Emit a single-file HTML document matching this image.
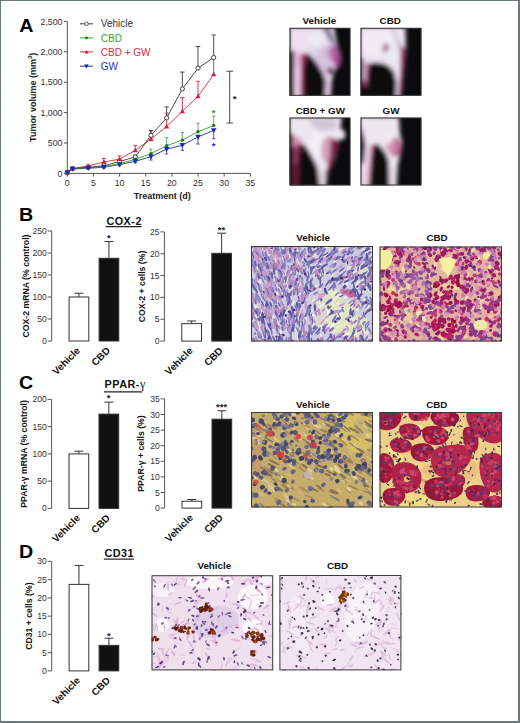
<!DOCTYPE html>
<html><head><meta charset="utf-8"><style>
html,body{margin:0;padding:0;background:#fff;}
body{width:520px;height:723px;overflow:hidden;}
svg{display:block;}
</style></head><body>
<svg width="520" height="723" viewBox="0 0 520 723" font-family="Liberation Sans, sans-serif">
<rect x="0" y="0" width="520" height="723" fill="#fff"/>
<text transform="translate(19.2,31.6) scale(1.08,1)" font-size="18.2" font-weight="bold" fill="#000">A</text>
<text transform="translate(19.0,220.9) scale(1.08,1)" font-size="18.2" font-weight="bold" fill="#000">B</text>
<text transform="translate(18.9,388.7) scale(1.08,1)" font-size="18.2" font-weight="bold" fill="#000">C</text>
<text transform="translate(19.0,557.9) scale(1.08,1)" font-size="18.2" font-weight="bold" fill="#000">D</text>
<path d="M67.3 21.5 V173.4 H250.3" fill="none" stroke="#555" stroke-width="1"/>
<path d="M63.8 173.40 H67.3" stroke="#555" stroke-width="1"/>
<text x="62.50" y="176.50" font-size="8.8" text-anchor="end" fill="#333" >0</text>
<path d="M63.8 143.00 H67.3" stroke="#555" stroke-width="1"/>
<text x="62.50" y="146.10" font-size="8.8" text-anchor="end" fill="#333" >500</text>
<path d="M63.8 112.60 H67.3" stroke="#555" stroke-width="1"/>
<text x="62.50" y="115.70" font-size="8.8" text-anchor="end" fill="#333" >1,000</text>
<path d="M63.8 82.20 H67.3" stroke="#555" stroke-width="1"/>
<text x="62.50" y="85.30" font-size="8.8" text-anchor="end" fill="#333" >1,500</text>
<path d="M63.8 51.80 H67.3" stroke="#555" stroke-width="1"/>
<text x="62.50" y="54.90" font-size="8.8" text-anchor="end" fill="#333" >2,000</text>
<path d="M63.8 21.40 H67.3" stroke="#555" stroke-width="1"/>
<text x="62.50" y="24.50" font-size="8.8" text-anchor="end" fill="#333" >2,500</text>
<path d="M67.30 173.4 V176.6" stroke="#555" stroke-width="1"/>
<text x="67.30" y="185.60" font-size="8.8" text-anchor="middle" fill="#333" >0</text>
<path d="M93.44 173.4 V176.6" stroke="#555" stroke-width="1"/>
<text x="93.44" y="185.60" font-size="8.8" text-anchor="middle" fill="#333" >5</text>
<path d="M119.59 173.4 V176.6" stroke="#555" stroke-width="1"/>
<text x="119.59" y="185.60" font-size="8.8" text-anchor="middle" fill="#333" >10</text>
<path d="M145.74 173.4 V176.6" stroke="#555" stroke-width="1"/>
<text x="145.74" y="185.60" font-size="8.8" text-anchor="middle" fill="#333" >15</text>
<path d="M171.88 173.4 V176.6" stroke="#555" stroke-width="1"/>
<text x="171.88" y="185.60" font-size="8.8" text-anchor="middle" fill="#333" >20</text>
<path d="M198.02 173.4 V176.6" stroke="#555" stroke-width="1"/>
<text x="198.02" y="185.60" font-size="8.8" text-anchor="middle" fill="#333" >25</text>
<path d="M224.17 173.4 V176.6" stroke="#555" stroke-width="1"/>
<text x="224.17" y="185.60" font-size="8.8" text-anchor="middle" fill="#333" >30</text>
<path d="M250.31 173.4 V176.6" stroke="#555" stroke-width="1"/>
<text x="250.31" y="185.60" font-size="8.8" text-anchor="middle" fill="#333" >35</text>
<text x="162.20" y="199.30" font-size="9" font-weight="bold" text-anchor="middle" fill="#222" >Treatment (d)</text>
<text transform="translate(35.6,97.3) rotate(-90)" font-size="9" font-weight="bold" text-anchor="middle" fill="#222">Tumor volume (mm<tspan font-size="6" dy="-3.5">3</tspan><tspan dy="3.5">)</tspan></text>
<path d="M88.22 168.23 V169.14 M86.52 169.14 H89.92" stroke="#2030a8" stroke-width="0.8" fill="none"/>
<path d="M103.90 167.32 V168.23 M102.20 168.23 H105.60" stroke="#2030a8" stroke-width="0.8" fill="none"/>
<path d="M119.59 164.58 V165.80 M117.89 165.80 H121.29" stroke="#2030a8" stroke-width="0.8" fill="none"/>
<path d="M135.28 161.24 V162.76 M133.58 162.76 H136.98" stroke="#2030a8" stroke-width="0.8" fill="none"/>
<path d="M150.96 156.68 V160.08 M149.26 160.08 H152.66" stroke="#2030a8" stroke-width="0.8" fill="none"/>
<path d="M166.65 149.08 V154.00 M164.95 154.00 H168.35" stroke="#2030a8" stroke-width="0.8" fill="none"/>
<path d="M182.34 145.25 V150.36 M180.64 150.36 H184.04" stroke="#2030a8" stroke-width="0.8" fill="none"/>
<path d="M198.02 136.92 V144.03 M196.32 144.03 H199.72" stroke="#2030a8" stroke-width="0.8" fill="none"/>
<path d="M213.71 130.35 V138.74 M212.01 138.74 H215.41" stroke="#2030a8" stroke-width="0.8" fill="none"/>
<polyline points="67.30,172.49 72.53,169.02 88.22,168.23 103.90,167.32 119.59,164.58 135.28,161.24 150.96,156.68 166.65,149.08 182.34,145.25 198.02,136.92 213.71,130.35" fill="none" stroke="#2030a8" stroke-width="0.9"/>
<path d="M88.22 167.62 V166.71 M86.52 166.71 H89.92" stroke="#3a9a3a" stroke-width="0.8" fill="none"/>
<path d="M103.90 166.71 V165.50 M102.20 165.50 H105.60" stroke="#3a9a3a" stroke-width="0.8" fill="none"/>
<path d="M119.59 163.67 V162.15 M117.89 162.15 H121.29" stroke="#3a9a3a" stroke-width="0.8" fill="none"/>
<path d="M135.28 159.29 V157.29 M133.58 157.29 H136.98" stroke="#3a9a3a" stroke-width="0.8" fill="none"/>
<path d="M150.96 153.58 V149.20 M149.26 149.20 H152.66" stroke="#3a9a3a" stroke-width="0.8" fill="none"/>
<path d="M166.65 145.68 V137.71 M164.95 137.71 H168.35" stroke="#3a9a3a" stroke-width="0.8" fill="none"/>
<path d="M182.34 140.14 V132.66 M180.64 132.66 H184.04" stroke="#3a9a3a" stroke-width="0.8" fill="none"/>
<path d="M198.02 131.75 V123.24 M196.32 123.24 H199.72" stroke="#3a9a3a" stroke-width="0.8" fill="none"/>
<path d="M213.71 125.55 V116.19 M212.01 116.19 H215.41" stroke="#3a9a3a" stroke-width="0.8" fill="none"/>
<polyline points="67.30,172.49 72.53,168.84 88.22,167.62 103.90,166.71 119.59,163.67 135.28,159.29 150.96,153.58 166.65,145.68 182.34,140.14 198.02,131.75 213.71,125.55" fill="none" stroke="#3a9a3a" stroke-width="0.9"/>
<path d="M88.22 165.98 V164.89 M86.22 164.89 H90.22" stroke="#d8283c" stroke-width="0.9" fill="none"/>
<path d="M103.90 161.97 V158.50 M101.90 158.50 H105.90" stroke="#d8283c" stroke-width="0.9" fill="none"/>
<path d="M119.59 159.11 V155.89 M117.59 155.89 H121.59" stroke="#d8283c" stroke-width="0.9" fill="none"/>
<path d="M135.28 150.30 V145.43 M133.28 145.43 H137.28" stroke="#d8283c" stroke-width="0.9" fill="none"/>
<path d="M150.96 139.05 V130.84 M148.96 130.84 H152.96" stroke="#d8283c" stroke-width="0.9" fill="none"/>
<path d="M166.65 126.58 V113.21 M164.65 113.21 H168.65" stroke="#d8283c" stroke-width="0.9" fill="none"/>
<path d="M182.34 111.26 V97.58 M180.34 97.58 H184.34" stroke="#d8283c" stroke-width="0.9" fill="none"/>
<path d="M198.02 96.37 V81.29 M196.02 81.29 H200.02" stroke="#d8283c" stroke-width="0.9" fill="none"/>
<path d="M213.71 74.36 V57.52 M211.71 57.52 H215.71" stroke="#d8283c" stroke-width="0.9" fill="none"/>
<polyline points="67.30,172.49 72.53,168.54 88.22,165.98 103.90,161.97 119.59,159.11 135.28,150.30 150.96,139.05 166.65,126.58 182.34,111.26 198.02,96.37 213.71,74.36" fill="none" stroke="#d8283c" stroke-width="0.9"/>
<path d="M72.53 168.54 V167.62 M70.33 167.62 H74.73" stroke="#3a3a3a" stroke-width="0.9" fill="none"/>
<path d="M88.22 167.32 V166.41 M86.02 166.41 H90.42" stroke="#3a3a3a" stroke-width="0.9" fill="none"/>
<path d="M103.90 165.80 V164.58 M101.70 164.58 H106.10" stroke="#3a3a3a" stroke-width="0.9" fill="none"/>
<path d="M119.59 161.54 V160.33 M117.39 160.33 H121.79" stroke="#3a3a3a" stroke-width="0.9" fill="none"/>
<path d="M135.28 156.98 V155.16 M133.08 155.16 H137.48" stroke="#3a3a3a" stroke-width="0.9" fill="none"/>
<path d="M150.96 135.40 V130.48 M148.76 130.48 H153.16" stroke="#3a3a3a" stroke-width="0.9" fill="none"/>
<path d="M166.65 117.89 V106.95 M164.45 106.95 H168.85" stroke="#3a3a3a" stroke-width="0.9" fill="none"/>
<path d="M182.34 88.89 V72.05 M180.14 72.05 H184.54" stroke="#3a3a3a" stroke-width="0.9" fill="none"/>
<path d="M198.02 68.16 V46.51 M195.82 46.51 H200.22" stroke="#3a3a3a" stroke-width="0.9" fill="none"/>
<path d="M213.71 57.52 V34.96 M211.51 34.96 H215.91" stroke="#3a3a3a" stroke-width="0.9" fill="none"/>
<polyline points="67.30,172.49 72.53,168.54 88.22,167.32 103.90,165.80 119.59,161.54 135.28,156.98 150.96,135.40 166.65,117.89 182.34,88.89 198.02,68.16 213.71,57.52" fill="none" stroke="#3a3a3a" stroke-width="0.9"/>
<circle cx="67.30" cy="172.49" r="2.1" fill="#fff" stroke="#333" stroke-width="0.9"/>
<circle cx="72.53" cy="168.54" r="2.1" fill="#fff" stroke="#333" stroke-width="0.9"/>
<circle cx="88.22" cy="167.32" r="2.1" fill="#fff" stroke="#333" stroke-width="0.9"/>
<circle cx="103.90" cy="165.80" r="2.1" fill="#fff" stroke="#333" stroke-width="0.9"/>
<circle cx="119.59" cy="161.54" r="2.1" fill="#fff" stroke="#333" stroke-width="0.9"/>
<circle cx="135.28" cy="156.98" r="2.1" fill="#fff" stroke="#333" stroke-width="0.9"/>
<circle cx="150.96" cy="135.40" r="2.1" fill="#fff" stroke="#333" stroke-width="0.9"/>
<circle cx="166.65" cy="117.89" r="2.1" fill="#fff" stroke="#333" stroke-width="0.9"/>
<circle cx="182.34" cy="88.89" r="2.1" fill="#fff" stroke="#333" stroke-width="0.9"/>
<circle cx="198.02" cy="68.16" r="2.1" fill="#fff" stroke="#333" stroke-width="0.9"/>
<circle cx="213.71" cy="57.52" r="2.1" fill="#fff" stroke="#333" stroke-width="0.9"/>
<path d="M64.70 174.49 H69.90 L67.30 169.89 Z" fill="#d0203a"/>
<path d="M69.93 170.54 H75.13 L72.53 165.94 Z" fill="#d0203a"/>
<path d="M85.62 167.98 H90.82 L88.22 163.38 Z" fill="#d0203a"/>
<path d="M101.30 163.97 H106.50 L103.90 159.37 Z" fill="#d0203a"/>
<path d="M116.99 161.11 H122.19 L119.59 156.51 Z" fill="#d0203a"/>
<path d="M132.68 152.30 H137.88 L135.28 147.70 Z" fill="#d0203a"/>
<path d="M148.36 141.05 H153.56 L150.96 136.45 Z" fill="#d0203a"/>
<path d="M164.05 128.58 H169.25 L166.65 123.98 Z" fill="#d0203a"/>
<path d="M179.74 113.26 H184.94 L182.34 108.66 Z" fill="#d0203a"/>
<path d="M195.42 98.37 H200.62 L198.02 93.77 Z" fill="#d0203a"/>
<path d="M211.11 76.36 H216.31 L213.71 71.76 Z" fill="#d0203a"/>
<circle cx="67.30" cy="172.49" r="1.7" fill="#1a7a1a"/>
<circle cx="72.53" cy="168.84" r="1.7" fill="#1a7a1a"/>
<circle cx="88.22" cy="167.62" r="1.7" fill="#1a7a1a"/>
<circle cx="103.90" cy="166.71" r="1.7" fill="#1a7a1a"/>
<circle cx="119.59" cy="163.67" r="1.7" fill="#1a7a1a"/>
<circle cx="135.28" cy="159.29" r="1.7" fill="#1a7a1a"/>
<circle cx="150.96" cy="153.58" r="1.7" fill="#1a7a1a"/>
<circle cx="166.65" cy="145.68" r="1.7" fill="#1a7a1a"/>
<circle cx="182.34" cy="140.14" r="1.7" fill="#1a7a1a"/>
<circle cx="198.02" cy="131.75" r="1.7" fill="#1a7a1a"/>
<circle cx="213.71" cy="125.55" r="1.7" fill="#1a7a1a"/>
<path d="M64.50 170.29 H70.10 L67.30 175.29 Z" fill="#1828c8"/>
<path d="M69.73 166.82 H75.33 L72.53 171.82 Z" fill="#1828c8"/>
<path d="M85.42 166.03 H91.02 L88.22 171.03 Z" fill="#1828c8"/>
<path d="M101.10 165.12 H106.70 L103.90 170.12 Z" fill="#1828c8"/>
<path d="M116.79 162.38 H122.39 L119.59 167.38 Z" fill="#1828c8"/>
<path d="M132.48 159.04 H138.08 L135.28 164.04 Z" fill="#1828c8"/>
<path d="M148.16 154.48 H153.76 L150.96 159.48 Z" fill="#1828c8"/>
<path d="M163.85 146.88 H169.45 L166.65 151.88 Z" fill="#1828c8"/>
<path d="M179.54 143.05 H185.14 L182.34 148.05 Z" fill="#1828c8"/>
<path d="M195.22 134.72 H200.82 L198.02 139.72 Z" fill="#1828c8"/>
<path d="M210.91 128.15 H216.51 L213.71 133.15 Z" fill="#1828c8"/>
<text x="213.71" y="116.09" font-size="9.5" font-weight="bold" text-anchor="middle" fill="#3a9a3a" >*</text>
<text x="213.71" y="149.16" font-size="9.5" font-weight="bold" text-anchor="middle" fill="#2030b8" >*</text>
<path d="M226.5 71.2 H233 M229.7 71.2 V123 M226.5 123 H233" stroke="#444" stroke-width="1" fill="none"/>
<text x="234.60" y="102.40" font-size="9.5" font-weight="bold" text-anchor="middle" fill="#222" >*</text>
<path d="M80 23.8 H93" stroke="#3a3a3a" stroke-width="1"/>
<circle cx="86.5" cy="23.8" r="1.8" fill="#fff" stroke="#333" stroke-width="0.8"/>
<text x="100.80" y="27.40" font-size="10" text-anchor="start" fill="#333" >Vehicle</text>
<path d="M80 37.9 H93" stroke="#3a9a3a" stroke-width="1"/>
<circle cx="86.5" cy="37.9" r="1.3" fill="#1a6a1a"/>
<text x="100.80" y="41.50" font-size="10" text-anchor="start" fill="#3a9a3a" >CBD</text>
<path d="M80 51.9 H93" stroke="#d8283c" stroke-width="1"/>
<path d="M84.5 53.4 H88.5 L86.5 49.9 Z" fill="#c0203a"/>
<text x="100.80" y="55.50" font-size="10" text-anchor="start" fill="#d0304a" >CBD + GW</text>
<path d="M80 66.2 H93" stroke="#2030a8" stroke-width="1"/>
<path d="M84.3 64.5 H88.7 L86.5 68.4 Z" fill="#1020b0"/>
<text x="100.80" y="69.80" font-size="10" text-anchor="start" fill="#2838a8" >GW</text>
<filter id="pblur" x="-10%" y="-10%" width="120%" height="120%"><feGaussianBlur stdDeviation="1.9"/></filter>
<clipPath id="clip_veh"><rect x="0" y="0" width="61" height="68"/></clipPath>
<g transform="translate(289.5,27.8)" clip-path="url(#clip_veh)">
<rect x="0" y="0" width="61" height="68" fill="#0b0b0d"/>
<g filter="url(#pblur)">
<g transform="translate(-0.5,-0.8)">
<path d="M0,0 L44.7,0 L47.7,15.5 L51.3,27.4 L50,35.8 L45.3,45.3 L42.9,53.7 L41.7,72 L0,72 Z" fill="#e2d6ec"/>
<path d="M0,0 L22,0 L20,26 L0,24 Z" fill="#eee0ee"/>
<ellipse cx="28" cy="12" rx="8" ry="9" fill="#f0ecf6" opacity="0.8"/>
<path d="M33.5,0 L39.5,0 L47,15 L43,17 Z" fill="#6a5a80"/>
<path d="M40,0 L44.7,0 L47.7,15.5 L46,14 Z" fill="#eae6f2"/>
<ellipse cx="36" cy="33" rx="10" ry="13" fill="#d0b4dc" opacity="0.6"/>
<ellipse cx="47.5" cy="29" rx="5" ry="12" fill="#9a3080" opacity="0.85" transform="rotate(-10 47.5 29)"/>
<ellipse cx="43" cy="26" rx="6" ry="8" fill="#b070a8" opacity="0.5"/>
<ellipse cx="41.5" cy="44" rx="3.5" ry="4" fill="#5a1a4a" opacity="0.85"/>
<path d="M4.5,24 L14,26 L13,72 L4.5,72 Z" fill="#e4b8d8"/>
<path d="M6.5,40 L10.5,40 L10.5,72 L6.5,72 Z" fill="#f0d8ec" opacity="0.7"/>
<path d="M-3,22 L5,24 L5,72 L-3,72 Z" fill="#0b0b0d"/>
<path d="M12,27 L19,26.2 L15.5,39 L14.5,72 L11.5,72 Z" fill="#8a2448"/>
<path d="M19,26.2 L23.8,31 L29.8,39.3 L34.6,47.7 L37,54.8 L35.8,72 L14.5,72 L15.3,39.3 Z" fill="#0b0b0d"/>
<path d="M36.5,52 L42.5,52 L41.7,72 L36,72 Z" fill="#dcc4dc"/>
</g>
</g>
</g>
<rect x="290.0" y="28.3" width="60" height="67" fill="none" stroke="#3a3a3a" stroke-width="1"/>
<text x="319.40" y="24.00" font-size="9.8" font-weight="bold" text-anchor="middle" fill="#111" >Vehicle</text>
<clipPath id="clip_cbd"><rect x="0" y="0" width="61" height="68"/></clipPath>
<g transform="translate(360.5,27.8)" clip-path="url(#clip_cbd)">
<rect x="0" y="0" width="61" height="68" fill="#0b0b0d"/>
<g filter="url(#pblur)">
<g transform="translate(-1,-0.8)">
<path d="M0,0 L45.9,0 L46.5,23.8 L45.3,35.8 L44.1,47.7 L41.7,72 L0,72 Z" fill="#ece4f0"/>
<ellipse cx="18" cy="14" rx="16" ry="14" fill="#f4ecf4" opacity="0.8"/>
<path d="M41,18 L46.5,22 L45.3,35.8 L44.1,47.7 L41.7,72 L39,72 L41,40 Z" fill="#8c2c4c"/>
<path d="M33.4,1 L41.7,21.5 L40.5,22 L32.5,1 Z" fill="#8a8090"/>
<ellipse cx="26.5" cy="21.5" rx="3.5" ry="5" fill="#a06090" opacity="0.9"/>
<ellipse cx="32" cy="28" rx="6" ry="7" fill="#e6ecf6"/>
<path d="M3,31 L9.5,36 L7.2,72 L3,72 Z" fill="#e8c4dc"/>
<path d="M6,36 L9.5,36 L8.5,56 L6,56 Z" fill="#a05078" opacity="0.8"/>
<path d="M3,53 L8.5,53 L7.2,60 L3,60 Z" fill="#904068"/>
<path d="M-3,30 L3.5,31 L3.5,72 L-3,72 Z" fill="#0b0b0d"/>
<path d="M-3,60 L10,59 L10,72 L-3,72 Z" fill="#0b0b0d"/>
<path d="M9.5,37 L15.5,35.2 L23.8,36.4 L29.8,39.3 L34.6,45.3 L37,54.8 L36.4,72 L7.2,72 L8.3,47.7 Z" fill="#0b0b0d"/>
</g>
</g>
</g>
<rect x="361.0" y="28.3" width="60" height="67" fill="none" stroke="#3a3a3a" stroke-width="1"/>
<text x="390.20" y="23.90" font-size="9.8" font-weight="bold" text-anchor="middle" fill="#111" >CBD</text>
<clipPath id="clip_cbdgw"><rect x="0" y="0" width="61" height="68"/></clipPath>
<g transform="translate(289.5,117.5)" clip-path="url(#clip_cbdgw)">
<rect x="0" y="0" width="61" height="68" fill="#0b0b0d"/>
<g filter="url(#pblur)">
<g transform="translate(-0.5,-1.3)">
<path d="M0,0 L53,0 L51.3,12 L56,15 L56,22.6 L50,23.8 L47.7,35.8 L43,50 L38.2,59.6 L37,72 L0,72 Z" fill="#ece6ee"/>
<path d="M18,3 L46,2 L47,13 L30,15 Z" fill="#cabed2" opacity="0.8"/>
<ellipse cx="28" cy="28" rx="8" ry="12" fill="#f4f0f4" opacity="0.9"/>
<ellipse cx="40" cy="34" rx="8" ry="14" fill="#c888a8" opacity="0.75"/>
<path d="M42,22 L50,23.8 L47.7,35.8 L43,50 L38.2,59.6 L36,60 L41,40 Z" fill="#7a1c40"/>
<path d="M-3,14 L4,18 L4,72 L-3,72 Z" fill="#141416"/>
<path d="M4,20 L12,25 L12,72 L4,72 Z" fill="#5e1a36"/>
<path d="M4,19 L10,21 L13,26 L4,32 Z" fill="#d890b4"/>
<path d="M5,30 L9,29 L8,48 L5,48 Z" fill="#a04870" opacity="0.8"/>
<path d="M10,28 L14.3,27.4 L11,40 L9.5,72 L8,72 Z" fill="#5a1430"/>
<path d="M14.3,27.4 L19,33.4 L23.8,41.7 L28.6,51.3 L31,72 L9.5,72 L11,40 Z" fill="#0b0b0d"/>
<path d="M31,55 L37,55 L37,72 L31,72 Z" fill="#e0ccd8"/>
</g>
</g>
</g>
<rect x="290.0" y="118.0" width="60" height="67" fill="none" stroke="#3a3a3a" stroke-width="1"/>
<text x="320.30" y="113.60" font-size="9.8" font-weight="bold" text-anchor="middle" fill="#111" >CBD + GW</text>
<clipPath id="clip_gw"><rect x="0" y="0" width="61" height="68"/></clipPath>
<g transform="translate(360.5,117.5)" clip-path="url(#clip_gw)">
<rect x="0" y="0" width="61" height="68" fill="#0b0b0d"/>
<g filter="url(#pblur)">
<g transform="translate(-1,-1.3)">
<path d="M0,0 L39.3,0 L40.5,17.9 L42.9,26.2 L40.5,39.4 L38.2,50 L37,72 L0,72 Z" fill="#ede6ee"/>
<ellipse cx="36" cy="31" rx="6.5" ry="10" fill="#b85080" opacity="0.8"/>
<ellipse cx="31" cy="30" rx="5" ry="7" fill="#d8a0c0" opacity="0.7"/>
<ellipse cx="29" cy="22" rx="5" ry="5" fill="#f4eef4" opacity="0.8"/>
<path d="M-3,9 L1,10 Q7,25 6,35 L4,47 L-3,50 Z" fill="#0b0b0d"/>
<path d="M6,30 L13,28 L17.9,27.4 L13.1,35.8 L9.5,72 L2,72 L4,47 Z" fill="#ecd0e2"/>
<path d="M12,29 L17.9,27.4 L13.1,35.8 L10.5,72 L8.5,72 Z" fill="#8a2448"/>
<path d="M17.9,27.4 L23.8,33.4 L28.6,41.7 L29.8,53.7 L30.4,72 L10.5,72 L13.1,35.8 Z" fill="#0b0b0d"/>
<path d="M29.5,50 L38.2,50 L37,72 L30,72 Z" fill="#e6dae6"/>
</g>
</g>
</g>
<rect x="361.0" y="118.0" width="60" height="67" fill="none" stroke="#3a3a3a" stroke-width="1"/>
<text x="391.00" y="113.60" font-size="9.8" font-weight="bold" text-anchor="middle" fill="#111" >GW</text>
<text x="106.40" y="224.60" font-size="10.8" font-weight="bold" letter-spacing="0.5" fill="#111">COX-2</text>
<path d="M105.8 226.60 H141.6" stroke="#222" stroke-width="1.2"/>
<path d="M51.7 231.00 V341.00" stroke="#555" stroke-width="1" fill="none"/>
<path d="M47.7 341.00 H51.7" stroke="#555" stroke-width="1"/>
<text x="46.90" y="344.00" font-size="8.6" text-anchor="end" fill="#333" >0</text>
<path d="M47.7 319.00 H51.7" stroke="#555" stroke-width="1"/>
<text x="46.90" y="322.00" font-size="8.6" text-anchor="end" fill="#333" >50</text>
<path d="M47.7 297.00 H51.7" stroke="#555" stroke-width="1"/>
<text x="46.90" y="300.00" font-size="8.6" text-anchor="end" fill="#333" >100</text>
<path d="M47.7 275.00 H51.7" stroke="#555" stroke-width="1"/>
<text x="46.90" y="278.00" font-size="8.6" text-anchor="end" fill="#333" >150</text>
<path d="M47.7 253.00 H51.7" stroke="#555" stroke-width="1"/>
<text x="46.90" y="256.00" font-size="8.6" text-anchor="end" fill="#333" >200</text>
<path d="M47.7 231.00 H51.7" stroke="#555" stroke-width="1"/>
<text x="46.90" y="234.00" font-size="8.6" text-anchor="end" fill="#333" >250</text>
<path d="M78.95 297.00 V293.22 M74.45 293.22 H83.45" stroke="#333" stroke-width="1" fill="none"/>
<rect x="69.10" y="297.00" width="19.70" height="44.00" fill="#fff" stroke="#333" stroke-width="1"/>
<path d="M108.95 258.28 V241.56 M104.45 241.56 H113.45" stroke="#333" stroke-width="1" fill="none"/>
<rect x="99.10" y="258.28" width="19.70" height="82.72" fill="#111" stroke="#333" stroke-width="1"/>
<text x="108.75" y="240.50" font-size="9.5" font-weight="bold" text-anchor="middle" fill="#222" >*</text>
<text transform="translate(80.75,351.20) rotate(-45)" font-size="10" font-weight="bold" text-anchor="end" fill="#111">Vehicle</text>
<text transform="translate(110.75,351.20) rotate(-45)" font-size="10" font-weight="bold" text-anchor="end" fill="#111">CBD</text>
<text transform="translate(28.60,286.00) rotate(-90)" font-size="8.7" font-weight="bold" text-anchor="middle" fill="#111">COX-2 mRNA (% control)</text>
<path d="M164.4 231.90 V341.10" stroke="#555" stroke-width="1" fill="none"/>
<path d="M160.4 341.10 H164.4" stroke="#555" stroke-width="1"/>
<text x="159.60" y="344.10" font-size="8.6" text-anchor="end" fill="#333" >0</text>
<path d="M160.4 319.26 H164.4" stroke="#555" stroke-width="1"/>
<text x="159.60" y="322.26" font-size="8.6" text-anchor="end" fill="#333" >5</text>
<path d="M160.4 297.42 H164.4" stroke="#555" stroke-width="1"/>
<text x="159.60" y="300.42" font-size="8.6" text-anchor="end" fill="#333" >10</text>
<path d="M160.4 275.58 H164.4" stroke="#555" stroke-width="1"/>
<text x="159.60" y="278.58" font-size="8.6" text-anchor="end" fill="#333" >15</text>
<path d="M160.4 253.74 H164.4" stroke="#555" stroke-width="1"/>
<text x="159.60" y="256.74" font-size="8.6" text-anchor="end" fill="#333" >20</text>
<path d="M160.4 231.90 H164.4" stroke="#555" stroke-width="1"/>
<text x="159.60" y="234.90" font-size="8.6" text-anchor="end" fill="#333" >25</text>
<path d="M191.65 323.63 V321.01 M187.15 321.01 H196.15" stroke="#333" stroke-width="1" fill="none"/>
<rect x="181.80" y="323.63" width="19.70" height="17.47" fill="#fff" stroke="#333" stroke-width="1"/>
<path d="M221.65 253.30 V233.21 M217.15 233.21 H226.15" stroke="#333" stroke-width="1" fill="none"/>
<rect x="211.80" y="253.30" width="19.70" height="87.80" fill="#111" stroke="#333" stroke-width="1"/>
<text x="221.45" y="233.10" font-size="9.5" font-weight="bold" text-anchor="middle" fill="#222" >**</text>
<text transform="translate(193.45,351.30) rotate(-45)" font-size="10" font-weight="bold" text-anchor="end" fill="#111">Vehicle</text>
<text transform="translate(223.45,351.30) rotate(-45)" font-size="10" font-weight="bold" text-anchor="end" fill="#111">CBD</text>
<text transform="translate(145.20,286.50) rotate(-90)" font-size="8.7" font-weight="bold" text-anchor="middle" fill="#111">COX-2 + cells (%)</text>
<filter id="hbbveh" x="-5%" y="-5%" width="110%" height="110%"><feGaussianBlur stdDeviation="0.6"/></filter>
<clipPath id="hcbveh"><rect x="251" y="246" width="122" height="95.5"/></clipPath>
<g clip-path="url(#hcbveh)">
<rect x="251" y="246" width="122" height="95.5" fill="#d0cce2"/>
<g filter="url(#hbbveh)">
<ellipse cx="268" cy="262" rx="18" ry="16" fill="#c8a8d0" opacity="0.7" transform="rotate(0 268 262)"/>
<ellipse cx="345" cy="262" rx="26" ry="16" fill="#c8c4d8" opacity="0.6" transform="rotate(0 345 262)"/>
<ellipse cx="340" cy="318" rx="14" ry="16" fill="#e4ecbc" opacity="0.8" transform="rotate(20 340 318)"/>
<ellipse cx="356" cy="326" rx="12" ry="12" fill="#e4ecbc" opacity="0.7" transform="rotate(0 356 326)"/>
<ellipse cx="330" cy="300" rx="14" ry="9" fill="#e4eabc" opacity="0.7" transform="rotate(-30 330 300)"/>
<ellipse cx="352" cy="306" rx="9" ry="7" fill="#e4eabc" opacity="0.6" transform="rotate(0 352 306)"/>
<ellipse cx="364" cy="278" rx="8" ry="14" fill="#e0e8bc" opacity="0.6" transform="rotate(0 364 278)"/>
<ellipse cx="318" cy="322" rx="8" ry="12" fill="#dde4c0" opacity="0.5" transform="rotate(30 318 322)"/>
<ellipse cx="300" cy="335" rx="10" ry="6" fill="#dde4c0" opacity="0.5" transform="rotate(0 300 335)"/>
<path fill="#f2f2e0" d="M306.6 297.5a2.6 .8 110 1 0 -1.8 4.8a2.6 .8 110 1 0 1.8 -4.8M276.7 242a3.6 .8 68 1 0 2.6 6.6a3.6 .8 68 1 0 -2.6 -6.6M298 304.6a2.5 .8 113 1 0 -2 4.5a2.5 .8 113 1 0 2 -4.5M298.9 263.4a4.6 .7 83 1 0 1.2 9.2a4.6 .7 83 1 0 -1.2 -9.2M333 273.2a3.2 .6 140 1 0 4.9 -4.2a3.2 .6 140 1 0 -4.9 4.2M342.9 299.1a3.2 .9 147 1 0 5.3 -3.4a3.2 .9 147 1 0 -5.3 3.4M368.9 253.8a3.6 .9 130 1 0 4.6 -5.5a3.6 .9 130 1 0 -4.6 5.5M320.2 271.4a2.9 .6 96 1 0 -.6 5.8a2.9 .6 96 1 0 .6 -5.8M367.9 286.2a3.4 .6 76 1 0 1.6 6.6a3.4 .6 76 1 0 -1.6 -6.6M304.1 323.2a3.3 .5 105 1 0 -1.6 6.3a3.3 .5 105 1 0 1.6 -6.3M278.9 312.4a2.7 .8 56 1 0 3 4.5a2.7 .8 56 1 0 -3 -4.5M337.8 316.7a3.6 .9 142 1 0 5.7 -4.4a3.6 .9 142 1 0 -5.7 4.4M314.4 266.4a2.7 .9 141 1 0 4.2 -3.4a2.7 .9 141 1 0 -4.2 3.4M349.1 337.3a4.3 .6 152 1 0 7.7 -4a4.3 .6 152 1 0 -7.7 4M294.7 316.3a2.7 .6 104 1 0 -1.3 5.3a2.7 .6 104 1 0 1.3 -5.3M361.3 326.1a3.9 .9 130 1 0 5 -6a3.9 .9 130 1 0 -5 6M333 301a3 .7 137 1 0 4.4 -4.1a3 .7 137 1 0 -4.4 4.1M262.5 328.8a3.3 .9 68 1 0 2.5 6.2a3.3 .9 68 1 0 -2.5 -6.2M286.2 272.7a2.3 .9 87 1 0 .2 4.5a2.3 .9 87 1 0 -.2 -4.5M300.6 254.5a3 .7 71 1 0 1.9 5.6a3 .7 71 1 0 -1.9 -5.6M297.7 337.9a3.2 .6 63 1 0 2.9 5.7a3.2 .6 63 1 0 -2.9 -5.7M367 330.2a4.1 .8 78 1 0 1.7 8.1a4.1 .8 78 1 0 -1.7 -8.1M265.1 254.9a3.9 1 63 1 0 3.6 7a3.9 1 63 1 0 -3.6 -7M372.8 289a3.9 .9 149 1 0 6.7 -4.1a3.9 .9 149 1 0 -6.7 4.1M348.1 269.8a3 .8 129 1 0 3.8 -4.7a3 .8 129 1 0 -3.8 4.7M344.4 337.8a3.7 .6 138 1 0 5.5 -5a3.7 .6 138 1 0 -5.5 5M280.1 328.7a4.7 .8 77 1 0 2.1 9.2a4.7 .8 77 1 0 -2.1 -9.2M352.8 273.6a2.6 .8 140 1 0 3.9 -3.3a2.6 .8 140 1 0 -3.9 3.3M255.9 242.6a2.9 .8 85 1 0 .5 5.8a2.9 .8 85 1 0 -.5 -5.8M341.7 278.7a3.2 .5 61 1 0 3.2 5.6a3.2 .5 61 1 0 -3.2 -5.6M313.6 257.4a3.7 .7 125 1 0 4.2 -6.1a3.7 .7 125 1 0 -4.2 6.1M258.8 331.6a4.6 1 75 1 0 2.4 8.9a4.6 1 75 1 0 -2.4 -8.9M340.4 333.8a2.7 .9 140 1 0 4.1 -3.4a2.7 .9 140 1 0 -4.1 3.4M292.8 287.3a3.6 .6 90 1 0 0 7.2a3.6 .6 90 1 0 -0 -7.2M330.7 336.4a4 .6 131 1 0 5.2 -6.1a4 .6 131 1 0 -5.2 6.1M314.4 287a2.7 .6 155 1 0 4.9 -2.3a2.7 .6 155 1 0 -4.9 2.3M249.3 268.6a3.8 .9 74 1 0 2.1 7.3a3.8 .9 74 1 0 -2.1 -7.3M310.4 319.8a3.7 .8 124 1 0 4.1 -6.1a3.7 .8 124 1 0 -4.1 6.1M363.1 334.4a3.1 .9 97 1 0 -.8 6.2a3.1 .9 97 1 0 .8 -6.2M273.4 274.7a3.4 .7 71 1 0 2.2 6.5a3.4 .7 71 1 0 -2.2 -6.5M320.8 323.4a4.6 .6 142 1 0 7.2 -5.7a4.6 .6 142 1 0 -7.2 5.7M284.2 313.7a2.3 .7 121 1 0 -2.4 4a2.3 .7 121 1 0 2.4 -4M365.7 273.1a3.4 .6 152 1 0 6.1 -3.2a3.4 .6 152 1 0 -6.1 3.2M331.3 269.4a3.4 .6 135 1 0 4.8 -4.9a3.4 .6 135 1 0 -4.8 4.9M311.8 271.4a2.8 .6 66 1 0 2.3 5.1a2.8 .6 66 1 0 -2.3 -5.1M246.8 320.8a4.9 .9 67 1 0 3.8 9a4.9 .9 67 1 0 -3.8 -9M330.4 296.3a4.6 1 145 1 0 7.6 -5.4a4.6 1 145 1 0 -7.6 5.4M293.1 309.2a3.7 .7 66 1 0 3 6.8a3.7 .7 66 1 0 -3 -6.8M329.7 344.1a2.8 .6 148 1 0 4.7 -3a2.8 .6 148 1 0 -4.7 3M278.8 308.8a2.1 .9 75 1 0 1.1 4.2a2.1 .9 75 1 0 -1.1 -4.2M361.5 244.6a4.4 .9 71 1 0 2.9 8.3a4.4 .9 71 1 0 -2.9 -8.3M355.4 286.6a2.7 .7 120 1 0 2.7 -4.6a2.7 .7 120 1 0 -2.7 4.6M252.6 249.9a2.1 .6 80 1 0 .7 4.1a2.1 .6 80 1 0 -.7 -4.1M341.3 336.8a4.5 .9 152 1 0 7.9 -4.2a4.5 .9 152 1 0 -7.9 4.2"/>
<path fill="#eef0d8" d="M327 327.1a3.8 .7 123 1 0 4.1 -6.3a3.8 .7 123 1 0 -4.1 6.3M305.6 316.2a2.2 .6 85 1 0 .4 4.3a2.2 .6 85 1 0 -.4 -4.3M314.3 307.1a4.1 .7 125 1 0 -4.7 6.8a4.1 .7 125 1 0 4.7 -6.8M253.3 240.9a3.4 1 61 1 0 3.3 6a3.4 1 61 1 0 -3.3 -6M297.4 247a2.9 .5 68 1 0 2.2 5.4a2.9 .5 68 1 0 -2.2 -5.4M269.3 340.2a5 .6 72 1 0 3 9.5a5 .6 72 1 0 -3 -9.5M279.2 319.9a2.2 .6 64 1 0 2 4a2.2 .6 64 1 0 -2 -4M317.9 315a2.3 .5 123 1 0 2.5 -3.9a2.3 .5 123 1 0 -2.5 3.9M338.6 250.7a2.8 1 150 1 0 4.9 -2.9a2.8 1 150 1 0 -4.9 2.9M272.2 241.9a2.1 .6 68 1 0 1.6 4a2.1 .6 68 1 0 -1.6 -4M326.9 293.3a3.4 .7 155 1 0 6.1 -2.8a3.4 .7 155 1 0 -6.1 2.8M365.1 328.2a3.9 .7 95 1 0 -.6 7.7a3.9 .7 95 1 0 .6 -7.7M341.7 299.5a2.9 .5 63 1 0 2.6 5.2a2.9 .5 63 1 0 -2.6 -5.2M319.4 276.9a4.1 1 149 1 0 7.1 -4.2a4.1 1 149 1 0 -7.1 4.2M332.8 318.2a2.8 .8 131 1 0 3.7 -4.3a2.8 .8 131 1 0 -3.7 4.3M348 266.4a3.3 .8 99 1 0 -1.1 6.6a3.3 .8 99 1 0 1.1 -6.6M272.4 314.1a2.6 .9 74 1 0 1.4 5.1a2.6 .9 74 1 0 -1.4 -5.1M374.4 340.1a3 .5 73 1 0 1.8 5.8a3 .5 73 1 0 -1.8 -5.8M304.5 295.7a3.3 .5 96 1 0 -.7 6.5a3.3 .5 96 1 0 .7 -6.5M315.8 273.5a3.8 .5 124 1 0 4.3 -6.3a3.8 .5 124 1 0 -4.3 6.3M290.6 274.8a4.6 .8 117 1 0 -4.1 8.1a4.6 .8 117 1 0 4.1 -8.1M302.7 321.6a2.3 .8 116 1 0 -2 4.1a2.3 .8 116 1 0 2 -4.1M272.5 325.1a3.7 .6 83 1 0 .9 7.4a3.7 .6 83 1 0 -.9 -7.4M366.3 300.4a4.4 .9 73 1 0 2.6 8.4a4.4 .9 73 1 0 -2.6 -8.4M320.8 292.9a4.3 1 86 1 0 .6 8.5a4.3 1 86 1 0 -.6 -8.5M374.8 310a3.2 1 141 1 0 4.9 -4a3.2 1 141 1 0 -4.9 4M365 315a4.4 .6 98 1 0 -1.2 8.7a4.4 .6 98 1 0 1.2 -8.7M277.4 312.6a2.6 .5 68 1 0 2 4.8a2.6 .5 68 1 0 -2 -4.8M270.6 264a3.9 .5 82 1 0 1 7.7a3.9 .5 82 1 0 -1 -7.7M364.3 288.1a3.6 .7 151 1 0 6.3 -3.6a3.6 .7 151 1 0 -6.3 3.6M350.2 248.8a2.1 .8 96 1 0 -.4 4.1a2.1 .8 96 1 0 .4 -4.1M352.7 336.8a4.4 .7 138 1 0 6.6 -5.9a4.4 .7 138 1 0 -6.6 5.9M268.9 245.8a2.9 .6 73 1 0 1.8 5.6a2.9 .6 73 1 0 -1.8 -5.6M280.7 294.8a2.6 1 78 1 0 1.1 5.1a2.6 1 78 1 0 -1.1 -5.1M264.4 250.9a4.7 .8 73 1 0 2.7 9a4.7 .8 73 1 0 -2.7 -9M255.6 315.3a4.4 .7 70 1 0 3 8.2a4.4 .7 70 1 0 -3 -8.2M288.2 271.3a3.1 .8 109 1 0 -2 5.8a3.1 .8 109 1 0 2 -5.8M259.6 278.9a4 .5 84 1 0 .8 7.9a4 .5 84 1 0 -.8 -7.9M297.3 311.1a4.6 .9 109 1 0 -2.9 8.7a4.6 .9 109 1 0 2.9 -8.7M340.1 278.4a2.4 .8 125 1 0 2.7 -3.9a2.4 .8 125 1 0 -2.7 3.9M268.9 260a2.3 .5 69 1 0 1.7 4.3a2.3 .5 69 1 0 -1.7 -4.3M259.4 277.4a3.8 .6 79 1 0 1.5 7.5a3.8 .6 79 1 0 -1.5 -7.5M368.6 341.3a3.9 .6 83 1 0 1 7.7a3.9 .6 83 1 0 -1 -7.7M327.6 247.6a3.4 .7 154 1 0 6.1 -3a3.4 .7 154 1 0 -6.1 3M372.6 292.1a2.6 .9 152 1 0 4.6 -2.4a2.6 .9 152 1 0 -4.6 2.4M263 311.6a2.5 .9 68 1 0 1.9 4.7a2.5 .9 68 1 0 -1.9 -4.7M328.9 252.8a2 .8 138 1 0 3 -2.7a2 .8 138 1 0 -3 2.7M372.9 243.9a3.8 .9 73 1 0 2.2 7.3a3.8 .9 73 1 0 -2.2 -7.3M297.4 246.2a3.6 .9 103 1 0 -1.6 6.9a3.6 .9 103 1 0 1.6 -6.9M312.2 302.7a2.5 1 124 1 0 2.7 -4.1a2.5 1 124 1 0 -2.7 4.1M325.8 252.3a4.4 1 79 1 0 1.6 8.7a4.4 1 79 1 0 -1.6 -8.7M287.5 306.9a4.9 .9 116 1 0 -4.2 8.8a4.9 .9 116 1 0 4.2 -8.8M356.5 269.7a4.7 .6 65 1 0 4 8.6a4.7 .6 65 1 0 -4 -8.6M295.7 327.5a2.1 .7 87 1 0 .2 4.1a2.1 .7 87 1 0 -.2 -4.1M362.3 248.6a3.9 .7 123 1 0 4.2 -6.5a3.9 .7 123 1 0 -4.2 6.5M274.8 293.2a2.7 .7 84 1 0 .5 5.4a2.7 .7 84 1 0 -.5 -5.4M261 243.4a3.2 1 77 1 0 1.5 6.3a3.2 1 77 1 0 -1.5 -6.3M289.4 253.5a3.2 .9 72 1 0 2 6.2a3.2 .9 72 1 0 -2 -6.2M278.7 322.7a2.5 .5 83 1 0 .6 5a2.5 .5 83 1 0 -.6 -5M298.7 320.2a4.8 .7 90 1 0 .1 9.6a4.8 .7 90 1 0 -.1 -9.6M329.7 306.9a4.2 .8 126 1 0 5 -6.8a4.2 .8 126 1 0 -5 6.8M313 244.5a2.6 .8 152 1 0 4.7 -2.5a2.6 .8 152 1 0 -4.7 2.5M361.3 332a2.4 .9 140 1 0 3.6 -3a2.4 .9 140 1 0 -3.6 3M310.3 248.5a4.8 .6 141 1 0 7.4 -6.1a4.8 .6 141 1 0 -7.4 6.1"/>
<path fill="#ffffff" d="M275.9 269.7a2.3 .6 78 1 0 1 4.5a2.3 .6 78 1 0 -1 -4.5M298 333.5a4.4 .6 60 1 0 4.3 7.6a4.4 .6 60 1 0 -4.3 -7.6M318.8 286.2a2.3 .7 65 1 0 2 4.3a2.3 .7 65 1 0 -2 -4.3M327.5 247.5a4.5 .6 124 1 0 5.1 -7.4a4.5 .6 124 1 0 -5.1 7.4M370.5 268.3a2.9 .6 149 1 0 4.9 -3a2.9 .6 149 1 0 -4.9 3M319.1 306.8a4.2 .7 155 1 0 7.6 -3.6a4.2 .7 155 1 0 -7.6 3.6M248.5 338.2a2.8 .5 78 1 0 1.1 5.4a2.8 .5 78 1 0 -1.1 -5.4M287.6 309.2a3.5 .6 122 1 0 -3.7 5.9a3.5 .6 122 1 0 3.7 -5.9M283.2 256.5a3.1 .8 101 1 0 -1.2 6.2a3.1 .8 101 1 0 1.2 -6.2M330.8 327.7a2.8 .9 127 1 0 3.3 -4.4a2.8 .9 127 1 0 -3.3 4.4M364.4 248.8a2.6 .9 65 1 0 2.2 4.7a2.6 .9 65 1 0 -2.2 -4.7M312 315a4.8 .7 155 1 0 8.8 -4.1a4.8 .7 155 1 0 -8.8 4.1M373.6 293.1a2.3 .6 83 1 0 .6 4.5a2.3 .6 83 1 0 -.6 -4.5M257.7 331.9a2.3 .9 58 1 0 2.5 3.9a2.3 .9 58 1 0 -2.5 -3.9M269.7 247.4a2.4 .6 56 1 0 2.7 4.1a2.4 .6 56 1 0 -2.7 -4.1M246.3 311.8a3.1 .7 60 1 0 3 5.4a3.1 .7 60 1 0 -3 -5.4M247.5 302.5a3.5 .9 63 1 0 3.2 6.2a3.5 .9 63 1 0 -3.2 -6.2M328.2 246.9a4.9 .8 132 1 0 6.6 -7.3a4.9 .8 132 1 0 -6.6 7.3M298.8 337.8a4.8 .7 113 1 0 -3.8 8.9a4.8 .7 113 1 0 3.8 -8.9M248.5 317.8a4.3 .7 74 1 0 2.4 8.2a4.3 .7 74 1 0 -2.4 -8.2M339.5 270.1a2.4 1 123 1 0 2.7 -4.1a2.4 1 123 1 0 -2.7 4.1M252.5 256.7a2.2 .8 56 1 0 2.5 3.6a2.2 .8 56 1 0 -2.5 -3.6M257.9 322.2a4.3 .8 76 1 0 2 8.4a4.3 .8 76 1 0 -2 -8.4M346.7 279.4a3.5 .9 87 1 0 .4 6.9a3.5 .9 87 1 0 -.4 -6.9M294.3 300.5a2.6 .6 110 1 0 -1.8 4.8a2.6 .6 110 1 0 1.8 -4.8M267.4 316a4.6 .7 71 1 0 2.9 8.6a4.6 .7 71 1 0 -2.9 -8.6M365 253.2a2.5 .9 139 1 0 3.7 -3.2a2.5 .9 139 1 0 -3.7 3.2M352.4 285.3a3.8 .7 121 1 0 3.9 -6.6a3.8 .7 121 1 0 -3.9 6.6M327.5 308.8a4.5 .9 79 1 0 1.7 8.9a4.5 .9 79 1 0 -1.7 -8.9M299.2 283.8a3.3 .5 76 1 0 1.6 6.3a3.3 .5 76 1 0 -1.6 -6.3M320.7 252.7a4.9 .7 138 1 0 7.3 -6.6a4.9 .7 138 1 0 -7.3 6.6M320 333.5a2 .6 65 1 0 1.7 3.6a2 .6 65 1 0 -1.7 -3.6M285.3 273.3a2.4 .8 84 1 0 .5 4.8a2.4 .8 84 1 0 -.5 -4.8M316.1 257.2a4.7 .8 61 1 0 4.6 8.3a4.7 .8 61 1 0 -4.6 -8.3M276.4 290a2.8 .6 72 1 0 1.7 5.3a2.8 .6 72 1 0 -1.7 -5.3M346.9 323a2.8 .6 138 1 0 4.1 -3.7a2.8 .6 138 1 0 -4.1 3.7M370.2 258.4a3.6 1 125 1 0 4.1 -5.9a3.6 1 125 1 0 -4.1 5.9M335.8 297.2a2.4 .6 136 1 0 3.5 -3.4a2.4 .6 136 1 0 -3.5 3.4M275.7 304.2a3.5 .7 68 1 0 2.6 6.4a3.5 .7 68 1 0 -2.6 -6.4M361.7 303.1a3.2 .7 127 1 0 3.8 -5.1a3.2 .7 127 1 0 -3.8 5.1M300.2 268.7a2.1 .6 71 1 0 1.3 4a2.1 .6 71 1 0 -1.3 -4M353.5 331.4a2.1 .8 80 1 0 .7 4.2a2.1 .8 80 1 0 -.7 -4.2M301.8 289.4a2.8 .8 117 1 0 -2.5 4.9a2.8 .8 117 1 0 2.5 -4.9M337.6 302.9a3.9 .6 65 1 0 3.3 7a3.9 .6 65 1 0 -3.3 -7M267.7 250.3a3.3 .6 63 1 0 3 5.9a3.3 .6 63 1 0 -3 -5.9M334.4 262a2.1 .7 132 1 0 2.8 -3.1a2.1 .7 132 1 0 -2.8 3.1M252.8 298.5a4.9 .6 65 1 0 4.2 8.8a4.9 .6 65 1 0 -4.2 -8.8M343.5 283.4a3.8 .8 80 1 0 1.3 7.5a3.8 .8 80 1 0 -1.3 -7.5M308.9 342.7a2.2 1 117 1 0 -2 3.8a2.2 1 117 1 0 2 -3.8"/>
<path fill="#e8ecd0" d="M273.2 265.1a5 .5 79 1 0 1.9 9.8a5 .5 79 1 0 -1.9 -9.8M313.2 345.3a4 .8 136 1 0 5.7 -5.5a4 .8 136 1 0 -5.7 5.5M318.8 259a4.9 .5 152 1 0 8.6 -4.6a4.9 .5 152 1 0 -8.6 4.6M250.4 336.1a3.1 .8 59 1 0 3.2 5.2a3.1 .8 59 1 0 -3.2 -5.2M245.9 295.7a3.4 .8 70 1 0 2.3 6.4a3.4 .8 70 1 0 -2.3 -6.4M292.6 323.4a3.5 .8 79 1 0 1.3 6.9a3.5 .8 79 1 0 -1.3 -6.9M333.5 252.5a3.3 .8 135 1 0 4.6 -4.7a3.3 .8 135 1 0 -4.6 4.7M356.3 310.1a4.4 .6 138 1 0 6.5 -5.9a4.4 .6 138 1 0 -6.5 5.9M365.1 314.5a4.6 .8 76 1 0 2.2 9a4.6 .8 76 1 0 -2.2 -9M345.9 318.5a2.9 .6 63 1 0 2.7 5.2a2.9 .6 63 1 0 -2.7 -5.2M361.2 346.7a3 .8 130 1 0 3.8 -4.6a3 .8 130 1 0 -3.8 4.6M312.3 306.2a4 .9 143 1 0 6.4 -4.8a4 .9 143 1 0 -6.4 4.8M312.9 257.7a3.9 .8 136 1 0 5.6 -5.4a3.9 .8 136 1 0 -5.6 5.4M279.3 243a2.2 .5 62 1 0 2.1 3.9a2.2 .5 62 1 0 -2.1 -3.9M296.8 254.2a3.6 .9 78 1 0 1.5 7.1a3.6 .9 78 1 0 -1.5 -7.1M319.7 324a2.6 .8 60 1 0 2.6 4.6a2.6 .8 60 1 0 -2.6 -4.6M255.7 269a4.6 .6 76 1 0 2.3 9a4.6 .6 76 1 0 -2.3 -9M330.4 278.2a3.3 .9 135 1 0 4.7 -4.7a3.3 .9 135 1 0 -4.7 4.7M248.5 307.7a4.4 .8 79 1 0 1.7 8.6a4.4 .8 79 1 0 -1.7 -8.6M356.7 295.8a4.4 .6 95 1 0 -.8 8.8a4.4 .6 95 1 0 .8 -8.8M254.7 301.5a4.6 .9 78 1 0 1.9 8.9a4.6 .9 78 1 0 -1.9 -8.9M312.6 272.7a3.9 .9 146 1 0 6.5 -4.5a3.9 .9 146 1 0 -6.5 4.5M263 320.2a4.4 .5 79 1 0 1.7 8.6a4.4 .5 79 1 0 -1.7 -8.6M336.6 337.4a4.9 .9 153 1 0 8.6 -4.4a4.9 .9 153 1 0 -8.6 4.4M316.6 255.2a4.8 .8 124 1 0 5.4 -8a4.8 .8 124 1 0 -5.4 8M256.5 265.2a2.3 .9 76 1 0 1.1 4.4a2.3 .9 76 1 0 -1.1 -4.4M320.6 296.2a3.8 .6 100 1 0 -1.3 7.5a3.8 .6 100 1 0 1.3 -7.5M362.7 275.8a4.3 .7 133 1 0 5.8 -6.2a4.3 .7 133 1 0 -5.8 6.2M275 270.6a3.5 1 64 1 0 3 6.3a3.5 1 64 1 0 -3 -6.3M367.3 345.3a4.6 .9 149 1 0 7.9 -4.8a4.6 .9 149 1 0 -7.9 4.8M261 309.2a4.4 .7 77 1 0 2 8.5a4.4 .7 77 1 0 -2 -8.5M244.9 331.7a3 .7 57 1 0 3.2 5a3 .7 57 1 0 -3.2 -5M259.5 283a4.4 .9 71 1 0 2.8 8.3a4.4 .9 71 1 0 -2.8 -8.3M348.1 270.5a4.5 .9 121 1 0 4.7 -7.6a4.5 .9 121 1 0 -4.7 7.6M334.3 330.8a4.1 .9 134 1 0 5.7 -5.9a4.1 .9 134 1 0 -5.7 5.9M244.7 281.6a3.4 1 58 1 0 3.6 5.8a3.4 1 58 1 0 -3.6 -5.8M373.9 309.6a2.8 .8 84 1 0 .5 5.5a2.8 .8 84 1 0 -.5 -5.5M276 285.4a4.8 1 66 1 0 3.9 8.8a4.8 1 66 1 0 -3.9 -8.8M274.6 255a3.7 1 85 1 0 .7 7.4a3.7 1 85 1 0 -.7 -7.4M291.3 317.2a4.5 .7 61 1 0 4.4 7.9a4.5 .7 61 1 0 -4.4 -7.9M358.5 278.3a3.2 .6 87 1 0 .4 6.4a3.2 .6 87 1 0 -.4 -6.4M249.7 255.1a3.2 .7 56 1 0 3.6 5.4a3.2 .7 56 1 0 -3.6 -5.4M329.4 300.1a2.8 .6 149 1 0 4.8 -2.9a2.8 .6 149 1 0 -4.8 2.9M266.1 303.2a3.2 .7 72 1 0 2 6.2a3.2 .7 72 1 0 -2 -6.2M353.9 332.3a2.7 .9 135 1 0 3.8 -3.8a2.7 .9 135 1 0 -3.8 3.8M298.1 252.8a4.4 .6 66 1 0 3.5 8.1a4.4 .6 66 1 0 -3.5 -8.1M360.8 272a2.7 .7 134 1 0 3.7 -3.9a2.7 .7 134 1 0 -3.7 3.9M296.4 265.5a4 .5 122 1 0 -4.2 6.8a4 .5 122 1 0 4.2 -6.8M297.8 245.6a2.6 .6 79 1 0 1 5a2.6 .6 79 1 0 -1 -5M267.5 252.4a2.2 .7 66 1 0 1.8 4a2.2 .7 66 1 0 -1.8 -4M296 307.3a2.9 .5 114 1 0 -2.4 5.4a2.9 .5 114 1 0 2.4 -5.4M301.9 310.8a4.6 .9 115 1 0 -4 8.4a4.6 .9 115 1 0 4 -8.4M313.4 341.1a3.6 .7 88 1 0 .2 7.1a3.6 .7 88 1 0 -.2 -7.1"/>
<path fill="#8480c0" d="M272.7 241.6a2.2 1 70 1 0 1.5 4.1a2.2 1 70 1 0 -1.5 -4.1M295.8 326.8a3.3 .8 62 1 0 3.1 5.9a3.3 .8 62 1 0 -3.1 -5.9M329.4 267.7a3.1 .6 134 1 0 4.4 -4.5a3.1 .6 134 1 0 -4.4 4.5M308.9 280.9a3.2 1.2 125 1 0 -3.7 5.3a3.2 1.2 125 1 0 3.7 -5.3M278 338.1a3.5 1 80 1 0 1.2 6.9a3.5 1 80 1 0 -1.2 -6.9M277.9 288.2a3.7 1 65 1 0 3.1 6.7a3.7 1 65 1 0 -3.1 -6.7M247.8 270.8a3.7 1.2 70 1 0 2.5 6.9a3.7 1.2 70 1 0 -2.5 -6.9M291.1 335.6a2.6 1.1 88 1 0 .1 5.2a2.6 1.1 88 1 0 -.1 -5.2M278.4 295.7a2.5 1.3 71 1 0 1.6 4.6a2.5 1.3 71 1 0 -1.6 -4.6M359.3 341.4a3.7 1 70 1 0 2.6 7a3.7 1 70 1 0 -2.6 -7M364.6 326.1a3.5 .8 133 1 0 4.7 -5.2a3.5 .8 133 1 0 -4.7 5.2M265.6 308.8a3.4 .8 78 1 0 1.4 6.7a3.4 .8 78 1 0 -1.4 -6.7M268.2 256.2a2.8 1.2 75 1 0 1.4 5.4a2.8 1.2 75 1 0 -1.4 -5.4M275.6 299.9a2.2 .8 81 1 0 .7 4.3a2.2 .8 81 1 0 -.7 -4.3M368.8 311.2a3.1 .9 120 1 0 3.2 -5.4a3.1 .9 120 1 0 -3.2 5.4M302.2 325.1a4.4 1 97 1 0 -1.1 8.8a4.4 1 97 1 0 1.1 -8.8M332.5 284a3.6 .9 80 1 0 1.3 7.1a3.6 .9 80 1 0 -1.3 -7.1M316.9 255.2a2.3 1.3 129 1 0 2.9 -3.7a2.3 1.3 129 1 0 -2.9 3.7M342.4 254.6a3.4 .8 122 1 0 3.6 -5.9a3.4 .8 122 1 0 -3.6 5.9M322.1 328a3.8 1 144 1 0 6.1 -4.4a3.8 1 144 1 0 -6.1 4.4M359.2 248.9a2.6 .7 144 1 0 4.2 -3.1a2.6 .7 144 1 0 -4.2 3.1M251.9 337.8a2.2 1 81 1 0 .7 4.4a2.2 1 81 1 0 -.7 -4.4M254.2 286.4a2.3 .7 85 1 0 .4 4.6a2.3 .7 85 1 0 -.4 -4.6M299.7 304.7a4.3 1.1 101 1 0 -1.6 8.4a4.3 1.1 101 1 0 1.6 -8.4M281.4 300.8a4.2 .8 68 1 0 3.2 7.8a4.2 .8 68 1 0 -3.2 -7.8M324.7 305.1a4.5 .9 140 1 0 6.8 -5.8a4.5 .9 140 1 0 -6.8 5.8M283.1 249.9a2.7 .9 103 1 0 -1.2 5.3a2.7 .9 103 1 0 1.2 -5.3M265.1 283.9a4 .9 65 1 0 3.4 7.1a4 .9 65 1 0 -3.4 -7.1M341.9 308.7a2 1 63 1 0 1.9 3.6a2 1 63 1 0 -1.9 -3.6M295 315.2a2.6 1.1 107 1 0 -1.6 5a2.6 1.1 107 1 0 1.6 -5M359.9 279.4a2.4 1.1 142 1 0 3.8 -3a2.4 1.1 142 1 0 -3.8 3M347.4 251.4a3.6 .9 130 1 0 4.6 -5.4a3.6 .9 130 1 0 -4.6 5.4M331.3 273.1a4.3 1 146 1 0 7.2 -4.9a4.3 1 146 1 0 -7.2 4.9M299.9 250.9a3.5 1 108 1 0 -2.1 6.6a3.5 1 108 1 0 2.1 -6.6M254.9 260.6a3.5 1.2 80 1 0 1.3 6.9a3.5 1.2 80 1 0 -1.3 -6.9M368 327.3a3.4 1.1 61 1 0 3.3 6a3.4 1.1 61 1 0 -3.3 -6M289.6 276.3a2.1 .8 71 1 0 1.3 3.9a2.1 .8 71 1 0 -1.3 -3.9M300.2 251.6a2.1 .6 114 1 0 -1.7 3.8a2.1 .6 114 1 0 1.7 -3.8M280 342.6a2.3 1.2 73 1 0 1.4 4.4a2.3 1.2 73 1 0 -1.4 -4.4M251.5 310.3a3 1.2 70 1 0 2.1 5.7a3 1.2 70 1 0 -2.1 -5.7M310.2 333.3a2.9 1 152 1 0 5.1 -2.7a2.9 1 152 1 0 -5.1 2.7M257.6 250.1a2.5 1.1 74 1 0 1.4 4.9a2.5 1.1 74 1 0 -1.4 -4.9M355.8 255.9a2.5 1.2 93 1 0 -.2 4.9a2.5 1.2 93 1 0 .2 -4.9M325.9 262.9a4 .6 144 1 0 6.4 -4.7a4 .6 144 1 0 -6.4 4.7M316.7 343.5a4.1 1 151 1 0 7.3 -4a4.1 1 151 1 0 -7.3 4M371.6 297.9a2.5 1.2 77 1 0 1.1 4.8a2.5 1.2 77 1 0 -1.1 -4.8M289.7 330.7a2.9 1.2 75 1 0 1.5 5.6a2.9 1.2 75 1 0 -1.5 -5.6M250.7 308.3a3.3 1.1 67 1 0 2.5 6a3.3 1.1 67 1 0 -2.5 -6M372.5 296a3.5 .6 144 1 0 5.6 -4a3.5 .6 144 1 0 -5.6 4M289.5 277.9a2.3 1.3 89 1 0 .1 4.6a2.3 1.3 89 1 0 -.1 -4.6M366.6 262.4a4.2 1 131 1 0 5.5 -6.3a4.2 1 131 1 0 -5.5 6.3M250.3 291.6a4.5 .9 64 1 0 3.9 8.1a4.5 .9 64 1 0 -3.9 -8.1M371.7 323.1a2.9 .7 68 1 0 2.2 5.3a2.9 .7 68 1 0 -2.2 -5.3M315.5 333.9a2.2 1.2 142 1 0 3.4 -2.7a2.2 1.2 142 1 0 -3.4 2.7M319.8 278.3a2.5 .9 137 1 0 3.7 -3.4a2.5 .9 137 1 0 -3.7 3.4M268.9 250.3a2 .8 81 1 0 .7 4a2 .8 81 1 0 -.7 -4M271.7 258.3a2.7 .8 57 1 0 2.9 4.5a2.7 .8 57 1 0 -2.9 -4.5M251.5 251.5a4.3 .7 68 1 0 3.2 8a4.3 .7 68 1 0 -3.2 -8M283.7 248.9a3.3 .6 125 1 0 -3.8 5.5a3.3 .6 125 1 0 3.8 -5.5M255.8 251.8a2.9 .7 84 1 0 .6 5.7a2.9 .7 84 1 0 -.6 -5.7M330.2 258.4a3 .6 131 1 0 4 -4.6a3 .6 131 1 0 -4 4.6M256.8 296.2a3.2 1 62 1 0 3 5.7a3.2 1 62 1 0 -3 -5.7M322 252a2.7 1.1 136 1 0 3.9 -3.7a2.7 1.1 136 1 0 -3.9 3.7M333.8 281.7a3.4 1.2 76 1 0 1.6 6.5a3.4 1.2 76 1 0 -1.6 -6.5M265.5 296.2a3.9 .7 72 1 0 2.4 7.5a3.9 .7 72 1 0 -2.4 -7.5M250 296.9a3.7 .6 82 1 0 1 7.4a3.7 .6 82 1 0 -1 -7.4M280.2 246.6a3.2 .6 64 1 0 2.8 5.9a3.2 .6 64 1 0 -2.8 -5.9M346.2 272.3a3.6 .9 155 1 0 6.4 -3.1a3.6 .9 155 1 0 -6.4 3.1M281 336.4a2.6 .9 80 1 0 .9 5.2a2.6 .9 80 1 0 -.9 -5.2M309.6 261.6a3.6 .8 98 1 0 -1 7.2a3.6 .8 98 1 0 1 -7.2M314.6 346.2a4.3 1.2 152 1 0 7.6 -4.1a4.3 1.2 152 1 0 -7.6 4.1M302.5 293.5a2.9 1.2 106 1 0 -1.6 5.7a2.9 1.2 106 1 0 1.6 -5.7M289.1 316.5a3.9 1.1 88 1 0 .3 7.8a3.9 1.1 88 1 0 -.3 -7.8M261.8 268.2a2.4 .6 60 1 0 2.4 4.2a2.4 .6 60 1 0 -2.4 -4.2M262.2 291.5a4.2 .7 83 1 0 1 8.3a4.2 .7 83 1 0 -1 -8.3M267.2 330.5a3.1 .9 78 1 0 1.3 6a3.1 .9 78 1 0 -1.3 -6"/>
<path fill="#7a74bc" d="M350.1 288.8a4 .7 94 1 0 -.6 8a4 .7 94 1 0 .6 -8M374.5 340.1a4.5 .6 86 1 0 .6 9a4.5 .6 86 1 0 -.6 -9M248 274.7a3.9 .7 71 1 0 2.6 7.5a3.9 .7 71 1 0 -2.6 -7.5M286.4 291.3a2.5 1 62 1 0 2.4 4.5a2.5 1 62 1 0 -2.4 -4.5M351.3 341.4a2.2 1.3 123 1 0 2.4 -3.7a2.2 1.3 123 1 0 -2.4 3.7M291.7 323.9a4.3 .7 72 1 0 2.7 8.2a4.3 .7 72 1 0 -2.7 -8.2M276.4 337.4a2.8 .6 83 1 0 .7 5.5a2.8 .6 83 1 0 -.7 -5.5M254.8 242.2a3.1 1.1 84 1 0 .6 6.2a3.1 1.1 84 1 0 -.6 -6.2M257.1 310.8a3 .9 83 1 0 .8 6a3 .9 83 1 0 -.8 -6M256.3 290.1a2.3 .8 84 1 0 .5 4.7a2.3 .8 84 1 0 -.5 -4.7M270.3 302.6a2 .6 78 1 0 .8 3.9a2 .6 78 1 0 -.8 -3.9M291.9 320.8a3.2 1.2 113 1 0 -2.5 5.9a3.2 1.2 113 1 0 2.5 -5.9M286.2 296a3.6 .6 70 1 0 2.4 6.7a3.6 .6 70 1 0 -2.4 -6.7M310.6 304.9a4.4 .7 123 1 0 -4.9 7.4a4.4 .7 123 1 0 4.9 -7.4M359.1 294.7a2.3 .9 92 1 0 -.1 4.6a2.3 .9 92 1 0 .1 -4.6M273.1 241.6a3.1 .9 74 1 0 1.8 6a3.1 .9 74 1 0 -1.8 -6M359.1 341.4a3.6 .6 124 1 0 4 -5.9a3.6 .6 124 1 0 -4 5.9M295.8 262.2a3.9 1.1 116 1 0 -3.4 7a3.9 1.1 116 1 0 3.4 -7M374.5 245.5a3.1 1.3 142 1 0 4.9 -3.8a3.1 1.3 142 1 0 -4.9 3.8M361.6 305a3.2 1.2 145 1 0 5.2 -3.6a3.2 1.2 145 1 0 -5.2 3.6M365.3 308.1a4.4 .7 126 1 0 5.2 -7.2a4.4 .7 126 1 0 -5.2 7.2M263.9 274.9a2.6 .7 79 1 0 1 5.1a2.6 .7 79 1 0 -1 -5.1M301.9 311.5a2.6 .8 99 1 0 -.8 5.1a2.6 .8 99 1 0 .8 -5.1M288.5 293.1a2.3 1.2 99 1 0 -.7 4.6a2.3 1.2 99 1 0 .7 -4.6M272 286.6a3.4 1 75 1 0 1.7 6.5a3.4 1 75 1 0 -1.7 -6.5M334.3 260a4.2 1.1 153 1 0 7.5 -3.9a4.2 1.1 153 1 0 -7.5 3.9M274.4 275.9a2.8 .7 62 1 0 2.6 4.9a2.8 .7 62 1 0 -2.6 -4.9M330.2 254a3.1 .8 151 1 0 5.4 -3.1a3.1 .8 151 1 0 -5.4 3.1M365.2 251.3a3.4 1.1 122 1 0 3.7 -5.8a3.4 1.1 122 1 0 -3.7 5.8M306.2 267.2a2.8 .7 109 1 0 -1.8 5.3a2.8 .7 109 1 0 1.8 -5.3M287.1 247.3a4.4 1.1 123 1 0 -4.7 7.4a4.4 1.1 123 1 0 4.7 -7.4M252.3 285.4a2.6 .9 63 1 0 2.4 4.6a2.6 .9 63 1 0 -2.4 -4.6M271.3 288.8a3.3 .8 72 1 0 2.1 6.2a3.3 .8 72 1 0 -2.1 -6.2M374.1 335.7a2.9 1.3 139 1 0 4.4 -3.8a2.9 1.3 139 1 0 -4.4 3.8M261.6 304a2.3 1 75 1 0 1.2 4.5a2.3 1 75 1 0 -1.2 -4.5M369.3 305.2a3.9 1 131 1 0 5.1 -5.9a3.9 1 131 1 0 -5.1 5.9M266.6 329.4a3.1 1.2 62 1 0 2.9 5.5a3.1 1.2 62 1 0 -2.9 -5.5M307.8 291a4.1 .7 114 1 0 -3.4 7.5a4.1 .7 114 1 0 3.4 -7.5M353.8 323.5a2.2 .8 129 1 0 2.7 -3.4a2.2 .8 129 1 0 -2.7 3.4M254 297.7a3.5 1.3 71 1 0 2.3 6.6a3.5 1.3 71 1 0 -2.3 -6.6M308.2 275.6a3 1 103 1 0 -1.3 5.8a3 1 103 1 0 1.3 -5.8M347.6 280.3a3.8 1.2 154 1 0 6.8 -3.3a3.8 1.2 154 1 0 -6.8 3.3M355.1 278.8a4.1 1 146 1 0 6.7 -4.5a4.1 1 146 1 0 -6.7 4.5M247.4 292.6a4.3 .9 60 1 0 4.3 7.4a4.3 .9 60 1 0 -4.3 -7.4M258.5 284a3.1 1.2 60 1 0 3.2 5.4a3.1 1.2 60 1 0 -3.2 -5.4M328.1 290.9a4 .9 130 1 0 5.2 -6.1a4 .9 130 1 0 -5.2 6.1M273.9 283.3a4.4 1.2 69 1 0 3.2 8.2a4.4 1.2 69 1 0 -3.2 -8.2M305.2 262a2.8 .6 117 1 0 -2.5 5a2.8 .6 117 1 0 2.5 -5M302.8 261.1a3.2 .9 76 1 0 1.5 6.3a3.2 .9 76 1 0 -1.5 -6.3M285.4 244.4a3.7 .7 90 1 0 0 7.4a3.7 .7 90 1 0 -0 -7.4M276.4 247.5a3.6 .7 72 1 0 2.2 6.9a3.6 .7 72 1 0 -2.2 -6.9M267 262.9a2.2 .6 75 1 0 1.1 4.2a2.2 .6 75 1 0 -1.1 -4.2M261.5 293.3a2.1 1.2 66 1 0 1.7 3.8a2.1 1.2 66 1 0 -1.7 -3.8M252 258.7a4.2 .6 77 1 0 1.9 8.2a4.2 .6 77 1 0 -1.9 -8.2M319.5 257.7a4.5 .9 124 1 0 5 -7.5a4.5 .9 124 1 0 -5 7.5M362.2 324.3a2.3 .9 135 1 0 3.3 -3.2a2.3 .9 135 1 0 -3.3 3.2M355.5 336.6a3.1 .9 82 1 0 .9 6.2a3.1 .9 82 1 0 -.9 -6.2M285.8 309a3.4 .9 115 1 0 -2.8 6.2a3.4 .9 115 1 0 2.8 -6.2M338.8 312.8a2.4 .8 130 1 0 3.1 -3.7a2.4 .8 130 1 0 -3.1 3.7M308.9 305.7a2.6 1.3 109 1 0 -1.6 4.9a2.6 1.3 109 1 0 1.6 -4.9M288.6 241.4a2.9 1.2 117 1 0 -2.6 5.1a2.9 1.2 117 1 0 2.6 -5.1M269.9 263.8a2.7 1 78 1 0 1.1 5.3a2.7 1 78 1 0 -1.1 -5.3M329.1 331.5a3.2 1.2 140 1 0 4.9 -4.1a3.2 1.2 140 1 0 -4.9 4.1M279.7 277.4a3.9 .7 77 1 0 1.8 7.6a3.9 .7 77 1 0 -1.8 -7.6M369.2 265.6a3.8 1.1 82 1 0 1 7.5a3.8 1.1 82 1 0 -1 -7.5M353.3 262.9a2.9 1 124 1 0 3.2 -4.7a2.9 1 124 1 0 -3.2 4.7M289.2 336.9a3.2 1.3 76 1 0 1.5 6.2a3.2 1.3 76 1 0 -1.5 -6.2M268.5 311.2a4.2 1.1 67 1 0 3.2 7.7a4.2 1.1 67 1 0 -3.2 -7.7M274 266.3a2.2 .7 84 1 0 .4 4.4a2.2 .7 84 1 0 -.4 -4.4M265.1 311.2a3 1.2 76 1 0 1.5 5.8a3 1.2 76 1 0 -1.5 -5.8M311.2 262.1a3.9 1.3 154 1 0 7.1 -3.5a3.9 1.3 154 1 0 -7.1 3.5M249.2 319.5a4.4 1 63 1 0 4 7.9a4.4 1 63 1 0 -4 -7.9M247.7 240.4a4 1.1 75 1 0 2.1 7.8a4 1.1 75 1 0 -2.1 -7.8M312.1 285.1a4.5 .7 116 1 0 -3.9 8.1a4.5 .7 116 1 0 3.9 -8.1M310.9 247.7a4.3 1.2 137 1 0 6.2 -5.9a4.3 1.2 137 1 0 -6.2 5.9M360.5 255.7a3.1 1.2 126 1 0 3.7 -5a3.1 1.2 126 1 0 -3.7 5M247.3 329.7a2 1.3 67 1 0 1.6 3.7a2 1.3 67 1 0 -1.6 -3.7M264.4 287.2a4.2 1.2 57 1 0 4.5 7a4.2 1.2 57 1 0 -4.5 -7M352.1 317.3a2.4 .8 124 1 0 2.7 -4a2.4 .8 124 1 0 -2.7 4M282.5 314.4a3.4 1.2 101 1 0 -1.3 6.6a3.4 1.2 101 1 0 1.3 -6.6M293 312a2.4 1.2 106 1 0 -1.3 4.6a2.4 1.2 106 1 0 1.3 -4.6M377.3 277.2a2.9 .8 95 1 0 -.5 5.7a2.9 .8 95 1 0 .5 -5.7M373.8 306.9a2.2 1 77 1 0 1 4.2a2.2 1 77 1 0 -1 -4.2M315.1 330.3a2.2 .8 123 1 0 2.3 -3.6a2.2 .8 123 1 0 -2.3 3.6M336.2 346.6a4 .7 127 1 0 4.8 -6.4a4 .7 127 1 0 -4.8 6.4M318.8 288a3 1.2 132 1 0 4 -4.4a3 1.2 132 1 0 -4 4.4M270.9 326.3a4.2 .8 83 1 0 1.1 8.4a4.2 .8 83 1 0 -1.1 -8.4M273.9 320.4a2.7 1.1 71 1 0 1.7 5.2a2.7 1.1 71 1 0 -1.7 -5.2M263.3 297a2.5 .7 66 1 0 2 4.5a2.5 .7 66 1 0 -2 -4.5M374.5 347.5a4 1 120 1 0 4 -6.9a4 1 120 1 0 -4 6.9M318.3 263.2a3.6 1.2 145 1 0 5.9 -4.2a3.6 1.2 145 1 0 -5.9 4.2M313.1 284.8a2.2 1.2 82 1 0 .6 4.4a2.2 1.2 82 1 0 -.6 -4.4M360.2 290.3a4.4 .9 135 1 0 6.2 -6.3a4.4 .9 135 1 0 -6.2 6.3"/>
<path fill="#6a60a8" d="M295.5 250.6a2.3 .7 121 1 0 -2.4 3.9a2.3 .7 121 1 0 2.4 -3.9M292.8 310.5a4.4 .7 104 1 0 -2.1 8.5a4.4 .7 104 1 0 2.1 -8.5M310.8 253.7a3.7 1.3 154 1 0 6.6 -3.3a3.7 1.3 154 1 0 -6.6 3.3M375.5 302a2.7 1.1 143 1 0 4.4 -3.3a2.7 1.1 143 1 0 -4.4 3.3M365.8 296.1a2.2 .8 76 1 0 1.1 4.3a2.2 .8 76 1 0 -1.1 -4.3M355.7 273.9a2.1 1.1 92 1 0 -.1 4.3a2.1 1.1 92 1 0 .1 -4.3M304.7 289.5a3.3 .7 63 1 0 2.9 5.8a3.3 .7 63 1 0 -2.9 -5.8M339.1 271.9a3.7 .8 139 1 0 5.5 -4.8a3.7 .8 139 1 0 -5.5 4.8M357.1 331.9a2.8 .9 146 1 0 4.6 -3.1a2.8 .9 146 1 0 -4.6 3.1M310.9 309.8a3.4 .8 114 1 0 -2.8 6.2a3.4 .8 114 1 0 2.8 -6.2M300.8 274.9a2.1 .9 118 1 0 -2 3.7a2.1 .9 118 1 0 2 -3.7M321.9 266.2a4.4 .7 78 1 0 1.9 8.5a4.4 .7 78 1 0 -1.9 -8.5M278.3 267.9a4.5 1 63 1 0 4.1 7.9a4.5 1 63 1 0 -4.1 -7.9M309.1 337.5a3.2 1 97 1 0 -.8 6.3a3.2 1 97 1 0 .8 -6.3M270.1 240.4a4.1 .7 72 1 0 2.5 7.9a4.1 .7 72 1 0 -2.5 -7.9M293.8 264.8a3 .7 95 1 0 -.6 6.1a3 .7 95 1 0 .6 -6.1M364.3 315.1a4.3 1.1 128 1 0 5.4 -6.8a4.3 1.1 128 1 0 -5.4 6.8M245.6 329.7a4.3 .7 67 1 0 3.4 8a4.3 .7 67 1 0 -3.4 -8M283.8 263.5a3 1 112 1 0 -2.3 5.6a3 1 112 1 0 2.3 -5.6M262.8 320.3a2.5 1.3 74 1 0 1.4 4.8a2.5 1.3 74 1 0 -1.4 -4.8M258.3 263.1a2.9 1.2 74 1 0 1.6 5.6a2.9 1.2 74 1 0 -1.6 -5.6M314.7 273.3a3.9 .8 151 1 0 6.8 -3.8a3.9 .8 151 1 0 -6.8 3.8M310.5 247.6a4.3 1.2 88 1 0 .3 8.7a4.3 1.2 88 1 0 -.3 -8.7M340.1 276.4a4.3 .6 137 1 0 6.3 -6a4.3 .6 137 1 0 -6.3 6M251.7 282a2.9 .9 67 1 0 2.3 5.4a2.9 .9 67 1 0 -2.3 -5.4M353 282.4a4.4 .9 75 1 0 2.3 8.5a4.4 .9 75 1 0 -2.3 -8.5M361.7 304.1a4.4 1 152 1 0 7.7 -4.1a4.4 1 152 1 0 -7.7 4.1M287.6 292.6a3.7 .9 70 1 0 2.5 7a3.7 .9 70 1 0 -2.5 -7M253.8 308.4a3.1 .9 62 1 0 3 5.5a3.1 .9 62 1 0 -3 -5.5M354.2 345.2a4.3 .9 146 1 0 7.1 -4.7a4.3 .9 146 1 0 -7.1 4.7M302.2 312.5a4.2 1.1 110 1 0 -2.9 7.8a4.2 1.1 110 1 0 2.9 -7.8M315.7 244.2a3.7 .6 63 1 0 3.4 6.6a3.7 .6 63 1 0 -3.4 -6.6M278.9 332.6a3.1 .9 73 1 0 1.8 6a3.1 .9 73 1 0 -1.8 -6M282.7 318.8a2.8 1 101 1 0 -1 5.4a2.8 1 101 1 0 1 -5.4M317.1 267.5a2.1 .9 151 1 0 3.6 -2a2.1 .9 151 1 0 -3.6 2M317.4 273.3a3.5 1 77 1 0 1.5 6.9a3.5 1 77 1 0 -1.5 -6.9M347.3 255.1a2.7 1.3 126 1 0 3.2 -4.4a2.7 1.3 126 1 0 -3.2 4.4M291.6 319.7a4.2 .6 74 1 0 2.4 8.1a4.2 .6 74 1 0 -2.4 -8.1M260.1 262.6a2.9 .6 56 1 0 3.3 4.8a2.9 .6 56 1 0 -3.3 -4.8M275.1 321.8a3.6 1 63 1 0 3.2 6.5a3.6 1 63 1 0 -3.2 -6.5M307.5 260.8a2.6 .9 86 1 0 .4 5.3a2.6 .9 86 1 0 -.4 -5.3M314.2 313.9a2.9 .6 138 1 0 4.4 -3.9a2.9 .6 138 1 0 -4.4 3.9M318.2 337.8a3.8 1.1 98 1 0 -1.1 7.6a3.8 1.1 98 1 0 1.1 -7.6M256.6 252.7a2.9 1 72 1 0 1.8 5.6a2.9 1 72 1 0 -1.8 -5.6M318 262.5a3.8 1 135 1 0 5.4 -5.4a3.8 1 135 1 0 -5.4 5.4M356.1 266.2a3.4 .8 142 1 0 5.3 -4.2a3.4 .8 142 1 0 -5.3 4.2M261.8 240.9a4.3 1.2 70 1 0 2.9 8a4.3 1.2 70 1 0 -2.9 -8M375.2 249.1a2.8 1.3 98 1 0 -.8 5.4a2.8 1.3 98 1 0 .8 -5.4M310.5 304.3a4.1 .9 101 1 0 -1.6 8a4.1 .9 101 1 0 1.6 -8M257.8 330.5a3.7 .6 84 1 0 .7 7.3a3.7 .6 84 1 0 -.7 -7.3M302 320.4a4.2 .9 83 1 0 1 8.4a4.2 .9 83 1 0 -1 -8.4M293.3 263.3a2.5 .6 64 1 0 2.2 4.6a2.5 .6 64 1 0 -2.2 -4.6M258.1 332.5a3.5 1.2 69 1 0 2.5 6.5a3.5 1.2 69 1 0 -2.5 -6.5M313.1 329.6a2.5 1.2 125 1 0 2.9 -4.1a2.5 1.2 125 1 0 -2.9 4.1M369.4 284a3.7 1.3 82 1 0 1 7.2a3.7 1.3 82 1 0 -1 -7.2M301.3 339.5a3.2 .9 104 1 0 -1.6 6.2a3.2 .9 104 1 0 1.6 -6.2M282.5 289.2a4 1 65 1 0 3.4 7.3a4 1 65 1 0 -3.4 -7.3M266.3 287.2a3.4 .8 75 1 0 1.8 6.7a3.4 .8 75 1 0 -1.8 -6.7M360.4 269.4a4.4 1.2 137 1 0 6.4 -5.9a4.4 1.2 137 1 0 -6.4 5.9M289.1 283.2a2.8 .9 89 1 0 .1 5.6a2.8 .9 89 1 0 -.1 -5.6M266.5 262.5a3.4 1.1 71 1 0 2.2 6.4a3.4 1.1 71 1 0 -2.2 -6.4M310.1 314.9a2.3 1.1 70 1 0 1.5 4.2a2.3 1.1 70 1 0 -1.5 -4.2M279.7 309.3a2.8 .8 67 1 0 2.2 5.1a2.8 .8 67 1 0 -2.2 -5.1M298.1 296a3.1 .8 73 1 0 1.8 5.8a3.1 .8 73 1 0 -1.8 -5.8M330.9 254.8a4.4 1.1 149 1 0 7.6 -4.6a4.4 1.1 149 1 0 -7.6 4.6M352 256.2a3.2 1.1 85 1 0 .6 6.3a3.2 1.1 85 1 0 -.6 -6.3M290.2 298.6a3.8 1.2 112 1 0 -2.9 7a3.8 1.2 112 1 0 2.9 -7M266.9 316.5a2.3 .8 56 1 0 2.6 3.8a2.3 .8 56 1 0 -2.6 -3.8M366.1 264.6a3.1 .9 141 1 0 4.8 -3.8a3.1 .9 141 1 0 -4.8 3.8M337.8 246.4a3.5 1.2 151 1 0 6.1 -3.3a3.5 1.2 151 1 0 -6.1 3.3M296.8 252.1a4.1 .8 60 1 0 4.1 7.1a4.1 .8 60 1 0 -4.1 -7.1M253.4 325.7a3.3 .8 56 1 0 3.8 5.5a3.3 .8 56 1 0 -3.8 -5.5M369.7 269.7a4.5 1.1 134 1 0 6.2 -6.5a4.5 1.1 134 1 0 -6.2 6.5M376.1 269.2a3.4 1.1 120 1 0 3.4 -5.9a3.4 1.1 120 1 0 -3.4 5.9M302.9 287a2.1 .8 60 1 0 2.1 3.7a2.1 .8 60 1 0 -2.1 -3.7M320.3 276.5a4.2 .8 90 1 0 -0 8.3a4.2 .8 90 1 0 0 -8.3M372.1 256.5a3.4 .8 124 1 0 3.8 -5.6a3.4 .8 124 1 0 -3.8 5.6M291.4 291.5a4.5 .8 115 1 0 -3.8 8.1a4.5 .8 115 1 0 3.8 -8.1M269.3 302.6a3 .6 62 1 0 2.9 5.3a3 .6 62 1 0 -2.9 -5.3M355 260.2a2.3 1 140 1 0 3.6 -3a2.3 1 140 1 0 -3.6 3M366.8 277.4a2.7 1.1 139 1 0 4.1 -3.5a2.7 1.1 139 1 0 -4.1 3.5M320.8 267.7a4.1 1.2 151 1 0 7.3 -4a4.1 1.2 151 1 0 -7.3 4M327.7 309.3a2.6 .7 136 1 0 3.7 -3.5a2.6 .7 136 1 0 -3.7 3.5M275.4 304.9a3 1.3 66 1 0 2.4 5.4a3 1.3 66 1 0 -2.4 -5.4M286.5 319.5a2.2 .7 95 1 0 -.4 4.4a2.2 .7 95 1 0 .4 -4.4M369 264.8a2.4 .8 133 1 0 3.3 -3.5a2.4 .8 133 1 0 -3.3 3.5M294.4 254a4.2 .9 87 1 0 .4 8.4a4.2 .9 87 1 0 -.4 -8.4M291.7 252.4a2 1 71 1 0 1.3 3.8a2 1 71 1 0 -1.3 -3.8M278 302.3a2.8 .8 61 1 0 2.7 5a2.8 .8 61 1 0 -2.7 -5M269.5 301.1a2.7 .6 60 1 0 2.8 4.7a2.7 .6 60 1 0 -2.8 -4.7M342.1 261.7a2.6 1 154 1 0 4.7 -2.3a2.6 1 154 1 0 -4.7 2.3M291.4 305.8a3.9 1.2 73 1 0 2.2 7.4a3.9 1.2 73 1 0 -2.2 -7.4M272.6 296.9a2.9 .8 81 1 0 .9 5.8a2.9 .8 81 1 0 -.9 -5.8"/>
<path fill="#7c78b8" d="M371.3 338.6a3.7 1.2 75 1 0 1.9 7.2a3.7 1.2 75 1 0 -1.9 -7.2M262.3 251.5a2.8 .6 73 1 0 1.6 5.3a2.8 .6 73 1 0 -1.6 -5.3M301 253.7a2.3 1.2 108 1 0 -1.4 4.3a2.3 1.2 108 1 0 1.4 -4.3M346.2 254.6a2 .6 127 1 0 2.5 -3.2a2 .6 127 1 0 -2.5 3.2M309.8 329.2a4.4 1.2 106 1 0 -2.4 8.4a4.4 1.2 106 1 0 2.4 -8.4M364.5 280.8a2.2 1.2 70 1 0 1.5 4.2a2.2 1.2 70 1 0 -1.5 -4.2M287.1 323.8a3.2 .8 61 1 0 3.1 5.6a3.2 .8 61 1 0 -3.1 -5.6M272.7 295.1a3.7 1.3 69 1 0 2.6 6.9a3.7 1.3 69 1 0 -2.6 -6.9M350.9 254.1a2.3 1.1 127 1 0 2.8 -3.7a2.3 1.1 127 1 0 -2.8 3.7M247.7 288.5a4.3 .7 76 1 0 2.2 8.4a4.3 .7 76 1 0 -2.2 -8.4M276.6 326.9a2.9 .7 75 1 0 1.5 5.7a2.9 .7 75 1 0 -1.5 -5.7M249.1 274.8a2.7 1 84 1 0 .5 5.3a2.7 1 84 1 0 -.5 -5.3M319.7 341a2.1 1.2 133 1 0 2.9 -3a2.1 1.2 133 1 0 -2.9 3M282 258.7a2.8 .6 88 1 0 .2 5.6a2.8 .6 88 1 0 -.2 -5.6M277.6 260.1a3 .8 62 1 0 2.8 5.3a3 .8 62 1 0 -2.8 -5.3M273.1 263.2a4.3 1 85 1 0 .8 8.6a4.3 1 85 1 0 -.8 -8.6M275.6 318.2a3.4 .9 84 1 0 .7 6.8a3.4 .9 84 1 0 -.7 -6.8M294.4 316.8a4.1 .9 116 1 0 -3.5 7.3a4.1 .9 116 1 0 3.5 -7.3M266.7 275.1a4.2 .8 61 1 0 4 7.3a4.2 .8 61 1 0 -4 -7.3M370.2 300.5a4.5 .7 150 1 0 7.8 -4.5a4.5 .7 150 1 0 -7.8 4.5M269.9 322.5a2.1 1.2 60 1 0 2.1 3.6a2.1 1.2 60 1 0 -2.1 -3.6M261.1 304.4a3.2 .6 76 1 0 1.6 6.3a3.2 .6 76 1 0 -1.6 -6.3M311.3 278.4a3.4 .9 96 1 0 -.7 6.8a3.4 .9 96 1 0 .7 -6.8M292.2 264.8a3.5 1.1 107 1 0 -2.1 6.6a3.5 1.1 107 1 0 2.1 -6.6M269.9 326.1a3.8 .7 72 1 0 2.4 7.3a3.8 .7 72 1 0 -2.4 -7.3M266.2 273.9a4.3 .9 76 1 0 2.1 8.3a4.3 .9 76 1 0 -2.1 -8.3M363.5 261.1a3.7 1.3 133 1 0 5 -5.5a3.7 1.3 133 1 0 -5 5.5M294.3 281.3a3.4 .8 71 1 0 2.3 6.4a3.4 .8 71 1 0 -2.3 -6.4M303.6 334.2a2.2 .8 120 1 0 -2.2 3.8a2.2 .8 120 1 0 2.2 -3.8M355.8 294.1a4 1 61 1 0 3.9 7a4 1 61 1 0 -3.9 -7M286.6 275.4a2.5 1.2 121 1 0 -2.5 4.3a2.5 1.2 121 1 0 2.5 -4.3M261.7 270.9a2.5 1.2 80 1 0 .9 4.9a2.5 1.2 80 1 0 -.9 -4.9M275.2 263.9a3.6 .8 74 1 0 2 7a3.6 .8 74 1 0 -2 -7M374.9 289.5a2.1 1.3 144 1 0 3.5 -2.5a2.1 1.3 144 1 0 -3.5 2.5M374.3 291.4a2.9 .6 142 1 0 4.6 -3.6a2.9 .6 142 1 0 -4.6 3.6M373.6 306a3.6 1.3 122 1 0 3.7 -6a3.6 1.3 122 1 0 -3.7 6M292.2 289.7a3.5 .8 102 1 0 -1.4 6.9a3.5 .8 102 1 0 1.4 -6.9M274.9 245.4a3.3 1.1 57 1 0 3.6 5.5a3.3 1.1 57 1 0 -3.6 -5.5M300 317.8a4.1 .8 97 1 0 -1 8.2a4.1 .8 97 1 0 1 -8.2M289.4 292.7a3.4 .7 111 1 0 -2.4 6.3a3.4 .7 111 1 0 2.4 -6.3M310.3 266a2.4 1 74 1 0 1.3 4.6a2.4 1 74 1 0 -1.3 -4.6M339.7 343.9a2.5 .8 143 1 0 4 -3a2.5 .8 143 1 0 -4 3M306.8 312.1a2.7 1.2 106 1 0 -1.5 5.2a2.7 1.2 106 1 0 1.5 -5.2M364.7 341a3.4 .9 122 1 0 3.7 -5.8a3.4 .9 122 1 0 -3.7 5.8M258.7 284.3a3.1 1.1 67 1 0 2.4 5.8a3.1 1.1 67 1 0 -2.4 -5.8M294.7 304.5a2.9 .8 69 1 0 2.1 5.4a2.9 .8 69 1 0 -2.1 -5.4M256.2 248.9a2.2 1.1 83 1 0 .5 4.4a2.2 1.1 83 1 0 -.5 -4.4M309.9 259.5a3.9 .8 122 1 0 -4.2 6.7a3.9 .8 122 1 0 4.2 -6.7M333.8 339.8a4.4 .8 139 1 0 6.6 -5.7a4.4 .8 139 1 0 -6.6 5.7M305.4 247.7a3.6 .9 116 1 0 -3.2 6.5a3.6 .9 116 1 0 3.2 -6.5M246.7 299.1a2.3 .9 57 1 0 2.5 3.8a2.3 .9 57 1 0 -2.5 -3.8M274.7 265.5a2.2 1.3 76 1 0 1 4.2a2.2 1.3 76 1 0 -1 -4.2M311.5 316.1a3.8 1.1 86 1 0 .6 7.6a3.8 1.1 86 1 0 -.6 -7.6M252.5 264a2.2 1.1 64 1 0 1.9 4a2.2 1.1 64 1 0 -1.9 -4M358.4 266.3a3.6 .8 98 1 0 -1 7.1a3.6 .8 98 1 0 1 -7.1M257.1 272.7a3.6 1.2 74 1 0 2 6.9a3.6 1.2 74 1 0 -2 -6.9M276.2 278.1a2.1 1 56 1 0 2.4 3.4a2.1 1 56 1 0 -2.4 -3.4M369.9 297a3 .8 65 1 0 2.5 5.4a3 .8 65 1 0 -2.5 -5.4M296.1 318.9a4.2 1.3 62 1 0 3.9 7.5a4.2 1.3 62 1 0 -3.9 -7.5M294.7 279.3a3 .9 67 1 0 2.3 5.6a3 .9 67 1 0 -2.3 -5.6M283.6 255.8a3.5 .9 77 1 0 1.6 6.8a3.5 .9 77 1 0 -1.6 -6.8M365.5 324.7a3.4 .8 87 1 0 .3 6.8a3.4 .8 87 1 0 -.3 -6.8M367.5 254.8a2.6 1.2 139 1 0 3.9 -3.4a2.6 1.2 139 1 0 -3.9 3.4M265.1 251.2a4.2 1.2 77 1 0 1.9 8.3a4.2 1.2 77 1 0 -1.9 -8.3M303.1 250.5a2.5 .8 117 1 0 -2.3 4.4a2.5 .8 117 1 0 2.3 -4.4M309 324.6a3.1 1.3 76 1 0 1.5 6a3.1 1.3 76 1 0 -1.5 -6M358 260.2a3 .8 71 1 0 1.9 5.8a3 .8 71 1 0 -1.9 -5.8M306.1 336.4a4.1 1.2 112 1 0 -3.1 7.6a4.1 1.2 112 1 0 3.1 -7.6M295.8 282.6a2.6 .9 124 1 0 -2.9 4.3a2.6 .9 124 1 0 2.9 -4.3M268.9 270.1a2.6 .7 81 1 0 .9 5.2a2.6 .7 81 1 0 -.9 -5.2M365.6 329a3.7 .8 122 1 0 3.9 -6.3a3.7 .8 122 1 0 -3.9 6.3M294 239a4.5 .9 96 1 0 -1 8.9a4.5 .9 96 1 0 1 -8.9M272.8 242.2a2.2 1.2 66 1 0 1.8 4a2.2 1.2 66 1 0 -1.8 -4M292.6 279.9a2.9 .7 122 1 0 -3 4.9a2.9 .7 122 1 0 3 -4.9M312.9 277.8a2.8 1.1 122 1 0 -3 4.7a2.8 1.1 122 1 0 3 -4.7M338.5 284.4a3.2 .8 142 1 0 5 -3.9a3.2 .8 142 1 0 -5 3.9M248.4 323.3a3 .7 80 1 0 1 6a3 .7 80 1 0 -1 -6M310.7 330.8a2.5 1 73 1 0 1.5 4.8a2.5 1 73 1 0 -1.5 -4.8M270.5 261.9a2.8 .8 82 1 0 .8 5.5a2.8 .8 82 1 0 -.8 -5.5M324.2 346.4a4.2 1 126 1 0 4.9 -6.7a4.2 1 126 1 0 -4.9 6.7M269.8 286a3.8 1.2 64 1 0 3.3 6.8a3.8 1.2 64 1 0 -3.3 -6.8M299.2 246.2a2.2 1.2 86 1 0 .3 4.4a2.2 1.2 86 1 0 -.3 -4.4M256.8 256.9a3.2 .6 60 1 0 3.2 5.6a3.2 .6 60 1 0 -3.2 -5.6M366.6 258.5a4 .8 99 1 0 -1.3 7.9a4 .8 99 1 0 1.3 -7.9M268.3 315.5a3.6 1.1 78 1 0 1.5 7a3.6 1.1 78 1 0 -1.5 -7M269.4 341.3a3.4 .6 69 1 0 2.4 6.3a3.4 .6 69 1 0 -2.4 -6.3M292.8 326.9a4 .9 108 1 0 -2.5 7.6a4 .9 108 1 0 2.5 -7.6M252.1 322.2a4.4 .8 57 1 0 4.8 7.4a4.4 .8 57 1 0 -4.8 -7.4M250.1 275.2a3.8 1.1 66 1 0 3.1 7a3.8 1.1 66 1 0 -3.1 -7M373.9 240.5a2.8 1.2 72 1 0 1.7 5.4a2.8 1.2 72 1 0 -1.7 -5.4M270.2 322.5a2.4 1.2 73 1 0 1.4 4.5a2.4 1.2 73 1 0 -1.4 -4.5M300.1 297.1a3.9 .8 116 1 0 -3.5 7.1a3.9 .8 116 1 0 3.5 -7.1M291.7 300.1a2.4 .7 112 1 0 -1.8 4.4a2.4 .7 112 1 0 1.8 -4.4M295.1 268.8a2.2 .6 111 1 0 -1.6 4.1a2.2 .6 111 1 0 1.6 -4.1"/>
<path fill="#5e5aa4" d="M367.6 312.1a3.7 .9 147 1 0 6.3 -4.1a3.7 .9 147 1 0 -6.3 4.1M279.7 277.9a3.3 1.3 63 1 0 2.9 5.8a3.3 1.3 63 1 0 -2.9 -5.8M351.9 334.9a3.2 .8 123 1 0 3.4 -5.3a3.2 .8 123 1 0 -3.4 5.3M262.8 330.7a4.4 1 70 1 0 3 8.3a4.4 1 70 1 0 -3 -8.3M259.7 333.7a3.4 1 70 1 0 2.4 6.4a3.4 1 70 1 0 -2.4 -6.4M316.7 333.5a3.6 .9 121 1 0 3.7 -6.3a3.6 .9 121 1 0 -3.7 6.3M349.6 314.9a3.2 1.3 136 1 0 4.6 -4.4a3.2 1.3 136 1 0 -4.6 4.4M351.3 283.9a4.4 1.2 142 1 0 7 -5.5a4.4 1.2 142 1 0 -7 5.5M316.5 271.5a4.2 .7 148 1 0 7.1 -4.5a4.2 .7 148 1 0 -7.1 4.5M367.7 342.9a2.2 1.1 132 1 0 2.9 -3.2a2.2 1.1 132 1 0 -2.9 3.2M290.2 310.4a4.1 1.3 88 1 0 .2 8.3a4.1 1.3 88 1 0 -.2 -8.3M246.7 291.7a2.4 .7 57 1 0 2.6 4a2.4 .7 57 1 0 -2.6 -4M275 247.7a2.4 .8 78 1 0 1 4.7a2.4 .8 78 1 0 -1 -4.7M279.1 337a3.2 1 75 1 0 1.6 6.1a3.2 1 75 1 0 -1.6 -6.1M328.3 315.5a3.7 1.2 143 1 0 6 -4.4a3.7 1.2 143 1 0 -6 4.4M310.5 340.2a3.3 .8 64 1 0 2.9 5.9a3.3 .8 64 1 0 -2.9 -5.9M329.8 333.3a4.3 1.1 67 1 0 3.3 7.9a4.3 1.1 67 1 0 -3.3 -7.9M253.6 249.4a3.4 .6 76 1 0 1.6 6.6a3.4 .6 76 1 0 -1.6 -6.6M277.5 341.5a3.6 1.2 77 1 0 1.6 7a3.6 1.2 77 1 0 -1.6 -7M296 267.3a2.9 1.1 61 1 0 2.8 5.1a2.9 1.1 61 1 0 -2.8 -5.1M261.4 300.8a3.4 .7 68 1 0 2.6 6.2a3.4 .7 68 1 0 -2.6 -6.2M332 280.6a3.1 1.2 153 1 0 5.6 -2.9a3.1 1.2 153 1 0 -5.6 2.9M255.7 251.4a3.1 1 71 1 0 2 5.9a3.1 1 71 1 0 -2 -5.9M273.4 241.1a2.4 .7 69 1 0 1.7 4.5a2.4 .7 69 1 0 -1.7 -4.5M359.3 320.5a3.5 .6 132 1 0 4.7 -5.2a3.5 .6 132 1 0 -4.7 5.2M298.9 333.9a3.2 .8 87 1 0 .3 6.3a3.2 .8 87 1 0 -.3 -6.3M338.5 338.1a4.1 1 138 1 0 6.1 -5.5a4.1 1 138 1 0 -6.1 5.5M348.8 340.9a4.5 1 124 1 0 5 -7.4a4.5 1 124 1 0 -5 7.4M254.4 266.8a3 1 73 1 0 1.8 5.8a3 1 73 1 0 -1.8 -5.8M281.2 278.8a3.7 .9 84 1 0 .8 7.3a3.7 .9 84 1 0 -.8 -7.3M309.6 263.3a3.5 1.3 138 1 0 5.2 -4.6a3.5 1.3 138 1 0 -5.2 4.6M336.1 319.8a2.6 1.3 153 1 0 4.6 -2.3a2.6 1.3 153 1 0 -4.6 2.3M343.6 282.7a3.1 1.1 153 1 0 5.6 -2.8a3.1 1.1 153 1 0 -5.6 2.8M354 299.3a3.8 1 87 1 0 .4 7.6a3.8 1 87 1 0 -.4 -7.6M299.5 330.2a4.2 1.1 84 1 0 .9 8.3a4.2 1.1 84 1 0 -.9 -8.3M252.7 251.6a4.1 .7 80 1 0 1.4 8a4.1 .7 80 1 0 -1.4 -8M347.5 244.7a3.7 .8 145 1 0 6.1 -4.3a3.7 .8 145 1 0 -6.1 4.3M349.8 306.3a2.7 .6 142 1 0 4.3 -3.3a2.7 .6 142 1 0 -4.3 3.3M314.6 303.3a4.1 1.2 87 1 0 .5 8.2a4.1 1.2 87 1 0 -.5 -8.2M257.6 317.7a2.1 1 57 1 0 2.3 3.5a2.1 1 57 1 0 -2.3 -3.5M325.8 274.2a2.4 1 148 1 0 4.1 -2.5a2.4 1 148 1 0 -4.1 2.5M351.2 292.3a2.6 1.1 126 1 0 3 -4.1a2.6 1.1 126 1 0 -3 4.1M327.6 259.1a2.8 1.1 152 1 0 4.9 -2.6a2.8 1.1 152 1 0 -4.9 2.6M255.7 310.3a2.2 .8 75 1 0 1.2 4.2a2.2 .8 75 1 0 -1.2 -4.2M291.6 327.2a2.2 .7 80 1 0 .7 4.4a2.2 .7 80 1 0 -.7 -4.4M286.5 277.3a3 .7 102 1 0 -1.3 5.9a3 .7 102 1 0 1.3 -5.9M279.3 284.3a3.2 .7 63 1 0 2.9 5.7a3.2 .7 63 1 0 -2.9 -5.7M354.6 288.2a4.4 1.3 88 1 0 .3 8.9a4.4 1.3 88 1 0 -.3 -8.9M248.2 286.6a4.2 1 72 1 0 2.6 7.9a4.2 1 72 1 0 -2.6 -7.9M310.9 337.8a3.2 .7 72 1 0 2 6a3.2 .7 72 1 0 -2 -6M357.8 261.8a2.8 1.2 137 1 0 4.1 -3.8a2.8 1.2 137 1 0 -4.1 3.8M322.2 256.2a3.6 .7 148 1 0 6.1 -3.8a3.6 .7 148 1 0 -6.1 3.8M306.4 285.6a2.7 1.2 78 1 0 1.1 5.2a2.7 1.2 78 1 0 -1.1 -5.2M253.6 285.5a4.3 .8 61 1 0 4.2 7.5a4.3 .8 61 1 0 -4.2 -7.5M325.9 304a4.2 1.2 141 1 0 6.5 -5.3a4.2 1.2 141 1 0 -6.5 5.3M326.7 340.2a4.4 .7 133 1 0 6 -6.4a4.4 .7 133 1 0 -6 6.4M319.9 249.3a3.7 1.2 126 1 0 4.4 -6a3.7 1.2 126 1 0 -4.4 6M262.2 257.7a4.1 1.2 70 1 0 2.8 7.7a4.1 1.2 70 1 0 -2.8 -7.7M297.2 317.4a3 .8 110 1 0 -2.1 5.7a3 .8 110 1 0 2.1 -5.7M256.5 281.7a2.9 .8 58 1 0 3.1 5a2.9 .8 58 1 0 -3.1 -5M256.6 294.5a3.1 .7 83 1 0 .7 6.1a3.1 .7 83 1 0 -.7 -6.1M351.9 279.2a2.1 .6 121 1 0 2.1 -3.5a2.1 .6 121 1 0 -2.1 3.5M310.2 270.1a3.2 1.1 139 1 0 4.8 -4.2a3.2 1.1 139 1 0 -4.8 4.2M315.7 345.2a3.6 1 131 1 0 4.8 -5.4a3.6 1 131 1 0 -4.8 5.4M365.3 266.9a2.2 1.2 132 1 0 3 -3.3a2.2 1.2 132 1 0 -3 3.3M358.5 249.1a3.9 .9 152 1 0 6.8 -3.6a3.9 .9 152 1 0 -6.8 3.6M343.3 339.8a3 1.3 136 1 0 4.3 -4.1a3 1.3 136 1 0 -4.3 4.1M253.4 337.5a2.8 .7 76 1 0 1.4 5.4a2.8 .7 76 1 0 -1.4 -5.4M293.7 263.4a4.2 1 95 1 0 -.8 8.3a4.2 1 95 1 0 .8 -8.3M346.4 338.4a4.3 .7 65 1 0 3.7 7.7a4.3 .7 65 1 0 -3.7 -7.7M266.1 300.8a3.6 1.1 66 1 0 2.9 6.6a3.6 1.1 66 1 0 -2.9 -6.6M293.8 288.9a3.3 1 88 1 0 .2 6.7a3.3 1 88 1 0 -.2 -6.7M335.4 281.2a2.1 1.2 149 1 0 3.6 -2.2a2.1 1.2 149 1 0 -3.6 2.2M245.7 294.4a2.3 .6 61 1 0 2.2 4a2.3 .6 61 1 0 -2.2 -4M372.5 322.2a4.3 1.2 142 1 0 6.7 -5.3a4.3 1.2 142 1 0 -6.7 5.3M310.7 283.4a2.5 1.1 85 1 0 .4 4.9a2.5 1.1 85 1 0 -.4 -4.9M356.7 260.5a3.8 1 148 1 0 6.5 -4a3.8 1 148 1 0 -6.5 4M308.8 244.4a2.2 1.2 76 1 0 1.1 4.2a2.2 1.2 76 1 0 -1.1 -4.2M244.3 275.9a3.4 1.1 57 1 0 3.6 5.7a3.4 1.1 57 1 0 -3.6 -5.7M307.7 270.9a3.5 .6 77 1 0 1.6 6.9a3.5 .6 77 1 0 -1.6 -6.9M256.2 308.1a3.5 1.2 57 1 0 3.8 5.9a3.5 1.2 57 1 0 -3.8 -5.9M350.9 307.8a3.4 .9 99 1 0 -1.1 6.7a3.4 .9 99 1 0 1.1 -6.7M374 243.8a3.2 .8 73 1 0 1.8 6.2a3.2 .8 73 1 0 -1.8 -6.2M364.3 275.2a4.4 1.3 71 1 0 2.9 8.4a4.4 1.3 71 1 0 -2.9 -8.4M375.3 328.4a2.5 1.2 136 1 0 3.6 -3.4a2.5 1.2 136 1 0 -3.6 3.4M303.4 269.3a4.2 1.2 70 1 0 2.9 7.9a4.2 1.2 70 1 0 -2.9 -7.9M327 257.4a2.8 .7 90 1 0 -0 5.7a2.8 .7 90 1 0 0 -5.7M309.2 332a4.3 1.2 98 1 0 -1.2 8.6a4.3 1.2 98 1 0 1.2 -8.6"/>
<path fill="#58549c" d="M254.8 260.9a2.5 .7 81 1 0 .8 4.9a2.5 .7 81 1 0 -.8 -4.9M363.7 252.1a3.9 1.1 146 1 0 6.5 -4.3a3.9 1.1 146 1 0 -6.5 4.3M366.4 265.1a3.3 .9 135 1 0 4.7 -4.6a3.3 .9 135 1 0 -4.7 4.6M339.2 297.1a2.4 .7 153 1 0 4.3 -2.2a2.4 .7 153 1 0 -4.3 2.2M315.2 253a3.4 .7 128 1 0 4.1 -5.4a3.4 .7 128 1 0 -4.1 5.4M335.1 245.5a4 1.1 100 1 0 -1.4 7.8a4 1.1 100 1 0 1.4 -7.8M295.6 288a3.1 1 106 1 0 -1.7 5.9a3.1 1 106 1 0 1.7 -5.9M262 313.2a4 1.2 81 1 0 1.2 7.8a4 1.2 81 1 0 -1.2 -7.8M289.4 240.4a4.2 .7 77 1 0 1.8 8.1a4.2 .7 77 1 0 -1.8 -8.1M249.4 249.5a2.5 .9 61 1 0 2.4 4.4a2.5 .9 61 1 0 -2.4 -4.4M362.7 284.9a4.2 .7 99 1 0 -1.3 8.3a4.2 .7 99 1 0 1.3 -8.3M354.9 279.7a2.7 1.3 133 1 0 3.8 -4a2.7 1.3 133 1 0 -3.8 4M343.3 288.6a2.2 1.3 128 1 0 2.6 -3.4a2.2 1.3 128 1 0 -2.6 3.4M337.9 279.8a3.4 1.3 129 1 0 4.2 -5.2a3.4 1.3 129 1 0 -4.2 5.2M282.8 276.9a2.4 .8 106 1 0 -1.3 4.6a2.4 .8 106 1 0 1.3 -4.6M250.1 295.4a3.2 1.2 59 1 0 3.3 5.4a3.2 1.2 59 1 0 -3.3 -5.4M264.3 257a2.4 1.1 56 1 0 2.7 3.9a2.4 1.1 56 1 0 -2.7 -3.9M305.8 284.2a3 .9 97 1 0 -.7 6a3 .9 97 1 0 .7 -6M346.8 274.4a4.4 1.1 148 1 0 7.5 -4.6a4.4 1.1 148 1 0 -7.5 4.6M262.2 311.8a3 1.1 73 1 0 1.7 5.8a3 1.1 73 1 0 -1.7 -5.8M335.4 260.4a2.8 .7 122 1 0 2.9 -4.8a2.8 .7 122 1 0 -2.9 4.8M256.1 296.7a3.5 .8 58 1 0 3.8 6a3.5 .8 58 1 0 -3.8 -6M259 274.6a2.2 1.2 70 1 0 1.5 4.2a2.2 1.2 70 1 0 -1.5 -4.2M319.5 294.5a3.6 .9 69 1 0 2.6 6.6a3.6 .9 69 1 0 -2.6 -6.6M269.3 324.1a2.8 1.1 61 1 0 2.7 4.9a2.8 1.1 61 1 0 -2.7 -4.9M358.2 297.1a3 .7 130 1 0 3.9 -4.6a3 .7 130 1 0 -3.9 4.6M323.6 326.4a3.8 1 78 1 0 1.5 7.4a3.8 1 78 1 0 -1.5 -7.4M356.3 299.8a4.5 .8 136 1 0 6.4 -6.2a4.5 .8 136 1 0 -6.4 6.2M297.1 341.8a3.4 1.3 99 1 0 -1.1 6.7a3.4 1.3 99 1 0 1.1 -6.7M358.3 295.7a4 .8 68 1 0 3 7.3a4 .8 68 1 0 -3 -7.3M334.1 335a3.2 .9 99 1 0 -1 6.3a3.2 .9 99 1 0 1 -6.3M355.8 308.5a2.7 .7 128 1 0 3.4 -4.3a2.7 .7 128 1 0 -3.4 4.3M345 278a3 1.1 146 1 0 5 -3.3a3 1.1 146 1 0 -5 3.3M325.6 257.8a3.9 1 143 1 0 6.2 -4.7a3.9 1 143 1 0 -6.2 4.7M356.2 289a4.2 .8 70 1 0 2.9 7.8a4.2 .8 70 1 0 -2.9 -7.8M304.1 257.7a2.6 .9 63 1 0 2.3 4.5a2.6 .9 63 1 0 -2.3 -4.5M283.8 286a2.9 .8 108 1 0 -1.8 5.5a2.9 .8 108 1 0 1.8 -5.5M325.2 286.7a4.4 .7 124 1 0 4.9 -7.4a4.4 .7 124 1 0 -4.9 7.4M284.2 308.6a3.7 1.2 97 1 0 -.9 7.4a3.7 1.2 97 1 0 .9 -7.4M267.2 275.2a3.6 1.1 56 1 0 4 6a3.6 1.1 56 1 0 -4 -6M371.9 303.4a3.1 1.2 74 1 0 1.8 5.9a3.1 1.2 74 1 0 -1.8 -5.9M372 275.2a3.7 .9 83 1 0 .9 7.4a3.7 .9 83 1 0 -.9 -7.4M260.3 267.4a4.5 1.2 79 1 0 1.7 8.8a4.5 1.2 79 1 0 -1.7 -8.8M324.4 288.4a3.3 1.3 66 1 0 2.6 6a3.3 1.3 66 1 0 -2.6 -6M289.7 247.5a4.1 1.2 79 1 0 1.5 8a4.1 1.2 79 1 0 -1.5 -8M292.7 282.4a3.5 1 113 1 0 -2.8 6.5a3.5 1 113 1 0 2.8 -6.5M279.8 337.3a3.8 1.2 69 1 0 2.7 7a3.8 1.2 69 1 0 -2.7 -7M310.8 279.8a2.5 .6 100 1 0 -.9 4.9a2.5 .6 100 1 0 .9 -4.9M272.3 335.6a4.3 .7 64 1 0 3.7 7.7a4.3 .7 64 1 0 -3.7 -7.7M247.8 301.7a2.6 1.1 72 1 0 1.7 5a2.6 1.1 72 1 0 -1.7 -5M330.7 309.3a2.7 1.2 60 1 0 2.7 4.7a2.7 1.2 60 1 0 -2.7 -4.7M367.6 281a3.3 1.1 83 1 0 .8 6.5a3.3 1.1 83 1 0 -.8 -6.5M309.6 291.7a3.9 1.1 151 1 0 6.8 -3.8a3.9 1.1 151 1 0 -6.8 3.8M263.8 325.1a4.3 1 71 1 0 2.8 8.1a4.3 1 71 1 0 -2.8 -8.1M294.2 323.7a4.2 .9 100 1 0 -1.5 8.2a4.2 .9 100 1 0 1.5 -8.2M352.4 345.5a2.2 .9 130 1 0 2.9 -3.4a2.2 .9 130 1 0 -2.9 3.4M265.9 303.4a2.8 1 77 1 0 1.2 5.4a2.8 1 77 1 0 -1.2 -5.4M296.7 301.9a2.7 1.1 82 1 0 .7 5.4a2.7 1.1 82 1 0 -.7 -5.4M360.2 334.5a4.1 1.2 62 1 0 3.8 7.2a4.1 1.2 62 1 0 -3.8 -7.2M296.8 341.7a2.4 .9 99 1 0 -.8 4.8a2.4 .9 99 1 0 .8 -4.8M362.8 285.8a2.5 1.2 65 1 0 2.1 4.5a2.5 1.2 65 1 0 -2.1 -4.5M309.3 337.5a2.4 1.1 111 1 0 -1.8 4.5a2.4 1.1 111 1 0 1.8 -4.5M298.4 277.5a2.2 1.3 125 1 0 -2.5 3.6a2.2 1.3 125 1 0 2.5 -3.6M245.8 268.7a3.4 1.1 63 1 0 3.1 6a3.4 1.1 63 1 0 -3.1 -6M278.6 336a3.4 1.2 71 1 0 2.2 6.4a3.4 1.2 71 1 0 -2.2 -6.4M261.2 317.5a3.9 .8 80 1 0 1.4 7.6a3.9 .8 80 1 0 -1.4 -7.6M360.8 266.9a3.1 .7 145 1 0 5.1 -3.5a3.1 .7 145 1 0 -5.1 3.5M280.6 275a4.1 1 71 1 0 2.6 7.7a4.1 1 71 1 0 -2.6 -7.7M372.2 344.6a3 1.2 139 1 0 4.6 -3.9a3 1.2 139 1 0 -4.6 3.9M361.6 277.6a4.5 .6 132 1 0 6 -6.7a4.5 .6 132 1 0 -6 6.7M280.9 312.1a3.3 1.1 85 1 0 .6 6.6a3.3 1.1 85 1 0 -.6 -6.6M309.2 243.6a3.9 .8 99 1 0 -1.3 7.8a3.9 .8 99 1 0 1.3 -7.8M366.3 252.7a3.8 .9 81 1 0 1.2 7.4a3.8 .9 81 1 0 -1.2 -7.4M275.4 310a3.5 1 77 1 0 1.5 6.8a3.5 1 77 1 0 -1.5 -6.8"/>
<path fill="#6c68b0" d="M300 267.8a3.7 .8 69 1 0 2.7 6.9a3.7 .8 69 1 0 -2.7 -6.9M298.9 302.9a2.6 1.2 72 1 0 1.6 4.9a2.6 1.2 72 1 0 -1.6 -4.9M259.2 315.5a3 .9 64 1 0 2.7 5.4a3 .9 64 1 0 -2.7 -5.4M297.4 306.8a2.4 .9 104 1 0 -1.2 4.7a2.4 .9 104 1 0 1.2 -4.7M341.5 294.1a3.7 .9 154 1 0 6.7 -3.3a3.7 .9 154 1 0 -6.7 3.3M252 303.1a3.5 1.1 83 1 0 .9 7a3.5 1.1 83 1 0 -.9 -7M290.5 311.8a2.6 .6 117 1 0 -2.4 4.7a2.6 .6 117 1 0 2.4 -4.7M311.9 342.6a3 .7 150 1 0 5.3 -3a3 .7 150 1 0 -5.3 3M282.7 336.8a2.3 .8 105 1 0 -1.2 4.4a2.3 .8 105 1 0 1.2 -4.4M369.9 340.4a2.7 .6 76 1 0 1.3 5.2a2.7 .6 76 1 0 -1.3 -5.2M308.6 250.1a3.7 .9 80 1 0 1.3 7.2a3.7 .9 80 1 0 -1.3 -7.2M248.5 295.4a2.6 1.2 63 1 0 2.3 4.6a2.6 1.2 63 1 0 -2.3 -4.6M267.3 322.3a4.4 1.1 62 1 0 4.1 7.8a4.4 1.1 62 1 0 -4.1 -7.8M284.6 293.3a3.2 1.1 121 1 0 -3.3 5.5a3.2 1.1 121 1 0 3.3 -5.5M279.8 321.8a3.1 .7 57 1 0 3.4 5.2a3.1 .7 57 1 0 -3.4 -5.2M263.5 320.1a2.7 1 77 1 0 1.2 5.2a2.7 1 77 1 0 -1.2 -5.2M333.6 266.1a2 1.1 132 1 0 2.7 -3a2 1.1 132 1 0 -2.7 3M349.8 338.7a4.3 .6 124 1 0 4.9 -7.2a4.3 .6 124 1 0 -4.9 7.2M278.5 313.5a2.6 .8 70 1 0 1.8 4.9a2.6 .8 70 1 0 -1.8 -4.9M342.3 253.2a2.5 .8 155 1 0 4.5 -2.1a2.5 .8 155 1 0 -4.5 2.1M296.5 312.6a2.7 .8 87 1 0 .3 5.3a2.7 .8 87 1 0 -.3 -5.3M295.9 250.4a3.5 1.2 102 1 0 -1.4 6.8a3.5 1.2 102 1 0 1.4 -6.8M329.4 283.4a3.7 1.3 128 1 0 4.6 -5.8a3.7 1.3 128 1 0 -4.6 5.8M367.5 272.7a4.4 .8 64 1 0 3.8 8a4.4 .8 64 1 0 -3.8 -8M288.9 269.7a3.2 1.1 109 1 0 -2 6a3.2 1.1 109 1 0 2 -6M322.2 331.3a3.1 1.1 124 1 0 3.4 -5.2a3.1 1.1 124 1 0 -3.4 5.2M251 300.5a2 1.1 58 1 0 2.2 3.4a2 1.1 58 1 0 -2.2 -3.4M266 263.9a2.9 .9 73 1 0 1.7 5.5a2.9 .9 73 1 0 -1.7 -5.5M353.7 327.2a3.5 .7 85 1 0 .7 7a3.5 .7 85 1 0 -.7 -7M356.2 328.1a2.1 .6 146 1 0 3.5 -2.4a2.1 .6 146 1 0 -3.5 2.4M291.1 273.9a3.7 1 62 1 0 3.5 6.5a3.7 1 62 1 0 -3.5 -6.5M306.4 286.3a4.5 .9 124 1 0 -5 7.4a4.5 .9 124 1 0 5 -7.4M282.1 326.8a2.1 .8 79 1 0 .8 4a2.1 .8 79 1 0 -.8 -4M300.2 336a2.2 1.2 95 1 0 -.4 4.4a2.2 1.2 95 1 0 .4 -4.4M294.8 267.7a4 1 89 1 0 .1 8a4 1 89 1 0 -.1 -8M290.3 336.6a4.3 .8 111 1 0 -3.1 8a4.3 .8 111 1 0 3.1 -8M246.4 244.1a4 1.2 63 1 0 3.6 7.1a4 1.2 63 1 0 -3.6 -7.1M258.7 287.1a3 .9 65 1 0 2.5 5.4a3 .9 65 1 0 -2.5 -5.4M275.5 310.5a2.8 1.3 78 1 0 1.2 5.5a2.8 1.3 78 1 0 -1.2 -5.5M360.1 277.8a3.9 1.2 135 1 0 5.5 -5.5a3.9 1.2 135 1 0 -5.5 5.5M291.7 339a3.6 .7 60 1 0 3.5 6.2a3.6 .7 60 1 0 -3.5 -6.2M249.9 338.2a3.3 1.1 71 1 0 2.1 6.3a3.3 1.1 71 1 0 -2.1 -6.3M297.5 287.9a3.8 .9 89 1 0 .1 7.7a3.8 .9 89 1 0 -.1 -7.7M342.2 280.6a2.6 .9 124 1 0 2.9 -4.4a2.6 .9 124 1 0 -2.9 4.4M345.2 319.6a3.3 1.2 153 1 0 5.8 -3a3.3 1.2 153 1 0 -5.8 3M269 334.3a3.6 1.3 73 1 0 2.2 6.9a3.6 1.3 73 1 0 -2.2 -6.9M277.8 314.1a2.8 .7 58 1 0 3 4.8a2.8 .7 58 1 0 -3 -4.8M247.4 242.4a2.8 1 68 1 0 2.1 5.2a2.8 1 68 1 0 -2.1 -5.2M367.4 274.9a3 1.2 137 1 0 4.4 -4.1a3 1.2 137 1 0 -4.4 4.1M332.2 322.2a4.1 .9 121 1 0 4.1 -7a4.1 .9 121 1 0 -4.1 7M251 315.5a2.3 1.3 71 1 0 1.5 4.4a2.3 1.3 71 1 0 -1.5 -4.4M372.5 338.3a3.9 .9 151 1 0 6.7 -3.8a3.9 .9 151 1 0 -6.7 3.8M284.5 288.2a3.1 .7 83 1 0 .8 6.2a3.1 .7 83 1 0 -.8 -6.2M276.3 325.5a4.1 .6 82 1 0 1.1 8.1a4.1 .6 82 1 0 -1.1 -8.1M278.8 267.5a3.6 1.1 81 1 0 1.1 7.1a3.6 1.1 81 1 0 -1.1 -7.1M299.6 282.6a4.2 .6 118 1 0 -3.9 7.4a4.2 .6 118 1 0 3.9 -7.4M311.7 313.6a3.6 .8 103 1 0 -1.7 7a3.6 .8 103 1 0 1.7 -7M342.1 347.3a4.2 .6 141 1 0 6.5 -5.3a4.2 .6 141 1 0 -6.5 5.3M316.3 273.5a2.6 1.2 152 1 0 4.6 -2.4a2.6 1.2 152 1 0 -4.6 2.4M313.4 245.3a3.8 .6 152 1 0 6.7 -3.6a3.8 .6 152 1 0 -6.7 3.6M363.2 300.1a4.2 .6 99 1 0 -1.4 8.3a4.2 .6 99 1 0 1.4 -8.3M311.4 315.9a3.9 1.1 82 1 0 1.1 7.8a3.9 1.1 82 1 0 -1.1 -7.8M283.5 334.9a3.5 .8 122 1 0 -3.7 6a3.5 .8 122 1 0 3.7 -6M283 320.9a4.5 1.1 77 1 0 2.1 8.7a4.5 1.1 77 1 0 -2.1 -8.7M290.5 341.2a4.1 1.1 117 1 0 -3.6 7.3a4.1 1.1 117 1 0 3.6 -7.3M341 260.4a4 .8 123 1 0 4.3 -6.6a4 .8 123 1 0 -4.3 6.6M312.2 267.9a3.6 1.1 104 1 0 -1.8 7a3.6 1.1 104 1 0 1.8 -7M318.6 259.2a3.3 .8 125 1 0 3.7 -5.4a3.3 .8 125 1 0 -3.7 5.4M307.6 310a4.1 .7 67 1 0 3.2 7.4a4.1 .7 67 1 0 -3.2 -7.4M360.4 283.6a4 1.1 79 1 0 1.5 7.9a4 1.1 79 1 0 -1.5 -7.9M305.5 300.8a2.7 .7 88 1 0 .2 5.3a2.7 .7 88 1 0 -.2 -5.3M349.1 346.2a2.2 1.2 154 1 0 4 -1.9a2.2 1.2 154 1 0 -4 1.9M284.2 342.1a2.1 1 121 1 0 -2.1 3.6a2.1 1 121 1 0 2.1 -3.6M316.1 271.6a2.5 1 148 1 0 4.3 -2.7a2.5 1 148 1 0 -4.3 2.7M262.6 329.3a3.4 1 62 1 0 3.2 6a3.4 1 62 1 0 -3.2 -6M273.9 267.5a3.7 1.2 85 1 0 .7 7.4a3.7 1.2 85 1 0 -.7 -7.4M283.5 307.9a2.7 1 124 1 0 -3.1 4.6a2.7 1 124 1 0 3.1 -4.6M319.4 296.1a2.9 .7 72 1 0 1.8 5.6a2.9 .7 72 1 0 -1.8 -5.6M289.2 293.5a2.2 1.3 122 1 0 -2.3 3.7a2.2 1.3 122 1 0 2.3 -3.7M363 311.7a3.6 .6 69 1 0 2.5 6.6a3.6 .6 69 1 0 -2.5 -6.6M342.9 262.8a2.5 .9 146 1 0 4.2 -2.8a2.5 .9 146 1 0 -4.2 2.8M290.8 338.9a3.3 .8 98 1 0 -.9 6.6a3.3 .8 98 1 0 .9 -6.6M293.3 321.5a2.8 1.1 87 1 0 .3 5.7a2.8 1.1 87 1 0 -.3 -5.7M245.9 245a3.4 .8 80 1 0 1.2 6.7a3.4 .8 80 1 0 -1.2 -6.7M353.2 248.1a2.1 .8 134 1 0 3 -3.1a2.1 .8 134 1 0 -3 3.1M283.9 249.5a3.6 .9 71 1 0 2.3 6.7a3.6 .9 71 1 0 -2.3 -6.7M271.4 271.4a4.1 1.2 83 1 0 1 8.1a4.1 1.2 83 1 0 -1 -8.1M268.2 281a3.1 1.1 64 1 0 2.7 5.5a3.1 1.1 64 1 0 -2.7 -5.5M306.5 294.9a4.3 1 113 1 0 -3.3 7.9a4.3 1 113 1 0 3.3 -7.9"/>
<path fill="#9088c4" d="M277.5 282.7a2.4 .7 62 1 0 2.3 4.3a2.4 .7 62 1 0 -2.3 -4.3M302.3 294.9a3 1.2 121 1 0 -3.1 5.2a3 1.2 121 1 0 3.1 -5.2M373.8 281.5a4.4 1.1 137 1 0 6.4 -6a4.4 1.1 137 1 0 -6.4 6M320.4 269.4a3.2 .7 78 1 0 1.3 6.2a3.2 .7 78 1 0 -1.3 -6.2M300.1 323.7a3.5 .6 108 1 0 -2.1 6.7a3.5 .6 108 1 0 2.1 -6.7M312.2 327.4a2.2 .7 105 1 0 -1.1 4.2a2.2 .7 105 1 0 1.1 -4.2M312.1 283.8a2.4 .8 80 1 0 .9 4.7a2.4 .8 80 1 0 -.9 -4.7M247.9 293.6a3.9 .8 64 1 0 3.4 7.1a3.9 .8 64 1 0 -3.4 -7.1M250.6 312.9a3 .9 57 1 0 3.3 5a3 .9 57 1 0 -3.3 -5M275.1 262.8a3.1 1.1 73 1 0 1.8 5.9a3.1 1.1 73 1 0 -1.8 -5.9M313.3 294.6a2.7 1.2 151 1 0 4.8 -2.6a2.7 1.2 151 1 0 -4.8 2.6M302.7 254a3.4 1.3 111 1 0 -2.4 6.4a3.4 1.3 111 1 0 2.4 -6.4M337.4 310.8a3.8 .6 69 1 0 2.7 7a3.8 .6 69 1 0 -2.7 -7M367.2 246.6a3.5 1.2 147 1 0 5.8 -3.8a3.5 1.2 147 1 0 -5.8 3.8M335 295.9a3.1 1 138 1 0 4.6 -4.2a3.1 1 138 1 0 -4.6 4.2M282.4 270.4a2.7 .7 61 1 0 2.6 4.8a2.7 .7 61 1 0 -2.6 -4.8M358.7 329.7a2.2 1 146 1 0 3.7 -2.5a2.2 1 146 1 0 -3.7 2.5M262.8 259.9a3.6 1.3 60 1 0 3.6 6.3a3.6 1.3 60 1 0 -3.6 -6.3M309.2 292.4a2.4 .9 123 1 0 -2.6 4.1a2.4 .9 123 1 0 2.6 -4.1M309.3 308.2a3.3 1 102 1 0 -1.4 6.5a3.3 1 102 1 0 1.4 -6.5M284.3 317.9a4.1 .9 95 1 0 -.8 8.2a4.1 .9 95 1 0 .8 -8.2M363.8 265.3a3.5 .8 152 1 0 6.3 -3.3a3.5 .8 152 1 0 -6.3 3.3M287.5 289.5a2.5 .7 118 1 0 -2.4 4.4a2.5 .7 118 1 0 2.4 -4.4M254.5 321.3a3.2 .9 55 1 0 3.6 5.2a3.2 .9 55 1 0 -3.6 -5.2M332.7 260a2.2 .7 138 1 0 3.3 -3a2.2 .7 138 1 0 -3.3 3M251.3 256.6a2.4 .7 64 1 0 2 4.2a2.4 .7 64 1 0 -2 -4.2M356.9 286.7a2.6 .6 141 1 0 4 -3.2a2.6 .6 141 1 0 -4 3.2M315.1 242.4a2.2 .9 82 1 0 .6 4.4a2.2 .9 82 1 0 -.6 -4.4M246 300.1a2.3 1 63 1 0 2.1 4.1a2.3 1 63 1 0 -2.1 -4.1M305.5 335.3a3.2 .8 62 1 0 3 5.7a3.2 .8 62 1 0 -3 -5.7M258.7 331.5a2.3 1 59 1 0 2.4 4a2.3 1 59 1 0 -2.4 -4M245.7 319.9a4.1 .9 82 1 0 1.2 8.2a4.1 .9 82 1 0 -1.2 -8.2M285.5 262.8a3.5 .9 96 1 0 -.7 6.9a3.5 .9 96 1 0 .7 -6.9M316.9 334.5a2.1 1 135 1 0 2.9 -2.9a2.1 1 135 1 0 -2.9 2.9M349.7 266.2a3.1 .7 147 1 0 5.2 -3.4a3.1 .7 147 1 0 -5.2 3.4M343 294.6a4 1.3 133 1 0 5.5 -5.8a4 1.3 133 1 0 -5.5 5.8M330.5 256.2a3.4 .7 123 1 0 3.6 -5.7a3.4 .7 123 1 0 -3.6 5.7M278.1 246.5a2.7 .9 75 1 0 1.4 5.2a2.7 .9 75 1 0 -1.4 -5.2M352.4 244.8a3.2 .7 145 1 0 5.2 -3.6a3.2 .7 145 1 0 -5.2 3.6M304.9 315.2a3.3 .8 124 1 0 -3.7 5.5a3.3 .8 124 1 0 3.7 -5.5M256.6 308.2a3.9 .9 68 1 0 2.9 7.2a3.9 .9 68 1 0 -2.9 -7.2M245.3 338.9a4.4 1.2 68 1 0 3.3 8.2a4.4 1.2 68 1 0 -3.3 -8.2M276.9 250.4a2.9 .9 73 1 0 1.7 5.6a2.9 .9 73 1 0 -1.7 -5.6M258.7 334.1a3.9 .9 61 1 0 3.8 6.8a3.9 .9 61 1 0 -3.8 -6.8M251.3 242.5a2.8 .9 79 1 0 1.1 5.5a2.8 .9 79 1 0 -1.1 -5.5M305.3 322.4a4.5 .8 118 1 0 -4.2 7.9a4.5 .8 118 1 0 4.2 -7.9M285.2 320.7a3 1.2 114 1 0 -2.5 5.5a3 1.2 114 1 0 2.5 -5.5M354 262.6a2.8 1.1 133 1 0 3.9 -4.1a2.8 1.1 133 1 0 -3.9 4.1M331.6 267.6a2.6 1 153 1 0 4.7 -2.3a2.6 1 153 1 0 -4.7 2.3M287.9 265.1a2 .6 70 1 0 1.4 3.8a2 .6 70 1 0 -1.4 -3.8M337 247.6a2.7 .6 85 1 0 .5 5.4a2.7 .6 85 1 0 -.5 -5.4M253.4 261.7a2.4 .7 75 1 0 1.2 4.6a2.4 .7 75 1 0 -1.2 -4.6M317.9 252.6a3.3 1.3 149 1 0 5.6 -3.3a3.3 1.3 149 1 0 -5.6 3.3M246.4 339.2a4.1 1.2 78 1 0 1.7 8.1a4.1 1.2 78 1 0 -1.7 -8.1M297.4 274.4a4 .7 71 1 0 2.6 7.7a4 .7 71 1 0 -2.6 -7.7M300.9 276.4a2.4 1.1 66 1 0 1.9 4.3a2.4 1.1 66 1 0 -1.9 -4.3M292.4 271.4a3.5 .8 78 1 0 1.5 6.8a3.5 .8 78 1 0 -1.5 -6.8M253.9 264.7a2.8 1.1 68 1 0 2.1 5.2a2.8 1.1 68 1 0 -2.1 -5.2M270.7 291.9a2 .7 76 1 0 .9 3.9a2 .7 76 1 0 -.9 -3.9M255.7 293a3.6 1.2 82 1 0 1 7.2a3.6 1.2 82 1 0 -1 -7.2M258.6 271.5a3.6 .9 73 1 0 2.1 6.9a3.6 .9 73 1 0 -2.1 -6.9M244.7 260.1a3.6 1.1 66 1 0 2.9 6.6a3.6 1.1 66 1 0 -2.9 -6.6M285.2 261.2a4.5 1.1 99 1 0 -1.3 8.9a4.5 1.1 99 1 0 1.3 -8.9M302.2 297.7a3.6 1.1 96 1 0 -.7 7.2a3.6 1.1 96 1 0 .7 -7.2M294.8 313.4a4.3 .8 124 1 0 -4.7 7.1a4.3 .8 124 1 0 4.7 -7.1M328.6 254.9a3.7 .9 129 1 0 4.7 -5.8a3.7 .9 129 1 0 -4.7 5.8M261.3 276.9a3.9 .9 67 1 0 3.1 7.2a3.9 .9 67 1 0 -3.1 -7.2M371.8 320.8a2.5 .9 124 1 0 2.8 -4.1a2.5 .9 124 1 0 -2.8 4.1M252 341.7a4.1 1.3 61 1 0 4 7.2a4.1 1.3 61 1 0 -4 -7.2M259.7 286.5a3.2 1.2 66 1 0 2.6 5.9a3.2 1.2 66 1 0 -2.6 -5.9M254.3 278.4a3.9 .8 80 1 0 1.3 7.7a3.9 .8 80 1 0 -1.3 -7.7M317.6 300.6a4.2 1.1 129 1 0 5.4 -6.5a4.2 1.1 129 1 0 -5.4 6.5M309 252.5a2.3 1.1 65 1 0 1.9 4.1a2.3 1.1 65 1 0 -1.9 -4.1M273.7 300a2.3 1.1 76 1 0 1.1 4.4a2.3 1.1 76 1 0 -1.1 -4.4M366.5 296.3a3.7 .9 82 1 0 1 7.3a3.7 .9 82 1 0 -1 -7.3M245.8 335.1a3.7 .6 70 1 0 2.5 6.9a3.7 .6 70 1 0 -2.5 -6.9M316.3 251.3a4.4 .8 155 1 0 8 -3.7a4.4 .8 155 1 0 -8 3.7M263.9 282.7a2.9 .8 68 1 0 2.1 5.4a2.9 .8 68 1 0 -2.1 -5.4M250.5 256.9a4.2 .8 57 1 0 4.5 7.1a4.2 .8 57 1 0 -4.5 -7.1M359.4 284.2a3.2 1.3 150 1 0 5.6 -3.2a3.2 1.3 150 1 0 -5.6 3.2M333.8 253.5a3.7 .6 124 1 0 4.1 -6.1a3.7 .6 124 1 0 -4.1 6.1M314.9 267.5a3.5 .9 131 1 0 4.5 -5.2a3.5 .9 131 1 0 -4.5 5.2M268.1 305.9a2.6 1.1 56 1 0 2.9 4.2a2.6 1.1 56 1 0 -2.9 -4.2M311.9 274.8a4.2 .6 134 1 0 5.7 -6a4.2 .6 134 1 0 -5.7 6M361.7 314.1a2.4 .6 73 1 0 1.4 4.6a2.4 .6 73 1 0 -1.4 -4.6M363.4 288.3a3.2 .9 134 1 0 4.5 -4.7a3.2 .9 134 1 0 -4.5 4.7M286.9 336.4a4.4 1 103 1 0 -1.9 8.6a4.4 1 103 1 0 1.9 -8.6M290.6 258.2a2.1 1 113 1 0 -1.7 3.9a2.1 1 113 1 0 1.7 -3.9M286.8 256.7a3.3 .9 77 1 0 1.5 6.4a3.3 .9 77 1 0 -1.5 -6.4M349.5 250.5a3.5 1.2 136 1 0 5.1 -4.8a3.5 1.2 136 1 0 -5.1 4.8M350.7 270.9a2.4 1 67 1 0 1.8 4.4a2.4 1 67 1 0 -1.8 -4.4M303.4 335a4.3 1.2 83 1 0 1.1 8.5a4.3 1.2 83 1 0 -1.1 -8.5M280.3 278.8a3 .7 65 1 0 2.5 5.4a3 .7 65 1 0 -2.5 -5.4M276.8 308.1a2.8 1.2 74 1 0 1.6 5.3a2.8 1.2 74 1 0 -1.6 -5.3M247.8 253.6a4.2 1.2 74 1 0 2.3 8.2a4.2 1.2 74 1 0 -2.3 -8.2M270.4 282.2a2.1 1.3 77 1 0 1 4.1a2.1 1.3 77 1 0 -1 -4.1M286.9 326.7a3.7 .8 70 1 0 2.5 7a3.7 .8 70 1 0 -2.5 -7M350.8 279.4a4.5 1 131 1 0 5.8 -6.8a4.5 1 131 1 0 -5.8 6.8M362.9 325.2a2.6 .8 121 1 0 2.7 -4.4a2.6 .8 121 1 0 -2.7 4.4M256.9 294.3a4 1.2 64 1 0 3.4 7.1a4 1.2 64 1 0 -3.4 -7.1M348.3 303.9a3.2 .8 140 1 0 4.9 -4.1a3.2 .8 140 1 0 -4.9 4.1M359 305a2.5 .6 72 1 0 1.5 4.7a2.5 .6 72 1 0 -1.5 -4.7M261.5 266.8a3.3 1 74 1 0 1.8 6.4a3.3 1 74 1 0 -1.8 -6.4M262.1 306.3a4.3 .6 65 1 0 3.6 7.8a4.3 .6 65 1 0 -3.6 -7.8M294.1 318.9a3.8 1.2 124 1 0 -4.3 6.4a3.8 1.2 124 1 0 4.3 -6.4M276.3 315a3.5 .8 64 1 0 3 6.3a3.5 .8 64 1 0 -3 -6.3M329.5 269.2a3 .8 71 1 0 2 5.7a3 .8 71 1 0 -2 -5.7M295.3 319.5a2.6 1 110 1 0 -1.8 4.9a2.6 1 110 1 0 1.8 -4.9M371.5 268.6a2.2 .9 72 1 0 1.4 4.3a2.2 .9 72 1 0 -1.4 -4.3M287.3 296.3a3.3 1 89 1 0 .1 6.7a3.3 1 89 1 0 -.1 -6.7M265.8 243.2a2.5 1 84 1 0 .5 4.9a2.5 1 84 1 0 -.5 -4.9M312.3 253.6a2.2 .7 111 1 0 -1.6 4.1a2.2 .7 111 1 0 1.6 -4.1M248.9 322.8a2.5 1.3 76 1 0 1.2 4.9a2.5 1.3 76 1 0 -1.2 -4.9"/>
<path fill="#c090c0" d="M269.1 263.5a3.4 1.3 59 1 0 3.5 5.9a3.4 1.3 59 1 0 -3.5 -5.9M274.8 293.1a3.8 1.3 78 1 0 1.7 7.5a3.8 1.3 78 1 0 -1.7 -7.5M281.3 316.1a2.6 .7 83 1 0 .6 5.1a2.6 .7 83 1 0 -.6 -5.1M264.2 290.7a2.6 1.1 75 1 0 1.4 5.1a2.6 1.1 75 1 0 -1.4 -5.1M270.7 277.1a3.5 1 80 1 0 1.2 6.8a3.5 1 80 1 0 -1.2 -6.8M305.5 251.3a3 .9 103 1 0 -1.4 5.8a3 .9 103 1 0 1.4 -5.8M333.7 314a3.3 1.1 141 1 0 5.2 -4.2a3.3 1.1 141 1 0 -5.2 4.2M290.8 252.2a3.3 1.1 80 1 0 1.1 6.5a3.3 1.1 80 1 0 -1.1 -6.5M318.4 308.5a3.6 1.2 79 1 0 1.4 7a3.6 1.2 79 1 0 -1.4 -7M261.4 322.8a2.7 1 77 1 0 1.2 5.3a2.7 1 77 1 0 -1.2 -5.3M251.3 296.1a3.2 1.4 58 1 0 3.4 5.5a3.2 1.4 58 1 0 -3.4 -5.5M282.9 276.4a3.3 1.2 103 1 0 -1.5 6.3a3.3 1.2 103 1 0 1.5 -6.3M321.8 311.5a2.1 1 136 1 0 3.1 -3a2.1 1 136 1 0 -3.1 3M342.7 330.8a2.3 1.3 151 1 0 4.1 -2.3a2.3 1.3 151 1 0 -4.1 2.3M344.8 260.5a3.4 1.2 150 1 0 6 -3.4a3.4 1.2 150 1 0 -6 3.4M329.6 247.2a2.4 1 122 1 0 2.6 -4.1a2.4 1 122 1 0 -2.6 4.1M324.8 331.9a3.3 1.3 136 1 0 4.7 -4.6a3.3 1.3 136 1 0 -4.7 4.6M268.5 311.1a3.3 1.3 67 1 0 2.5 6.1a3.3 1.3 67 1 0 -2.5 -6.1M312.2 287.1a2 1.4 97 1 0 -.5 4a2 1.4 97 1 0 .5 -4M269.7 248.1a3 1.4 80 1 0 1.1 5.8a3 1.4 80 1 0 -1.1 -5.8M267.6 247.5a3.9 1 62 1 0 3.6 6.9a3.9 1 62 1 0 -3.6 -6.9M261.3 304.4a2.6 1.3 68 1 0 2 4.8a2.6 1.3 68 1 0 -2 -4.8M264.3 276.2a3.1 .7 60 1 0 3.1 5.4a3.1 .7 60 1 0 -3.1 -5.4M265.1 309.4a3.1 1.2 84 1 0 .7 6.2a3.1 1.2 84 1 0 -.7 -6.2M293.2 269.2a2.4 1.1 70 1 0 1.7 4.6a2.4 1.1 70 1 0 -1.7 -4.6M359.4 316.4a3.7 1.1 96 1 0 -.8 7.3a3.7 1.1 96 1 0 .8 -7.3M298.2 255.3a3.7 1.4 72 1 0 2.3 7a3.7 1.4 72 1 0 -2.3 -7M286.8 245.5a2.3 1.4 82 1 0 .7 4.5a2.3 1.4 82 1 0 -.7 -4.5M301.2 337a4 1.2 101 1 0 -1.6 7.8a4 1.2 101 1 0 1.6 -7.8M340.8 253.3a2.8 1.1 135 1 0 4 -4a2.8 1.1 135 1 0 -4 4M302.8 288.3a3.5 1 101 1 0 -1.3 7a3.5 1 101 1 0 1.3 -7M248.2 312.7a2.7 1.4 72 1 0 1.7 5.1a2.7 1.4 72 1 0 -1.7 -5.1M360 249.1a2.4 .7 135 1 0 3.4 -3.4a2.4 .7 135 1 0 -3.4 3.4M265.6 315.4a3.2 .9 80 1 0 1.1 6.3a3.2 .9 80 1 0 -1.1 -6.3M290.3 267.7a3.9 1.1 103 1 0 -1.8 7.6a3.9 1.1 103 1 0 1.8 -7.6M304.6 293.1a3.8 .8 105 1 0 -2 7.4a3.8 .8 105 1 0 2 -7.4M358.3 274.6a2.9 .7 81 1 0 .9 5.7a2.9 .7 81 1 0 -.9 -5.7M271.2 279.1a3.5 1 58 1 0 3.7 6a3.5 1 58 1 0 -3.7 -6M268.3 243.8a3 .9 82 1 0 .8 6a3 .9 82 1 0 -.8 -6M283.9 291.2a2.7 1 87 1 0 .3 5.4a2.7 1 87 1 0 -.3 -5.4M355.8 264a2.5 .9 135 1 0 3.5 -3.5a2.5 .9 135 1 0 -3.5 3.5M315.9 312.1a2 1.3 81 1 0 .7 4a2 1.3 81 1 0 -.7 -4M356.6 249.4a2.6 1 121 1 0 2.7 -4.5a2.6 1 121 1 0 -2.7 4.5M256.1 276.1a2.9 1 84 1 0 .6 5.7a2.9 1 84 1 0 -.6 -5.7M313.8 319.4a2.2 .8 74 1 0 1.2 4.2a2.2 .8 74 1 0 -1.2 -4.2M338.2 335.7a3.6 1.1 140 1 0 5.5 -4.6a3.6 1.1 140 1 0 -5.5 4.6M263.7 269.5a4 .9 76 1 0 1.9 7.8a4 .9 76 1 0 -1.9 -7.8M354 296.3a2.9 .8 73 1 0 1.7 5.6a2.9 .8 73 1 0 -1.7 -5.6M316.8 269.3a3.3 1.2 96 1 0 -.7 6.6a3.3 1.2 96 1 0 .7 -6.6M305 318.8a2.5 1.1 84 1 0 .5 5.1a2.5 1.1 84 1 0 -.5 -5.1M279.5 281a3.5 1.3 59 1 0 3.6 5.9a3.5 1.3 59 1 0 -3.6 -5.9M250 253a2.6 .8 71 1 0 1.7 5a2.6 .8 71 1 0 -1.7 -5M365.7 280.7a2.7 .9 137 1 0 3.9 -3.7a2.7 .9 137 1 0 -3.9 3.7M319.7 339.6a2.3 1.1 139 1 0 3.5 -3.1a2.3 1.1 139 1 0 -3.5 3.1M358.2 323.1a2.3 1 97 1 0 -.6 4.5a2.3 1 97 1 0 .6 -4.5M274.1 323.2a3.3 .8 80 1 0 1.2 6.4a3.3 .8 80 1 0 -1.2 -6.4M355.6 257.1a2.9 1.2 67 1 0 2.3 5.4a2.9 1.2 67 1 0 -2.3 -5.4M256.7 242.7a2.8 1.1 82 1 0 .8 5.5a2.8 1.1 82 1 0 -.8 -5.5M290.1 278.6a2.2 .7 74 1 0 1.2 4.2a2.2 .7 74 1 0 -1.2 -4.2M284.8 320.7a3.6 .8 63 1 0 3.3 6.4a3.6 .8 63 1 0 -3.3 -6.4M259.4 307.5a3.3 .8 80 1 0 1.1 6.4a3.3 .8 80 1 0 -1.1 -6.4M297.8 274.9a3.2 .8 71 1 0 2.1 6.1a3.2 .8 71 1 0 -2.1 -6.1M257.4 255.4a3.8 .8 81 1 0 1.1 7.5a3.8 .8 81 1 0 -1.1 -7.5M345.8 247.2a3.9 .9 144 1 0 6.3 -4.6a3.9 .9 144 1 0 -6.3 4.6M317.3 269.8a4 1 72 1 0 2.5 7.6a4 1 72 1 0 -2.5 -7.6M275.7 278.3a2.8 .9 85 1 0 .5 5.6a2.8 .9 85 1 0 -.5 -5.6"/>
<path fill="#b898c8" d="M265.3 287.7a3.2 .9 74 1 0 1.8 6.2a3.2 .9 74 1 0 -1.8 -6.2M292 282.7a3.2 1.2 62 1 0 3 5.7a3.2 1.2 62 1 0 -3 -5.7M303.8 314.4a3.8 1.1 121 1 0 -3.9 6.5a3.8 1.1 121 1 0 3.9 -6.5M254.8 282a3.7 .8 72 1 0 2.3 7a3.7 .8 72 1 0 -2.3 -7M356.9 330.4a3.6 1.3 129 1 0 4.5 -5.6a3.6 1.3 129 1 0 -4.5 5.6M349.5 297.4a3.2 1.1 146 1 0 5.4 -3.6a3.2 1.1 146 1 0 -5.4 3.6M305 250.1a3.1 1.2 105 1 0 -1.6 6.1a3.1 1.2 105 1 0 1.6 -6.1M270.7 254.6a3 1.1 76 1 0 1.5 5.8a3 1.1 76 1 0 -1.5 -5.8M297.7 308.6a2.9 1 80 1 0 1 5.6a2.9 1 80 1 0 -1 -5.6M259.2 283.2a3.3 .8 66 1 0 2.7 6a3.3 .8 66 1 0 -2.7 -6M267.4 287a2.9 .8 59 1 0 2.9 4.9a2.9 .8 59 1 0 -2.9 -4.9M255.9 248a2.6 1.3 61 1 0 2.5 4.5a2.6 1.3 61 1 0 -2.5 -4.5M298.7 242.1a2.1 .8 66 1 0 1.7 3.8a2.1 .8 66 1 0 -1.7 -3.8M278.8 250.6a4 1.4 70 1 0 2.7 7.5a4 1.4 70 1 0 -2.7 -7.5M254.3 323.4a3.1 .7 78 1 0 1.3 6a3.1 .7 78 1 0 -1.3 -6M358.7 289.7a3.1 .8 134 1 0 4.3 -4.4a3.1 .8 134 1 0 -4.3 4.4M366.5 283a2.4 1.4 127 1 0 2.9 -3.8a2.4 1.4 127 1 0 -2.9 3.8M310.8 321.3a3 .7 85 1 0 .5 6a3 .7 85 1 0 -.5 -6M249.2 285.2a2.6 1 71 1 0 1.7 4.9a2.6 1 71 1 0 -1.7 -4.9M278.4 313.6a2.7 .8 83 1 0 .7 5.4a2.7 .8 83 1 0 -.7 -5.4M278.3 272.1a3.7 1.2 78 1 0 1.6 7.2a3.7 1.2 78 1 0 -1.6 -7.2M272.9 252a3.4 .9 71 1 0 2.2 6.4a3.4 .9 71 1 0 -2.2 -6.4M263.6 329.2a3 .8 80 1 0 1 6a3 .8 80 1 0 -1 -6M299.5 252.5a3.7 1.1 121 1 0 -3.8 6.4a3.7 1.1 121 1 0 3.8 -6.4M275.3 319.5a2.7 .9 80 1 0 1 5.4a2.7 .9 80 1 0 -1 -5.4M245.2 326.5a2.5 1.3 62 1 0 2.4 4.5a2.5 1.3 62 1 0 -2.4 -4.5M291.1 326.1a3.4 1.3 113 1 0 -2.7 6.3a3.4 1.3 113 1 0 2.7 -6.3M287.4 247a2.8 1.2 97 1 0 -.7 5.5a2.8 1.2 97 1 0 .7 -5.5M350.3 320.5a2.3 1.3 60 1 0 2.2 3.9a2.3 1.3 60 1 0 -2.2 -3.9M300.9 285.6a3.9 1.3 102 1 0 -1.6 7.7a3.9 1.3 102 1 0 1.6 -7.7M266.9 314.2a3.2 1.3 77 1 0 1.5 6.3a3.2 1.3 77 1 0 -1.5 -6.3M284.8 285.1a3.1 1.2 114 1 0 -2.6 5.7a3.1 1.2 114 1 0 2.6 -5.7M248.2 317.6a2.9 1.4 59 1 0 3 5a2.9 1.4 59 1 0 -3 -5M310.9 315a3.3 .9 96 1 0 -.7 6.5a3.3 .9 96 1 0 .7 -6.5M266.6 306.6a3.6 .9 72 1 0 2.3 6.8a3.6 .9 72 1 0 -2.3 -6.8M251.9 292.4a2.7 1.3 73 1 0 1.5 5.1a2.7 1.3 73 1 0 -1.5 -5.1M337.4 268.9a3 1.2 150 1 0 5.2 -3a3 1.2 150 1 0 -5.2 3M273.6 304.5a3 1.1 79 1 0 1.2 5.9a3 1.1 79 1 0 -1.2 -5.9M271 323.7a2.8 1.2 66 1 0 2.2 5a2.8 1.2 66 1 0 -2.2 -5M309.4 252.6a3.1 1.3 106 1 0 -1.7 5.9a3.1 1.3 106 1 0 1.7 -5.9M292.2 258.6a2.3 1 109 1 0 -1.5 4.3a2.3 1 109 1 0 1.5 -4.3M310 259.6a2.6 .9 154 1 0 4.8 -2.3a2.6 .9 154 1 0 -4.8 2.3M270.4 295a2.3 1.3 55 1 0 2.7 3.8a2.3 1.3 55 1 0 -2.7 -3.8M279 291.4a3.2 1.1 68 1 0 2.3 5.9a3.2 1.1 68 1 0 -2.3 -5.9M286.2 305.7a2.1 1.1 78 1 0 .9 4.2a2.1 1.1 78 1 0 -.9 -4.2M247.4 278.4a2.1 .8 66 1 0 1.7 3.8a2.1 .8 66 1 0 -1.7 -3.8M280.1 340.2a2.2 1.2 69 1 0 1.5 4a2.2 1.2 69 1 0 -1.5 -4M262.4 292.4a2.3 1 77 1 0 1.1 4.6a2.3 1 77 1 0 -1.1 -4.6M294.8 288.8a2.3 .8 85 1 0 .4 4.7a2.3 .8 85 1 0 -.4 -4.7M333.7 322.7a2.8 1 151 1 0 4.9 -2.8a2.8 1 151 1 0 -4.9 2.8M346.2 325.1a3.1 .9 68 1 0 2.3 5.7a3.1 .9 68 1 0 -2.3 -5.7M251.7 299a2.6 .9 69 1 0 1.8 4.8a2.6 .9 69 1 0 -1.8 -4.8M289.3 314.5a2 1.1 85 1 0 .4 4.1a2 1.1 85 1 0 -.4 -4.1M265.5 271.4a2.7 .8 63 1 0 2.4 4.7a2.7 .8 63 1 0 -2.4 -4.7M269.5 292.6a4 .7 84 1 0 .8 7.9a4 .7 84 1 0 -.8 -7.9M297.5 245.4a2.1 1 69 1 0 1.4 3.8a2.1 1 69 1 0 -1.4 -3.8M339.9 245.8a2.2 1.4 123 1 0 2.4 -3.7a2.2 1.4 123 1 0 -2.4 3.7M255.1 336.3a3.3 1.2 62 1 0 3.2 5.9a3.3 1.2 62 1 0 -3.2 -5.9M257.3 324.8a2.2 .8 70 1 0 1.5 4.1a2.2 .8 70 1 0 -1.5 -4.1M255.4 269.1a2.5 1 59 1 0 2.6 4.2a2.5 1 59 1 0 -2.6 -4.2"/>
<path fill="#cca0cc" d="M304.6 333.7a2.9 .8 84 1 0 .6 5.9a2.9 .8 84 1 0 -.6 -5.9M318.2 297.9a3.2 1.2 133 1 0 4.3 -4.7a3.2 1.2 133 1 0 -4.3 4.7M259.1 269.9a2.7 .9 68 1 0 2 5.1a2.7 .9 68 1 0 -2 -5.1M269 338.3a2.4 .9 70 1 0 1.7 4.5a2.4 .9 70 1 0 -1.7 -4.5M277.8 308.1a3.4 .8 81 1 0 1.1 6.8a3.4 .8 81 1 0 -1.1 -6.8M302.6 308.8a3.5 .8 101 1 0 -1.3 6.9a3.5 .8 101 1 0 1.3 -6.9M355.3 260.1a3.7 .8 132 1 0 4.9 -5.4a3.7 .8 132 1 0 -4.9 5.4M303.9 262.2a3.7 .7 115 1 0 -3.1 6.7a3.7 .7 115 1 0 3.1 -6.7M289 313.1a3.2 .8 105 1 0 -1.7 6.2a3.2 .8 105 1 0 1.7 -6.2M291.9 275a3.6 1.3 67 1 0 2.8 6.6a3.6 1.3 67 1 0 -2.8 -6.6M338.1 306.7a4 1.1 152 1 0 7.1 -3.7a4 1.1 152 1 0 -7.1 3.7M324.7 318.2a2.5 1 152 1 0 4.4 -2.3a2.5 1 152 1 0 -4.4 2.3M289.7 303.7a2.3 .8 83 1 0 .6 4.6a2.3 .8 83 1 0 -.6 -4.6M313 263.7a3.1 .8 139 1 0 4.7 -4a3.1 .8 139 1 0 -4.7 4M334 254.6a2.4 .9 81 1 0 .8 4.8a2.4 .9 81 1 0 -.8 -4.8M307.6 294.4a2.6 1.2 111 1 0 -1.9 4.9a2.6 1.2 111 1 0 1.9 -4.9M321.1 263.2a4 1.1 134 1 0 5.5 -5.7a4 1.1 134 1 0 -5.5 5.7M348 261.6a3.9 .8 154 1 0 7.1 -3.5a3.9 .8 154 1 0 -7.1 3.5M283.7 325a2 1 72 1 0 1.2 3.9a2 1 72 1 0 -1.2 -3.9M294.3 245.2a2.4 1.3 109 1 0 -1.5 4.5a2.4 1.3 109 1 0 1.5 -4.5M280.4 298.5a3.4 1.3 83 1 0 .9 6.7a3.4 1.3 83 1 0 -.9 -6.7M325.1 260.5a3.6 .7 137 1 0 5.3 -4.8a3.6 .7 137 1 0 -5.3 4.8M263.5 283.6a3.7 1 84 1 0 .8 7.4a3.7 1 84 1 0 -.8 -7.4M273.8 285.4a3.4 .7 79 1 0 1.3 6.7a3.4 .7 79 1 0 -1.3 -6.7M246.6 269.9a2.3 .8 81 1 0 .7 4.6a2.3 .8 81 1 0 -.7 -4.6M319.8 324.4a3.8 .9 133 1 0 5.2 -5.5a3.8 .9 133 1 0 -5.2 5.5M359.8 263.8a2.8 1.2 120 1 0 2.8 -4.9a2.8 1.2 120 1 0 -2.8 4.9M357.6 286.9a2.3 .7 151 1 0 4 -2.2a2.3 .7 151 1 0 -4 2.2M341.6 334.7a2.4 1.3 75 1 0 1.3 4.7a2.4 1.3 75 1 0 -1.3 -4.7M267.7 247.3a2.1 .8 56 1 0 2.3 3.5a2.1 .8 56 1 0 -2.3 -3.5M277 294.9a3.7 .8 66 1 0 3 6.8a3.7 .8 66 1 0 -3 -6.8M277.5 307.5a2.6 1.2 78 1 0 1.1 5.1a2.6 1.2 78 1 0 -1.1 -5.1M346.9 319.8a2.6 .7 123 1 0 2.8 -4.4a2.6 .7 123 1 0 -2.8 4.4M265.7 338.1a2.4 1.2 55 1 0 2.7 3.9a2.4 1.2 55 1 0 -2.7 -3.9M255.2 323.1a3.9 1.4 65 1 0 3.3 7a3.9 1.4 65 1 0 -3.3 -7M311.3 320.4a3 1 98 1 0 -.8 5.9a3 1 98 1 0 .8 -5.9M266.8 282.6a2.1 .8 61 1 0 2.1 3.7a2.1 .8 61 1 0 -2.1 -3.7M337.6 268.5a3.5 .7 140 1 0 5.3 -4.5a3.5 .7 140 1 0 -5.3 4.5M361.6 343a2.1 1 154 1 0 3.8 -1.9a2.1 1 154 1 0 -3.8 1.9M287.8 280.7a2.5 .8 75 1 0 1.3 4.7a2.5 .8 75 1 0 -1.3 -4.7M255.7 253.5a2.3 1.2 66 1 0 1.9 4.3a2.3 1.2 66 1 0 -1.9 -4.3M277.1 341a3.5 1.3 77 1 0 1.6 6.8a3.5 1.3 77 1 0 -1.6 -6.8M264.9 283.5a2.8 1.2 58 1 0 2.9 4.7a2.8 1.2 58 1 0 -2.9 -4.7M252.2 268.8a3.6 .9 60 1 0 3.6 6.3a3.6 .9 60 1 0 -3.6 -6.3M301.3 287.4a2.5 1.1 68 1 0 1.9 4.6a2.5 1.1 68 1 0 -1.9 -4.6M245.2 257.5a3.8 .8 65 1 0 3.2 6.9a3.8 .8 65 1 0 -3.2 -6.9M302.9 330.3a2.7 .9 63 1 0 2.4 4.8a2.7 .9 63 1 0 -2.4 -4.8M254.5 256.7a3.9 1.1 58 1 0 4.1 6.7a3.9 1.1 58 1 0 -4.1 -6.7M312.8 304a2.7 1.4 138 1 0 4.1 -3.7a2.7 1.4 138 1 0 -4.1 3.7M277.9 263.4a3.3 1.3 68 1 0 2.4 6.1a3.3 1.3 68 1 0 -2.4 -6.1M287.1 252.6a3.2 1 115 1 0 -2.7 5.7a3.2 1 115 1 0 2.7 -5.7M335.2 310a2.4 1 85 1 0 .4 4.7a2.4 1 85 1 0 -.4 -4.7M273 292.2a3.9 1.4 78 1 0 1.6 7.7a3.9 1.4 78 1 0 -1.6 -7.7M245.8 253.1a3.1 1.3 70 1 0 2 5.8a3.1 1.3 70 1 0 -2 -5.8M346.6 275.8a3.3 .8 146 1 0 5.5 -3.7a3.3 .8 146 1 0 -5.5 3.7M300.8 296.2a2.5 .9 98 1 0 -.7 4.9a2.5 .9 98 1 0 .7 -4.9M265.5 294.3a3.2 1.3 83 1 0 .7 6.3a3.2 1.3 83 1 0 -.7 -6.3M337.3 260.8a2.8 1 150 1 0 4.9 -2.8a2.8 1 150 1 0 -4.9 2.8M353.8 276.7a4 .7 127 1 0 4.8 -6.4a4 .7 127 1 0 -4.8 6.4M292.5 318.8a3.3 .9 112 1 0 -2.4 6a3.3 .9 112 1 0 2.4 -6M262.9 323.2a3.7 1.1 84 1 0 .7 7.4a3.7 1.1 84 1 0 -.7 -7.4M262.8 270.9a2.4 1.2 73 1 0 1.4 4.5a2.4 1.2 73 1 0 -1.4 -4.5M258.9 251.6a3.1 .9 72 1 0 1.9 5.9a3.1 .9 72 1 0 -1.9 -5.9M271.6 307.8a4 1.3 84 1 0 .8 7.9a4 1.3 84 1 0 -.8 -7.9M274.2 285.2a2 .7 63 1 0 1.8 3.6a2 .7 63 1 0 -1.8 -3.6M256.7 299.3a2.5 .7 56 1 0 2.8 4.2a2.5 .7 56 1 0 -2.8 -4.2M254.4 251.8a3.6 1.3 78 1 0 1.4 7a3.6 1.3 78 1 0 -1.4 -7M358.5 303a2.4 1 122 1 0 2.5 -4.1a2.4 1 122 1 0 -2.5 4.1M306.1 300.8a4 1.2 95 1 0 -.7 8a4 1.2 95 1 0 .7 -8M269.3 281.6a3 1.3 82 1 0 .9 5.9a3 1.3 82 1 0 -.9 -5.9M320.4 298.1a3.4 1.3 135 1 0 4.8 -4.8a3.4 1.3 135 1 0 -4.8 4.8M258.6 331.3a2 .8 66 1 0 1.6 3.7a2 .8 66 1 0 -1.6 -3.7M263.1 306.2a3.3 .9 79 1 0 1.3 6.4a3.3 .9 79 1 0 -1.3 -6.4"/>
<path fill="#b884b4" d="M254.7 245.2a2.4 1.1 76 1 0 1.1 4.6a2.4 1.1 76 1 0 -1.1 -4.6M338.9 280.5a3.7 1.4 142 1 0 5.7 -4.5a3.7 1.4 142 1 0 -5.7 4.5M373.2 315.3a3.8 .8 129 1 0 4.8 -5.9a3.8 .8 129 1 0 -4.8 5.9M331.3 340.3a3 .9 121 1 0 3.1 -5.2a3 .9 121 1 0 -3.1 5.2M252.1 308.5a2.4 1.2 63 1 0 2.2 4.3a2.4 1.2 63 1 0 -2.2 -4.3M263.8 244.8a2.8 1.1 75 1 0 1.5 5.4a2.8 1.1 75 1 0 -1.5 -5.4M284.3 306.2a3.6 1.3 122 1 0 -3.9 6.1a3.6 1.3 122 1 0 3.9 -6.1M371.9 285.6a2.1 1.3 137 1 0 3.1 -2.9a2.1 1.3 137 1 0 -3.1 2.9M280.3 334a2.3 1.1 58 1 0 2.4 3.9a2.3 1.1 58 1 0 -2.4 -3.9M286.2 284.8a2.1 1.1 116 1 0 -1.8 3.8a2.1 1.1 116 1 0 1.8 -3.8M278.3 307.3a3.3 .7 82 1 0 .9 6.5a3.3 .7 82 1 0 -.9 -6.5M301.8 280.8a3 .9 76 1 0 1.5 5.7a3 .9 76 1 0 -1.5 -5.7M369.1 277.5a2.3 1.2 137 1 0 3.3 -3.1a2.3 1.2 137 1 0 -3.3 3.1M362.4 329.6a3.7 .9 84 1 0 .8 7.4a3.7 .9 84 1 0 -.8 -7.4M248.3 335.5a2.4 .9 68 1 0 1.8 4.5a2.4 .9 68 1 0 -1.8 -4.5M371.3 265.8a2.1 .7 136 1 0 3 -2.9a2.1 .7 136 1 0 -3 2.9M260.3 326.6a2.1 .8 64 1 0 1.9 3.8a2.1 .8 64 1 0 -1.9 -3.8M253.5 315.5a3.6 .9 58 1 0 3.8 6.1a3.6 .9 58 1 0 -3.8 -6.1M255.6 241.9a3.8 .8 58 1 0 4.1 6.5a3.8 .8 58 1 0 -4.1 -6.5M249.5 276.9a2.5 .8 73 1 0 1.5 4.8a2.5 .8 73 1 0 -1.5 -4.8M251.3 337.7a2.3 1.4 76 1 0 1.1 4.4a2.3 1.4 76 1 0 -1.1 -4.4M298.8 283.7a3.2 1.1 123 1 0 -3.5 5.4a3.2 1.1 123 1 0 3.5 -5.4M351.7 269.2a3.2 1.1 120 1 0 3.2 -5.5a3.2 1.1 120 1 0 -3.2 5.5M354.4 329.1a2 .8 139 1 0 3.1 -2.7a2 .8 139 1 0 -3.1 2.7M288 254.7a3.1 1.3 103 1 0 -1.4 6a3.1 1.3 103 1 0 1.4 -6M347.7 340.5a3.9 1.3 150 1 0 6.7 -3.9a3.9 1.3 150 1 0 -6.7 3.9M294.6 287a3.3 .9 96 1 0 -.8 6.7a3.3 .9 96 1 0 .8 -6.7M293.7 281a3 .9 124 1 0 -3.4 5a3 .9 124 1 0 3.4 -5M248.1 286.4a3.2 .7 75 1 0 1.7 6.2a3.2 .7 75 1 0 -1.7 -6.2M270 292.4a3.9 1.2 80 1 0 1.3 7.7a3.9 1.2 80 1 0 -1.3 -7.7M298.6 264.2a4 1 77 1 0 1.7 7.7a4 1 77 1 0 -1.7 -7.7M260.7 242.8a3.4 .9 83 1 0 .8 6.7a3.4 .9 83 1 0 -.8 -6.7M294.1 261a3.6 .8 61 1 0 3.5 6.3a3.6 .8 61 1 0 -3.5 -6.3M273.9 259.6a3.8 .9 82 1 0 1.1 7.4a3.8 .9 82 1 0 -1.1 -7.4M296.9 312.1a2 1.2 67 1 0 1.6 3.7a2 1.2 67 1 0 -1.6 -3.7M311.1 256.3a3.9 .8 134 1 0 5.4 -5.6a3.9 .8 134 1 0 -5.4 5.6M293 265.5a2.6 1.4 75 1 0 1.4 4.9a2.6 1.4 75 1 0 -1.4 -4.9M275.8 263.2a2.5 1.3 63 1 0 2.3 4.5a2.5 1.3 63 1 0 -2.3 -4.5M273.7 342.4a2.9 1.3 81 1 0 .9 5.7a2.9 1.3 81 1 0 -.9 -5.7M287.6 272.7a2 1.2 95 1 0 -.4 4a2 1.2 95 1 0 .4 -4M261.4 262.2a2.6 .9 82 1 0 .7 5.2a2.6 .9 82 1 0 -.7 -5.2M278.1 325.5a2 1.1 60 1 0 2 3.5a2 1.1 60 1 0 -2 -3.5M267 293.1a2.6 1 66 1 0 2.1 4.7a2.6 1 66 1 0 -2.1 -4.7M273.6 250.1a2.3 1.3 58 1 0 2.4 3.8a2.3 1.3 58 1 0 -2.4 -3.8M245 303.4a2.8 1 58 1 0 2.9 4.7a2.8 1 58 1 0 -2.9 -4.7M350 272.7a3.7 1.2 94 1 0 -.5 7.3a3.7 1.2 94 1 0 .5 -7.3M358.4 247.6a2.7 .8 140 1 0 4.2 -3.4a2.7 .8 140 1 0 -4.2 3.4M277.7 253.1a2.2 1.4 71 1 0 1.4 4.1a2.2 1.4 71 1 0 -1.4 -4.1M290.6 274.4a2.3 1.2 107 1 0 -1.3 4.4a2.3 1.2 107 1 0 1.3 -4.4M273.4 318.7a3.3 1.1 57 1 0 3.6 5.5a3.3 1.1 57 1 0 -3.6 -5.5M246.6 280.5a2.5 1.4 72 1 0 1.6 4.8a2.5 1.4 72 1 0 -1.6 -4.8M268.8 286.2a2.7 1.4 60 1 0 2.7 4.7a2.7 1.4 60 1 0 -2.7 -4.7M257.6 331.7a2.9 1.1 62 1 0 2.7 5.1a2.9 1.1 62 1 0 -2.7 -5.1M369.4 334.8a3.4 .9 150 1 0 6 -3.4a3.4 .9 150 1 0 -6 3.4M306.4 331.3a2.9 1.3 116 1 0 -2.6 5.3a2.9 1.3 116 1 0 2.6 -5.3M359.3 335.4a3.1 .8 77 1 0 1.3 6a3.1 .8 77 1 0 -1.3 -6M289.5 337.6a2.2 1 103 1 0 -1 4.2a2.2 1 103 1 0 1 -4.2M303.6 326a4 .9 86 1 0 .5 7.9a4 .9 86 1 0 -.5 -7.9M259.6 253.8a2.7 1.3 66 1 0 2.2 5a2.7 1.3 66 1 0 -2.2 -5M245.4 312.2a2.4 1.4 69 1 0 1.7 4.5a2.4 1.4 69 1 0 -1.7 -4.5M302 266.6a2.9 1.1 102 1 0 -1.3 5.8a2.9 1.1 102 1 0 1.3 -5.8"/>
<path fill="#3e3478" d="M343.6 307.4a1 .6 166 1 0 -2 .5a1 .6 166 1 0 2 -.5M342 258.9a1.1 .8 52 1 0 1.3 1.7a1.1 .8 52 1 0 -1.3 -1.7M280.7 296.3a1.4 .7 10 1 0 2.7 .5a1.4 .7 10 1 0 -2.7 -.5M315 275.2a.9 .6 33 1 0 1.6 1a.9 .6 33 1 0 -1.6 -1M347.7 319a1.7 1.1 61 1 0 1.7 3a1.7 1.1 61 1 0 -1.7 -3M338.6 242.7a1.3 .8 116 1 0 -1.2 2.4a1.3 .8 116 1 0 1.2 -2.4M304.3 302.7a1.7 .9 175 1 0 -3.4 .3a1.7 .9 175 1 0 3.4 -.3M275.9 293.9a1.1 .8 123 1 0 -1.2 1.8a1.1 .8 123 1 0 1.2 -1.8M343.1 278a1.6 1.1 174 1 0 -3.2 .4a1.6 1.1 174 1 0 3.2 -.4M249.8 256.5a1 .7 152 1 0 -1.8 1a1 .7 152 1 0 1.8 -1M347.5 261a1.7 .7 86 1 0 .2 3.4a1.7 .7 86 1 0 -.2 -3.4M375.3 270.6a.9 1.1 79 1 0 .4 1.9a.9 1.1 79 1 0 -.4 -1.9M288 311.5a1.3 1 7 1 0 2.5 .3a1.3 1 7 1 0 -2.5 -.3M357.5 246.6a1 .8 35 1 0 1.6 1.2a1 .8 35 1 0 -1.6 -1.2M324.2 288.2a1 .8 23 1 0 1.8 .8a1 .8 23 1 0 -1.8 -.8M278.8 280.2a1.1 1 109 1 0 -.7 2.1a1.1 1 109 1 0 .7 -2.1M272.7 248.1a1 .7 175 1 0 -2 .2a1 .7 175 1 0 2 -.2M357 285.7a.9 1 65 1 0 .8 1.7a.9 1 65 1 0 -.8 -1.7M359.2 274.5a.9 .9 150 1 0 -1.6 .9a.9 .9 150 1 0 1.6 -.9M286.6 315.1a1 .9 154 1 0 -1.7 .9a1 .9 154 1 0 1.7 -.9M310.1 290.5a1.2 .6 176 1 0 -2.4 .2a1.2 .6 176 1 0 2.4 -.2M292.7 309.1a1.5 1 25 1 0 2.7 1.3a1.5 1 25 1 0 -2.7 -1.3M263 291.2a1 .7 48 1 0 1.4 1.5a1 .7 48 1 0 -1.4 -1.5M365.3 302.2a1.1 .8 32 1 0 1.8 1.1a1.1 .8 32 1 0 -1.8 -1.1M328.2 305.3a1.4 .6 96 1 0 -.3 2.7a1.4 .6 96 1 0 .3 -2.7M365.4 288.7a1 .9 109 1 0 -.6 1.8a1 .9 109 1 0 .6 -1.8M291.5 285.5a1.1 .9 152 1 0 -2 1a1.1 .9 152 1 0 2 -1"/>
<path fill="#4a3c80" d="M269 323.9a1.3 .9 61 1 0 1.2 2.2a1.3 .9 61 1 0 -1.2 -2.2M255.1 332.5a1.1 .7 99 1 0 -.4 2.2a1.1 .7 99 1 0 .4 -2.2M373.1 281.3a1.8 .7 172 1 0 -3.5 .5a1.8 .7 172 1 0 3.5 -.5M330.3 339.7a1.7 1 76 1 0 .9 3.3a1.7 1 76 1 0 -.9 -3.3M263.7 338.9a1.7 .8 43 1 0 2.5 2.4a1.7 .8 43 1 0 -2.5 -2.4M309.2 305a1.2 .7 13 1 0 2.3 .5a1.2 .7 13 1 0 -2.3 -.5M266.2 316.4a1.7 1 165 1 0 -3.3 .9a1.7 1 165 1 0 3.3 -.9M277.2 335.8a1.1 1.1 126 1 0 -1.3 1.8a1.1 1.1 126 1 0 1.3 -1.8M275.3 292.7a1.1 .7 106 1 0 -.6 2.1a1.1 .7 106 1 0 .6 -2.1M269.4 336.2a1.8 .9 110 1 0 -1.2 3.3a1.8 .9 110 1 0 1.2 -3.3M296.8 248.7a1.5 .7 151 1 0 -2.6 1.4a1.5 .7 151 1 0 2.6 -1.4M319.6 241.6a1.6 .7 21 1 0 2.9 1.1a1.6 .7 21 1 0 -2.9 -1.1M293.9 315.6a1.1 .8 29 1 0 2 1.1a1.1 .8 29 1 0 -2 -1.1"/>
<path fill="#383070" d="M281.8 334.4a1.6 .9 21 1 0 3 1.1a1.6 .9 21 1 0 -3 -1.1M278.4 316.1a1 .6 7 1 0 1.9 .2a1 .6 7 1 0 -1.9 -.2M254 246.4a1.3 .7 168 1 0 -2.6 .5a1.3 .7 168 1 0 2.6 -.5M352.2 291.4a1.6 1.1 135 1 0 -2.2 2.2a1.6 1.1 135 1 0 2.2 -2.2M334.4 320.7a1.3 .9 44 1 0 1.8 1.8a1.3 .9 44 1 0 -1.8 -1.8M332.9 277.3a1.7 1 107 1 0 -1 3.2a1.7 1 107 1 0 1 -3.2M307.6 256.3a1 .6 2 1 0 1.9 .1a1 .6 2 1 0 -1.9 -.1M304.8 272.9a1.2 1 75 1 0 .6 2.4a1.2 1 75 1 0 -.6 -2.4M352.1 313.4a1 .9 92 1 0 -.1 2a1 .9 92 1 0 .1 -2M315.9 246.8a1.4 .8 160 1 0 -2.7 1a1.4 .8 160 1 0 2.7 -1"/>
<ellipse cx="350" cy="294" rx="5" ry="3.5" fill="#d84888" opacity="0.7" transform="rotate(20 350 294)"/>
<ellipse cx="343" cy="291" rx="3" ry="2.5" fill="#c84080" opacity="0.6" transform="rotate(0 343 291)"/>
<ellipse cx="356" cy="304" rx="3" ry="3" fill="#e0a0c8" opacity="0.6" transform="rotate(0 356 304)"/>
</g></g>
<rect x="251.5" y="246.5" width="121" height="94.5" fill="none" stroke="#3a3a3a" stroke-width="1"/>
<filter id="hbbcbd" x="-5%" y="-5%" width="110%" height="110%"><feGaussianBlur stdDeviation="0.65"/></filter>
<clipPath id="hcbcbd"><rect x="379.5" y="246.5" width="122.5" height="95.0"/></clipPath>
<g clip-path="url(#hcbcbd)">
<rect x="379.5" y="246.5" width="122.5" height="95.0" fill="#e4b4a0"/>
<g filter="url(#hbbcbd)">
<path fill="#eec89c" d="M494.4 339.3a2.6 1.4 15 1 0 5 1.4a2.6 1.4 15 1 0 -5 -1.4M419.1 317.1a2.9 1 3 1 0 5.8 .3a2.9 1 3 1 0 -5.8 -.3M386.1 312.7a2.9 1.8 92 1 0 -.2 5.7a2.9 1.8 92 1 0 .2 -5.7M383.7 284.3a2 1.2 146 1 0 -3.3 2.3a2 1.2 146 1 0 3.3 -2.3M415.1 249.4a3.1 1.8 117 1 0 -2.8 5.5a3.1 1.8 117 1 0 2.8 -5.5M393 305.2a3.5 1.5 13 1 0 6.8 1.5a3.5 1.5 13 1 0 -6.8 -1.5M414.3 276.9a3.7 1.2 172 1 0 -7.4 1a3.7 1.2 172 1 0 7.4 -1M451.4 343.1a2.6 1.9 32 1 0 4.4 2.7a2.6 1.9 32 1 0 -4.4 -2.7M494.3 310.3a2.6 1.1 159 1 0 -4.8 1.8a2.6 1.1 159 1 0 4.8 -1.8M498 309.7a2.4 1 176 1 0 -4.7 .4a2.4 1 176 1 0 4.7 -.4M455.2 254.4a2.6 1.8 84 1 0 .5 5.2a2.6 1.8 84 1 0 -.5 -5.2M486.6 261.8a2.4 1.6 57 1 0 2.7 4.1a2.4 1.6 57 1 0 -2.7 -4.1M495.8 308.3a3.9 1.3 39 1 0 5.9 4.9a3.9 1.3 39 1 0 -5.9 -4.9M494.2 291.2a3.1 1.2 38 1 0 4.8 3.8a3.1 1.2 38 1 0 -4.8 -3.8M441.5 242.2a2.4 1.4 114 1 0 -1.9 4.3a2.4 1.4 114 1 0 1.9 -4.3M385.5 245.9a3.3 2 175 1 0 -6.7 .5a3.3 2 175 1 0 6.7 -.5M493.8 316.3a3.6 1.5 177 1 0 -7.2 .4a3.6 1.5 177 1 0 7.2 -.4M475.9 334.9a3.6 1.1 124 1 0 -4 6a3.6 1.1 124 1 0 4 -6M470.2 286.3a2.6 2 169 1 0 -5.1 1a2.6 2 169 1 0 5.1 -1M386.4 249.4a2.1 1.3 130 1 0 -2.6 3.2a2.1 1.3 130 1 0 2.6 -3.2M451.2 340.5a2.4 1.2 77 1 0 1.1 4.7a2.4 1.2 77 1 0 -1.1 -4.7M441.2 281.3a3.8 1.9 3 1 0 7.5 .4a3.8 1.9 3 1 0 -7.5 -.4M460.4 327.7a2.3 1.3 71 1 0 1.5 4.3a2.3 1.3 71 1 0 -1.5 -4.3M446 293.5a3.1 1.6 114 1 0 -2.6 5.7a3.1 1.6 114 1 0 2.6 -5.7M440.5 310a2.7 1.2 48 1 0 3.6 4a2.7 1.2 48 1 0 -3.6 -4M506.6 255.9a2.8 1.4 134 1 0 -3.9 4a2.8 1.4 134 1 0 3.9 -4M388.8 307.9a3.6 1.9 103 1 0 -1.6 7.1a3.6 1.9 103 1 0 1.6 -7.1M505.7 260.5a3.5 1.3 71 1 0 2.2 6.6a3.5 1.3 71 1 0 -2.2 -6.6M461.2 245a2.9 1.2 131 1 0 -3.8 4.4a2.9 1.2 131 1 0 3.8 -4.4M489.4 309.9a2.4 1.3 7 1 0 4.7 .6a2.4 1.3 7 1 0 -4.7 -.6M392.2 343.5a3.7 1.5 153 1 0 -6.6 3.4a3.7 1.5 153 1 0 6.6 -3.4M419.4 325.6a2.8 1.3 148 1 0 -4.7 3a2.8 1.3 148 1 0 4.7 -3M455 245.6a3.7 1.9 172 1 0 -7.3 1a3.7 1.9 172 1 0 7.3 -1M463.8 334.6a2.3 1.2 17 1 0 4.4 1.3a2.3 1.2 17 1 0 -4.4 -1.3M461.3 276.3a3.3 1.3 3 1 0 6.7 .3a3.3 1.3 3 1 0 -6.7 -.3M448.4 268.9a3.2 1.4 157 1 0 -5.9 2.6a3.2 1.4 157 1 0 5.9 -2.6M465.2 334.8a2.2 2 74 1 0 1.2 4.1a2.2 2 74 1 0 -1.2 -4.1M466.5 277.4a2.2 2 136 1 0 -3.2 3.1a2.2 2 136 1 0 3.2 -3.1M465 243.2a3.4 1.2 21 1 0 6.4 2.5a3.4 1.2 21 1 0 -6.4 -2.5"/>
<path fill="#f4d8a8" d="M398.4 244.3a3.9 1.4 31 1 0 6.8 4.1a3.9 1.4 31 1 0 -6.8 -4.1M399.3 290.3a2.4 1.2 122 1 0 -2.5 4a2.4 1.2 122 1 0 2.5 -4M414.7 325.4a2.9 1.6 21 1 0 5.3 2a2.9 1.6 21 1 0 -5.3 -2M436 261.9a3.4 1.8 112 1 0 -2.5 6.4a3.4 1.8 112 1 0 2.5 -6.4M472.1 245.9a2.7 2 80 1 0 .9 5.3a2.7 2 80 1 0 -.9 -5.3M424.1 259a3.5 1.5 84 1 0 .7 7a3.5 1.5 84 1 0 -.7 -7M432.1 269.9a3.7 1.1 110 1 0 -2.5 6.9a3.7 1.1 110 1 0 2.5 -6.9M460.1 275.7a2.3 1.7 150 1 0 -4.1 2.3a2.3 1.7 150 1 0 4.1 -2.3M464 257.7a2.8 1.3 76 1 0 1.4 5.5a2.8 1.3 76 1 0 -1.4 -5.5M386 329.3a3.3 1.6 90 1 0 0 6.7a3.3 1.6 90 1 0 -0 -6.7M403.4 266.5a3.2 2 90 1 0 -.1 6.5a3.2 2 90 1 0 .1 -6.5M408.8 321.4a2.5 2 7 1 0 5 .6a2.5 2 7 1 0 -5 -.6M378.7 246.4a2.3 1.1 18 1 0 4.3 1.4a2.3 1.1 18 1 0 -4.3 -1.4M427.7 245.6a3.2 1.4 77 1 0 1.4 6.2a3.2 1.4 77 1 0 -1.4 -6.2M406.7 272.3a2.8 1.4 80 1 0 1 5.5a2.8 1.4 80 1 0 -1 -5.5M399.4 319.3a2.8 1.4 82 1 0 .8 5.5a2.8 1.4 82 1 0 -.8 -5.5M379.6 323.1a2.1 1.8 162 1 0 -4 1.3a2.1 1.8 162 1 0 4 -1.3M442.8 285.9a3.8 1.7 1 1 0 7.7 .2a3.8 1.7 1 1 0 -7.7 -.2M396 341a3.1 1.6 146 1 0 -5.2 3.5a3.1 1.6 146 1 0 5.2 -3.5M457.4 326.8a2.3 1.1 145 1 0 -3.7 2.6a2.3 1.1 145 1 0 3.7 -2.6M467.6 307.9a3.7 1.3 161 1 0 -6.9 2.4a3.7 1.3 161 1 0 6.9 -2.4M456.2 326.8a2.2 1.4 171 1 0 -4.4 .7a2.2 1.4 171 1 0 4.4 -.7M381.4 309.3a3.4 1.1 60 1 0 3.4 5.9a3.4 1.1 60 1 0 -3.4 -5.9M458.6 283.7a2.7 1.6 101 1 0 -1 5.3a2.7 1.6 101 1 0 1 -5.3M506.2 251.3a3.1 1.6 156 1 0 -5.7 2.6a3.1 1.6 156 1 0 5.7 -2.6M379.8 327.7a3.7 1.7 125 1 0 -4.2 6.1a3.7 1.7 125 1 0 4.2 -6.1M379.7 284.5a2.2 1.6 14 1 0 4.3 1.1a2.2 1.6 14 1 0 -4.3 -1.1M407.7 342.6a3.2 1.8 160 1 0 -6 2.2a3.2 1.8 160 1 0 6 -2.2M441.2 267.5a3.4 2 36 1 0 5.4 4a3.4 2 36 1 0 -5.4 -4M443.8 319.2a3.6 1.5 131 1 0 -4.8 5.5a3.6 1.5 131 1 0 4.8 -5.5M452 285.9a3.9 2 21 1 0 7.2 2.8a3.9 2 21 1 0 -7.2 -2.8M403.1 305.8a3.9 1.4 36 1 0 6.3 4.6a3.9 1.4 36 1 0 -6.3 -4.6M404.1 341.1a3.4 1 162 1 0 -6.5 2.1a3.4 1 162 1 0 6.5 -2.1M473.9 333.3a2 1.1 11 1 0 3.9 .8a2 1.1 11 1 0 -3.9 -.8M437.2 294.4a3.1 1.2 8 1 0 6.2 .9a3.1 1.2 8 1 0 -6.2 -.9M439.8 335.1a3.6 1.8 66 1 0 2.9 6.5a3.6 1.8 66 1 0 -2.9 -6.5M384.1 325a3.1 1.4 6 1 0 6.1 .6a3.1 1.4 6 1 0 -6.1 -.6M470.6 342.7a2.7 1.9 170 1 0 -5.3 .9a2.7 1.9 170 1 0 5.3 -.9M375 259.8a3.8 1.1 42 1 0 5.7 5.1a3.8 1.1 42 1 0 -5.7 -5.1M475.8 324.1a2.2 1.3 98 1 0 -.6 4.4a2.2 1.3 98 1 0 .6 -4.4M476.3 298.9a3.7 2 15 1 0 7.2 2a3.7 2 15 1 0 -7.2 -2M490.9 264.2a3.6 1.4 108 1 0 -2.2 6.8a3.6 1.4 108 1 0 2.2 -6.8M413.4 273.3a3.2 1.7 148 1 0 -5.4 3.4a3.2 1.7 148 1 0 5.4 -3.4M481.1 303.7a2.8 1.5 178 1 0 -5.6 .2a2.8 1.5 178 1 0 5.6 -.2M455.1 323.7a2.6 1.6 146 1 0 -4.3 2.9a2.6 1.6 146 1 0 4.3 -2.9M391.9 283.7a3.4 1.4 42 1 0 5.1 4.5a3.4 1.4 42 1 0 -5.1 -4.5M508 317.3a2.9 1.1 127 1 0 -3.5 4.7a2.9 1.1 127 1 0 3.5 -4.7M447.3 255.1a3.5 1.2 54 1 0 4.1 5.7a3.5 1.2 54 1 0 -4.1 -5.7M397.1 289.6a2.8 1.9 14 1 0 5.5 1.3a2.8 1.9 14 1 0 -5.5 -1.3"/>
<path fill="#f2e0b0" d="M476.6 277.8a3.1 1.8 119 1 0 -3 5.5a3.1 1.8 119 1 0 3 -5.5M496.1 270.5a3.1 1.9 20 1 0 5.8 2.1a3.1 1.9 20 1 0 -5.8 -2.1M406.8 296.4a2.3 2 107 1 0 -1.3 4.5a2.3 2 107 1 0 1.3 -4.5M407.5 282.7a3.3 1.4 80 1 0 1.1 6.5a3.3 1.4 80 1 0 -1.1 -6.5M422.7 312.1a3.6 2 160 1 0 -6.7 2.5a3.6 2 160 1 0 6.7 -2.5M411.8 273.6a2.3 1 54 1 0 2.7 3.8a2.3 1 54 1 0 -2.7 -3.8M456.5 244.7a3.1 1.6 50 1 0 4.1 4.8a3.1 1.6 50 1 0 -4.1 -4.8M478.7 258.8a2.6 1.1 110 1 0 -1.8 4.9a2.6 1.1 110 1 0 1.8 -4.9M488.2 341.8a4 1.3 23 1 0 7.3 3.1a4 1.3 23 1 0 -7.3 -3.1M378.5 292.9a3.6 1.3 116 1 0 -3.1 6.4a3.6 1.3 116 1 0 3.1 -6.4M391.8 335.9a2.2 1.8 56 1 0 2.5 3.7a2.2 1.8 56 1 0 -2.5 -3.7M466 309.1a2.1 1.7 150 1 0 -3.7 2.1a2.1 1.7 150 1 0 3.7 -2.1M482.8 306a3.3 1.9 143 1 0 -5.3 3.9a3.3 1.9 143 1 0 5.3 -3.9M448.4 340.2a2.7 1.7 89 1 0 .1 5.3a2.7 1.7 89 1 0 -.1 -5.3M477.7 287.9a2.7 1.2 167 1 0 -5.3 1.2a2.7 1.2 167 1 0 5.3 -1.2M470.9 309.7a3.6 1.1 144 1 0 -5.8 4.2a3.6 1.1 144 1 0 5.8 -4.2M373.2 276.4a3 1.7 15 1 0 5.7 1.5a3 1.7 15 1 0 -5.7 -1.5M406.1 284.2a3.2 1.7 134 1 0 -4.5 4.5a3.2 1.7 134 1 0 4.5 -4.5M386.6 254.3a3.7 1.4 156 1 0 -6.8 3a3.7 1.4 156 1 0 6.8 -3M436.9 331.6a3 1.2 48 1 0 4 4.6a3 1.2 48 1 0 -4 -4.6M487.1 252.3a3.7 1.2 49 1 0 4.8 5.5a3.7 1.2 49 1 0 -4.8 -5.5M422.9 315.4a3.2 1.9 74 1 0 1.7 6.1a3.2 1.9 74 1 0 -1.7 -6.1M468.3 272.6a2.6 1.8 112 1 0 -1.9 4.8a2.6 1.8 112 1 0 1.9 -4.8M427.5 308.9a2.8 1.6 13 1 0 5.4 1.3a2.8 1.6 13 1 0 -5.4 -1.3M467.7 296.1a2.5 1.4 120 1 0 -2.5 4.4a2.5 1.4 120 1 0 2.5 -4.4M479.4 257.1a2.3 1.7 133 1 0 -3.2 3.4a2.3 1.7 133 1 0 3.2 -3.4M498.1 243.5a2.4 1.8 108 1 0 -1.5 4.5a2.4 1.8 108 1 0 1.5 -4.5M404.4 297.4a2.5 1.6 95 1 0 -.4 4.9a2.5 1.6 95 1 0 .4 -4.9M388.4 278.6a2.3 1.3 44 1 0 3.3 3.2a2.3 1.3 44 1 0 -3.3 -3.2M379.1 285.1a2.6 1.7 131 1 0 -3.4 4a2.6 1.7 131 1 0 3.4 -4M471.6 305.7a3.5 1.7 46 1 0 4.9 5.1a3.5 1.7 46 1 0 -4.9 -5.1M414.4 253.2a2.9 1 153 1 0 -5.2 2.7a2.9 1 153 1 0 5.2 -2.7"/>
<path fill="#b04088" d="M419.8 343.5a2.7 1.1 142 1 0 -4.2 3.3a2.7 1.1 142 1 0 4.2 -3.3M464.2 274.4a1.7 1.5 16 1 0 3.3 .9a1.7 1.5 16 1 0 -3.3 -.9M482.9 250.6a1.9 1.6 173 1 0 -3.7 .4a1.9 1.6 173 1 0 3.7 -.4M461.5 265.9a1.7 2 65 1 0 1.4 3.1a1.7 2 65 1 0 -1.4 -3.1M491.2 292.9a2.3 1.4 139 1 0 -3.5 3a2.3 1.4 139 1 0 3.5 -3M414.4 300.4a2.6 2.1 157 1 0 -4.7 2a2.6 2.1 157 1 0 4.7 -2M380.2 283.8a2.6 1.6 22 1 0 4.9 2a2.6 1.6 22 1 0 -4.9 -2M454 311a2.2 1.7 153 1 0 -4 2a2.2 1.7 153 1 0 4 -2M482.5 279.9a1.5 1.3 51 1 0 1.9 2.3a1.5 1.3 51 1 0 -1.9 -2.3M467.1 273.2a2.4 1.7 134 1 0 -3.3 3.5a2.4 1.7 134 1 0 3.3 -3.5M477.9 278.8a2.4 1.4 56 1 0 2.6 3.9a2.4 1.4 56 1 0 -2.6 -3.9M489.7 279.7a1.9 2 149 1 0 -3.3 1.9a1.9 2 149 1 0 3.3 -1.9M462.5 306.8a2.2 1.2 67 1 0 1.7 4a2.2 1.2 67 1 0 -1.7 -4M442.2 341.7a1.5 1.8 105 1 0 -.8 2.9a1.5 1.8 105 1 0 .8 -2.9M477.2 340.1a2 1.5 12 1 0 3.9 .8a2 1.5 12 1 0 -3.9 -.8M377.9 315.6a2 1.9 90 1 0 0 4.1a2 1.9 90 1 0 -0 -4.1M457.6 338.1a2 1.2 120 1 0 -2.1 3.5a2 1.2 120 1 0 2.1 -3.5M373 324.1a2.1 2 14 1 0 4.2 1a2.1 2 14 1 0 -4.2 -1M468.7 312a2.8 1.7 107 1 0 -1.6 5.3a2.8 1.7 107 1 0 1.6 -5.3M400.4 314.8a2.5 1.3 127 1 0 -3 4a2.5 1.3 127 1 0 3 -4M398 330.5a1.9 1.7 169 1 0 -3.7 .7a1.9 1.7 169 1 0 3.7 -.7M456.1 254.6a1.6 1.9 25 1 0 2.8 1.3a1.6 1.9 25 1 0 -2.8 -1.3M389.9 322.7a2.1 2 81 1 0 .6 4.2a2.1 2 81 1 0 -.6 -4.2M415.9 341.5a2 1.3 163 1 0 -3.8 1.2a2 1.3 163 1 0 3.8 -1.2M468.5 328a2 2.1 14 1 0 3.9 1a2 2.1 14 1 0 -3.9 -1M481.3 287a2.8 1.6 85 1 0 .5 5.6a2.8 1.6 85 1 0 -.5 -5.6M421.8 319a2.9 1.4 167 1 0 -5.6 1.3a2.9 1.4 167 1 0 5.6 -1.3M490.3 256.3a2.8 1.6 107 1 0 -1.6 5.3a2.8 1.6 107 1 0 1.6 -5.3M395 332.3a2.1 1.5 159 1 0 -3.9 1.5a2.1 1.5 159 1 0 3.9 -1.5M477.8 333.7a2 1.4 66 1 0 1.7 3.7a2 1.4 66 1 0 -1.7 -3.7M416.5 258.7a2.7 1.1 177 1 0 -5.3 .3a2.7 1.1 177 1 0 5.3 -.3M501.8 308.2a1.7 2 26 1 0 3 1.5a1.7 2 26 1 0 -3 -1.5M486.2 291.7a2 1.6 143 1 0 -3.2 2.5a2 1.6 143 1 0 3.2 -2.5M502.3 317.7a2 1.9 6 1 0 4 .4a2 1.9 6 1 0 -4 -.4M426.6 306.9a1.7 1.8 95 1 0 -.3 3.4a1.7 1.8 95 1 0 .3 -3.4M430.1 304.7a2.7 1.7 48 1 0 3.6 4a2.7 1.7 48 1 0 -3.6 -4M435.5 268.3a2 1.9 159 1 0 -3.8 1.5a2 1.9 159 1 0 3.8 -1.5M427.2 300.8a2.4 2.1 154 1 0 -4.4 2.2a2.4 2.1 154 1 0 4.4 -2.2M463.9 243a2.4 1.1 18 1 0 4.6 1.5a2.4 1.1 18 1 0 -4.6 -1.5M464 343a2.1 2.1 126 1 0 -2.5 3.4a2.1 2.1 126 1 0 2.5 -3.4M443.1 341.8a2.1 1.2 5 1 0 4.2 .3a2.1 1.2 5 1 0 -4.2 -.3M453.6 305.3a2.1 2 121 1 0 -2.2 3.6a2.1 2 121 1 0 2.2 -3.6M476 248.9a2.1 1.2 2 1 0 4.1 .2a2.1 1.2 2 1 0 -4.1 -.2M418 327.6a2 1.9 54 1 0 2.3 3.2a2 1.9 54 1 0 -2.3 -3.2M480.3 273.4a2.1 1.5 54 1 0 2.4 3.4a2.1 1.5 54 1 0 -2.4 -3.4M405.5 330.5a2.5 1.2 81 1 0 .8 4.9a2.5 1.2 81 1 0 -.8 -4.9M500.9 334.4a1.8 1.1 51 1 0 2.2 2.7a1.8 1.1 51 1 0 -2.2 -2.7M406.7 253.6a1.9 1.9 178 1 0 -3.9 .1a1.9 1.9 178 1 0 3.9 -.1M422.7 321a2.4 1.8 124 1 0 -2.6 4a2.4 1.8 124 1 0 2.6 -4M482.2 243.1a2.7 1.5 132 1 0 -3.6 4.1a2.7 1.5 132 1 0 3.6 -4.1M450.5 246.1a2.7 1.3 30 1 0 4.7 2.7a2.7 1.3 30 1 0 -4.7 -2.7M428.5 325.9a2.8 1.3 17 1 0 5.4 1.7a2.8 1.3 17 1 0 -5.4 -1.7M377.3 339.9a2.5 1.8 28 1 0 4.4 2.4a2.5 1.8 28 1 0 -4.4 -2.4M475.9 291.3a2.1 1.6 48 1 0 2.8 3.1a2.1 1.6 48 1 0 -2.8 -3.1M500.4 294.5a2.3 1.4 92 1 0 -.2 4.7a2.3 1.4 92 1 0 .2 -4.7M465.2 260.9a1.8 1.3 15 1 0 3.5 1a1.8 1.3 15 1 0 -3.5 -1M462.5 284.6a2.9 1.9 76 1 0 1.4 5.6a2.9 1.9 76 1 0 -1.4 -5.6M432.6 269.7a1.8 1.8 101 1 0 -.7 3.6a1.8 1.8 101 1 0 .7 -3.6M426.8 322.3a1.8 1.9 111 1 0 -1.3 3.3a1.8 1.9 111 1 0 1.3 -3.3M497.3 323.1a1.9 1.6 33 1 0 3.2 2.1a1.9 1.6 33 1 0 -3.2 -2.1M440.2 315.5a1.6 1.9 37 1 0 2.5 1.9a1.6 1.9 37 1 0 -2.5 -1.9M477.7 260.8a2.4 2.1 42 1 0 3.5 3.1a2.4 2.1 42 1 0 -3.5 -3.1M493.5 273.7a1.8 1.8 95 1 0 -.3 3.5a1.8 1.8 95 1 0 .3 -3.5M402.8 301.5a2.8 1.8 34 1 0 4.6 3.1a2.8 1.8 34 1 0 -4.6 -3.1M465.3 257.3a2.3 1.4 11 1 0 4.4 .8a2.3 1.4 11 1 0 -4.4 -.8M494.1 265.4a1.8 1.3 35 1 0 2.9 2a1.8 1.3 35 1 0 -2.9 -2M490.4 319.3a2.1 1.2 109 1 0 -1.4 4a2.1 1.2 109 1 0 1.4 -4M435.3 337.4a1.8 1.3 141 1 0 -2.7 2.2a1.8 1.3 141 1 0 2.7 -2.2M458.2 258.9a2.8 1.1 87 1 0 .3 5.6a2.8 1.1 87 1 0 -.3 -5.6M475.3 256.6a2.3 1.3 157 1 0 -4.3 1.8a2.3 1.3 157 1 0 4.3 -1.8M472.4 252.9a1.9 1.4 51 1 0 2.5 3a1.9 1.4 51 1 0 -2.5 -3M462.4 329.2a2.1 2.1 19 1 0 4.1 1.4a2.1 2.1 19 1 0 -4.1 -1.4M427.6 342.7a1.9 2 25 1 0 3.4 1.6a1.9 2 25 1 0 -3.4 -1.6M381.3 272.9a2.8 1.8 172 1 0 -5.5 .8a2.8 1.8 172 1 0 5.5 -.8M426.2 327.3a2.1 1.4 104 1 0 -1 4a2.1 1.4 104 1 0 1 -4M378.4 339.8a1.9 1.3 75 1 0 1 3.6a1.9 1.3 75 1 0 -1 -3.6M442.2 303.3a2.7 2 159 1 0 -5.1 2a2.7 2 159 1 0 5.1 -2M505.5 319.9a2.5 1.5 91 1 0 -.1 5.1a2.5 1.5 91 1 0 .1 -5.1M506.6 301.1a1.5 1.2 132 1 0 -2 2.2a1.5 1.2 132 1 0 2 -2.2M492 282.8a2.6 1.2 1 1 0 5.3 .1a2.6 1.2 1 1 0 -5.3 -.1"/>
<path fill="#c03878" d="M416.9 242.6a1.7 1.7 144 1 0 -2.8 2a1.7 1.7 144 1 0 2.8 -2M491.9 302.3a1.7 1.5 103 1 0 -.8 3.3a1.7 1.5 103 1 0 .8 -3.3M482.1 250.8a1.7 1.6 82 1 0 .5 3.4a1.7 1.6 82 1 0 -.5 -3.4M473.2 274.3a1.7 1.3 46 1 0 2.3 2.4a1.7 1.3 46 1 0 -2.3 -2.4M456.5 340.6a1.7 1.8 140 1 0 -2.5 2.1a1.7 1.8 140 1 0 2.5 -2.1M439 247.5a1.7 1.4 35 1 0 2.8 1.9a1.7 1.4 35 1 0 -2.8 -1.9M485.5 338.1a1.6 1.9 155 1 0 -2.9 1.3a1.6 1.9 155 1 0 2.9 -1.3M455.5 263.1a1.7 1.8 55 1 0 2 2.8a1.7 1.8 55 1 0 -2 -2.8M391 339.7a2.2 1.9 121 1 0 -2.3 3.8a2.2 1.9 121 1 0 2.3 -3.8M481.1 275.9a1.7 1.4 111 1 0 -1.3 3.3a1.7 1.4 111 1 0 1.3 -3.3M400.9 252.7a2.1 1.9 154 1 0 -3.8 1.8a2.1 1.9 154 1 0 3.8 -1.8M415.8 305.3a2.8 1.4 98 1 0 -.8 5.5a2.8 1.4 98 1 0 .8 -5.5M463 308.6a1.9 1.5 79 1 0 .7 3.7a1.9 1.5 79 1 0 -.7 -3.7M423 313a1.7 1.3 81 1 0 .5 3.3a1.7 1.3 81 1 0 -.5 -3.3M457.8 257.1a1.6 2 170 1 0 -3.2 .6a1.6 2 170 1 0 3.2 -.6M493.8 310.6a1.8 2 35 1 0 2.9 2a1.8 2 35 1 0 -2.9 -2M379.9 278.8a2 1.4 123 1 0 -2.1 3.4a2 1.4 123 1 0 2.1 -3.4M463.2 264.9a2.5 2.1 159 1 0 -4.7 1.8a2.5 2.1 159 1 0 4.7 -1.8M478 336.1a2.2 1.7 3 1 0 4.4 .2a2.2 1.7 3 1 0 -4.4 -.2M494.2 331.3a2.5 2 75 1 0 1.3 4.8a2.5 2 75 1 0 -1.3 -4.8M475 273.6a1.7 1.6 111 1 0 -1.2 3.2a1.7 1.6 111 1 0 1.2 -3.2M498.3 272.9a1.8 1.2 40 1 0 2.7 2.2a1.8 1.2 40 1 0 -2.7 -2.2M492.7 280.5a1.6 1.1 170 1 0 -3.2 .6a1.6 1.1 170 1 0 3.2 -.6M503.3 342.8a2.6 1.5 113 1 0 -2 4.8a2.6 1.5 113 1 0 2 -4.8M435.8 313.1a2.2 1.5 94 1 0 -.3 4.4a2.2 1.5 94 1 0 .3 -4.4M463.5 299.8a2.5 1.6 86 1 0 .4 5a2.5 1.6 86 1 0 -.4 -5M485.3 333.3a1.6 1.9 145 1 0 -2.6 1.8a1.6 1.9 145 1 0 2.6 -1.8M389.7 274.2a2.8 1.8 98 1 0 -.8 5.5a2.8 1.8 98 1 0 .8 -5.5M496.5 339.9a2.4 1.3 136 1 0 -3.4 3.3a2.4 1.3 136 1 0 3.4 -3.3M472.2 276.8a2.6 1.7 95 1 0 -.4 5.2a2.6 1.7 95 1 0 .4 -5.2M385.7 338.5a2.7 1.7 2 1 0 5.3 .2a2.7 1.7 2 1 0 -5.3 -.2M485.6 317.1a2.4 2 57 1 0 2.6 4a2.4 2 57 1 0 -2.6 -4M500.6 299.5a1.9 1.7 160 1 0 -3.6 1.3a1.9 1.7 160 1 0 3.6 -1.3M490.4 304.9a2.4 1.7 120 1 0 -2.4 4.3a2.4 1.7 120 1 0 2.4 -4.3M392.7 278a2.1 1.8 78 1 0 .8 4.1a2.1 1.8 78 1 0 -.8 -4.1M443.4 305.5a1.7 1.5 147 1 0 -2.8 1.8a1.7 1.5 147 1 0 2.8 -1.8M389.3 284.9a2 1.2 126 1 0 -2.4 3.3a2 1.2 126 1 0 2.4 -3.3M482 282.6a1.9 1.6 34 1 0 3.2 2.2a1.9 1.6 34 1 0 -3.2 -2.2M402.2 254.8a2.1 1.4 177 1 0 -4.3 .2a2.1 1.4 177 1 0 4.3 -.2M394.5 318.3a2 1.7 49 1 0 2.7 3.1a2 1.7 49 1 0 -2.7 -3.1M416.8 256.5a1.5 1.3 132 1 0 -2.1 2.3a1.5 1.3 132 1 0 2.1 -2.3M484.9 293.3a2.3 1.5 83 1 0 .5 4.5a2.3 1.5 83 1 0 -.5 -4.5M487.8 243.2a2.2 1.7 67 1 0 1.7 4a2.2 1.7 67 1 0 -1.7 -4M473.7 332.6a2.8 2 148 1 0 -4.7 2.9a2.8 2 148 1 0 4.7 -2.9M413.7 260a2.8 1.3 52 1 0 3.4 4.4a2.8 1.3 52 1 0 -3.4 -4.4M493.3 280.1a2.4 1.4 90 1 0 0 4.9a2.4 1.4 90 1 0 -0 -4.9M474.2 256.4a1.8 1.5 33 1 0 3.1 2a1.8 1.5 33 1 0 -3.1 -2M440.8 255.5a2.2 1.3 149 1 0 -3.7 2.2a2.2 1.3 149 1 0 3.7 -2.2M464.5 311.8a2.5 1.3 145 1 0 -4 2.8a2.5 1.3 145 1 0 4 -2.8M438.3 309.8a2.5 2 32 1 0 4.3 2.7a2.5 2 32 1 0 -4.3 -2.7M423.8 253.4a1.8 1.7 143 1 0 -2.9 2.2a1.8 1.7 143 1 0 2.9 -2.2M465.5 343.6a2.2 2.1 21 1 0 4 1.5a2.2 2.1 21 1 0 -4 -1.5M471.5 303.6a2.5 1.4 95 1 0 -.4 4.9a2.5 1.4 95 1 0 .4 -4.9M467.4 305.3a2 1.5 25 1 0 3.6 1.7a2 1.5 25 1 0 -3.6 -1.7M403.4 304.9a1.7 2.1 85 1 0 .3 3.4a1.7 2.1 85 1 0 -.3 -3.4M406.4 243.8a2.9 1.8 127 1 0 -3.4 4.6a2.9 1.8 127 1 0 3.4 -4.6M466.7 299.6a2.9 1.5 30 1 0 4.9 2.8a2.9 1.5 30 1 0 -4.9 -2.8M497 243a2.3 1.4 36 1 0 3.7 2.7a2.3 1.4 36 1 0 -3.7 -2.7M395.2 337.6a2 1.4 65 1 0 1.6 3.5a2 1.4 65 1 0 -1.6 -3.5M438.2 254a2 1.3 89 1 0 .1 4.1a2 1.3 89 1 0 -.1 -4.1M398.9 250.5a2.5 1.3 148 1 0 -4.3 2.6a2.5 1.3 148 1 0 4.3 -2.6M395.2 264.1a2.4 1.1 33 1 0 4.1 2.6a2.4 1.1 33 1 0 -4.1 -2.6M480 305.3a2 1.7 172 1 0 -3.9 .5a2 1.7 172 1 0 3.9 -.5M507.2 334.9a2.7 1.4 167 1 0 -5.3 1.3a2.7 1.4 167 1 0 5.3 -1.3M429.6 312.4a1.9 1.3 149 1 0 -3.3 2a1.9 1.3 149 1 0 3.3 -2M377.6 275.2a2.2 1.7 154 1 0 -3.9 1.9a2.2 1.7 154 1 0 3.9 -1.9M383.5 328.8a2.5 1.9 19 1 0 4.7 1.6a2.5 1.9 19 1 0 -4.7 -1.6M504.6 310.1a2 1.7 84 1 0 .4 4a2 1.7 84 1 0 -.4 -4M481.6 260.9a2.2 1.8 143 1 0 -3.5 2.7a2.2 1.8 143 1 0 3.5 -2.7M386.9 268.9a1.8 1.4 89 1 0 .1 3.7a1.8 1.4 89 1 0 -.1 -3.7M417 262.7a2.1 1.9 33 1 0 3.6 2.3a2.1 1.9 33 1 0 -3.6 -2.3M459.4 320.9a1.7 1.7 41 1 0 2.5 2.2a1.7 1.7 41 1 0 -2.5 -2.2M497.1 243.1a1.6 1.3 11 1 0 3.1 .6a1.6 1.3 11 1 0 -3.1 -.6M448.6 311.3a2.7 1.5 16 1 0 5.2 1.5a2.7 1.5 16 1 0 -5.2 -1.5M435.4 310.6a2.9 1.9 117 1 0 -2.6 5.1a2.9 1.9 117 1 0 2.6 -5.1M498.3 316.4a2.5 1.2 163 1 0 -4.9 1.5a2.5 1.2 163 1 0 4.9 -1.5M475.7 341a2.4 2.1 162 1 0 -4.6 1.5a2.4 2.1 162 1 0 4.6 -1.5M481.4 331.2a1.6 1.2 124 1 0 -1.8 2.6a1.6 1.2 124 1 0 1.8 -2.6M464.6 331.2a2.3 1.9 119 1 0 -2.2 4a2.3 1.9 119 1 0 2.2 -4M420.7 316.6a2.4 1.7 112 1 0 -1.7 4.4a2.4 1.7 112 1 0 1.7 -4.4M491.6 248.6a1.7 1.3 175 1 0 -3.3 .3a1.7 1.3 175 1 0 3.3 -.3M458.7 338a2.7 1.1 50 1 0 3.5 4.1a2.7 1.1 50 1 0 -3.5 -4.1M401 247.6a2.5 1.7 90 1 0 0 5a2.5 1.7 90 1 0 -0 -5M455.9 338.5a1.5 1.7 76 1 0 .8 2.9a1.5 1.7 76 1 0 -.8 -2.9M497.8 298.9a1.9 1.6 44 1 0 2.7 2.6a1.9 1.6 44 1 0 -2.7 -2.6"/>
<path fill="#882a80" d="M445.3 295.5a2.7 1.2 156 1 0 -4.9 2.2a2.7 1.2 156 1 0 4.9 -2.2M450.9 293.2a1.9 1.5 63 1 0 1.7 3.4a1.9 1.5 63 1 0 -1.7 -3.4M396.5 293.3a1.7 2 99 1 0 -.5 3.4a1.7 2 99 1 0 .5 -3.4M459.2 300.9a2.7 1.2 159 1 0 -5.1 1.9a2.7 1.2 159 1 0 5.1 -1.9M390.8 312.8a1.6 1.9 13 1 0 3.2 .7a1.6 1.9 13 1 0 -3.2 -.7M436.4 325.2a2.4 2 53 1 0 2.8 3.8a2.4 2 53 1 0 -2.8 -3.8M388.8 312.2a2.6 2 39 1 0 4 3.2a2.6 2 39 1 0 -4 -3.2M389.8 307.8a2.4 1.5 23 1 0 4.5 1.9a2.4 1.5 23 1 0 -4.5 -1.9M456.7 292.7a2.3 1.4 116 1 0 -2.1 4.2a2.3 1.4 116 1 0 2.1 -4.2M455.4 278.1a2.4 1.2 29 1 0 4.2 2.4a2.4 1.2 29 1 0 -4.2 -2.4M436.3 329.3a1.8 1.8 167 1 0 -3.5 .8a1.8 1.8 167 1 0 3.5 -.8M401.6 303.3a2.5 1.8 138 1 0 -3.7 3.3a2.5 1.8 138 1 0 3.7 -3.3M381.6 304.5a2.3 2.1 56 1 0 2.5 3.8a2.3 2.1 56 1 0 -2.5 -3.8M389 307.7a1.6 1.9 63 1 0 1.5 2.8a1.6 1.9 63 1 0 -1.5 -2.8M451.3 275.9a2.4 1.5 123 1 0 -2.6 4.1a2.4 1.5 123 1 0 2.6 -4.1M393.8 310.9a2 1.4 150 1 0 -3.5 2a2 1.4 150 1 0 3.5 -2M381.1 303a2.1 2.1 175 1 0 -4.2 .4a2.1 2.1 175 1 0 4.2 -.4M444 333.9a2.2 1.7 29 1 0 3.8 2.2a2.2 1.7 29 1 0 -3.8 -2.2M450 329.3a2.2 1.6 171 1 0 -4.3 .7a2.2 1.6 171 1 0 4.3 -.7M443.4 278.7a2.8 1.5 108 1 0 -1.7 5.3a2.8 1.5 108 1 0 1.7 -5.3M443.4 298.5a2.5 1.4 131 1 0 -3.3 3.8a2.5 1.4 131 1 0 3.3 -3.8M453.7 335.4a2.1 1.6 151 1 0 -3.7 2a2.1 1.6 151 1 0 3.7 -2"/>
<path fill="#b02068" d="M465 325.6a2.3 1.2 105 1 0 -1.2 4.3a2.3 1.2 105 1 0 1.2 -4.3M397.5 252.1a1.6 1.9 48 1 0 2.2 2.4a1.6 1.9 48 1 0 -2.2 -2.4M501.9 267.5a2.5 1.3 51 1 0 3.2 3.9a2.5 1.3 51 1 0 -3.2 -3.9M396.9 270.5a2.2 1.2 115 1 0 -1.8 3.9a2.2 1.2 115 1 0 1.8 -3.9M489.9 324.5a1.8 1.8 58 1 0 1.9 3.1a1.8 1.8 58 1 0 -1.9 -3.1M443.8 248.7a2.6 1.4 42 1 0 3.9 3.6a2.6 1.4 42 1 0 -3.9 -3.6M392.6 255.9a2.5 1.2 89 1 0 .1 5a2.5 1.2 89 1 0 -.1 -5M487 244.1a2.4 1.7 171 1 0 -4.8 .8a2.4 1.7 171 1 0 4.8 -.8M388.4 322.9a2.8 1.7 170 1 0 -5.6 1a2.8 1.7 170 1 0 5.6 -1M478.4 289a1.8 1.6 5 1 0 3.5 .3a1.8 1.6 5 1 0 -3.5 -.3M492.3 344a2.1 1.2 1 1 0 4.3 .1a2.1 1.2 1 1 0 -4.3 -.1M415.4 306.5a1.5 1.3 34 1 0 2.5 1.7a1.5 1.3 34 1 0 -2.5 -1.7M483.4 330.8a2.6 1.8 144 1 0 -4.1 3a2.6 1.8 144 1 0 4.1 -3M454.4 244.3a2.6 1.2 51 1 0 3.3 4a2.6 1.2 51 1 0 -3.3 -4M399.2 244.4a2.7 1.3 152 1 0 -4.7 2.6a2.7 1.3 152 1 0 4.7 -2.6M467 310.2a2.9 1.3 42 1 0 4.2 3.9a2.9 1.3 42 1 0 -4.2 -3.9M422 257.2a2.5 1.6 48 1 0 3.3 3.8a2.5 1.6 48 1 0 -3.3 -3.8M476.4 246.2a2.4 1.4 41 1 0 3.6 3.2a2.4 1.4 41 1 0 -3.6 -3.2M415 310.4a2.6 1.6 107 1 0 -1.5 5.1a2.6 1.6 107 1 0 1.5 -5.1M495.9 246.9a2.2 1.9 166 1 0 -4.2 1.1a2.2 1.9 166 1 0 4.2 -1.1M387.4 281a2.2 2.1 74 1 0 1.2 4.2a2.2 2.1 74 1 0 -1.2 -4.2M508.4 259.4a2 1.3 167 1 0 -3.9 .9a2 1.3 167 1 0 3.9 -.9M469.3 304a2.8 1.2 10 1 0 5.5 .9a2.8 1.2 10 1 0 -5.5 -.9M465.7 286.2a1.9 1.4 127 1 0 -2.3 3a1.9 1.4 127 1 0 2.3 -3M405.3 250.9a1.9 1.4 88 1 0 .2 3.8a1.9 1.4 88 1 0 -.2 -3.8M416.4 332.4a1.7 2.1 93 1 0 -.2 3.4a1.7 2.1 93 1 0 .2 -3.4M503.1 263.4a2.9 1.8 25 1 0 5.3 2.4a2.9 1.8 25 1 0 -5.3 -2.4M401.1 252a1.6 1.9 138 1 0 -2.3 2.1a1.6 1.9 138 1 0 2.3 -2.1M499.4 263.8a1.7 1.1 148 1 0 -2.9 1.8a1.7 1.1 148 1 0 2.9 -1.8M415.2 334.1a2.2 1.4 22 1 0 4.1 1.6a2.2 1.4 22 1 0 -4.1 -1.6M507.8 241.9a2.3 1.3 117 1 0 -2.1 4a2.3 1.3 117 1 0 2.1 -4M374 267.2a1.5 1.7 5 1 0 3 .3a1.5 1.7 5 1 0 -3 -.3M383.7 329.5a1.7 1.5 28 1 0 3 1.6a1.7 1.5 28 1 0 -3 -1.6M496.5 266.5a2.9 1.3 54 1 0 3.4 4.6a2.9 1.3 54 1 0 -3.4 -4.6M507.5 247.9a2.1 1.9 168 1 0 -4.2 .9a2.1 1.9 168 1 0 4.2 -.9M463.7 289.4a2.8 2.1 42 1 0 4.1 3.7a2.8 2.1 42 1 0 -4.1 -3.7M485.5 333.7a2.3 2 92 1 0 -.2 4.6a2.3 2 92 1 0 .2 -4.6M488 339.6a1.8 1.9 78 1 0 .8 3.5a1.8 1.9 78 1 0 -.8 -3.5M494.9 342.3a2.2 1.3 21 1 0 4.2 1.6a2.2 1.3 21 1 0 -4.2 -1.6M506.5 279.2a2.1 1.7 88 1 0 .1 4.2a2.1 1.7 88 1 0 -.1 -4.2M493.2 307.9a2.9 2.1 56 1 0 3.2 4.8a2.9 2.1 56 1 0 -3.2 -4.8M473.9 299a2 1.8 35 1 0 3.3 2.3a2 1.8 35 1 0 -3.3 -2.3M464.4 263.2a1.8 1.4 167 1 0 -3.5 .8a1.8 1.4 167 1 0 3.5 -.8M495.8 333.7a1.6 1.8 138 1 0 -2.3 2.1a1.6 1.8 138 1 0 2.3 -2.1M423.6 242.6a1.7 1.7 164 1 0 -3.3 .9a1.7 1.7 164 1 0 3.3 -.9M470.4 278.3a1.6 1.9 30 1 0 2.8 1.6a1.6 1.9 30 1 0 -2.8 -1.6M374.5 291a2.5 1.8 85 1 0 .4 4.9a2.5 1.8 85 1 0 -.4 -4.9M386.3 330.8a1.9 1.2 135 1 0 -2.7 2.7a1.9 1.2 135 1 0 2.7 -2.7M465.6 342.7a2.1 1.8 47 1 0 2.8 3a2.1 1.8 47 1 0 -2.8 -3M480.3 309.4a1.5 1.9 133 1 0 -2.1 2.3a1.5 1.9 133 1 0 2.1 -2.3M452.8 250.1a2.3 1.6 172 1 0 -4.5 .6a2.3 1.6 172 1 0 4.5 -.6M381.2 321.8a1.6 1.9 41 1 0 2.4 2.1a1.6 1.9 41 1 0 -2.4 -2.1M443.1 343.1a2.3 2 124 1 0 -2.6 3.8a2.3 2 124 1 0 2.6 -3.8M392.8 253.3a1.7 1.1 82 1 0 .5 3.3a1.7 1.1 82 1 0 -.5 -3.3M436.3 318.9a2.2 1.5 124 1 0 -2.4 3.6a2.2 1.5 124 1 0 2.4 -3.6M413.6 250a2.2 1.5 15 1 0 4.2 1.1a2.2 1.5 15 1 0 -4.2 -1.1M431.6 301.6a2.2 1.5 25 1 0 4 1.9a2.2 1.5 25 1 0 -4 -1.9M487.1 305.4a2.2 1.3 121 1 0 -2.3 3.8a2.2 1.3 121 1 0 2.3 -3.8M467.5 288.8a1.9 2.1 117 1 0 -1.7 3.3a1.9 2.1 117 1 0 1.7 -3.3M435.2 309.2a2.1 1.2 53 1 0 2.5 3.3a2.1 1.2 53 1 0 -2.5 -3.3M411.9 329.8a1.6 2 14 1 0 3 .8a1.6 2 14 1 0 -3 -.8M475.7 275.7a2.3 1.3 26 1 0 4 2a2.3 1.3 26 1 0 -4 -2M454.5 310.2a1.5 1.9 10 1 0 3 .5a1.5 1.9 10 1 0 -3 -.5M446.9 340.5a1.8 1.5 102 1 0 -.8 3.6a1.8 1.5 102 1 0 .8 -3.6M500.7 317.8a2.7 1.7 137 1 0 -4 3.6a2.7 1.7 137 1 0 4 -3.6M375.7 318.7a1.9 1.1 3 1 0 3.8 .2a1.9 1.1 3 1 0 -3.8 -.2"/>
<path fill="#b06098" d="M408.4 290.7a2.5 1.9 67 1 0 1.9 4.5a2.5 1.9 67 1 0 -1.9 -4.5M416.9 289.5a1.7 1.8 3 1 0 3.4 .2a1.7 1.8 3 1 0 -3.4 -.2M413.6 290.9a1.7 1.6 117 1 0 -1.6 3a1.7 1.6 117 1 0 1.6 -3M413.5 273.5a2.4 2.1 1 1 0 4.9 0a2.4 2.1 1 1 0 -4.9 -0M428.6 286a1.9 2 167 1 0 -3.8 .9a1.9 2 167 1 0 3.8 -.9M416 281.1a2.9 1.1 93 1 0 -.3 5.7a2.9 1.1 93 1 0 .3 -5.7M410.7 278.1a2.6 2 4 1 0 5.3 .3a2.6 2 4 1 0 -5.3 -.3M412.6 283.7a1.9 1.6 77 1 0 .9 3.8a1.9 1.6 77 1 0 -.9 -3.8M412.5 274.2a1.7 1.4 177 1 0 -3.4 .2a1.7 1.4 177 1 0 3.4 -.2M400.8 290.8a1.8 2 69 1 0 1.4 3.4a1.8 2 69 1 0 -1.4 -3.4M402.1 283.8a2.4 2 48 1 0 3.2 3.5a2.4 2 48 1 0 -3.2 -3.5M429.3 277.8a2.4 1.5 0 1 0 -4.8 0a2.4 1.5 0 1 0 4.8 -0M421.8 268.7a2.3 1.9 20 1 0 4.3 1.6a2.3 1.9 20 1 0 -4.3 -1.6M403.2 296a1.6 2 31 1 0 2.8 1.6a1.6 2 31 1 0 -2.8 -1.6M405.9 264.4a2.5 1.5 85 1 0 .4 4.9a2.5 1.5 85 1 0 -.4 -4.9M412.7 290.1a2.3 1.1 147 1 0 -3.9 2.5a2.3 1.1 147 1 0 3.9 -2.5M399 277.7a1.6 1.7 87 1 0 .2 3.2a1.6 1.7 87 1 0 -.2 -3.2M398.2 272.2a2.6 1.5 77 1 0 1.1 5.1a2.6 1.5 77 1 0 -1.1 -5.1M424.6 283.7a2.6 2 9 1 0 5.1 .8a2.6 2 9 1 0 -5.1 -.8"/>
<path fill="#7c4898" d="M487.7 245.4a2.1 1.8 142 1 0 -3.4 2.6a2.1 1.8 142 1 0 3.4 -2.6M421.6 253.9a2.4 1.7 163 1 0 -4.6 1.4a2.4 1.7 163 1 0 4.6 -1.4M424.3 298a1.5 1.6 26 1 0 2.7 1.3a1.5 1.6 26 1 0 -2.7 -1.3M398.7 315.6a1.7 1.6 123 1 0 -1.9 2.9a1.7 1.6 123 1 0 1.9 -2.9M429 304.7a2.8 2 60 1 0 2.8 4.8a2.8 2 60 1 0 -2.8 -4.8M440.1 241.2a2.1 1.6 63 1 0 1.9 3.7a2.1 1.6 63 1 0 -1.9 -3.7M432.8 312.4a2.1 1.8 171 1 0 -4.2 .6a2.1 1.8 171 1 0 4.2 -.6M469.6 312.3a2.8 1.1 73 1 0 1.6 5.4a2.8 1.1 73 1 0 -1.6 -5.4M486.6 335.8a1.9 1.4 119 1 0 -1.8 3.3a1.9 1.4 119 1 0 1.8 -3.3M400.3 314.7a1.6 1.1 24 1 0 2.9 1.3a1.6 1.1 24 1 0 -2.9 -1.3M417.9 343.1a1.6 2 101 1 0 -.6 3.2a1.6 2 101 1 0 .6 -3.2M400.8 256.3a1.6 1.5 99 1 0 -.5 3.1a1.6 1.5 99 1 0 .5 -3.1M426.9 287.7a2.8 1.9 18 1 0 5.4 1.7a2.8 1.9 18 1 0 -5.4 -1.7M414.7 317.8a1.7 1.3 150 1 0 -2.9 1.6a1.7 1.3 150 1 0 2.9 -1.6M507.7 269.1a1.7 1.2 119 1 0 -1.7 2.9a1.7 1.2 119 1 0 1.7 -2.9M505.2 341.3a2.9 1.7 61 1 0 2.7 5a2.9 1.7 61 1 0 -2.7 -5M478.9 332.3a2.4 1.3 67 1 0 1.9 4.4a2.4 1.3 67 1 0 -1.9 -4.4M457.8 247.5a2.4 1.7 161 1 0 -4.5 1.6a2.4 1.7 161 1 0 4.5 -1.6M508.1 248.9a2 1.4 175 1 0 -3.9 .3a2 1.4 175 1 0 3.9 -.3M411.7 261.8a1.6 1.9 159 1 0 -3 1.2a1.6 1.9 159 1 0 3 -1.2M488.6 277.9a1.6 1.6 89 1 0 0 3.2a1.6 1.6 89 1 0 -0 -3.2M487.1 336.3a2.6 1.6 82 1 0 .8 5.2a2.6 1.6 82 1 0 -.8 -5.2M476.8 245.6a1.8 1.3 88 1 0 .1 3.5a1.8 1.3 88 1 0 -.1 -3.5M465 259.8a2.2 1.3 66 1 0 1.8 4.1a2.2 1.3 66 1 0 -1.8 -4.1M481.8 337.1a1.6 1.6 64 1 0 1.4 2.8a1.6 1.6 64 1 0 -1.4 -2.8M500.7 276.7a1.5 1.6 23 1 0 2.8 1.2a1.5 1.6 23 1 0 -2.8 -1.2M479.9 273.9a2.8 1.5 106 1 0 -1.5 5.4a2.8 1.5 106 1 0 1.5 -5.4M479.7 338.9a1.7 1.4 38 1 0 2.7 2.1a1.7 1.4 38 1 0 -2.7 -2.1M476.7 334.5a1.6 1.7 141 1 0 -2.5 2a1.6 1.7 141 1 0 2.5 -2M426.2 331.5a2.2 1.9 54 1 0 2.5 3.5a2.2 1.9 54 1 0 -2.5 -3.5M384.4 336.4a2.1 1.8 59 1 0 2.1 3.5a2.1 1.8 59 1 0 -2.1 -3.5M478 312.4a1.9 1.3 18 1 0 3.6 1.2a1.9 1.3 18 1 0 -3.6 -1.2M460.8 326.1a2.7 1.4 121 1 0 -2.8 4.6a2.7 1.4 121 1 0 2.8 -4.6M476.1 246.3a2.1 1.3 35 1 0 3.4 2.4a2.1 1.3 35 1 0 -3.4 -2.4M397.2 262.1a1.8 1.1 52 1 0 2.2 2.7a1.8 1.1 52 1 0 -2.2 -2.7M483.8 246.9a2.7 1.8 75 1 0 1.4 5.3a2.7 1.8 75 1 0 -1.4 -5.3M430 269.3a2.1 2.1 151 1 0 -3.6 2a2.1 2.1 151 1 0 3.6 -2M434.6 338.2a1.8 1.4 71 1 0 1.2 3.3a1.8 1.4 71 1 0 -1.2 -3.3M420.3 314.5a2.7 1.4 87 1 0 .3 5.3a2.7 1.4 87 1 0 -.3 -5.3M416.5 259.4a1.9 2.1 177 1 0 -3.8 .2a1.9 2.1 177 1 0 3.8 -.2M503.2 316.3a1.8 1.2 62 1 0 1.7 3.1a1.8 1.2 62 1 0 -1.7 -3.1M423.5 329.2a1.6 1.4 29 1 0 2.8 1.5a1.6 1.4 29 1 0 -2.8 -1.5M398.3 247.6a2.7 1.4 6 1 0 5.4 .6a2.7 1.4 6 1 0 -5.4 -.6M492.1 255.4a2.4 1.8 37 1 0 3.8 2.9a2.4 1.8 37 1 0 -3.8 -2.9M402.6 309.9a2.1 1.7 76 1 0 1 4.1a2.1 1.7 76 1 0 -1 -4.1M491.5 336.8a2.1 2 105 1 0 -1.1 4a2.1 2 105 1 0 1.1 -4M420.8 246.5a2 1.5 68 1 0 1.5 3.8a2 1.5 68 1 0 -1.5 -3.8M470 251.1a2.6 1.6 118 1 0 -2.4 4.6a2.6 1.6 118 1 0 2.4 -4.6M470.1 309.3a2.3 1.4 120 1 0 -2.4 4.1a2.3 1.4 120 1 0 2.4 -4.1M424.3 330.3a1.6 1.7 95 1 0 -.3 3.3a1.6 1.7 95 1 0 .3 -3.3M377.3 246.4a1.7 2 139 1 0 -2.5 2.2a1.7 2 139 1 0 2.5 -2.2M423.4 343.5a1.5 1.4 153 1 0 -2.8 1.4a1.5 1.4 153 1 0 2.8 -1.4M477.8 319.2a1.7 1.4 165 1 0 -3.3 .9a1.7 1.4 165 1 0 3.3 -.9M412.8 327.4a1.9 1.2 139 1 0 -2.8 2.4a1.9 1.2 139 1 0 2.8 -2.4M382.1 270.4a2.3 1.7 55 1 0 2.6 3.7a2.3 1.7 55 1 0 -2.6 -3.7M500.4 257.1a1.5 1.2 131 1 0 -2 2.3a1.5 1.2 131 1 0 2 -2.3M473.3 265.9a2.6 1.6 70 1 0 1.8 4.9a2.6 1.6 70 1 0 -1.8 -4.9M454.1 306.4a2.1 1.9 159 1 0 -4 1.6a2.1 1.9 159 1 0 4 -1.6M469.1 339.9a1.9 1.3 176 1 0 -3.9 .3a1.9 1.3 176 1 0 3.9 -.3M395.1 271.7a1.7 1.4 100 1 0 -.6 3.3a1.7 1.4 100 1 0 .6 -3.3M413.9 327a1.8 1.7 132 1 0 -2.4 2.7a1.8 1.7 132 1 0 2.4 -2.7M466.4 320a2.1 1.5 8 1 0 4.1 .6a2.1 1.5 8 1 0 -4.1 -.6M497.8 335.1a2.5 1.8 17 1 0 4.8 1.4a2.5 1.8 17 1 0 -4.8 -1.4M431.5 336.5a2.3 1.2 131 1 0 -3 3.4a2.3 1.2 131 1 0 3 -3.4M427.3 299a1.8 2 79 1 0 .7 3.5a1.8 2 79 1 0 -.7 -3.5M453.6 337.9a2.3 1.4 158 1 0 -4.2 1.7a2.3 1.4 158 1 0 4.2 -1.7M427 259.4a2.7 2 179 1 0 -5.5 .1a2.7 2 179 1 0 5.5 -.1M460.6 242.5a2.2 1.8 130 1 0 -2.9 3.4a2.2 1.8 130 1 0 2.9 -3.4M394.7 273.3a1.5 1.9 178 1 0 -3 .1a1.5 1.9 178 1 0 3 -.1M490.3 248.1a1.6 1.5 16 1 0 3.1 .9a1.6 1.5 16 1 0 -3.1 -.9M443.8 341.9a2.6 1.3 87 1 0 .3 5.2a2.6 1.3 87 1 0 -.3 -5.2M481.3 269.1a1.9 1.9 153 1 0 -3.5 1.8a1.9 1.9 153 1 0 3.5 -1.8M440.9 253a1.5 1.4 35 1 0 2.5 1.8a1.5 1.4 35 1 0 -2.5 -1.8M492.7 253.5a2.4 1.3 117 1 0 -2.2 4.3a2.4 1.3 117 1 0 2.2 -4.3M497 248.8a1.5 1.4 37 1 0 2.4 1.9a1.5 1.4 37 1 0 -2.4 -1.9M501.9 325.4a2.8 2 164 1 0 -5.5 1.6a2.8 2 164 1 0 5.5 -1.6M470 304.4a2.6 1.6 81 1 0 .8 5.1a2.6 1.6 81 1 0 -.8 -5.1M419 243a1.5 1.3 164 1 0 -2.9 .8a1.5 1.3 164 1 0 2.9 -.8M431.4 325.4a2.3 1.5 140 1 0 -3.5 3a2.3 1.5 140 1 0 3.5 -3M380.1 276.1a1.6 2 145 1 0 -2.6 1.8a1.6 2 145 1 0 2.6 -1.8M381.3 272.2a1.7 1.2 45 1 0 2.4 2.4a1.7 1.2 45 1 0 -2.4 -2.4M388.1 342a2.7 2 94 1 0 -.4 5.3a2.7 2 94 1 0 .4 -5.3M424.6 309.4a1.5 1.5 163 1 0 -2.9 .9a1.5 1.5 163 1 0 2.9 -.9M466.2 243.8a1.7 1.6 140 1 0 -2.6 2.2a1.7 1.6 140 1 0 2.6 -2.2M386.3 242.1a1.5 1.1 72 1 0 1 2.9a1.5 1.1 72 1 0 -1 -2.9M381.6 281.9a1.7 1.4 179 1 0 -3.4 .1a1.7 1.4 179 1 0 3.4 -.1"/>
<path fill="#a03080" d="M373.6 344.8a2.2 1.6 8 1 0 4.5 .6a2.2 1.6 8 1 0 -4.5 -.6M398.1 321.9a1.5 1.4 54 1 0 1.8 2.4a1.5 1.4 54 1 0 -1.8 -2.4M495 320.8a2.9 1.3 132 1 0 -3.8 4.3a2.9 1.3 132 1 0 3.8 -4.3M398.3 329.9a1.7 2 141 1 0 -2.7 2.1a1.7 2 141 1 0 2.7 -2.1M387.8 316.4a2.4 1.3 155 1 0 -4.4 2a2.4 1.3 155 1 0 4.4 -2M476.3 277a1.7 1.7 37 1 0 2.8 2.1a1.7 1.7 37 1 0 -2.8 -2.1M481.6 295.9a1.7 1.8 76 1 0 .8 3.2a1.7 1.8 76 1 0 -.8 -3.2M416.1 250.8a1.5 1.5 146 1 0 -2.5 1.7a1.5 1.5 146 1 0 2.5 -1.7M495.3 264.7a2.7 1.8 84 1 0 .5 5.4a2.7 1.8 84 1 0 -.5 -5.4M409.7 298.4a2.6 1.6 139 1 0 -3.9 3.3a2.6 1.6 139 1 0 3.9 -3.3M415.6 248.6a1.7 1.8 28 1 0 3 1.6a1.7 1.8 28 1 0 -3 -1.6M479.6 336.6a1.6 1.4 14 1 0 3.1 .8a1.6 1.4 14 1 0 -3.1 -.8M464.4 327.4a1.8 1.8 177 1 0 -3.7 .2a1.8 1.8 177 1 0 3.7 -.2M465.3 301.3a1.7 1.3 59 1 0 1.8 2.9a1.7 1.3 59 1 0 -1.8 -2.9M413.2 325.1a2.8 1.8 44 1 0 4 3.8a2.8 1.8 44 1 0 -4 -3.8M431.7 247.2a1.6 1.3 117 1 0 -1.4 2.8a1.6 1.3 117 1 0 1.4 -2.8M477.6 305.4a2.1 1.6 127 1 0 -2.5 3.4a2.1 1.6 127 1 0 2.5 -3.4M391.3 244.4a1.6 2.1 123 1 0 -1.7 2.6a1.6 2.1 123 1 0 1.7 -2.6M455.9 257a1.9 1.9 148 1 0 -3.2 1.9a1.9 1.9 148 1 0 3.2 -1.9M491.5 303.5a1.8 1.7 83 1 0 .4 3.6a1.8 1.7 83 1 0 -.4 -3.6M496.3 307.7a2.7 1.1 100 1 0 -1 5.4a2.7 1.1 100 1 0 1 -5.4M495.6 319.4a2.5 1.1 101 1 0 -.9 5a2.5 1.1 101 1 0 .9 -5M490.5 271a1.6 1.7 87 1 0 .2 3.2a1.6 1.7 87 1 0 -.2 -3.2M493.1 268.9a2.1 2 121 1 0 -2.2 3.6a2.1 2 121 1 0 2.2 -3.6M483.3 303.9a1.8 1.9 64 1 0 1.6 3.3a1.8 1.9 64 1 0 -1.6 -3.3M412 242.3a1.9 1.3 72 1 0 1.2 3.6a1.9 1.3 72 1 0 -1.2 -3.6M458.6 246.3a1.5 1.6 74 1 0 .8 2.9a1.5 1.6 74 1 0 -.8 -2.9M472.2 243.3a2.7 1.2 98 1 0 -.8 5.3a2.7 1.2 98 1 0 .8 -5.3M413.6 247.2a1.5 1.8 57 1 0 1.7 2.6a1.5 1.8 57 1 0 -1.7 -2.6M459.6 334.3a2.5 1.6 64 1 0 2.2 4.4a2.5 1.6 64 1 0 -2.2 -4.4M414.1 245a2.3 1.7 162 1 0 -4.3 1.4a2.3 1.7 162 1 0 4.3 -1.4M388.1 244.8a2 2 122 1 0 -2.1 3.4a2 2 122 1 0 2.1 -3.4M383.2 293.3a2.5 1.9 164 1 0 -4.7 1.4a2.5 1.9 164 1 0 4.7 -1.4M478.2 243.9a2.8 1.6 166 1 0 -5.4 1.3a2.8 1.6 166 1 0 5.4 -1.3M465.4 319.5a1.9 1.4 3 1 0 3.7 .2a1.9 1.4 3 1 0 -3.7 -.2M450.8 244.9a1.5 1.9 149 1 0 -2.6 1.6a1.5 1.9 149 1 0 2.6 -1.6M484.5 287.5a1.7 1.4 72 1 0 1.1 3.3a1.7 1.4 72 1 0 -1.1 -3.3M508.2 318.8a1.5 1.1 166 1 0 -3 .8a1.5 1.1 166 1 0 3 -.8M466.2 315.7a2 1.5 142 1 0 -3.1 2.4a2 1.5 142 1 0 3.1 -2.4M493.5 248.2a2.3 1.9 111 1 0 -1.7 4.4a2.3 1.9 111 1 0 1.7 -4.4M454.8 243.1a2.8 1.8 74 1 0 1.5 5.4a2.8 1.8 74 1 0 -1.5 -5.4M453.6 257.8a2.8 1.5 68 1 0 2.1 5.3a2.8 1.5 68 1 0 -2.1 -5.3M502.2 281.1a2.8 1.4 16 1 0 5.3 1.5a2.8 1.4 16 1 0 -5.3 -1.5M391.7 284.9a1.9 1.8 2 1 0 3.9 .2a1.9 1.8 2 1 0 -3.9 -.2M492.4 251.2a1.6 1.5 16 1 0 3.1 .9a1.6 1.5 16 1 0 -3.1 -.9M419.9 242.3a1.9 1.8 59 1 0 2 3.3a1.9 1.8 59 1 0 -2 -3.3M440.5 341.4a2.4 1.2 133 1 0 -3.3 3.6a2.4 1.2 133 1 0 3.3 -3.6M469.9 261a2.4 1.2 68 1 0 1.8 4.4a2.4 1.2 68 1 0 -1.8 -4.4M496.8 260.4a2 1.2 104 1 0 -.9 3.8a2 1.2 104 1 0 .9 -3.8M378.7 328.6a1.7 1.4 68 1 0 1.2 3.1a1.7 1.4 68 1 0 -1.2 -3.1M400.1 309.2a2.3 1.2 87 1 0 .2 4.7a2.3 1.2 87 1 0 -.2 -4.7M492.3 296.5a2.6 1.7 101 1 0 -1 5.1a2.6 1.7 101 1 0 1 -5.1M469.5 327.4a2.3 1.3 34 1 0 3.9 2.6a2.3 1.3 34 1 0 -3.9 -2.6M396.7 326.2a2 1.1 144 1 0 -3.2 2.3a2 1.1 144 1 0 3.2 -2.3M493.2 285.1a2.9 1.2 28 1 0 5.1 2.7a2.9 1.2 28 1 0 -5.1 -2.7M484.2 243.7a1.8 1.3 23 1 0 3.3 1.4a1.8 1.3 23 1 0 -3.3 -1.4M492.3 301.7a2.3 1.1 134 1 0 -3.1 3.3a2.3 1.1 134 1 0 3.1 -3.3M470.1 289.1a1.6 2.1 24 1 0 2.9 1.3a1.6 2.1 24 1 0 -2.9 -1.3M485.8 331.2a1.8 1.8 120 1 0 -1.8 3.1a1.8 1.8 120 1 0 1.8 -3.1M422.5 251.7a2.1 2.1 62 1 0 2 3.7a2.1 2.1 62 1 0 -2 -3.7M375.5 286.6a1.8 1.8 22 1 0 3.4 1.4a1.8 1.8 22 1 0 -3.4 -1.4M400.2 309.1a1.9 1.3 14 1 0 3.6 .9a1.9 1.3 14 1 0 -3.6 -.9M476.8 279.5a2.1 1.8 118 1 0 -2 3.8a2.1 1.8 118 1 0 2 -3.8M486.1 305.2a2.3 2.1 95 1 0 -.4 4.6a2.3 2.1 95 1 0 .4 -4.6M408.6 338.5a2.8 1.3 77 1 0 1.2 5.5a2.8 1.3 77 1 0 -1.2 -5.5M458.9 268.1a2.9 1.4 22 1 0 5.3 2.1a2.9 1.4 22 1 0 -5.3 -2.1M386.7 335.2a2.5 1.7 133 1 0 -3.4 3.7a2.5 1.7 133 1 0 3.4 -3.7M467.5 321.8a1.8 1.6 104 1 0 -.8 3.4a1.8 1.6 104 1 0 .8 -3.4M429.9 324.1a2 1.4 177 1 0 -4.1 .2a2 1.4 177 1 0 4.1 -.2M375.2 334.6a2.7 2 43 1 0 3.9 3.6a2.7 2 43 1 0 -3.9 -3.6M377.9 266.9a2.6 1.3 105 1 0 -1.4 5a2.6 1.3 105 1 0 1.4 -5M497.9 332.2a2.1 1.9 136 1 0 -3.1 3a2.1 1.9 136 1 0 3.1 -3M465.2 317.8a2 1.3 36 1 0 3.2 2.3a2 1.3 36 1 0 -3.2 -2.3M489.3 338.1a2 1.3 152 1 0 -3.5 1.9a2 1.3 152 1 0 3.5 -1.9M374.5 332.4a1.8 2 49 1 0 2.4 2.8a1.8 2 49 1 0 -2.4 -2.8M484.8 299.7a2.6 1.4 7 1 0 5.2 .6a2.6 1.4 7 1 0 -5.2 -.6M426.9 269.7a2.1 1.2 39 1 0 3.3 2.7a2.1 1.2 39 1 0 -3.3 -2.7M412.2 261a1.8 2 174 1 0 -3.6 .4a1.8 2 174 1 0 3.6 -.4M426.9 296.6a2.3 1.8 12 1 0 4.6 1a2.3 1.8 12 1 0 -4.6 -1M481.4 318a2 1.5 154 1 0 -3.6 1.8a2 1.5 154 1 0 3.6 -1.8M398.6 260.6a2.8 1.7 154 1 0 -5.1 2.5a2.8 1.7 154 1 0 5.1 -2.5M435 251.4a1.9 1.5 113 1 0 -1.5 3.6a1.9 1.5 113 1 0 1.5 -3.6"/>
<path fill="#c880b0" d="M490.7 293.1a1.5 1.7 177 1 0 -3 .2a1.5 1.7 177 1 0 3 -.2M419.6 329.5a1.5 1.9 161 1 0 -2.9 1a1.5 1.9 161 1 0 2.9 -1M379 337.1a2 1.7 159 1 0 -3.8 1.4a2 1.7 159 1 0 3.8 -1.4M461.2 269.4a1.8 2 167 1 0 -3.6 .8a1.8 2 167 1 0 3.6 -.8M397.2 317.3a2.1 1.4 89 1 0 .1 4.2a2.1 1.4 89 1 0 -.1 -4.2M405.1 330.2a2.2 1.6 171 1 0 -4.4 .7a2.2 1.6 171 1 0 4.4 -.7M488.9 283.1a2.2 1.5 110 1 0 -1.5 4.2a2.2 1.5 110 1 0 1.5 -4.2M396.8 333.3a2.4 2.1 172 1 0 -4.8 .7a2.4 2.1 172 1 0 4.8 -.7M465.1 294.8a2.1 1.8 159 1 0 -3.9 1.4a2.1 1.8 159 1 0 3.9 -1.4M502.8 309.7a2.1 1.7 119 1 0 -2.1 3.7a2.1 1.7 119 1 0 2.1 -3.7M418.6 256.8a2.2 1.6 1 1 0 4.5 .1a2.2 1.6 1 1 0 -4.5 -.1M485.7 332.2a1.9 1.6 118 1 0 -1.7 3.3a1.9 1.6 118 1 0 1.7 -3.3M373.2 266.5a2.3 1.6 10 1 0 4.5 .8a2.3 1.6 10 1 0 -4.5 -.8M462.5 339.1a1.5 1.7 59 1 0 1.6 2.6a1.5 1.7 59 1 0 -1.6 -2.6M413 318.3a2.1 1.8 71 1 0 1.4 4a2.1 1.8 71 1 0 -1.4 -4M401.4 340.1a1.9 1.3 2 1 0 3.9 .1a1.9 1.3 2 1 0 -3.9 -.1M475.3 263.2a2.8 1.5 15 1 0 5.4 1.5a2.8 1.5 15 1 0 -5.4 -1.5M506.1 321.9a1.9 1.3 103 1 0 -.9 3.8a1.9 1.3 103 1 0 .9 -3.8M492.2 294.4a2.7 1.4 96 1 0 -.5 5.4a2.7 1.4 96 1 0 .5 -5.4M384.2 269.2a2.5 1.6 61 1 0 2.4 4.4a2.5 1.6 61 1 0 -2.4 -4.4M419.5 300.7a2.5 1.5 37 1 0 4 3a2.5 1.5 37 1 0 -4 -3M503.6 252.6a1.6 1.6 58 1 0 1.7 2.7a1.6 1.6 58 1 0 -1.7 -2.7M418.2 247.6a2.6 1.6 38 1 0 4.1 3.2a2.6 1.6 38 1 0 -4.1 -3.2M382.5 269.5a1.6 1.3 67 1 0 1.2 2.9a1.6 1.3 67 1 0 -1.2 -2.9M487.5 262.7a1.6 1.7 108 1 0 -1 3a1.6 1.7 108 1 0 1 -3M481.3 341.8a1.6 2.1 74 1 0 .9 3.2a1.6 2.1 74 1 0 -.9 -3.2M375.2 322.4a2.8 1.4 79 1 0 1 5.4a2.8 1.4 79 1 0 -1 -5.4M394.8 317.3a2.5 1.8 12 1 0 4.9 1a2.5 1.8 12 1 0 -4.9 -1M476.2 301.6a1.5 1.3 75 1 0 .8 3a1.5 1.3 75 1 0 -.8 -3M462 276.8a2.2 1.4 55 1 0 2.6 3.6a2.2 1.4 55 1 0 -2.6 -3.6M407.4 300.5a2.3 1.4 178 1 0 -4.6 .1a2.3 1.4 178 1 0 4.6 -.1M501 315.2a2.8 1.2 161 1 0 -5.2 1.9a2.8 1.2 161 1 0 5.2 -1.9M458.8 250.3a1.7 2 163 1 0 -3.3 1a1.7 2 163 1 0 3.3 -1M423.6 305.7a2 1.3 157 1 0 -3.6 1.5a2 1.3 157 1 0 3.6 -1.5M478.9 304.2a1.6 1.7 131 1 0 -2.1 2.5a1.6 1.7 131 1 0 2.1 -2.5M476.6 279.6a2 1.2 30 1 0 3.4 2a2 1.2 30 1 0 -3.4 -2M477.1 276.3a2.5 1.6 71 1 0 1.6 4.7a2.5 1.6 71 1 0 -1.6 -4.7M445.6 304.3a2.5 1.9 153 1 0 -4.4 2.3a2.5 1.9 153 1 0 4.4 -2.3M460.8 263.9a2.4 2.1 91 1 0 -.1 4.9a2.4 2.1 91 1 0 .1 -4.9M402.5 339.7a2.8 1.8 105 1 0 -1.5 5.5a2.8 1.8 105 1 0 1.5 -5.5M422.1 255.4a2.6 1.9 41 1 0 3.9 3.4a2.6 1.9 41 1 0 -3.9 -3.4M466.6 259.8a1.8 1.3 151 1 0 -3.2 1.8a1.8 1.3 151 1 0 3.2 -1.8M493.5 309.2a2 1.4 8 1 0 3.9 .6a2 1.4 8 1 0 -3.9 -.6M479.2 310.8a1.6 1.8 77 1 0 .7 3.1a1.6 1.8 77 1 0 -.7 -3.1M422.6 329.4a1.7 1.2 115 1 0 -1.4 3.1a1.7 1.2 115 1 0 1.4 -3.1M491.6 248.6a2.1 1.1 65 1 0 1.7 3.7a2.1 1.1 65 1 0 -1.7 -3.7M503.9 248.1a2.1 1.8 27 1 0 3.7 1.9a2.1 1.8 27 1 0 -3.7 -1.9M391.3 328.2a2.7 1.7 127 1 0 -3.3 4.3a2.7 1.7 127 1 0 3.3 -4.3M442.7 245.1a2.2 1.7 90 1 0 0 4.4a2.2 1.7 90 1 0 -0 -4.4M427.1 252a2 1.9 10 1 0 3.9 .7a2 1.9 10 1 0 -3.9 -.7M391.7 265.8a1.6 1.8 97 1 0 -.4 3.2a1.6 1.8 97 1 0 .4 -3.2M457.8 310.8a2.2 1.9 28 1 0 3.9 2a2.2 1.9 28 1 0 -3.9 -2M397.7 243.6a2.7 1.4 56 1 0 3 4.5a2.7 1.4 56 1 0 -3 -4.5M480.4 269.8a1.9 2 44 1 0 2.7 2.6a1.9 2 44 1 0 -2.7 -2.6M420.8 321.3a2.9 1.9 76 1 0 1.4 5.6a2.9 1.9 76 1 0 -1.4 -5.6M389.4 256a2.5 1.6 4 1 0 5 .3a2.5 1.6 4 1 0 -5 -.3M466.6 277.5a1.8 1.9 60 1 0 1.8 3.2a1.8 1.9 60 1 0 -1.8 -3.2M491.9 254a2.3 1.9 9 1 0 4.5 .7a2.3 1.9 9 1 0 -4.5 -.7M447.6 340.8a1.7 1.4 105 1 0 -.9 3.2a1.7 1.4 105 1 0 .9 -3.2M469.4 340.4a1.8 1.6 125 1 0 -2.1 3a1.8 1.6 125 1 0 2.1 -3M503.9 275.1a2 1.2 46 1 0 2.8 2.9a2 1.2 46 1 0 -2.8 -2.9M442.6 306.1a1.7 1.8 78 1 0 .7 3.4a1.7 1.8 78 1 0 -.7 -3.4M387.7 283.4a2.6 2 163 1 0 -5 1.5a2.6 2 163 1 0 5 -1.5M482.7 250.2a2.6 1.6 125 1 0 -3 4.3a2.6 1.6 125 1 0 3 -4.3M479.4 242.6a1.8 1.8 108 1 0 -1.1 3.5a1.8 1.8 108 1 0 1.1 -3.5M496.3 256.4a2.2 2 123 1 0 -2.4 3.7a2.2 2 123 1 0 2.4 -3.7M492.9 306a2.4 1.4 125 1 0 -2.7 3.9a2.4 1.4 125 1 0 2.7 -3.9M464.8 281.9a2 1.9 60 1 0 2 3.5a2 1.9 60 1 0 -2 -3.5M406.7 324.2a2.3 1.9 34 1 0 3.8 2.5a2.3 1.9 34 1 0 -3.8 -2.5M413.8 259.4a2.3 1.1 43 1 0 3.4 3.2a2.3 1.1 43 1 0 -3.4 -3.2M495.5 262.7a2.7 2 151 1 0 -4.7 2.6a2.7 2 151 1 0 4.7 -2.6M481.1 286.5a1.9 1.4 141 1 0 -2.9 2.4a1.9 1.4 141 1 0 2.9 -2.4M395.8 264a1.6 1.1 77 1 0 .7 3.1a1.6 1.1 77 1 0 -.7 -3.1M473 293.5a1.5 1.8 166 1 0 -3 .7a1.5 1.8 166 1 0 3 -.7M462.5 270.5a2.3 1.5 32 1 0 3.9 2.4a2.3 1.5 32 1 0 -3.9 -2.4M478.2 299.4a2.3 1.8 105 1 0 -1.2 4.4a2.3 1.8 105 1 0 1.2 -4.4M383.2 332a1.7 1.2 41 1 0 2.6 2.2a1.7 1.2 41 1 0 -2.6 -2.2M411.8 246.9a1.6 1.5 43 1 0 2.3 2.2a1.6 1.5 43 1 0 -2.3 -2.2M401 326.5a1.6 1.4 59 1 0 1.6 2.7a1.6 1.4 59 1 0 -1.6 -2.7M424.8 313.4a2.2 1.3 172 1 0 -4.4 .7a2.2 1.3 172 1 0 4.4 -.7M473.4 328.2a1.7 2.1 123 1 0 -1.8 2.8a1.7 2.1 123 1 0 1.8 -2.8M379.4 313.5a2.5 1.5 153 1 0 -4.4 2.2a2.5 1.5 153 1 0 4.4 -2.2M457.8 315.3a2.8 2 110 1 0 -1.9 5.3a2.8 2 110 1 0 1.9 -5.3M448.9 312.6a2.6 1.8 169 1 0 -5.1 1a2.6 1.8 169 1 0 5.1 -1M460.5 272.6a1.7 1.9 17 1 0 3.3 1a1.7 1.9 17 1 0 -3.3 -1M446.4 251.6a2 1.6 102 1 0 -.8 3.9a2 1.6 102 1 0 .8 -3.9M409.6 309a1.8 1.6 112 1 0 -1.4 3.4a1.8 1.6 112 1 0 1.4 -3.4M500.7 282.3a1.9 1.6 159 1 0 -3.5 1.3a1.9 1.6 159 1 0 3.5 -1.3M378.4 252.2a1.5 2.1 155 1 0 -2.8 1.3a1.5 2.1 155 1 0 2.8 -1.3M379.5 331.2a2.6 1.8 60 1 0 2.6 4.5a2.6 1.8 60 1 0 -2.6 -4.5"/>
<path fill="#9a1c60" d="M462.1 300.7a2.1 1.8 97 1 0 -.5 4.1a2.1 1.8 97 1 0 .5 -4.1M395.6 249a1.8 1.6 13 1 0 3.6 .8a1.8 1.6 13 1 0 -3.6 -.8M438.6 301.8a2 1.5 154 1 0 -3.6 1.8a2 1.5 154 1 0 3.6 -1.8M484.7 343.5a2.2 1.7 10 1 0 4.3 .8a2.2 1.7 10 1 0 -4.3 -.8M442.4 249.1a2.5 1.7 23 1 0 4.5 1.9a2.5 1.7 23 1 0 -4.5 -1.9M461.5 307.7a1.9 1.1 143 1 0 -3 2.2a1.9 1.1 143 1 0 3 -2.2M415.2 241.1a2.6 1.5 135 1 0 -3.6 3.7a2.6 1.5 135 1 0 3.6 -3.7M468.1 288a2.9 1.8 124 1 0 -3.2 4.8a2.9 1.8 124 1 0 3.2 -4.8M380.5 268.4a2.6 2.1 45 1 0 3.6 3.6a2.6 2.1 45 1 0 -3.6 -3.6M481.5 275.6a1.5 1.6 9 1 0 3 .5a1.5 1.6 9 1 0 -3 -.5M428.7 333.1a1.9 1.8 104 1 0 -.9 3.8a1.9 1.8 104 1 0 .9 -3.8M442.1 249.6a2.9 2 82 1 0 .8 5.7a2.9 2 82 1 0 -.8 -5.7M375.7 325a2.1 1.5 55 1 0 2.4 3.4a2.1 1.5 55 1 0 -2.4 -3.4M383.9 286a2.6 1.1 87 1 0 .3 5.2a2.6 1.1 87 1 0 -.3 -5.2M444.3 253.3a2 1.9 137 1 0 -2.9 2.7a2 1.9 137 1 0 2.9 -2.7M468.1 307.6a1.5 1.2 89 1 0 0 3.1a1.5 1.2 89 1 0 -0 -3.1M390.2 271a1.9 1.8 156 1 0 -3.5 1.5a1.9 1.8 156 1 0 3.5 -1.5M464.4 261a2.6 1.6 4 1 0 5.3 .3a2.6 1.6 4 1 0 -5.3 -.3M386.7 246.7a2.7 1.5 133 1 0 -3.7 4a2.7 1.5 133 1 0 3.7 -4M380.6 339a1.9 1.1 135 1 0 -2.6 2.7a1.9 1.1 135 1 0 2.6 -2.7M452.8 254.1a2.7 1.6 37 1 0 4.4 3.2a2.7 1.6 37 1 0 -4.4 -3.2M420.7 306.3a1.8 1.9 21 1 0 3.3 1.3a1.8 1.9 21 1 0 -3.3 -1.3M493 292.3a2.2 1.7 148 1 0 -3.6 2.3a2.2 1.7 148 1 0 3.6 -2.3M466.8 264.7a2.7 1.9 103 1 0 -1.2 5.3a2.7 1.9 103 1 0 1.2 -5.3M496.3 261.8a2.2 1.3 79 1 0 .9 4.4a2.2 1.3 79 1 0 -.9 -4.4M387.5 272.7a2.6 2.1 93 1 0 -.2 5.2a2.6 2.1 93 1 0 .2 -5.2M494.9 242a2.7 1.9 87 1 0 .3 5.4a2.7 1.9 87 1 0 -.3 -5.4M379.7 337.3a2.6 1.1 77 1 0 1.2 5a2.6 1.1 77 1 0 -1.2 -5M463.9 277.5a2.3 1.3 37 1 0 3.7 2.7a2.3 1.3 37 1 0 -3.7 -2.7M463.1 319a1.6 2.1 49 1 0 2.1 2.5a1.6 2.1 49 1 0 -2.1 -2.5M421.7 262.8a2.2 1.3 22 1 0 4.1 1.7a2.2 1.3 22 1 0 -4.1 -1.7M469.9 333.2a1.6 1.5 48 1 0 2.2 2.4a1.6 1.5 48 1 0 -2.2 -2.4M437.2 256.4a2.8 2 100 1 0 -.9 5.5a2.8 2 100 1 0 .9 -5.5M396.5 245.7a1.6 1.3 69 1 0 1.2 2.9a1.6 1.3 69 1 0 -1.2 -2.9M404.2 313.3a1.8 1.4 64 1 0 1.6 3.3a1.8 1.4 64 1 0 -1.6 -3.3M428.4 253.3a2.3 1.7 45 1 0 3.3 3.3a2.3 1.7 45 1 0 -3.3 -3.3M456.2 330.3a1.9 1.5 14 1 0 3.7 .9a1.9 1.5 14 1 0 -3.7 -.9M493.6 304.1a2.3 1.4 46 1 0 3.2 3.3a2.3 1.4 46 1 0 -3.2 -3.3M425.9 246a1.8 1.8 55 1 0 2.1 3a1.8 1.8 55 1 0 -2.1 -3M496.2 301.4a2.7 1.9 61 1 0 2.6 4.8a2.7 1.9 61 1 0 -2.6 -4.8M437.2 254.8a2.8 1.5 93 1 0 -.3 5.6a2.8 1.5 93 1 0 .3 -5.6M416.9 341.5a1.9 2 50 1 0 2.5 3a1.9 2 50 1 0 -2.5 -3M441.5 253a2.3 2 6 1 0 4.5 .5a2.3 2 6 1 0 -4.5 -.5M420.8 302.2a1.9 1.9 125 1 0 -2.2 3.1a1.9 1.9 125 1 0 2.2 -3.1M492.8 273.3a2.2 1.7 55 1 0 2.6 3.7a2.2 1.7 55 1 0 -2.6 -3.7M404.4 305.5a2.2 1.5 13 1 0 4.3 1a2.2 1.5 13 1 0 -4.3 -1M488.8 320a2.1 1.1 37 1 0 3.3 2.5a2.1 1.1 37 1 0 -3.3 -2.5M387.6 244.5a1.8 2 97 1 0 -.4 3.6a1.8 2 97 1 0 .4 -3.6M398.8 261a1.9 1.7 132 1 0 -2.5 2.8a1.9 1.7 132 1 0 2.5 -2.8M427.8 246.3a2.8 2 153 1 0 -5 2.6a2.8 2 153 1 0 5 -2.6M468.7 276.7a2.5 1.2 77 1 0 1.2 4.9a2.5 1.2 77 1 0 -1.2 -4.9M398.9 333.2a1.8 2 125 1 0 -2.1 3a1.8 2 125 1 0 2.1 -3M495.1 262.1a2.3 2 28 1 0 4.1 2.2a2.3 2 28 1 0 -4.1 -2.2M458.6 246a1.8 1.2 21 1 0 3.4 1.3a1.8 1.2 21 1 0 -3.4 -1.3M470.1 259a2 1.6 4 1 0 4 .3a2 1.6 4 1 0 -4 -.3M389.2 329.8a1.7 1.1 16 1 0 3.3 .9a1.7 1.1 16 1 0 -3.3 -.9M401.2 259.7a1.5 1.5 115 1 0 -1.3 2.8a1.5 1.5 115 1 0 1.3 -2.8M471 305a2.3 1.7 145 1 0 -3.7 2.6a2.3 1.7 145 1 0 3.7 -2.6M470.8 300.9a1.7 1.3 171 1 0 -3.4 .5a1.7 1.3 171 1 0 3.4 -.5M421.8 297.3a2 1.8 93 1 0 -.2 4a2 1.8 93 1 0 .2 -4M465.3 307a2.7 1.4 117 1 0 -2.5 4.7a2.7 1.4 117 1 0 2.5 -4.7M430.8 292.4a2.5 1.8 114 1 0 -2 4.6a2.5 1.8 114 1 0 2 -4.6M407.2 342.9a1.6 2 94 1 0 -.2 3.1a1.6 2 94 1 0 .2 -3.1M432.2 315.8a1.7 1.2 124 1 0 -1.9 2.8a1.7 1.2 124 1 0 1.9 -2.8M403.4 329.5a2.6 1.2 92 1 0 -.2 5.1a2.6 1.2 92 1 0 .2 -5.1M500.9 285.4a2.3 1.2 1 1 0 4.7 .1a2.3 1.2 1 1 0 -4.7 -.1M402.7 255a1.6 2 173 1 0 -3.1 .4a1.6 2 173 1 0 3.1 -.4M391.5 251.8a2 1.5 28 1 0 3.5 1.8a2 1.5 28 1 0 -3.5 -1.8M505.7 318.2a2.6 1.2 87 1 0 .3 5.2a2.6 1.2 87 1 0 -.3 -5.2M384.2 323.6a2.4 1.6 167 1 0 -4.6 1.1a2.4 1.6 167 1 0 4.6 -1.1M503.6 247.1a2 1.2 99 1 0 -.6 3.9a2 1.2 99 1 0 .6 -3.9M488 268.9a2.7 1.1 49 1 0 3.6 4.1a2.7 1.1 49 1 0 -3.6 -4.1M376.1 331a1.7 1.7 142 1 0 -2.7 2.1a1.7 1.7 142 1 0 2.7 -2.1M434.8 300.4a1.7 1.7 149 1 0 -2.9 1.8a1.7 1.7 149 1 0 2.9 -1.8M390.4 285.7a1.8 2.1 178 1 0 -3.6 .1a1.8 2.1 178 1 0 3.6 -.1M403.9 335.7a1.8 1.6 43 1 0 2.7 2.5a1.8 1.6 43 1 0 -2.7 -2.5M378 277.4a2.4 1.3 151 1 0 -4.2 2.3a2.4 1.3 151 1 0 4.2 -2.3M409.7 255.1a2.6 1.7 101 1 0 -1 5.1a2.6 1.7 101 1 0 1 -5.1M460.5 316.5a2.7 1.6 58 1 0 2.9 4.7a2.7 1.6 58 1 0 -2.9 -4.7M447.3 338.4a2.5 1.4 23 1 0 4.6 1.9a2.5 1.4 23 1 0 -4.6 -1.9M498.8 251.7a2.6 1.9 61 1 0 2.5 4.5a2.6 1.9 61 1 0 -2.5 -4.5M498.1 279.6a2.2 1.4 69 1 0 1.6 4.1a2.2 1.4 69 1 0 -1.6 -4.1M467.4 248.5a2.5 1.9 152 1 0 -4.4 2.3a2.5 1.9 152 1 0 4.4 -2.3M489.5 307.9a2.9 1.7 105 1 0 -1.5 5.6a2.9 1.7 105 1 0 1.5 -5.6M502.6 242.1a1.6 1.8 125 1 0 -1.8 2.5a1.6 1.8 125 1 0 1.8 -2.5M484.3 289.2a1.6 1.5 121 1 0 -1.6 2.7a1.6 1.5 121 1 0 1.6 -2.7M484.7 248.5a2.8 1.7 154 1 0 -5 2.4a2.8 1.7 154 1 0 5 -2.4M506.3 287.3a2.6 1.6 166 1 0 -5.1 1.3a2.6 1.6 166 1 0 5.1 -1.3M428.4 246.4a2.7 1.8 61 1 0 2.6 4.7a2.7 1.8 61 1 0 -2.6 -4.7M504 294.5a1.6 2 19 1 0 3.1 1.1a1.6 2 19 1 0 -3.1 -1.1M459.2 253.9a2.5 1.6 1 1 0 4.9 .1a2.5 1.6 1 1 0 -4.9 -.1M392.7 255.8a2.1 1.6 3 1 0 4.2 .2a2.1 1.6 3 1 0 -4.2 -.2M380.2 319.2a1.7 2 175 1 0 -3.4 .3a1.7 2 175 1 0 3.4 -.3M460 321.4a1.7 1.9 41 1 0 2.6 2.3a1.7 1.9 41 1 0 -2.6 -2.3M432.7 264.4a1.6 1.1 87 1 0 .2 3.3a1.6 1.1 87 1 0 -.2 -3.3M424.8 265a2 1.4 89 1 0 .1 3.9a2 1.4 89 1 0 -.1 -3.9M434.8 337a2 1.3 38 1 0 3.1 2.4a2 1.3 38 1 0 -3.1 -2.4"/>
<path fill="#8a4090" d="M433.7 247.7a2 2.1 19 1 0 3.7 1.3a2 2.1 19 1 0 -3.7 -1.3M459.7 256.9a2.6 1.6 77 1 0 1.1 5.1a2.6 1.6 77 1 0 -1.1 -5.1M375.1 281.9a1.8 1.2 97 1 0 -.5 3.6a1.8 1.2 97 1 0 .5 -3.6M376.1 316.4a2.6 1.9 69 1 0 1.9 4.9a2.6 1.9 69 1 0 -1.9 -4.9M416.4 314.5a2 1.6 125 1 0 -2.3 3.3a2 1.6 125 1 0 2.3 -3.3M465.8 284.9a2.7 2 10 1 0 5.3 1a2.7 2 10 1 0 -5.3 -1M429.8 249.8a1.6 2 168 1 0 -3 .6a1.6 2 168 1 0 3 -.6M461.5 289.9a2.3 1.5 6 1 0 4.6 .5a2.3 1.5 6 1 0 -4.6 -.5M381.2 321.8a2.4 1.9 45 1 0 3.4 3.5a2.4 1.9 45 1 0 -3.4 -3.5M374.2 280a1.9 1.6 8 1 0 3.8 .5a1.9 1.6 8 1 0 -3.8 -.5M490.4 258.9a2.1 1.3 31 1 0 3.5 2.1a2.1 1.3 31 1 0 -3.5 -2.1M373.7 294a2.6 1.6 67 1 0 2 4.7a2.6 1.6 67 1 0 -2 -4.7M472.1 330.9a2.9 1.7 41 1 0 4.3 3.7a2.9 1.7 41 1 0 -4.3 -3.7M409.2 301.8a2.4 1.1 12 1 0 4.6 1a2.4 1.1 12 1 0 -4.6 -1M456.5 339a2.4 1.7 91 1 0 -.1 4.8a2.4 1.7 91 1 0 .1 -4.8M472.2 323a2.1 1.8 117 1 0 -1.9 3.7a2.1 1.8 117 1 0 1.9 -3.7M425.5 293.6a2.4 1.9 17 1 0 4.6 1.4a2.4 1.9 17 1 0 -4.6 -1.4M412.3 300.4a2.9 1.8 98 1 0 -.8 5.6a2.9 1.8 98 1 0 .8 -5.6M484.2 272.5a1.6 1.8 3 1 0 3.2 .2a1.6 1.8 3 1 0 -3.2 -.2M383 273.4a2.3 1.6 101 1 0 -.9 4.5a2.3 1.6 101 1 0 .9 -4.5M394 241.9a2.1 1.7 144 1 0 -3.4 2.5a2.1 1.7 144 1 0 3.4 -2.5M472.4 264.8a2.6 1.5 175 1 0 -5.2 .4a2.6 1.5 175 1 0 5.2 -.4M459.4 335.4a2.3 1.6 4 1 0 4.6 .3a2.3 1.6 4 1 0 -4.6 -.3M471 343.6a2 1.6 54 1 0 2.4 3.3a2 1.6 54 1 0 -2.4 -3.3M401.4 317.4a1.6 2.1 28 1 0 2.7 1.5a1.6 2.1 28 1 0 -2.7 -1.5M445.2 305.9a2.9 1.3 32 1 0 4.9 3.1a2.9 1.3 32 1 0 -4.9 -3.1M411.8 252a2 1.4 146 1 0 -3.3 2.2a2 1.4 146 1 0 3.3 -2.2M457.7 338.4a1.7 1.9 98 1 0 -.5 3.4a1.7 1.9 98 1 0 .5 -3.4M499.7 283.7a1.8 1.4 68 1 0 1.4 3.3a1.8 1.4 68 1 0 -1.4 -3.3M504.3 272.4a1.9 1.8 40 1 0 2.8 2.4a1.9 1.8 40 1 0 -2.8 -2.4M484.4 292.9a2.6 1.3 123 1 0 -2.8 4.3a2.6 1.3 123 1 0 2.8 -4.3M436.6 339a2.4 1.6 18 1 0 4.6 1.5a2.4 1.6 18 1 0 -4.6 -1.5M382.2 337.4a2.4 1.7 9 1 0 4.8 .8a2.4 1.7 9 1 0 -4.8 -.8M474.3 265.9a1.7 1.9 112 1 0 -1.3 3.1a1.7 1.9 112 1 0 1.3 -3.1M493.1 340.9a2.7 2.1 124 1 0 -3 4.5a2.7 2.1 124 1 0 3 -4.5M504.8 297a2.7 1.3 115 1 0 -2.3 5a2.7 1.3 115 1 0 2.3 -5M504.1 342.7a2.1 1.4 6 1 0 4.2 .5a2.1 1.4 6 1 0 -4.2 -.5M469.9 254.1a2.2 2 92 1 0 -.2 4.4a2.2 2 92 1 0 .2 -4.4M465.8 300.9a2.7 1.7 45 1 0 3.8 3.8a2.7 1.7 45 1 0 -3.8 -3.8M460.6 306.7a1.7 2.1 98 1 0 -.5 3.4a1.7 2.1 98 1 0 .5 -3.4M398.9 314.9a2.1 1.1 119 1 0 -2.1 3.7a2.1 1.1 119 1 0 2.1 -3.7M400.8 324.2a2.3 1.7 55 1 0 2.7 3.8a2.3 1.7 55 1 0 -2.7 -3.8M409.6 259.7a2 2 166 1 0 -3.9 1a2 2 166 1 0 3.9 -1M433.2 271.8a2.9 1.5 111 1 0 -2.1 5.3a2.9 1.5 111 1 0 2.1 -5.3M455.3 336.1a2.8 1.8 23 1 0 5.2 2.2a2.8 1.8 23 1 0 -5.2 -2.2M425 262.9a1.8 1.1 9 1 0 3.5 .6a1.8 1.1 9 1 0 -3.5 -.6M488.4 246.7a1.8 1.3 86 1 0 .2 3.6a1.8 1.3 86 1 0 -.2 -3.6M499.3 301.2a2 1.9 177 1 0 -4 .2a2 1.9 177 1 0 4 -.2M477.9 331.1a2.8 1.4 150 1 0 -4.8 2.8a2.8 1.4 150 1 0 4.8 -2.8M435.5 302.4a2.2 1.9 13 1 0 4.3 1a2.2 1.9 13 1 0 -4.3 -1M473.6 310.4a2.2 2 10 1 0 4.4 .7a2.2 2 10 1 0 -4.4 -.7M381.4 333.3a2.4 1.3 62 1 0 2.2 4.3a2.4 1.3 62 1 0 -2.2 -4.3M502.4 311.6a1.5 1.4 113 1 0 -1.2 2.8a1.5 1.4 113 1 0 1.2 -2.8M486.4 307.5a2.5 2 6 1 0 5.1 .5a2.5 2 6 1 0 -5.1 -.5M504.3 292.5a2.7 2 98 1 0 -.8 5.4a2.7 2 98 1 0 .8 -5.4M430.5 299.2a2.1 1.8 134 1 0 -2.9 3a2.1 1.8 134 1 0 2.9 -3M455.1 244.1a2.8 1.8 137 1 0 -4.1 3.8a2.8 1.8 137 1 0 4.1 -3.8M440.1 242.7a2.6 1.3 49 1 0 3.5 4a2.6 1.3 49 1 0 -3.5 -4M505.9 335.6a1.6 1.9 114 1 0 -1.3 3a1.6 1.9 114 1 0 1.3 -3M504.1 344a1.6 1.2 167 1 0 -3.1 .7a1.6 1.2 167 1 0 3.1 -.7M419.6 301.5a2.5 1.5 144 1 0 -4 2.9a2.5 1.5 144 1 0 4 -2.9M403.1 249.5a1.7 1.8 117 1 0 -1.5 3a1.7 1.8 117 1 0 1.5 -3M413.9 338.9a2.3 1.1 100 1 0 -.7 4.4a2.3 1.1 100 1 0 .7 -4.4M460.7 320.8a2.1 1.6 89 1 0 0 4.3a2.1 1.6 89 1 0 -0 -4.3M397.5 244.6a1.9 1.9 88 1 0 .1 3.9a1.9 1.9 88 1 0 -.1 -3.9M383.3 331.2a1.7 1.7 139 1 0 -2.5 2.2a1.7 1.7 139 1 0 2.5 -2.2M502.7 340.4a1.7 2 138 1 0 -2.5 2.2a1.7 2 138 1 0 2.5 -2.2M435.6 304.1a2.2 1.3 133 1 0 -3.1 3.2a2.2 1.3 133 1 0 3.1 -3.2M491.1 306.3a2.2 1.8 72 1 0 1.3 4.1a2.2 1.8 72 1 0 -1.3 -4.1M463.2 327.1a1.8 1.5 114 1 0 -1.5 3.3a1.8 1.5 114 1 0 1.5 -3.3M442.2 242.9a1.5 1.9 56 1 0 1.7 2.5a1.5 1.9 56 1 0 -1.7 -2.5M473.1 330.1a2.4 1.6 33 1 0 3.9 2.6a2.4 1.6 33 1 0 -3.9 -2.6M496.1 332.2a2.1 1.5 59 1 0 2.2 3.6a2.1 1.5 59 1 0 -2.2 -3.6M435.4 273.5a1.5 1.6 155 1 0 -2.8 1.3a1.5 1.6 155 1 0 2.8 -1.3M457.7 303.2a2.3 1.9 140 1 0 -3.5 2.9a2.3 1.9 140 1 0 3.5 -2.9M492 301.9a2.9 1.3 10 1 0 5.6 1a2.9 1.3 10 1 0 -5.6 -1M465.1 304.7a1.5 1.9 12 1 0 3 .6a1.5 1.9 12 1 0 -3 -.6M379.2 328a2.7 1.7 154 1 0 -4.8 2.4a2.7 1.7 154 1 0 4.8 -2.4M490.1 259.9a1.9 1.2 6 1 0 3.7 .4a1.9 1.2 6 1 0 -3.7 -.4M449.8 308.3a2.7 1.7 119 1 0 -2.6 4.7a2.7 1.7 119 1 0 2.6 -4.7M376.3 296.6a1.8 1.7 88 1 0 .1 3.7a1.8 1.7 88 1 0 -.1 -3.7M432.9 299a2.3 1.1 10 1 0 4.6 .8a2.3 1.1 10 1 0 -4.6 -.8M412.7 252.6a1.8 1.3 113 1 0 -1.4 3.3a1.8 1.3 113 1 0 1.4 -3.3M472.8 325.3a2.8 1.9 97 1 0 -.7 5.5a2.8 1.9 97 1 0 .7 -5.5M408.6 248.5a2.4 1.4 137 1 0 -3.5 3.2a2.4 1.4 137 1 0 3.5 -3.2M433.4 246.3a2.5 2 21 1 0 4.7 1.8a2.5 2 21 1 0 -4.7 -1.8M501.7 280.9a2.4 2 10 1 0 4.7 .8a2.4 2 10 1 0 -4.7 -.8"/>
<path fill="#d898b0" d="M413.5 305.2a2.1 1.3 171 1 0 -4.1 .6a2.1 1.3 171 1 0 4.1 -.6M374.6 270.5a2.7 1.6 9 1 0 5.4 .9a2.7 1.6 9 1 0 -5.4 -.9M396.5 274.1a2.2 1.7 152 1 0 -3.9 2.1a2.2 1.7 152 1 0 3.9 -2.1M426.1 316.1a2.2 1.1 64 1 0 1.9 4a2.2 1.1 64 1 0 -1.9 -4M476 252.9a1.5 2.1 36 1 0 2.5 1.8a1.5 2.1 36 1 0 -2.5 -1.8M444.7 314.1a2.3 1.9 3 1 0 4.5 .3a2.3 1.9 3 1 0 -4.5 -.3M432.6 340.5a1.9 1.5 57 1 0 2 3.1a1.9 1.5 57 1 0 -2 -3.1M483.3 241.8a2.7 2 152 1 0 -4.8 2.6a2.7 2 152 1 0 4.8 -2.6M455.1 307.3a2.6 1.5 24 1 0 4.7 2.1a2.6 1.5 24 1 0 -4.7 -2.1M500 306.5a2.3 1.7 37 1 0 3.6 2.8a2.3 1.7 37 1 0 -3.6 -2.8M377.8 312.7a2.2 1.1 16 1 0 4.3 1.2a2.2 1.1 16 1 0 -4.3 -1.2M478.1 279.4a1.8 2.1 17 1 0 3.5 1.1a1.8 2.1 17 1 0 -3.5 -1.1M454.6 246.6a1.5 1.2 59 1 0 1.6 2.6a1.5 1.2 59 1 0 -1.6 -2.6M432.7 343.5a2.7 1.2 179 1 0 -5.4 .1a2.7 1.2 179 1 0 5.4 -.1M420.4 250.1a2.9 1.2 109 1 0 -1.8 5.5a2.9 1.2 109 1 0 1.8 -5.5M416.7 250.9a1.8 2 155 1 0 -3.3 1.5a1.8 2 155 1 0 3.3 -1.5M393.5 257.6a1.6 1.4 44 1 0 2.3 2.2a1.6 1.4 44 1 0 -2.3 -2.2M498.2 308.4a1.9 2.1 14 1 0 3.7 1a1.9 2.1 14 1 0 -3.7 -1M443.4 248.8a1.8 1.1 136 1 0 -2.7 2.5a1.8 1.1 136 1 0 2.7 -2.5M375.3 325a1.6 1.2 94 1 0 -.2 3.2a1.6 1.2 94 1 0 .2 -3.2M403.6 334.5a2.7 1.4 0 1 0 -5.4 0a2.7 1.4 0 1 0 5.4 -0M472.4 290.1a2 1.2 40 1 0 3 2.5a2 1.2 40 1 0 -3 -2.5M482.8 274.2a2.2 2 26 1 0 3.9 1.9a2.2 2 26 1 0 -3.9 -1.9M490.2 281.3a2.2 1.5 140 1 0 -3.5 2.9a2.2 1.5 140 1 0 3.5 -2.9M471.1 314.4a2.2 1.5 46 1 0 3 3.1a2.2 1.5 46 1 0 -3 -3.1M423.1 334.7a2.3 1.8 27 1 0 4.1 2.1a2.3 1.8 27 1 0 -4.1 -2.1M485.4 331.2a1.7 1.2 23 1 0 3.2 1.3a1.7 1.2 23 1 0 -3.2 -1.3M466.1 338.6a2.1 1.7 36 1 0 3.4 2.4a2.1 1.7 36 1 0 -3.4 -2.4M480.3 305.7a2.6 2 150 1 0 -4.6 2.6a2.6 2 150 1 0 4.6 -2.6M397.3 321.2a1.9 2 104 1 0 -.9 3.6a1.9 2 104 1 0 .9 -3.6M456.2 304.8a1.8 1.5 27 1 0 3.2 1.6a1.8 1.5 27 1 0 -3.2 -1.6M437.5 247.1a1.7 1.2 49 1 0 2.3 2.6a1.7 1.2 49 1 0 -2.3 -2.6M462.7 247.8a2.5 1.4 59 1 0 2.6 4.4a2.5 1.4 59 1 0 -2.6 -4.4M376.8 243.5a1.9 1.5 168 1 0 -3.8 .8a1.9 1.5 168 1 0 3.8 -.8M498.3 329.5a2.7 1.6 35 1 0 4.5 3.2a2.7 1.6 35 1 0 -4.5 -3.2M394.7 330.3a2.6 1.2 71 1 0 1.7 4.9a2.6 1.2 71 1 0 -1.7 -4.9M381.3 266.5a2.2 1.4 34 1 0 3.7 2.5a2.2 1.4 34 1 0 -3.7 -2.5M438.2 308.1a2.8 1.4 94 1 0 -.4 5.6a2.8 1.4 94 1 0 .4 -5.6M446.3 256a1.8 1.4 40 1 0 2.8 2.4a1.8 1.4 40 1 0 -2.8 -2.4M430.7 270.2a1.8 1.7 8 1 0 3.5 .5a1.8 1.7 8 1 0 -3.5 -.5M392 251.5a2.2 1.8 63 1 0 2.1 4a2.2 1.8 63 1 0 -2.1 -4M375.6 290.7a1.8 1.9 53 1 0 2.2 2.9a1.8 1.9 53 1 0 -2.2 -2.9M373.9 329.6a2.7 2 73 1 0 1.6 5.2a2.7 2 73 1 0 -1.6 -5.2M378.2 296.5a1.9 1.5 18 1 0 3.6 1.2a1.9 1.5 18 1 0 -3.6 -1.2M473.2 281.5a2.3 2.1 142 1 0 -3.6 2.8a2.3 2.1 142 1 0 3.6 -2.8M418.1 257.2a2.6 1.2 142 1 0 -4.1 3.2a2.6 1.2 142 1 0 4.1 -3.2M417 328.7a1.6 2.1 146 1 0 -2.7 1.8a1.6 2.1 146 1 0 2.7 -1.8M487.5 292.4a1.9 1.1 148 1 0 -3.2 2a1.9 1.1 148 1 0 3.2 -2M415.3 298.7a2.7 1.3 139 1 0 -4 3.5a2.7 1.3 139 1 0 4 -3.5M433.5 304.1a1.7 1.7 105 1 0 -.9 3.3a1.7 1.7 105 1 0 .9 -3.3M487.8 314.5a1.8 1.3 173 1 0 -3.6 .4a1.8 1.3 173 1 0 3.6 -.4M404.7 247.5a2.9 1.4 64 1 0 2.5 5.1a2.9 1.4 64 1 0 -2.5 -5.1M458.6 332.4a1.6 2 2 1 0 3.1 .1a1.6 2 2 1 0 -3.1 -.1M426.3 325.7a1.6 1.3 55 1 0 1.8 2.6a1.6 1.3 55 1 0 -1.8 -2.6M376.9 329.3a2.5 2.1 72 1 0 1.5 4.8a2.5 2.1 72 1 0 -1.5 -4.8M424 322.7a1.5 1.7 137 1 0 -2.2 2.1a1.5 1.7 137 1 0 2.2 -2.1M469.2 255.4a2.1 1.8 119 1 0 -2 3.6a2.1 1.8 119 1 0 2 -3.6M380.8 328.6a2.6 1.2 109 1 0 -1.7 4.9a2.6 1.2 109 1 0 1.7 -4.9M410.7 241.2a1.9 1.5 55 1 0 2.2 3.1a1.9 1.5 55 1 0 -2.2 -3.1M406.7 250.5a2.6 1.8 27 1 0 4.7 2.4a2.6 1.8 27 1 0 -4.7 -2.4M498.7 243a2.6 1.2 56 1 0 3 4.3a2.6 1.2 56 1 0 -3 -4.3M482.8 341.9a2.6 1.8 2 1 0 5.3 .2a2.6 1.8 2 1 0 -5.3 -.2M406.7 338.9a1.8 1.5 2 1 0 3.7 .1a1.8 1.5 2 1 0 -3.7 -.1M409.4 334.6a1.7 1.4 148 1 0 -2.8 1.8a1.7 1.4 148 1 0 2.8 -1.8M468.2 312a2.7 1.7 89 1 0 .1 5.3a2.7 1.7 89 1 0 -.1 -5.3M423.8 336.7a1.9 1.7 89 1 0 .1 3.8a1.9 1.7 89 1 0 -.1 -3.8M429.6 244.4a2.3 2 130 1 0 -2.9 3.5a2.3 2 130 1 0 2.9 -3.5M466.3 312.7a2.6 1.4 125 1 0 -3 4.2a2.6 1.4 125 1 0 3 -4.2M415.7 301.5a2 2 14 1 0 3.8 1a2 2 14 1 0 -3.8 -1M461.8 261a2.2 1.4 120 1 0 -2.2 3.8a2.2 1.4 120 1 0 2.2 -3.8M486.1 339.4a2.6 1.9 23 1 0 4.8 2a2.6 1.9 23 1 0 -4.8 -2M478.7 287.3a2.3 2 127 1 0 -2.8 3.7a2.3 2 127 1 0 2.8 -3.7M401.8 257.7a2.5 1.5 87 1 0 .3 5a2.5 1.5 87 1 0 -.3 -5M390.9 270.7a2.5 1.2 29 1 0 4.4 2.5a2.5 1.2 29 1 0 -4.4 -2.5M402.2 341.6a1.8 2.1 5 1 0 3.5 .3a1.8 2.1 5 1 0 -3.5 -.3M412.9 322.6a1.5 1.7 90 1 0 0 3.1a1.5 1.7 90 1 0 -0 -3.1M474.8 339.9a2.8 1.8 18 1 0 5.3 1.7a2.8 1.8 18 1 0 -5.3 -1.7M404.5 252.2a2.3 1.3 52 1 0 2.9 3.7a2.3 1.3 52 1 0 -2.9 -3.7M423.6 332.7a1.6 1.6 139 1 0 -2.5 2.2a1.6 1.6 139 1 0 2.5 -2.2M470.9 294.2a1.5 2.1 133 1 0 -2.1 2.2a1.5 2.1 133 1 0 2.1 -2.2M475.8 285.6a2.1 1.3 59 1 0 2.1 3.6a2.1 1.3 59 1 0 -2.1 -3.6M394.5 246.8a2.5 1.6 162 1 0 -4.8 1.6a2.5 1.6 162 1 0 4.8 -1.6M394 333.7a2 2.1 128 1 0 -2.4 3.1a2 2.1 128 1 0 2.4 -3.1M392.2 332.2a2.4 1.9 106 1 0 -1.3 4.6a2.4 1.9 106 1 0 1.3 -4.6M490.7 343.1a1.5 2.1 76 1 0 .7 2.9a1.5 2.1 76 1 0 -.7 -2.9"/>
<path fill="#b02070" d="M445 290.6a2.2 1.4 49 1 0 2.9 3.4a2.2 1.4 49 1 0 -2.9 -3.4M378.8 302.6a2.7 1.6 105 1 0 -1.4 5.2a2.7 1.6 105 1 0 1.4 -5.2M449 317.2a1.8 2 101 1 0 -.7 3.6a1.8 2 101 1 0 .7 -3.6M448.3 297.5a1.7 1.7 174 1 0 -3.3 .4a1.7 1.7 174 1 0 3.3 -.4M374.6 306.5a1.8 1.3 54 1 0 2.1 2.8a1.8 1.3 54 1 0 -2.1 -2.8M439.1 323.8a2 1.2 154 1 0 -3.6 1.7a2 1.2 154 1 0 3.6 -1.7M444.4 333.7a1.9 1.8 108 1 0 -1.1 3.5a1.9 1.8 108 1 0 1.1 -3.5M393.8 302.1a1.7 1.8 0 1 0 3.3 0a1.7 1.8 0 1 0 -3.3 -0M389.7 301.1a1.6 1.2 99 1 0 -.5 3.1a1.6 1.2 99 1 0 .5 -3.1M455.2 301.5a2.1 2 20 1 0 3.9 1.4a2.1 2 20 1 0 -3.9 -1.4M460 276.5a1.7 1.1 136 1 0 -2.4 2.4a1.7 1.1 136 1 0 2.4 -2.4M442.5 331.7a2.5 1.9 51 1 0 3.1 3.9a2.5 1.9 51 1 0 -3.1 -3.9M433.1 283.3a2.5 1.3 27 1 0 4.5 2.3a2.5 1.3 27 1 0 -4.5 -2.3M389.6 306.4a2.8 1.3 177 1 0 -5.6 .3a2.8 1.3 177 1 0 5.6 -.3M451.5 329.6a1.8 2.1 78 1 0 .8 3.6a1.8 2.1 78 1 0 -.8 -3.6M393.9 299.7a2.1 1.8 8 1 0 4.2 .6a2.1 1.8 8 1 0 -4.2 -.6M441.9 299.9a2.7 1.3 97 1 0 -.6 5.3a2.7 1.3 97 1 0 .6 -5.3"/>
<path fill="#981450" d="M460.2 285.6a2.1 1.2 31 1 0 3.7 2.2a2.1 1.2 31 1 0 -3.7 -2.2M434.9 284.5a1.8 1.5 93 1 0 -.2 3.5a1.8 1.5 93 1 0 .2 -3.5M441.6 318.7a2.7 2 126 1 0 -3.1 4.3a2.7 2 126 1 0 3.1 -4.3M442.1 286.6a2.5 1.4 109 1 0 -1.7 4.8a2.5 1.4 109 1 0 1.7 -4.8M437.2 281.8a1.7 1.7 123 1 0 -1.8 2.8a1.7 1.7 123 1 0 1.8 -2.8M459.3 273.8a2.4 1.2 118 1 0 -2.2 4.2a2.4 1.2 118 1 0 2.2 -4.2M444.1 294.8a2.9 1.8 15 1 0 5.6 1.5a2.9 1.8 15 1 0 -5.6 -1.5M434.4 325.3a2.7 2.1 85 1 0 .4 5.3a2.7 2.1 85 1 0 -.4 -5.3M383.7 293.4a2.7 1.5 29 1 0 4.7 2.6a2.7 1.5 29 1 0 -4.7 -2.6M440 330.8a2.8 1.6 129 1 0 -3.5 4.3a2.8 1.6 129 1 0 3.5 -4.3M448.6 333.8a2 2 110 1 0 -1.3 3.7a2 2 110 1 0 1.3 -3.7M440.9 325.2a1.9 2 27 1 0 3.3 1.7a1.9 2 27 1 0 -3.3 -1.7M454.2 276a2.8 1.8 13 1 0 5.4 1.2a2.8 1.8 13 1 0 -5.4 -1.2M452.1 325.6a2 1.5 43 1 0 2.9 2.7a2 1.5 43 1 0 -2.9 -2.7M452.5 290.9a2.1 1.5 159 1 0 -3.9 1.5a2.1 1.5 159 1 0 3.9 -1.5M436.7 291.5a2.7 1.6 114 1 0 -2.2 5a2.7 1.6 114 1 0 2.2 -5M382.9 304.8a2.5 1.6 63 1 0 2.3 4.5a2.5 1.6 63 1 0 -2.3 -4.5M452.2 280a2.2 1.6 76 1 0 1.1 4.4a2.2 1.6 76 1 0 -1.1 -4.4M454.7 296.8a2.9 1.3 77 1 0 1.3 5.6a2.9 1.3 77 1 0 -1.3 -5.6M393.1 315.7a2 1.2 4 1 0 4 .3a2 1.2 4 1 0 -4 -.3M454 319.9a1.6 1.9 167 1 0 -3 .7a1.6 1.9 167 1 0 3 -.7M433.7 322.2a1.9 2 106 1 0 -1 3.6a1.9 2 106 1 0 1 -3.6M450 301.1a1.9 2 72 1 0 1.2 3.6a1.9 2 72 1 0 -1.2 -3.6M441.3 319.7a2.4 1.9 8 1 0 4.7 .6a2.4 1.9 8 1 0 -4.7 -.6M437.7 285.2a2.4 1.7 159 1 0 -4.6 1.8a2.4 1.7 159 1 0 4.6 -1.8M384.7 306.1a2.4 1.1 109 1 0 -1.6 4.6a2.4 1.1 109 1 0 1.6 -4.6M376.2 306.6a2.2 1.1 127 1 0 -2.7 3.6a2.2 1.1 127 1 0 2.7 -3.6"/>
<path fill="#a00c38" d="M396.5 301.7a2.5 2 91 1 0 -.1 4.9a2.5 2 91 1 0 .1 -4.9M455.7 281.4a1.8 2.1 28 1 0 3.2 1.6a1.8 2.1 28 1 0 -3.2 -1.6M440.1 283.7a2.8 1.2 140 1 0 -4.3 3.7a2.8 1.2 140 1 0 4.3 -3.7M437.1 325.4a2.6 1.6 94 1 0 -.3 5.2a2.6 1.6 94 1 0 .3 -5.2M440.7 277.9a2.1 1.5 93 1 0 -.2 4.3a2.1 1.5 93 1 0 .2 -4.3M385.4 294.2a1.7 1.9 54 1 0 2 2.8a1.7 1.9 54 1 0 -2 -2.8M383.3 307a2.8 2.1 146 1 0 -4.6 3.2a2.8 2.1 146 1 0 4.6 -3.2M398.2 301.5a2.6 1.4 45 1 0 3.6 3.6a2.6 1.4 45 1 0 -3.6 -3.6M390.8 305.6a1.6 1.9 116 1 0 -1.4 2.8a1.6 1.9 116 1 0 1.4 -2.8M449.3 323.1a2 1.7 87 1 0 .2 3.9a2 1.7 87 1 0 -.2 -3.9M455.5 330a2.7 1.9 154 1 0 -4.8 2.3a2.7 1.9 154 1 0 4.8 -2.3M377.6 304.6a2.3 1.7 31 1 0 3.9 2.3a2.3 1.7 31 1 0 -3.9 -2.3M456.3 321.4a1.7 1.5 171 1 0 -3.3 .5a1.7 1.5 171 1 0 3.3 -.5M391.4 308.1a1.6 2 173 1 0 -3.1 .4a1.6 2 173 1 0 3.1 -.4M389.6 307.2a2.7 2 115 1 0 -2.3 4.9a2.7 2 115 1 0 2.3 -4.9M451.7 285.7a1.6 1.3 77 1 0 .7 3.1a1.6 1.3 77 1 0 -.7 -3.1M438.9 296.8a2.4 1.6 150 1 0 -4.1 2.4a2.4 1.6 150 1 0 4.1 -2.4M458.1 283a2.1 1.8 80 1 0 .7 4.1a2.1 1.8 80 1 0 -.7 -4.1M388.9 306.1a2.1 1.5 8 1 0 4.2 .6a2.1 1.5 8 1 0 -4.2 -.6"/>
<path fill="#a878b4" d="M394.6 281.2a2.7 1.7 65 1 0 2.3 4.8a2.7 1.7 65 1 0 -2.3 -4.8M403.6 284.1a1.8 1.5 160 1 0 -3.3 1.2a1.8 1.5 160 1 0 3.3 -1.2M394 286.2a1.9 1.3 23 1 0 3.5 1.5a1.9 1.3 23 1 0 -3.5 -1.5M418.8 277a2.8 1.3 118 1 0 -2.6 4.8a2.8 1.3 118 1 0 2.6 -4.8M401.3 270.7a2.6 1.7 118 1 0 -2.5 4.7a2.6 1.7 118 1 0 2.5 -4.7M404.3 290.2a2.5 1.3 82 1 0 .7 5a2.5 1.3 82 1 0 -.7 -5M424.4 280.7a2.9 1.6 114 1 0 -2.3 5.2a2.9 1.6 114 1 0 2.3 -5.2M404.6 276.1a2.2 1.4 92 1 0 -.2 4.5a2.2 1.4 92 1 0 .2 -4.5"/>
<path fill="#a81860" d="M449.9 285.5a1.9 1.3 145 1 0 -3.1 2.2a1.9 1.3 145 1 0 3.1 -2.2M440.4 322.4a2.8 2 119 1 0 -2.7 4.8a2.8 2 119 1 0 2.7 -4.8M445.4 297.6a2.6 1.6 153 1 0 -4.6 2.4a2.6 1.6 153 1 0 4.6 -2.4M390 295.6a2.5 1.1 94 1 0 -.4 5a2.5 1.1 94 1 0 .4 -5M401.9 305a2.9 1.5 155 1 0 -5.2 2.4a2.9 1.5 155 1 0 5.2 -2.4M447.9 279.2a2.3 1.7 147 1 0 -3.8 2.5a2.3 1.7 147 1 0 3.8 -2.5M391.1 297.8a2.1 1.4 137 1 0 -3.1 2.9a2.1 1.4 137 1 0 3.1 -2.9M378.6 303.3a2.3 1.7 74 1 0 1.3 4.3a2.3 1.7 74 1 0 -1.3 -4.3M452.5 276a1.7 1.8 154 1 0 -3 1.5a1.7 1.8 154 1 0 3 -1.5M388.2 299.8a2.1 1.7 100 1 0 -.8 4.2a2.1 1.7 100 1 0 .8 -4.2M443.3 319.5a2.4 2.1 64 1 0 2.1 4.4a2.4 2.1 64 1 0 -2.1 -4.4M463.7 286.6a2.2 1.7 168 1 0 -4.4 1a2.2 1.7 168 1 0 4.4 -1M446.2 328.8a2.6 2 35 1 0 4.3 3a2.6 2 35 1 0 -4.3 -3M447.7 333.6a1.9 2 32 1 0 3.2 1.9a1.9 2 32 1 0 -3.2 -1.9M450.2 296.2a2.2 1.3 115 1 0 -1.9 4.1a2.2 1.3 115 1 0 1.9 -4.1M396.1 300.9a2.5 1.7 109 1 0 -1.7 4.8a2.5 1.7 109 1 0 1.7 -4.8M445 280.2a1.5 1.2 79 1 0 .6 3a1.5 1.2 79 1 0 -.6 -3M440.8 333.3a2.4 2 17 1 0 4.5 1.4a2.4 2 17 1 0 -4.5 -1.4M387.3 312.3a1.8 1.7 153 1 0 -3.2 1.7a1.8 1.7 153 1 0 3.2 -1.7M392.8 308.5a2.4 1.5 175 1 0 -4.8 .4a2.4 1.5 175 1 0 4.8 -.4M448.8 328.2a1.5 1.3 24 1 0 2.8 1.2a1.5 1.3 24 1 0 -2.8 -1.2M444.5 290.4a1.7 1.6 114 1 0 -1.4 3.1a1.7 1.6 114 1 0 1.4 -3.1M438.1 318.1a2.5 1.8 28 1 0 4.4 2.3a2.5 1.8 28 1 0 -4.4 -2.3M456.2 323.4a2.5 1.3 88 1 0 .1 5a2.5 1.3 88 1 0 -.1 -5"/>
<path fill="#8a4c98" d="M427.7 273.6a2.8 1.2 92 1 0 -.1 5.6a2.8 1.2 92 1 0 .1 -5.6M410.5 278.9a1.7 1.3 94 1 0 -.2 3.4a1.7 1.3 94 1 0 .2 -3.4M397.8 273.2a2.9 1.9 93 1 0 -.3 5.8a2.9 1.9 93 1 0 .3 -5.8M427.1 285.2a2.3 1.3 26 1 0 4.1 2a2.3 1.3 26 1 0 -4.1 -2M418.6 278.3a2.3 1.3 4 1 0 4.7 .3a2.3 1.3 4 1 0 -4.7 -.3M412 288.9a2.6 1.6 1 1 0 5.1 .1a2.6 1.6 1 1 0 -5.1 -.1M411.1 293.6a2.1 1.3 0 1 0 -4.3 0a2.1 1.3 0 1 0 4.3 -0M412.2 273.5a2.5 2.1 132 1 0 -3.4 3.8a2.5 2.1 132 1 0 3.4 -3.8M420.3 288.1a1.5 1.2 131 1 0 -2 2.3a1.5 1.2 131 1 0 2 -2.3M418.4 270.9a2.7 1.7 43 1 0 4 3.7a2.7 1.7 43 1 0 -4 -3.7"/>
<path fill="#7a4490" d="M403.6 290.2a2.2 1.6 55 1 0 2.5 3.6a2.2 1.6 55 1 0 -2.5 -3.6M404.5 275.6a2.3 2.1 0 1 0 4.5 0a2.3 2.1 0 1 0 -4.5 -0M419.4 294.5a2.8 1.9 23 1 0 5.2 2.2a2.8 1.9 23 1 0 -5.2 -2.2M399.8 279.2a2.1 1.8 56 1 0 2.3 3.4a2.1 1.8 56 1 0 -2.3 -3.4M426.6 280.5a2.5 2 60 1 0 2.5 4.3a2.5 2 60 1 0 -2.5 -4.3M426.3 283.3a2.8 1.7 1 1 0 5.5 .1a2.8 1.7 1 1 0 -5.5 -.1M413.7 269.5a1.8 1.2 106 1 0 -1 3.4a1.8 1.2 106 1 0 1 -3.4M411.8 264.4a2.8 1.9 135 1 0 -4 4a2.8 1.9 135 1 0 4 -4"/>
<path fill="#9a5aa4" d="M398.2 274.5a2.4 1.1 111 1 0 -1.7 4.5a2.4 1.1 111 1 0 1.7 -4.5M424.4 290.6a2.5 1.9 15 1 0 4.9 1.3a2.5 1.9 15 1 0 -4.9 -1.3M412.4 281.4a2.6 1.7 168 1 0 -5.2 1.1a2.6 1.7 168 1 0 5.2 -1.1M397.9 286.1a2 1.9 104 1 0 -.9 3.8a2 1.9 104 1 0 .9 -3.8M416.5 277.6a2.7 1.4 153 1 0 -4.9 2.5a2.7 1.4 153 1 0 4.9 -2.5M420.1 294.7a2.7 1.7 169 1 0 -5.3 1a2.7 1.7 169 1 0 5.3 -1M404.1 282.5a2.7 1.1 153 1 0 -4.8 2.4a2.7 1.1 153 1 0 4.8 -2.4M411.7 273.4a2.1 1.6 68 1 0 1.6 3.8a2.1 1.6 68 1 0 -1.6 -3.8M415.3 274.1a1.8 1.4 42 1 0 2.7 2.4a1.8 1.4 42 1 0 -2.7 -2.4M424.3 268.7a2.2 2.1 121 1 0 -2.2 3.8a2.2 2.1 121 1 0 2.2 -3.8"/>
<path fill="#c888b0" d="M402.4 275.3a2.1 1.2 111 1 0 -1.5 3.9a2.1 1.2 111 1 0 1.5 -3.9M406 274.7a2.3 1.3 178 1 0 -4.5 .2a2.3 1.3 178 1 0 4.5 -.2M405.6 289.8a1.8 1.7 51 1 0 2.2 2.7a1.8 1.7 51 1 0 -2.2 -2.7M420.4 267.9a2.2 1.9 31 1 0 3.8 2.3a2.2 1.9 31 1 0 -3.8 -2.3M403 291.9a2.8 1.5 5 1 0 5.6 .5a2.8 1.5 5 1 0 -5.6 -.5M416 290.7a1.5 1.3 23 1 0 2.9 1.2a1.5 1.3 23 1 0 -2.9 -1.2M430.4 285.1a1.8 2.1 150 1 0 -3.1 1.8a1.8 2.1 150 1 0 3.1 -1.8M396.7 289.5a1.6 1.2 80 1 0 .6 3.1a1.6 1.2 80 1 0 -.6 -3.1M417.6 288.5a2.9 2.1 175 1 0 -5.7 .5a2.9 2.1 175 1 0 5.7 -.5M413.3 285.8a1.5 1.4 13 1 0 3 .7a1.5 1.4 13 1 0 -3 -.7M418.4 295.4a2.9 1.3 15 1 0 5.5 1.5a2.9 1.3 15 1 0 -5.5 -1.5M405.1 267.3a2.4 1.6 25 1 0 4.4 2a2.4 1.6 25 1 0 -4.4 -2"/>
<path fill="#c02858" d="M446 335.3a1.6 1.7 79 1 0 .6 3.1a1.6 1.7 79 1 0 -.6 -3.1M431.8 321.2a2.7 1.3 29 1 0 4.7 2.6a2.7 1.3 29 1 0 -4.7 -2.6M436 295.5a1.8 1.2 25 1 0 3.3 1.6a1.8 1.2 25 1 0 -3.3 -1.6M390 303a2.5 1.6 42 1 0 3.8 3.4a2.5 1.6 42 1 0 -3.8 -3.4M381.7 307.2a2.5 1.9 34 1 0 4.2 2.8a2.5 1.9 34 1 0 -4.2 -2.8M439.1 281.8a2 1.7 147 1 0 -3.4 2.3a2 1.7 147 1 0 3.4 -2.3M455.8 280.6a1.7 1.5 136 1 0 -2.5 2.4a1.7 1.5 136 1 0 2.5 -2.4M449.1 303.7a2 1.5 160 1 0 -3.8 1.4a2 1.5 160 1 0 3.8 -1.4M443.9 301.7a1.6 1.3 39 1 0 2.6 2.1a1.6 1.3 39 1 0 -2.6 -2.1M454.7 277.8a2.1 1.9 157 1 0 -3.8 1.6a2.1 1.9 157 1 0 3.8 -1.6M436.8 325.6a2.4 1.5 129 1 0 -3 3.7a2.4 1.5 129 1 0 3 -3.7M453.8 323a1.7 1.9 153 1 0 -3.1 1.6a1.7 1.9 153 1 0 3.1 -1.6M449.3 332.7a2.6 1.9 72 1 0 1.6 5a2.6 1.9 72 1 0 -1.6 -5M448.5 291a2.6 2.1 115 1 0 -2.2 4.7a2.6 2.1 115 1 0 2.2 -4.7M451.5 327.4a1.9 1.7 20 1 0 3.6 1.3a1.9 1.7 20 1 0 -3.6 -1.3M394.5 311.2a1.9 1.5 146 1 0 -3.1 2.1a1.9 1.5 146 1 0 3.1 -2.1"/>
<path fill="#5a2060" d="M478.1 258.3a.9 .8 168 1 0 -1.8 .4a.9 .8 168 1 0 1.8 -.4M383.2 309.9a1.1 .9 140 1 0 -1.7 1.4a1.1 .9 140 1 0 1.7 -1.4M440.6 247.5a.9 1.3 90 1 0 -0 1.8a.9 1.3 90 1 0 0 -1.8M445 249a1 .9 28 1 0 1.8 1a1 .9 28 1 0 -1.8 -1M436.9 333.6a.9 1 168 1 0 -1.8 .4a.9 1 168 1 0 1.8 -.4M399 244.6a1.4 1.2 63 1 0 1.3 2.5a1.4 1.2 63 1 0 -1.3 -2.5M430.2 246.9a1.1 1 160 1 0 -2 .7a1.1 1 160 1 0 2 -.7M436.9 274a.8 .9 170 1 0 -1.6 .3a.8 .9 170 1 0 1.6 -.3M472.1 286.4a1.1 .9 80 1 0 .4 2.2a1.1 .9 80 1 0 -.4 -2.2M490.2 329.2a1.2 1.2 69 1 0 .8 2.2a1.2 1.2 69 1 0 -.8 -2.2M387.8 319.6a1.5 1 91 1 0 -.1 3a1.5 1 91 1 0 .1 -3M390.2 329.1a1 1.3 163 1 0 -1.9 .6a1 1.3 163 1 0 1.9 -.6M474.8 265.5a1.5 1 123 1 0 -1.6 2.5a1.5 1 123 1 0 1.6 -2.5M427.1 246.3a1 1 106 1 0 -.6 1.9a1 1 106 1 0 .6 -1.9M501.5 266.2a1.2 1.1 80 1 0 .4 2.3a1.2 1.1 80 1 0 -.4 -2.3M422.9 258.1a1.3 1.2 24 1 0 2.4 1.1a1.3 1.2 24 1 0 -2.4 -1.1M461.3 266.8a1.2 1.2 41 1 0 1.8 1.6a1.2 1.2 41 1 0 -1.8 -1.6M492.9 277.8a1.1 .9 145 1 0 -1.8 1.2a1.1 .9 145 1 0 1.8 -1.2M397.2 330.2a.9 .9 42 1 0 1.4 1.2a.9 .9 42 1 0 -1.4 -1.2"/>
<path fill="#4a2050" d="M387.5 272.3a.9 1.3 172 1 0 -1.7 .2a.9 1.3 172 1 0 1.7 -.2M403.2 243.3a1.1 .9 175 1 0 -2.1 .2a1.1 .9 175 1 0 2.1 -.2M500 296.9a1.2 1 155 1 0 -2.1 1a1.2 1 155 1 0 2.1 -1M454.8 244.5a.9 1.2 39 1 0 1.4 1.1a.9 1.2 39 1 0 -1.4 -1.1M469.3 265.5a1.3 .9 21 1 0 2.4 .9a1.3 .9 21 1 0 -2.4 -.9M439.2 256.8a1 .9 44 1 0 1.4 1.4a1 .9 44 1 0 -1.4 -1.4M483.4 280.7a1.2 1 136 1 0 -1.8 1.7a1.2 1 136 1 0 1.8 -1.7M425.9 247.1a1.1 1.2 94 1 0 -.2 2.2a1.1 1.2 94 1 0 .2 -2.2M449.1 296.3a1.1 1.1 12 1 0 2.2 .5a1.1 1.1 12 1 0 -2.2 -.5"/>
<path fill="#6a2858" d="M477.4 296.3a1 1 31 1 0 1.8 1.1a1 1 31 1 0 -1.8 -1.1M468.6 249.7a1.2 1.3 15 1 0 2.2 .6a1.2 1.3 15 1 0 -2.2 -.6M435.3 266.6a1.5 .9 101 1 0 -.6 2.9a1.5 .9 101 1 0 .6 -2.9M415 267.1a.9 1 148 1 0 -1.5 .9a.9 1 148 1 0 1.5 -.9M431.9 294.6a1.2 .9 121 1 0 -1.2 2a1.2 .9 121 1 0 1.2 -2M470.1 330.4a.9 1.3 83 1 0 .2 1.8a.9 1.3 83 1 0 -.2 -1.8M463.5 256.2a1.6 1 64 1 0 1.4 2.8a1.6 1 64 1 0 -1.4 -2.8M405 270.9a.9 1.2 26 1 0 1.6 .8a.9 1.2 26 1 0 -1.6 -.8M498.4 335a1.3 .9 116 1 0 -1.2 2.4a1.3 .9 116 1 0 1.2 -2.4M439.1 276.5a1.3 .9 22 1 0 2.5 1a1.3 .9 22 1 0 -2.5 -1M377.6 312.9a1.6 1.3 60 1 0 1.6 2.8a1.6 1.3 60 1 0 -1.6 -2.8M378.7 311.3a1.1 .8 175 1 0 -2.3 .2a1.1 .8 175 1 0 2.3 -.2"/>
<path d="M379.5,250 L390,250 L393,256 L391,264 L386,269 L379.5,270 Z" fill="#f2f29a" opacity="0.95"/>
<path d="M439,259 L449,257 L457,260 L453,268 L448,277 L443,268 Z" fill="#f4f4a0" opacity="0.95"/>
<ellipse cx="486" cy="256" rx="3.5" ry="3.5" fill="#f0f0a0" opacity="0.9" transform="rotate(0 486 256)"/>
<ellipse cx="480.5" cy="325" rx="7" ry="5" fill="#f0f0a8" opacity="0.9" transform="rotate(0 480.5 325)"/>
<ellipse cx="392" cy="289" rx="4" ry="5" fill="#eee8a0" opacity="0.7" transform="rotate(0 392 289)"/>
<ellipse cx="393" cy="293" rx="2" ry="2" fill="#c02020" opacity="0.9" transform="rotate(0 393 293)"/>
<ellipse cx="412" cy="316" rx="10" ry="3" fill="#eeeaa8" opacity="0.5" transform="rotate(-20 412 316)"/>
<ellipse cx="405" cy="312" rx="6" ry="2" fill="#eeeaa8" opacity="0.5" transform="rotate(30 405 312)"/>
</g></g>
<rect x="380.0" y="247.0" width="121.5" height="94.0" fill="none" stroke="#3a3a3a" stroke-width="1"/>
<text x="313.10" y="240.90" font-size="9.8" font-weight="bold" text-anchor="middle" fill="#111" >Vehicle</text>
<text x="437.00" y="240.90" font-size="9.8" font-weight="bold" text-anchor="middle" fill="#111" >CBD</text>
<text x="104.60" y="387.50" font-size="10.8" font-weight="bold" letter-spacing="0.5" fill="#111">PPAR-<tspan font-weight="normal" font-family="Liberation Serif, serif" font-size="12">γ</tspan></text>
<path d="M104 391.80 H142.3" stroke="#222" stroke-width="1.2"/>
<path d="M51.6 399.40 V508.40" stroke="#555" stroke-width="1" fill="none"/>
<path d="M47.6 508.40 H51.6" stroke="#555" stroke-width="1"/>
<text x="46.80" y="511.40" font-size="8.6" text-anchor="end" fill="#333" >0</text>
<path d="M47.6 481.15 H51.6" stroke="#555" stroke-width="1"/>
<text x="46.80" y="484.15" font-size="8.6" text-anchor="end" fill="#333" >50</text>
<path d="M47.6 453.90 H51.6" stroke="#555" stroke-width="1"/>
<text x="46.80" y="456.90" font-size="8.6" text-anchor="end" fill="#333" >100</text>
<path d="M47.6 426.65 H51.6" stroke="#555" stroke-width="1"/>
<text x="46.80" y="429.65" font-size="8.6" text-anchor="end" fill="#333" >150</text>
<path d="M47.6 399.40 H51.6" stroke="#555" stroke-width="1"/>
<text x="46.80" y="402.40" font-size="8.6" text-anchor="end" fill="#333" >200</text>
<path d="M78.85 453.90 V451.17 M74.35 451.17 H83.35" stroke="#333" stroke-width="1" fill="none"/>
<rect x="69.00" y="453.90" width="19.70" height="54.50" fill="#fff" stroke="#333" stroke-width="1"/>
<path d="M108.85 414.11 V402.12 M104.35 402.12 H113.35" stroke="#333" stroke-width="1" fill="none"/>
<rect x="99.00" y="414.11" width="19.70" height="94.29" fill="#111" stroke="#333" stroke-width="1"/>
<text x="108.65" y="401.00" font-size="9.5" font-weight="bold" text-anchor="middle" fill="#222" >*</text>
<text transform="translate(80.65,518.60) rotate(-45)" font-size="10" font-weight="bold" text-anchor="end" fill="#111">Vehicle</text>
<text transform="translate(110.65,518.60) rotate(-45)" font-size="10" font-weight="bold" text-anchor="end" fill="#111">CBD</text>
<text transform="translate(27.00,453.90) rotate(-90)" font-size="8.7" font-weight="bold" text-anchor="middle" fill="#111">PPAR-γ mRNA (% control)</text>
<path d="M164.6 398.90 V508.10" stroke="#555" stroke-width="1" fill="none"/>
<path d="M160.6 508.10 H164.6" stroke="#555" stroke-width="1"/>
<text x="159.80" y="511.10" font-size="8.6" text-anchor="end" fill="#333" >0</text>
<path d="M160.6 492.50 H164.6" stroke="#555" stroke-width="1"/>
<text x="159.80" y="495.50" font-size="8.6" text-anchor="end" fill="#333" >5</text>
<path d="M160.6 476.90 H164.6" stroke="#555" stroke-width="1"/>
<text x="159.80" y="479.90" font-size="8.6" text-anchor="end" fill="#333" >10</text>
<path d="M160.6 461.30 H164.6" stroke="#555" stroke-width="1"/>
<text x="159.80" y="464.30" font-size="8.6" text-anchor="end" fill="#333" >15</text>
<path d="M160.6 445.70 H164.6" stroke="#555" stroke-width="1"/>
<text x="159.80" y="448.70" font-size="8.6" text-anchor="end" fill="#333" >20</text>
<path d="M160.6 430.10 H164.6" stroke="#555" stroke-width="1"/>
<text x="159.80" y="433.10" font-size="8.6" text-anchor="end" fill="#333" >25</text>
<path d="M160.6 414.50 H164.6" stroke="#555" stroke-width="1"/>
<text x="159.80" y="417.50" font-size="8.6" text-anchor="end" fill="#333" >30</text>
<path d="M160.6 398.90 H164.6" stroke="#555" stroke-width="1"/>
<text x="159.80" y="401.90" font-size="8.6" text-anchor="end" fill="#333" >35</text>
<path d="M191.85 501.24 V499.52 M187.35 499.52 H196.35" stroke="#333" stroke-width="1" fill="none"/>
<rect x="182.00" y="501.24" width="19.70" height="6.86" fill="#fff" stroke="#333" stroke-width="1"/>
<path d="M221.85 419.18 V410.76 M217.35 410.76 H226.35" stroke="#333" stroke-width="1" fill="none"/>
<rect x="212.00" y="419.18" width="19.70" height="88.92" fill="#111" stroke="#333" stroke-width="1"/>
<text x="221.65" y="409.60" font-size="9.5" font-weight="bold" text-anchor="middle" fill="#222" >***</text>
<text transform="translate(193.65,518.30) rotate(-45)" font-size="10" font-weight="bold" text-anchor="end" fill="#111">Vehicle</text>
<text transform="translate(223.65,518.30) rotate(-45)" font-size="10" font-weight="bold" text-anchor="end" fill="#111">CBD</text>
<text transform="translate(144.30,453.50) rotate(-90)" font-size="8.7" font-weight="bold" text-anchor="middle" fill="#111">PPAR-γ + cells (%)</text>
<filter id="hbcveh" x="-5%" y="-5%" width="110%" height="110%"><feGaussianBlur stdDeviation="0.6"/></filter>
<clipPath id="hccveh"><rect x="251" y="412" width="122" height="95.5"/></clipPath>
<g clip-path="url(#hccveh)">
<rect x="251" y="412" width="122" height="95.5" fill="#c4ac6c"/>
<g filter="url(#hbcveh)">
<ellipse cx="358" cy="432" rx="17" ry="21" fill="#d8c064" opacity="0.9" transform="rotate(0 358 432)"/>
<ellipse cx="361" cy="428" rx="8" ry="10" fill="#b4ac88" opacity="0.5" transform="rotate(0 361 428)"/>
<ellipse cx="256" cy="455" rx="6" ry="30" fill="#c87858" opacity="0.3" transform="rotate(0 256 455)"/>
<path fill="#8a8070" d="M333.6 415.6a3.1 1.2 41 1 0 4.7 4.1a3.1 1.2 41 1 0 -4.7 -4.1M280.9 442.6a4.3 1 41 1 0 6.5 5.6a4.3 1 41 1 0 -6.5 -5.6M365.9 491.1a5.8 .7 32 1 0 9.8 6a5.8 .7 32 1 0 -9.8 -6M311 429.9a5.8 .7 43 1 0 8.5 7.9a5.8 .7 43 1 0 -8.5 -7.9M349 442.6a4.7 .8 32 1 0 8 5a4.7 .8 32 1 0 -8 -5M310.4 458.5a3.8 .9 38 1 0 6 4.7a3.8 .9 38 1 0 -6 -4.7M312.8 454.1a5.3 .6 39 1 0 8.3 6.7a5.3 .6 39 1 0 -8.3 -6.7M335.5 418.3a5.5 1.1 20 1 0 10.4 3.8a5.5 1.1 20 1 0 -10.4 -3.8M253 492.4a4.3 .8 40 1 0 6.5 5.6a4.3 .8 40 1 0 -6.5 -5.6M275.4 452.6a3.5 .8 45 1 0 4.9 4.9a3.5 .8 45 1 0 -4.9 -4.9M343.9 472a4.2 .9 25 1 0 7.5 3.6a4.2 .9 25 1 0 -7.5 -3.6M290.2 457.4a5.6 .6 38 1 0 8.9 6.9a5.6 .6 38 1 0 -8.9 -6.9M371.2 502.8a4.8 .8 42 1 0 7.1 6.4a4.8 .8 42 1 0 -7.1 -6.4M318.6 441.6a6.1 .7 21 1 0 11.4 4.5a6.1 .7 21 1 0 -11.4 -4.5M289.2 500.5a3.3 1 38 1 0 5.3 4.1a3.3 1 38 1 0 -5.3 -4.1M301 438.4a4.5 .6 27 1 0 7.9 4.1a4.5 .6 27 1 0 -7.9 -4.1M258.9 426.9a3.2 1 35 1 0 5.3 3.7a3.2 1 35 1 0 -5.3 -3.7M319.6 417.7a4 1.1 22 1 0 7.5 3a4 1.1 22 1 0 -7.5 -3M329.4 495a6.2 .9 30 1 0 10.6 6.2a6.2 .9 30 1 0 -10.6 -6.2M365.4 467a4.8 .9 24 1 0 8.8 3.9a4.8 .9 24 1 0 -8.8 -3.9M272.8 471.8a5.6 .6 31 1 0 9.7 5.7a5.6 .6 31 1 0 -9.7 -5.7M304 412.2a3.9 .8 34 1 0 6.5 4.3a3.9 .8 34 1 0 -6.5 -4.3M310.5 442.6a5.6 1.1 44 1 0 8.1 7.8a5.6 1.1 44 1 0 -8.1 -7.8M259.3 502.9a3.1 .8 41 1 0 4.7 4.1a3.1 .8 41 1 0 -4.7 -4.1M312.1 428.5a5.3 .7 33 1 0 8.8 5.8a5.3 .7 33 1 0 -8.8 -5.8M329.2 440.2a5.5 .8 22 1 0 10.1 4.1a5.5 .8 22 1 0 -10.1 -4.1M337.1 424.9a6.3 .6 34 1 0 10.3 7.1a6.3 .6 34 1 0 -10.3 -7.1M261.2 429.1a3.2 1.1 20 1 0 6 2.2a3.2 1.1 20 1 0 -6 -2.2"/>
<path fill="#a88c5c" d="M298.5 486.3a6.2 1.2 31 1 0 10.6 6.5a6.2 1.2 31 1 0 -10.6 -6.5M361.5 413.6a4.8 1.1 21 1 0 9.1 3.4a4.8 1.1 21 1 0 -9.1 -3.4M244.7 406.2a5.4 .9 38 1 0 8.5 6.8a5.4 .9 38 1 0 -8.5 -6.8M325.5 450.3a5.3 .7 36 1 0 8.5 6.2a5.3 .7 36 1 0 -8.5 -6.2M326.6 502.9a5.1 .9 42 1 0 7.6 6.8a5.1 .9 42 1 0 -7.6 -6.8M285.5 481.8a6.3 1.1 44 1 0 9 8.7a6.3 1.1 44 1 0 -9 -8.7M351.9 409.6a4.3 .6 40 1 0 6.6 5.5a4.3 .6 40 1 0 -6.6 -5.5M268.1 451.7a5.7 .7 38 1 0 8.9 7a5.7 .7 38 1 0 -8.9 -7M367.4 428.6a6.4 .8 42 1 0 9.6 8.6a6.4 .8 42 1 0 -9.6 -8.6M317.5 487.8a4.2 .9 27 1 0 7.4 3.8a4.2 .9 27 1 0 -7.4 -3.8M317.6 452.7a4.8 1 45 1 0 6.8 6.8a4.8 1 45 1 0 -6.8 -6.8M324 429.5a3.3 .6 33 1 0 5.5 3.6a3.3 .6 33 1 0 -5.5 -3.6M260.1 449a5.8 .9 25 1 0 10.5 4.8a5.8 .9 25 1 0 -10.5 -4.8M285.6 430.8a3.7 .8 43 1 0 5.5 5a3.7 .8 43 1 0 -5.5 -5M357.8 478.3a4 .7 30 1 0 7 4a4 .7 30 1 0 -7 -4M332.6 469.6a6.4 .7 35 1 0 10.3 7.4a6.4 .7 35 1 0 -10.3 -7.4M355.7 470.8a3.2 .9 24 1 0 5.8 2.5a3.2 .9 24 1 0 -5.8 -2.5M360.8 465.7a5.4 .7 25 1 0 9.7 4.5a5.4 .7 25 1 0 -9.7 -4.5M354.9 465.9a3.4 1.1 34 1 0 5.7 3.8a3.4 1.1 34 1 0 -5.7 -3.8M279.1 456.9a4.2 .8 31 1 0 7.2 4.3a4.2 .8 31 1 0 -7.2 -4.3M304.4 494.8a4.4 .8 21 1 0 8.3 3.1a4.4 .8 21 1 0 -8.3 -3.1M306.8 426.8a3.9 .8 41 1 0 5.9 5.1a3.9 .8 41 1 0 -5.9 -5.1M263.8 436.4a4.7 .9 35 1 0 7.7 5.4a4.7 .9 35 1 0 -7.7 -5.4M367.7 463.5a4.2 .6 43 1 0 6.2 5.7a4.2 .6 43 1 0 -6.2 -5.7M265.7 437.7a4 .8 36 1 0 6.5 4.8a4 .8 36 1 0 -6.5 -4.8M263 465.7a6.1 .8 35 1 0 10 7a6.1 .8 35 1 0 -10 -7M350.1 434.5a5.7 .7 37 1 0 9.2 6.9a5.7 .7 37 1 0 -9.2 -6.9M252.4 426.5a6.1 1.1 32 1 0 10.3 6.4a6.1 1.1 32 1 0 -10.3 -6.4M303.4 424.5a3.9 .7 25 1 0 7.1 3.3a3.9 .7 25 1 0 -7.1 -3.3M358.3 422.4a5.9 .8 22 1 0 10.9 4.3a5.9 .8 22 1 0 -10.9 -4.3M327.9 420.9a4.5 1.1 23 1 0 8.4 3.5a4.5 1.1 23 1 0 -8.4 -3.5M350.1 408.4a5.8 .9 28 1 0 10.2 5.5a5.8 .9 28 1 0 -10.2 -5.5M276.4 454.1a4.1 .9 34 1 0 6.8 4.5a4.1 .9 34 1 0 -6.8 -4.5M334.1 434.7a4.2 1.2 31 1 0 7.2 4.4a4.2 1.2 31 1 0 -7.2 -4.4M322.8 411.9a3.6 .7 23 1 0 6.7 2.9a3.6 .7 23 1 0 -6.7 -2.9M338 474.2a4.3 .7 34 1 0 7.2 4.8a4.3 .7 34 1 0 -7.2 -4.8M366.7 449.2a4.8 1 25 1 0 8.8 4a4.8 1 25 1 0 -8.8 -4M372.5 453.6a5.6 1 26 1 0 10 4.9a5.6 1 26 1 0 -10 -4.9M242.4 475.4a5.3 .8 38 1 0 8.4 6.5a5.3 .8 38 1 0 -8.4 -6.5M304.6 470.5a3.2 .6 31 1 0 5.5 3.3a3.2 .6 31 1 0 -5.5 -3.3M346 489a3.3 1 41 1 0 5 4.2a3.3 1 41 1 0 -5 -4.2M288.7 504.9a5.4 1.2 36 1 0 8.7 6.4a5.4 1.2 36 1 0 -8.7 -6.4M280.6 474.7a3.1 .9 28 1 0 5.5 3a3.1 .9 28 1 0 -5.5 -3M368.1 419.7a3.7 1 34 1 0 6.2 4.1a3.7 1 34 1 0 -6.2 -4.1M329 431.3a5.6 .8 25 1 0 10 4.8a5.6 .8 25 1 0 -10 -4.8"/>
<path fill="#9a8058" d="M299.4 420.8a3.3 .6 43 1 0 4.9 4.5a3.3 .6 43 1 0 -4.9 -4.5M371.4 489.8a3 1 33 1 0 5.1 3.3a3 1 33 1 0 -5.1 -3.3M328.2 439.8a5 1 45 1 0 7.1 7.1a5 1 45 1 0 -7.1 -7.1M270.4 477.5a4.3 .6 33 1 0 7.1 4.6a4.3 .6 33 1 0 -7.1 -4.6M353.2 429.4a3.7 1.2 31 1 0 6.3 3.8a3.7 1.2 31 1 0 -6.3 -3.8M252.4 473a5.6 .8 24 1 0 10.2 4.5a5.6 .8 24 1 0 -10.2 -4.5M367.4 423.6a3.6 1.1 28 1 0 6.3 3.4a3.6 1.1 28 1 0 -6.3 -3.4M348 435a4.3 .6 20 1 0 8 3a4.3 .6 20 1 0 -8 -3M339.5 438.9a5.3 .6 40 1 0 8.2 6.8a5.3 .6 40 1 0 -8.2 -6.8M363.2 490.6a4.8 .7 21 1 0 9 3.4a4.8 .7 21 1 0 -9 -3.4M368.4 473.6a3.6 1.2 33 1 0 6 3.9a3.6 1.2 33 1 0 -6 -3.9M273.8 417.8a3.1 .8 42 1 0 4.7 4.2a3.1 .8 42 1 0 -4.7 -4.2M284.7 460.2a3.3 1 24 1 0 5.9 2.7a3.3 1 24 1 0 -5.9 -2.7M302.3 452.4a5.9 1.2 25 1 0 10.8 4.9a5.9 1.2 25 1 0 -10.8 -4.9M266.4 424.1a6.1 1.1 25 1 0 11 5.1a6.1 1.1 25 1 0 -11 -5.1M347.7 458.2a3.1 1.2 42 1 0 4.6 4.1a3.1 1.2 42 1 0 -4.6 -4.1M288.2 442.2a3.1 .7 44 1 0 4.5 4.3a3.1 .7 44 1 0 -4.5 -4.3M298.5 466.2a3.7 .9 43 1 0 5.4 5.1a3.7 .9 43 1 0 -5.4 -5.1M342.2 478.4a3.2 .7 44 1 0 4.6 4.4a3.2 .7 44 1 0 -4.6 -4.4M300.1 464.1a3.4 .7 26 1 0 6.1 3a3.4 .7 26 1 0 -6.1 -3M303.4 470.6a4.4 .9 39 1 0 6.8 5.5a4.4 .9 39 1 0 -6.8 -5.5M300.8 417.5a3.4 1 26 1 0 6.1 2.9a3.4 1 26 1 0 -6.1 -2.9M278 479.6a4.6 .9 31 1 0 7.9 4.8a4.6 .9 31 1 0 -7.9 -4.8M354.1 424.7a6.3 1 44 1 0 9.1 8.6a6.3 1 44 1 0 -9.1 -8.6M354.7 463.6a4.3 1.1 26 1 0 7.8 3.8a4.3 1.1 26 1 0 -7.8 -3.8M256 432.6a3.6 .8 38 1 0 5.7 4.4a3.6 .8 38 1 0 -5.7 -4.4M281.2 484.6a4.7 1.1 27 1 0 8.4 4.3a4.7 1.1 27 1 0 -8.4 -4.3M319.7 428.9a5.8 1 27 1 0 10.3 5.3a5.8 1 27 1 0 -10.3 -5.3M291.9 496.9a4.7 .7 30 1 0 8.1 4.8a4.7 .7 30 1 0 -8.1 -4.8M341.7 458.8a6.4 1 22 1 0 11.9 4.7a6.4 1 22 1 0 -11.9 -4.7M273.8 497.7a6 .6 27 1 0 10.7 5.4a6 .6 27 1 0 -10.7 -5.4M346.9 412a4 1.1 24 1 0 7.4 3.3a4 1.1 24 1 0 -7.4 -3.3M248.3 508.1a4.5 1.1 35 1 0 7.3 5.1a4.5 1.1 35 1 0 -7.3 -5.1M293.7 437.3a3.5 1.2 43 1 0 5.2 4.8a3.5 1.2 43 1 0 -5.2 -4.8"/>
<path fill="#80705a" d="M364.1 470.5a3.5 .8 38 1 0 5.5 4.3a3.5 .8 38 1 0 -5.5 -4.3M249.1 490.1a4.2 .9 42 1 0 6.2 5.7a4.2 .9 42 1 0 -6.2 -5.7M280.2 445.5a5.9 1.1 34 1 0 9.7 6.6a5.9 1.1 34 1 0 -9.7 -6.6M328.3 451.8a4.8 .6 27 1 0 8.4 4.4a4.8 .6 27 1 0 -8.4 -4.4M316 484.7a3.6 .8 36 1 0 5.8 4.2a3.6 .8 36 1 0 -5.8 -4.2M362.7 483.9a5.8 1.1 44 1 0 8.4 8.1a5.8 1.1 44 1 0 -8.4 -8.1M265.6 472.1a4.1 1.1 33 1 0 6.8 4.4a4.1 1.1 33 1 0 -6.8 -4.4M371.5 454.4a3.6 1.1 44 1 0 5.1 5a3.6 1.1 44 1 0 -5.1 -5M307.8 486.1a6.3 .8 28 1 0 11 5.9a6.3 .8 28 1 0 -11 -5.9M322.5 422.6a6.1 1 27 1 0 10.8 5.5a6.1 1 27 1 0 -10.8 -5.5M373 415.1a4.2 .8 38 1 0 6.7 5.2a4.2 .8 38 1 0 -6.7 -5.2M330 444.7a4.1 .8 33 1 0 7 4.5a4.1 .8 33 1 0 -7 -4.5M306.6 472.7a3.4 .8 42 1 0 5 4.5a3.4 .8 42 1 0 -5 -4.5M267.4 463.6a4.7 1 25 1 0 8.6 4.1a4.7 1 25 1 0 -8.6 -4.1M352.9 466.9a5 .7 24 1 0 9.2 4.1a5 .7 24 1 0 -9.2 -4.1M362.4 482.4a4.4 .8 35 1 0 7.3 5a4.4 .8 35 1 0 -7.3 -5M343.4 425.2a4.8 .7 43 1 0 6.9 6.6a4.8 .7 43 1 0 -6.9 -6.6M289.2 454.1a3 .7 24 1 0 5.6 2.5a3 .7 24 1 0 -5.6 -2.5M354.8 474.7a6.1 .6 24 1 0 11.1 4.9a6.1 .6 24 1 0 -11.1 -4.9M266 469.1a4.7 .7 33 1 0 7.9 5.1a4.7 .7 33 1 0 -7.9 -5.1M339.9 473.4a3.9 1.1 38 1 0 6.2 4.8a3.9 1.1 38 1 0 -6.2 -4.8M356.2 409.5a5.2 .8 41 1 0 8 6.8a5.2 .8 41 1 0 -8 -6.8M337.2 463.5a4.2 .9 42 1 0 6.2 5.6a4.2 .9 42 1 0 -6.2 -5.6M262.7 423.2a3.5 .9 43 1 0 5.1 4.7a3.5 .9 43 1 0 -5.1 -4.7M313.1 458.3a4.9 .8 25 1 0 8.9 4.2a4.9 .8 25 1 0 -8.9 -4.2M364.5 438.9a4.3 .9 21 1 0 8 3a4.3 .9 21 1 0 -8 -3M248.6 421.4a4.2 .8 25 1 0 7.7 3.6a4.2 .8 25 1 0 -7.7 -3.6M246.1 427.1a4 .9 30 1 0 6.8 3.9a4 .9 30 1 0 -6.8 -3.9M294.7 452a3.4 1 38 1 0 5.3 4.2a3.4 1 38 1 0 -5.3 -4.2"/>
<path fill="#8a7050" d="M328.2 490.8a4.9 .8 21 1 0 9.2 3.5a4.9 .8 21 1 0 -9.2 -3.5M363.1 409.1a5.5 1.1 37 1 0 8.8 6.6a5.5 1.1 37 1 0 -8.8 -6.6M305.9 412.2a5.3 .9 35 1 0 8.6 6.1a5.3 .9 35 1 0 -8.6 -6.1M302.2 463.8a5.5 1 43 1 0 8 7.5a5.5 1 43 1 0 -8 -7.5M251.6 432.2a3.4 .7 29 1 0 5.9 3.3a3.4 .7 29 1 0 -5.9 -3.3M349.3 406a6.3 1.1 28 1 0 11.1 6a6.3 1.1 28 1 0 -11.1 -6M355.4 447.2a5.4 1.1 31 1 0 9.2 5.6a5.4 1.1 31 1 0 -9.2 -5.6M241.9 429.7a6.4 .9 22 1 0 11.9 4.8a6.4 .9 22 1 0 -11.9 -4.8M340.5 459.8a4.3 .7 32 1 0 7.3 4.6a4.3 .7 32 1 0 -7.3 -4.6M284.4 448a5.8 .7 31 1 0 9.8 6a5.8 .7 31 1 0 -9.8 -6M372.4 507.8a4.5 .9 33 1 0 7.6 4.9a4.5 .9 33 1 0 -7.6 -4.9M372.6 417.4a5.8 .7 31 1 0 9.9 6a5.8 .7 31 1 0 -9.9 -6M324.2 473.4a3.7 1.1 22 1 0 6.9 2.8a3.7 1.1 22 1 0 -6.9 -2.8M268.4 459.5a6 1 26 1 0 10.9 5.2a6 1 26 1 0 -10.9 -5.2M368.9 438.4a6 .7 43 1 0 8.6 8.2a6 .7 43 1 0 -8.6 -8.2M264.2 437.2a5.6 .6 28 1 0 9.9 5.3a5.6 .6 28 1 0 -9.9 -5.3M281.8 419.6a6.2 .7 42 1 0 9.2 8.3a6.2 .7 42 1 0 -9.2 -8.3M364.3 421.1a5.8 1.1 40 1 0 8.9 7.3a5.8 1.1 40 1 0 -8.9 -7.3M259.8 466.8a3.4 .8 27 1 0 6.1 3.1a3.4 .8 27 1 0 -6.1 -3.1M315.7 464.2a4.8 1.1 24 1 0 8.7 3.8a4.8 1.1 24 1 0 -8.7 -3.8M325.5 470.2a4.4 .7 27 1 0 7.8 3.9a4.4 .7 27 1 0 -7.8 -3.9M366.8 503.3a6.5 1 23 1 0 11.9 5a6.5 1 23 1 0 -11.9 -5M277.4 487a3.6 1.1 38 1 0 5.6 4.4a3.6 1.1 38 1 0 -5.6 -4.4M358.6 454.2a5.3 .9 44 1 0 7.7 7.4a5.3 .9 44 1 0 -7.7 -7.4M347.8 485.1a5.9 .6 24 1 0 10.8 4.7a5.9 .6 24 1 0 -10.8 -4.7M345.9 503.4a3.6 .7 36 1 0 5.8 4.2a3.6 .7 36 1 0 -5.8 -4.2M287.2 457.1a6.5 .8 43 1 0 9.5 8.8a6.5 .8 43 1 0 -9.5 -8.8M348.8 427.5a3.3 .9 30 1 0 5.6 3.3a3.3 .9 30 1 0 -5.6 -3.3M263.9 472.2a3.4 1.1 33 1 0 5.7 3.8a3.4 1.1 33 1 0 -5.7 -3.8M329.5 489.3a5.3 1 25 1 0 9.7 4.4a5.3 1 25 1 0 -9.7 -4.4M274.7 500.5a6 .9 28 1 0 10.6 5.7a6 .9 28 1 0 -10.6 -5.7M305.5 442a4.7 .9 28 1 0 8.3 4.3a4.7 .9 28 1 0 -8.3 -4.3M326.2 409.9a4.7 .7 39 1 0 7.3 5.8a4.7 .7 39 1 0 -7.3 -5.8M321.7 408.6a6.5 1 44 1 0 9.2 9a6.5 1 44 1 0 -9.2 -9"/>
<path fill="#d4bc78" d="M268 483.2a4.1 1.3 29 1 0 7.1 4a4.1 1.3 29 1 0 -7.1 -4M303.2 419.2a4.3 .9 24 1 0 7.9 3.5a4.3 .9 24 1 0 -7.9 -3.5M356.2 414.3a2.4 1.3 28 1 0 4.1 2.2a2.4 1.3 28 1 0 -4.1 -2.2M365.9 486.8a3.5 .9 41 1 0 5.3 4.6a3.5 .9 41 1 0 -5.3 -4.6M345.9 416.9a3.8 1.4 33 1 0 6.4 4.1a3.8 1.4 33 1 0 -6.4 -4.1M371.4 467.4a3.3 1.3 24 1 0 6.1 2.8a3.3 1.3 24 1 0 -6.1 -2.8M249.9 436.8a2.1 1.4 36 1 0 3.4 2.5a2.1 1.4 36 1 0 -3.4 -2.5M325.1 432.4a2.9 .9 31 1 0 5 3a2.9 .9 31 1 0 -5 -3M330.3 409.3a4.4 1.4 26 1 0 8 3.9a4.4 1.4 26 1 0 -8 -3.9M296.9 491.2a3.2 1.2 29 1 0 5.6 3.1a3.2 1.2 29 1 0 -5.6 -3.1M341.7 479.9a2 1.3 42 1 0 3 2.7a2 1.3 42 1 0 -3 -2.7M358.7 445.7a2.8 1.4 38 1 0 4.4 3.5a2.8 1.4 38 1 0 -4.4 -3.5M273.5 420a3.9 1.5 45 1 0 5.6 5.5a3.9 1.5 45 1 0 -5.6 -5.5M373.6 483.5a3.3 1.1 28 1 0 5.8 3.1a3.3 1.1 28 1 0 -5.8 -3.1M286.6 473.8a2.6 1.1 22 1 0 4.8 2a2.6 1.1 22 1 0 -4.8 -2M366.5 455.9a3.7 1 41 1 0 5.5 4.9a3.7 1 41 1 0 -5.5 -4.9M300.5 421.7a3.3 1.2 29 1 0 5.8 3.3a3.3 1.2 29 1 0 -5.8 -3.3M247 419.2a4.1 1.3 44 1 0 5.8 5.6a4.1 1.3 44 1 0 -5.8 -5.6M278.8 477.6a2.5 1.4 37 1 0 4.1 3.1a2.5 1.4 37 1 0 -4.1 -3.1M348.3 451.6a2.8 1.2 40 1 0 4.3 3.6a2.8 1.2 40 1 0 -4.3 -3.6M311.4 434.7a3.4 1.2 39 1 0 5.3 4.4a3.4 1.2 39 1 0 -5.3 -4.4M267.9 484.6a4 1.3 34 1 0 6.6 4.4a4 1.3 34 1 0 -6.6 -4.4M336.9 488.5a3.3 1.4 47 1 0 4.5 4.8a3.3 1.4 47 1 0 -4.5 -4.8M261.5 483.8a2.6 1.3 21 1 0 4.9 1.8a2.6 1.3 21 1 0 -4.9 -1.8M324.3 410.7a2.7 1.3 34 1 0 4.4 3a2.7 1.3 34 1 0 -4.4 -3M268.4 483.8a2.1 1.2 38 1 0 3.4 2.6a2.1 1.2 38 1 0 -3.4 -2.6M304.9 427.2a4.4 1.1 28 1 0 7.8 4.1a4.4 1.1 28 1 0 -7.8 -4.1M320.5 437.5a3.3 1.2 24 1 0 6 2.7a3.3 1.2 24 1 0 -6 -2.7M351.8 466.6a4.3 1.2 46 1 0 5.9 6.2a4.3 1.2 46 1 0 -5.9 -6.2M267.7 443.1a2.3 1.1 33 1 0 3.9 2.5a2.3 1.1 33 1 0 -3.9 -2.5M314.8 450.9a2.9 1.5 42 1 0 4.3 3.9a2.9 1.5 42 1 0 -4.3 -3.9M345.2 479.3a3.6 .8 28 1 0 6.3 3.4a3.6 .8 28 1 0 -6.3 -3.4M339.4 432.2a2.3 .8 43 1 0 3.3 3.1a2.3 .8 43 1 0 -3.3 -3.1M374.9 447.2a2.5 1.1 28 1 0 4.3 2.3a2.5 1.1 28 1 0 -4.3 -2.3M298.3 431.8a3.3 1.4 42 1 0 4.9 4.5a3.3 1.4 42 1 0 -4.9 -4.5M317.3 451.4a3.3 1.4 26 1 0 5.9 2.9a3.3 1.4 26 1 0 -5.9 -2.9M298.8 454.1a2.1 1.2 41 1 0 3.2 2.8a2.1 1.2 41 1 0 -3.2 -2.8M287 484.3a2.5 1.4 40 1 0 3.9 3.3a2.5 1.4 40 1 0 -3.9 -3.3M258 492.7a4.4 1.3 23 1 0 8 3.5a4.4 1.3 23 1 0 -8 -3.5"/>
<path fill="#dcc888" d="M303.4 433.4a2.6 .9 41 1 0 3.9 3.4a2.6 .9 41 1 0 -3.9 -3.4M261.1 410.6a3.6 .8 24 1 0 6.6 3a3.6 .8 24 1 0 -6.6 -3M255.6 509.5a3.1 1.3 28 1 0 5.5 2.9a3.1 1.3 28 1 0 -5.5 -2.9M249.1 454.7a2.5 .8 45 1 0 3.5 3.5a2.5 .8 45 1 0 -3.5 -3.5M318.7 425a2.1 1.2 46 1 0 2.9 3a2.1 1.2 46 1 0 -2.9 -3M371.1 508.4a4.5 1.4 21 1 0 8.4 3.2a4.5 1.4 21 1 0 -8.4 -3.2M281.2 431.3a2.3 1.1 31 1 0 3.9 2.3a2.3 1.1 31 1 0 -3.9 -2.3M335.5 415.3a3.7 .9 34 1 0 6.1 4.1a3.7 .9 34 1 0 -6.1 -4.1M341.4 438.3a2.9 .9 25 1 0 5.3 2.5a2.9 .9 25 1 0 -5.3 -2.5M268.6 486.1a4.4 1.3 39 1 0 6.9 5.5a4.4 1.3 39 1 0 -6.9 -5.5M295.1 445.3a2.2 1.1 44 1 0 3.2 3a2.2 1.1 44 1 0 -3.2 -3M290.8 413.1a2.7 1.4 25 1 0 4.9 2.3a2.7 1.4 25 1 0 -4.9 -2.3M361.1 479.1a3.1 1 32 1 0 5.3 3.3a3.1 1 32 1 0 -5.3 -3.3M262.9 478.4a4.4 1 40 1 0 6.7 5.7a4.4 1 40 1 0 -6.7 -5.7M298.8 458.9a2.5 1 40 1 0 3.8 3.2a2.5 1 40 1 0 -3.8 -3.2M300.9 408.5a2.9 .9 31 1 0 5.1 3a2.9 .9 31 1 0 -5.1 -3M285.3 447.4a3.9 1.4 37 1 0 6.3 4.7a3.9 1.4 37 1 0 -6.3 -4.7M346.1 408a3 1 50 1 0 3.9 4.6a3 1 50 1 0 -3.9 -4.6M364.6 500.4a2.7 .8 33 1 0 4.5 3a2.7 .8 33 1 0 -4.5 -3M282.3 508.7a2.2 1.4 23 1 0 4 1.7a2.2 1.4 23 1 0 -4 -1.7M374.9 436.7a3.4 1.1 47 1 0 4.7 4.9a3.4 1.1 47 1 0 -4.7 -4.9M290.5 424.2a3.5 1.4 49 1 0 4.6 5.3a3.5 1.4 49 1 0 -4.6 -5.3M354 409.5a4.4 1.4 22 1 0 8.2 3.4a4.4 1.4 22 1 0 -8.2 -3.4M352.1 442.7a3.7 .9 41 1 0 5.5 4.8a3.7 .9 41 1 0 -5.5 -4.8M273.5 442.3a3.7 .9 36 1 0 6 4.4a3.7 .9 36 1 0 -6 -4.4M357.6 455a3 1.4 46 1 0 4.2 4.3a3 1.4 46 1 0 -4.2 -4.3M373.9 423.7a3.6 1.2 26 1 0 6.4 3.1a3.6 1.2 26 1 0 -6.4 -3.1M254.4 439.4a3.8 1.1 40 1 0 5.8 4.9a3.8 1.1 40 1 0 -5.8 -4.9M280.3 475.3a3.2 .9 38 1 0 5.1 4a3.2 .9 38 1 0 -5.1 -4M351.6 502.2a3.1 1 47 1 0 4.2 4.5a3.1 1 47 1 0 -4.2 -4.5M274.1 437.4a3.5 1.2 45 1 0 4.9 4.9a3.5 1.2 45 1 0 -4.9 -4.9M327.8 448.4a4 1.5 44 1 0 5.7 5.5a4 1.5 44 1 0 -5.7 -5.5M299.9 456.3a2.1 1.3 29 1 0 3.7 2.1a2.1 1.3 29 1 0 -3.7 -2.1M315.7 508.8a2.4 1.4 22 1 0 4.4 1.8a2.4 1.4 22 1 0 -4.4 -1.8M246.5 445.8a2.3 .9 25 1 0 4.2 2a2.3 .9 25 1 0 -4.2 -2M284 493.8a3.3 1.1 46 1 0 4.5 4.7a3.3 1.1 46 1 0 -4.5 -4.7M254.3 424.4a4 1.1 23 1 0 7.4 3.2a4 1.1 23 1 0 -7.4 -3.2M321.8 503.5a2.7 1.1 28 1 0 4.8 2.5a2.7 1.1 28 1 0 -4.8 -2.5M362.1 423.3a4 .9 43 1 0 5.9 5.5a4 .9 43 1 0 -5.9 -5.5M288.2 464.2a4.4 .9 39 1 0 6.8 5.5a4.4 .9 39 1 0 -6.8 -5.5M315.4 425.6a2.3 1.2 27 1 0 4.1 2a2.3 1.2 27 1 0 -4.1 -2M322.1 422.4a2.4 1.1 43 1 0 3.5 3.3a2.4 1.1 43 1 0 -3.5 -3.3M358.6 453.3a3.4 .9 46 1 0 4.8 4.9a3.4 .9 46 1 0 -4.8 -4.9"/>
<path fill="#e2d296" d="M265.5 406.8a3.3 1 44 1 0 4.7 4.5a3.3 1 44 1 0 -4.7 -4.5M245.8 412.6a2.3 1.4 39 1 0 3.5 2.8a2.3 1.4 39 1 0 -3.5 -2.8M309.5 476.7a2.6 1.1 30 1 0 4.5 2.6a2.6 1.1 30 1 0 -4.5 -2.6M291.5 503a2.6 1 29 1 0 4.6 2.5a2.6 1 29 1 0 -4.6 -2.5M346.9 487.8a2.7 1.3 33 1 0 4.4 2.9a2.7 1.3 33 1 0 -4.4 -2.9M325.6 442.9a2.3 1 31 1 0 4 2.3a2.3 1 31 1 0 -4 -2.3M290 461.7a2.6 1.4 23 1 0 4.8 2a2.6 1.4 23 1 0 -4.8 -2M311.8 421.6a3.2 .8 45 1 0 4.5 4.5a3.2 .8 45 1 0 -4.5 -4.5M255.2 434a3.4 1.2 24 1 0 6.3 2.8a3.4 1.2 24 1 0 -6.3 -2.8M359.5 501.7a2.2 1.4 48 1 0 2.9 3.2a2.2 1.4 48 1 0 -2.9 -3.2M336.3 432.7a3.3 1.2 25 1 0 6.1 2.8a3.3 1.2 25 1 0 -6.1 -2.8M259.4 477.6a2.6 1.3 31 1 0 4.4 2.7a2.6 1.3 31 1 0 -4.4 -2.7M281.4 415.8a2.6 1 28 1 0 4.7 2.5a2.6 1 28 1 0 -4.7 -2.5M281.9 448.7a3.3 1.1 20 1 0 6.2 2.3a3.3 1.1 20 1 0 -6.2 -2.3M295.2 434a4.5 1 42 1 0 6.7 5.9a4.5 1 42 1 0 -6.7 -5.9M271.4 466.8a4.3 1.3 33 1 0 7.2 4.8a4.3 1.3 33 1 0 -7.2 -4.8M306.9 468.5a3.3 1.3 31 1 0 5.7 3.4a3.3 1.3 31 1 0 -5.7 -3.4M252.7 436.8a4 1 29 1 0 6.9 3.8a4 1 29 1 0 -6.9 -3.8M285.9 499a3.4 .9 45 1 0 4.8 4.8a3.4 .9 45 1 0 -4.8 -4.8M334.3 465.5a4.2 1.4 49 1 0 5.5 6.3a4.2 1.4 49 1 0 -5.5 -6.3M371.4 502a3.8 .9 23 1 0 7 3a3.8 .9 23 1 0 -7 -3M363.3 478.7a2.8 1.1 36 1 0 4.5 3.3a2.8 1.1 36 1 0 -4.5 -3.3M365.7 433.3a2.9 .9 47 1 0 3.9 4.2a2.9 .9 47 1 0 -3.9 -4.2M256.6 431.5a2 1.2 41 1 0 3.1 2.7a2 1.2 41 1 0 -3.1 -2.7M333.5 467.9a4.3 1.3 40 1 0 6.7 5.6a4.3 1.3 40 1 0 -6.7 -5.6M334.6 434.6a2.3 1.3 24 1 0 4.3 1.9a2.3 1.3 24 1 0 -4.3 -1.9M267.2 488.8a2.8 1 35 1 0 4.6 3.2a2.8 1 35 1 0 -4.6 -3.2M295.6 411a2.4 1.2 34 1 0 4 2.7a2.4 1.2 34 1 0 -4 -2.7M251 474.7a4.1 1.3 35 1 0 6.7 4.7a4.1 1.3 35 1 0 -6.7 -4.7M370.7 442.9a2.9 .9 32 1 0 4.9 3a2.9 .9 32 1 0 -4.9 -3M337.2 411.7a4.1 1.4 49 1 0 5.4 6.2a4.1 1.4 49 1 0 -5.4 -6.2M351.5 473.9a3.8 1.5 41 1 0 5.6 5a3.8 1.5 41 1 0 -5.6 -5M337.4 413.5a3 .9 26 1 0 5.5 2.7a3 .9 26 1 0 -5.5 -2.7M327.4 505.3a3.5 .9 31 1 0 5.9 3.5a3.5 .9 31 1 0 -5.9 -3.5M322.9 502a4.3 .9 49 1 0 5.7 6.5a4.3 .9 49 1 0 -5.7 -6.5M287.8 509.7a3.1 1 21 1 0 5.7 2.2a3.1 1 21 1 0 -5.7 -2.2M279.7 458a2.6 1.4 34 1 0 4.2 2.9a2.6 1.4 34 1 0 -4.2 -2.9M329.7 467.2a2.4 1.5 42 1 0 3.6 3.2a2.4 1.5 42 1 0 -3.6 -3.2"/>
<path fill="#585678" d="M263.1 448.8a2 2.1 52 1 0 2.5 3.1a2 2.1 52 1 0 -2.5 -3.1M353.5 503.8a2.8 2.4 146 1 0 -4.6 3.1a2.8 2.4 146 1 0 4.6 -3.1M337.8 461.3a2.7 2 2 1 0 5.3 .2a2.7 2 2 1 0 -5.3 -.2M313.1 444a2.2 2.3 115 1 0 -1.8 3.9a2.2 2.3 115 1 0 1.8 -3.9M331.6 414.6a2.8 2.4 108 1 0 -1.7 5.2a2.8 2.4 108 1 0 1.7 -5.2M280.3 407.9a2.4 2.4 34 1 0 4 2.6a2.4 2.4 34 1 0 -4 -2.6M283.5 414.9a2.4 1.6 137 1 0 -3.4 3.2a2.4 1.6 137 1 0 3.4 -3.2M333.6 429.8a2.2 2.4 27 1 0 4 2a2.2 2.4 27 1 0 -4 -2M284 425.3a2.4 2.2 79 1 0 .9 4.7a2.4 2.2 79 1 0 -.9 -4.7M249.9 458.4a2.7 1.5 36 1 0 4.3 3.1a2.7 1.5 36 1 0 -4.3 -3.1M254.5 504a2.5 2.3 48 1 0 3.4 3.8a2.5 2.3 48 1 0 -3.4 -3.8M288 417.7a2.1 2.2 125 1 0 -2.4 3.4a2.1 2.2 125 1 0 2.4 -3.4M315.3 414a2.7 1.8 44 1 0 3.9 3.7a2.7 1.8 44 1 0 -3.9 -3.7M293.5 440.7a1.9 1.6 154 1 0 -3.5 1.7a1.9 1.6 154 1 0 3.5 -1.7M273.5 415.6a1.8 2.2 36 1 0 3 2.2a1.8 2.2 36 1 0 -3 -2.2M342.9 424.2a1.9 1.9 151 1 0 -3.3 1.8a1.9 1.9 151 1 0 3.3 -1.8M361.7 464.4a2.7 2.3 11 1 0 5.2 1a2.7 2.3 11 1 0 -5.2 -1M271.4 431a2.7 2 82 1 0 .8 5.4a2.7 2 82 1 0 -.8 -5.4M321 456.4a2 1.9 162 1 0 -3.7 1.2a2 1.9 162 1 0 3.7 -1.2M313.1 499a1.9 2.4 106 1 0 -1 3.7a1.9 2.4 106 1 0 1 -3.7M266 470.9a2.7 2.1 150 1 0 -4.6 2.7a2.7 2.1 150 1 0 4.6 -2.7M375.8 452.7a2.2 2.4 78 1 0 .9 4.3a2.2 2.4 78 1 0 -.9 -4.3M257.1 472.1a2.3 2.4 86 1 0 .3 4.6a2.3 2.4 86 1 0 -.3 -4.6M274.4 432.8a2 1.9 151 1 0 -3.4 1.9a2 1.9 151 1 0 3.4 -1.9M319.5 449.9a2.7 1.8 127 1 0 -3.3 4.4a2.7 1.8 127 1 0 3.3 -4.4M252.9 475.6a2.2 2 119 1 0 -2.1 3.9a2.2 2 119 1 0 2.1 -3.9M365.3 465a2.3 1.7 94 1 0 -.3 4.5a2.3 1.7 94 1 0 .3 -4.5M283 460.5a2.5 1.8 21 1 0 4.7 1.8a2.5 1.8 21 1 0 -4.7 -1.8M318.3 468a2.6 2 140 1 0 -4 3.4a2.6 2 140 1 0 4 -3.4M247.2 446.9a2.8 2.1 6 1 0 5.6 .6a2.8 2.1 6 1 0 -5.6 -.6M275.2 418.7a2.4 1.5 8 1 0 4.7 .7a2.4 1.5 8 1 0 -4.7 -.7M312.2 416.6a1.8 1.8 121 1 0 -1.9 3.1a1.8 1.8 121 1 0 1.9 -3.1M285.9 446.8a2.8 2.4 144 1 0 -4.5 3.3a2.8 2.4 144 1 0 4.5 -3.3M262 475.7a2 2.2 110 1 0 -1.4 3.8a2 2.2 110 1 0 1.4 -3.8M286.4 440.2a2 1.5 118 1 0 -1.9 3.5a2 1.5 118 1 0 1.9 -3.5M326.8 465.7a2.2 1.8 141 1 0 -3.5 2.8a2.2 1.8 141 1 0 3.5 -2.8"/>
<path fill="#646280" d="M322 469a2.2 2.3 99 1 0 -.7 4.3a2.2 2.3 99 1 0 .7 -4.3M318.5 407.6a2.1 2.3 39 1 0 3.3 2.7a2.1 2.3 39 1 0 -3.3 -2.7M328.2 451a2.7 2.3 98 1 0 -.7 5.3a2.7 2.3 98 1 0 .7 -5.3M338.4 428.1a2.1 2 103 1 0 -.9 4.1a2.1 2 103 1 0 .9 -4.1M286.6 467.6a2.4 1.5 152 1 0 -4.2 2.3a2.4 1.5 152 1 0 4.2 -2.3M364.4 478.3a2.3 1.8 117 1 0 -2 4.1a2.3 1.8 117 1 0 2 -4.1M251.5 494.9a1.9 1.8 97 1 0 -.4 3.8a1.9 1.8 97 1 0 .4 -3.8M328.9 506.3a1.9 2.3 70 1 0 1.3 3.5a1.9 2.3 70 1 0 -1.3 -3.5M275 413a1.9 2.4 113 1 0 -1.5 3.5a1.9 2.4 113 1 0 1.5 -3.5M325.7 455.9a2.7 1.9 47 1 0 3.8 4a2.7 1.9 47 1 0 -3.8 -4M280.9 452.5a2.2 1.8 153 1 0 -3.9 2a2.2 1.8 153 1 0 3.9 -2M285.2 441.6a2.4 1.6 75 1 0 1.2 4.6a2.4 1.6 75 1 0 -1.2 -4.6M357.6 452.4a2.6 1.9 93 1 0 -.3 5.2a2.6 1.9 93 1 0 .3 -5.2M276.4 486.6a2.4 2.3 81 1 0 .7 4.7a2.4 2.3 81 1 0 -.7 -4.7M325.5 434.4a2 1.8 147 1 0 -3.4 2.2a2 1.8 147 1 0 3.4 -2.2M330.9 434.1a2.2 2.3 163 1 0 -4.3 1.3a2.2 2.3 163 1 0 4.3 -1.3M302.9 413.2a2 2 2 1 0 4 .1a2 2 2 1 0 -4 -.1M256.4 471.6a2.3 1.6 140 1 0 -3.5 3a2.3 1.6 140 1 0 3.5 -3M263.4 420a2.7 2.2 145 1 0 -4.4 3.1a2.7 2.2 145 1 0 4.4 -3.1M250.3 494.5a2.5 1.7 163 1 0 -4.8 1.4a2.5 1.7 163 1 0 4.8 -1.4M249.8 447.4a2 2.1 44 1 0 2.9 2.8a2 2.1 44 1 0 -2.9 -2.8M314.6 419.5a2.5 2 83 1 0 .6 4.9a2.5 2 83 1 0 -.6 -4.9M295.2 470.1a2.6 2.1 142 1 0 -4.1 3.2a2.6 2.1 142 1 0 4.1 -3.2M309.4 415a2.8 2.2 162 1 0 -5.2 1.7a2.8 2.2 162 1 0 5.2 -1.7M354.3 502.1a2.6 2 139 1 0 -4 3.4a2.6 2 139 1 0 4 -3.4M316.2 408.5a2.5 1.7 128 1 0 -3.1 4a2.5 1.7 128 1 0 3.1 -4M311.8 460.5a2.1 1.7 174 1 0 -4.2 .5a2.1 1.7 174 1 0 4.2 -.5M325.6 438.5a1.9 2.3 84 1 0 .4 3.7a1.9 2.3 84 1 0 -.4 -3.7M280.1 500a2.8 1.6 122 1 0 -2.9 4.7a2.8 1.6 122 1 0 2.9 -4.7M304.7 458.7a2.1 2 20 1 0 4 1.5a2.1 2 20 1 0 -4 -1.5M295.4 462.8a2 1.7 144 1 0 -3.3 2.4a2 1.7 144 1 0 3.3 -2.4M367.2 501.1a2.6 2.1 44 1 0 3.7 3.6a2.6 2.1 44 1 0 -3.7 -3.6M279.8 447.7a2.5 1.9 138 1 0 -3.7 3.3a2.5 1.9 138 1 0 3.7 -3.3M363.1 467.9a2.2 2.3 143 1 0 -3.5 2.7a2.2 2.3 143 1 0 3.5 -2.7M325.3 483.3a2.5 1.7 141 1 0 -3.9 3.1a2.5 1.7 141 1 0 3.9 -3.1M249.6 473.7a1.9 2.1 81 1 0 .6 3.8a1.9 2.1 81 1 0 -.6 -3.8"/>
<path fill="#4c4a6a" d="M357.8 467.4a1.9 2.2 129 1 0 -2.4 3a1.9 2.2 129 1 0 2.4 -3M246.6 440.9a1.8 2.1 53 1 0 2.2 2.9a1.8 2.1 53 1 0 -2.2 -2.9M352.9 471a2.6 2 72 1 0 1.6 5a2.6 2 72 1 0 -1.6 -5M278.1 422.3a2.4 2 44 1 0 3.4 3.3a2.4 2 44 1 0 -3.4 -3.3M325.3 455a2.8 2.3 148 1 0 -4.7 2.9a2.8 2.3 148 1 0 4.7 -2.9M342.8 433.6a2.3 1.7 133 1 0 -3.2 3.4a2.3 1.7 133 1 0 3.2 -3.4M344.3 470.8a2.7 1.7 0 1 0 5.3 0a2.7 1.7 0 1 0 -5.3 -0M359.2 464.1a2 2.4 101 1 0 -.8 3.9a2 2.4 101 1 0 .8 -3.9M364 413.2a2.1 2 18 1 0 4 1.3a2.1 2 18 1 0 -4 -1.3M292.8 497.3a2 2.1 173 1 0 -4 .5a2 2.1 173 1 0 4 -.5M313 459.6a1.8 1.7 145 1 0 -3 2.1a1.8 1.7 145 1 0 3 -2.1M309.1 461.5a1.8 2.3 88 1 0 .1 3.6a1.8 2.3 88 1 0 -.1 -3.6M336.7 441.5a1.9 1.6 172 1 0 -3.7 .5a1.9 1.6 172 1 0 3.7 -.5M282.4 457.4a2.1 2 158 1 0 -4 1.6a2.1 2 158 1 0 4 -1.6M362.6 496.4a2.7 1.6 157 1 0 -5 2.2a2.7 1.6 157 1 0 5 -2.2M248.5 434.7a2 1.6 170 1 0 -4 .7a2 1.6 170 1 0 4 -.7M320.1 436a2 2.1 86 1 0 .3 4a2 2.1 86 1 0 -.3 -4M331.3 450.3a2.3 2.3 176 1 0 -4.6 .3a2.3 2.3 176 1 0 4.6 -.3M275.4 422.3a2.3 1.7 120 1 0 -2.3 4.1a2.3 1.7 120 1 0 2.3 -4.1M266.7 451.7a2.8 2.3 125 1 0 -3.1 4.5a2.8 2.3 125 1 0 3.1 -4.5M256.8 456.9a2.2 2.4 170 1 0 -4.3 .8a2.2 2.4 170 1 0 4.3 -.8M330.6 427.1a2.6 1.8 34 1 0 4.3 2.9a2.6 1.8 34 1 0 -4.3 -2.9M291.9 417.5a2.3 1.6 22 1 0 4.3 1.7a2.3 1.6 22 1 0 -4.3 -1.7M248.6 448.9a2.3 1.9 121 1 0 -2.4 3.9a2.3 1.9 121 1 0 2.4 -3.9M372.5 485.6a2.6 1.8 63 1 0 2.3 4.6a2.6 1.8 63 1 0 -2.3 -4.6M306.4 505a2.2 1.8 78 1 0 .9 4.2a2.2 1.8 78 1 0 -.9 -4.2M312.6 440.9a1.8 1.7 85 1 0 .4 3.7a1.8 1.7 85 1 0 -.4 -3.7M337.5 448.2a2.2 1.8 149 1 0 -3.8 2.3a2.2 1.8 149 1 0 3.8 -2.3M255.2 425.8a2.6 2 170 1 0 -5.2 1a2.6 2 170 1 0 5.2 -1M287.7 442.8a2.2 1.9 135 1 0 -3.1 3.1a2.2 1.9 135 1 0 3.1 -3.1M259.9 433.2a1.9 1.5 168 1 0 -3.7 .8a1.9 1.5 168 1 0 3.7 -.8M334.6 456.9a2.4 1.8 2 1 0 4.9 .1a2.4 1.8 2 1 0 -4.9 -.1M334.5 458.1a2.5 2.1 79 1 0 1 5a2.5 2.1 79 1 0 -1 -5M262.3 421.9a2.2 1.6 62 1 0 2.1 3.9a2.2 1.6 62 1 0 -2.1 -3.9M292.3 459.7a2.7 1.9 158 1 0 -5 2a2.7 1.9 158 1 0 5 -2M293.9 431.4a2.2 1.8 152 1 0 -3.9 2.1a2.2 1.8 152 1 0 3.9 -2.1M298.9 450.7a2.1 2 116 1 0 -1.8 3.7a2.1 2 116 1 0 1.8 -3.7M300.7 411.1a2.7 1.7 147 1 0 -4.5 3a2.7 1.7 147 1 0 4.5 -3M251.1 439.8a2 2.4 128 1 0 -2.5 3.2a2 2.4 128 1 0 2.5 -3.2M319 446.1a2 1.5 102 1 0 -.8 3.9a2 1.5 102 1 0 .8 -3.9M259.1 419.5a2.7 2.1 33 1 0 4.5 2.9a2.7 2.1 33 1 0 -4.5 -2.9M310.1 413.9a1.9 2.4 162 1 0 -3.6 1.2a1.9 2.4 162 1 0 3.6 -1.2M342.7 456.9a2.1 1.9 12 1 0 4.2 .9a2.1 1.9 12 1 0 -4.2 -.9M281.1 433.5a2.5 2.3 43 1 0 3.6 3.4a2.5 2.3 43 1 0 -3.6 -3.4M345 408.4a2.6 1.6 133 1 0 -3.6 3.8a2.6 1.6 133 1 0 3.6 -3.8M334.9 419a1.9 1.8 137 1 0 -2.8 2.6a1.9 1.8 137 1 0 2.8 -2.6M303.1 500.7a1.8 1.6 27 1 0 3.3 1.7a1.8 1.6 27 1 0 -3.3 -1.7"/>
<path fill="#6e6a84" d="M307.3 454.9a2 1.5 173 1 0 -4 .5a2 1.5 173 1 0 4 -.5M312.7 445.5a1.8 1.6 143 1 0 -2.9 2.2a1.8 1.6 143 1 0 2.9 -2.2M293 423.8a2 1.6 105 1 0 -1.1 3.9a2 1.6 105 1 0 1.1 -3.9M328.4 443.5a2.1 2.2 23 1 0 3.9 1.6a2.1 2.2 23 1 0 -3.9 -1.6M336.2 407.3a2.6 1.5 86 1 0 .4 5.2a2.6 1.5 86 1 0 -.4 -5.2M252.8 494.6a2.7 2.3 23 1 0 5 2.1a2.7 2.3 23 1 0 -5 -2.1M339.6 423.5a2.5 2.3 152 1 0 -4.4 2.3a2.5 2.3 152 1 0 4.4 -2.3M314.5 411.6a2.2 1.7 44 1 0 3.2 3.1a2.2 1.7 44 1 0 -3.2 -3.1M288.7 489.7a2 2.1 163 1 0 -3.9 1.2a2 2.1 163 1 0 3.9 -1.2M287.1 411.6a2.8 2.4 116 1 0 -2.4 5a2.8 2.4 116 1 0 2.4 -5M331.7 427.7a2 2.3 6 1 0 4 .4a2 2.3 6 1 0 -4 -.4M293.2 479.5a2.2 1.6 101 1 0 -.8 4.4a2.2 1.6 101 1 0 .8 -4.4M306 419.9a2.4 2.4 63 1 0 2.1 4.3a2.4 2.4 63 1 0 -2.1 -4.3M271.1 445.1a1.8 1.7 119 1 0 -1.8 3.2a1.8 1.7 119 1 0 1.8 -3.2M257 424.8a2.2 1.6 175 1 0 -4.3 .4a2.2 1.6 175 1 0 4.3 -.4M305.2 445.3a2.1 2.3 48 1 0 2.9 3.1a2.1 2.3 48 1 0 -2.9 -3.1M306.3 507.8a2.2 1.6 144 1 0 -3.6 2.5a2.2 1.6 144 1 0 3.6 -2.5M310.5 451.9a2.4 2 165 1 0 -4.6 1.2a2.4 2 165 1 0 4.6 -1.2M291.6 422.9a2.1 1.7 113 1 0 -1.6 3.9a2.1 1.7 113 1 0 1.6 -3.9M371.7 460.4a2.3 1.8 53 1 0 2.7 3.6a2.3 1.8 53 1 0 -2.7 -3.6M279 444.1a2.2 2.2 52 1 0 2.8 3.5a2.2 2.2 52 1 0 -2.8 -3.5M342.7 412.6a2.7 2 146 1 0 -4.5 3a2.7 2 146 1 0 4.5 -3M282.3 408.6a2.1 1.7 13 1 0 4 .9a2.1 1.7 13 1 0 -4 -.9M315.5 435.3a2.1 1.6 73 1 0 1.2 4a2.1 1.6 73 1 0 -1.2 -4M309.8 486.5a2.4 2.4 70 1 0 1.6 4.5a2.4 2.4 70 1 0 -1.6 -4.5"/>
<path fill="#444262" d="M365.3 462.1a2.1 2 109 1 0 -1.3 3.9a2.1 2 109 1 0 1.3 -3.9M265.7 439.9a2.6 2 113 1 0 -2 4.7a2.6 2 113 1 0 2 -4.7M274 482.8a2.1 1.5 39 1 0 3.3 2.6a2.1 1.5 39 1 0 -3.3 -2.6M345.7 463.9a2.3 1.8 88 1 0 .2 4.6a2.3 1.8 88 1 0 -.2 -4.6M254.9 419a2.4 2.2 161 1 0 -4.6 1.6a2.4 2.2 161 1 0 4.6 -1.6M336.4 479.3a2 1.8 63 1 0 1.8 3.5a2 1.8 63 1 0 -1.8 -3.5M339.7 417.8a2.2 2.2 104 1 0 -1.1 4.3a2.2 2.2 104 1 0 1.1 -4.3M304.2 458a2.7 2.2 170 1 0 -5.3 .9a2.7 2.2 170 1 0 5.3 -.9M314.7 408.7a2.2 1.9 4 1 0 4.4 .3a2.2 1.9 4 1 0 -4.4 -.3M347.7 498.6a2.7 1.6 85 1 0 .5 5.4a2.7 1.6 85 1 0 -.5 -5.4M258.8 455.9a2.7 2.1 51 1 0 3.5 4.3a2.7 2.1 51 1 0 -3.5 -4.3M297.4 422.4a1.9 2.2 124 1 0 -2.2 3.1a1.9 2.2 124 1 0 2.2 -3.1M332.6 430.6a2.2 2 165 1 0 -4.2 1.1a2.2 2 165 1 0 4.2 -1.1M328.5 417.7a1.8 1.5 95 1 0 -.3 3.6a1.8 1.5 95 1 0 .3 -3.6M321.2 441.3a1.8 1.7 124 1 0 -2 3a1.8 1.7 124 1 0 2 -3M261.4 485.3a2.2 2.2 61 1 0 2.1 3.8a2.2 2.2 61 1 0 -2.1 -3.8M339.7 453.2a1.9 1.9 103 1 0 -.8 3.8a1.9 1.9 103 1 0 .8 -3.8M301.2 451a2.4 2.2 160 1 0 -4.4 1.6a2.4 2.2 160 1 0 4.4 -1.6M282 479.8a2.4 2.2 15 1 0 4.6 1.2a2.4 2.2 15 1 0 -4.6 -1.2M332.3 454.9a2.6 1.7 120 1 0 -2.6 4.5a2.6 1.7 120 1 0 2.6 -4.5M369.3 468.4a2.2 1.8 96 1 0 -.5 4.4a2.2 1.8 96 1 0 .5 -4.4M279.1 444a2.4 1.9 170 1 0 -4.8 .8a2.4 1.9 170 1 0 4.8 -.8M336 456a2 2.1 69 1 0 1.5 3.8a2 2.1 69 1 0 -1.5 -3.8M271.5 493a2.1 1.6 178 1 0 -4.3 .1a2.1 1.6 178 1 0 4.3 -.1M246.1 455.6a2.7 1.7 18 1 0 5.2 1.7a2.7 1.7 18 1 0 -5.2 -1.7M314.3 430.3a2.3 1.5 122 1 0 -2.4 3.9a2.3 1.5 122 1 0 2.4 -3.9M253.7 482.3a2 2.3 57 1 0 2.2 3.4a2 2.3 57 1 0 -2.2 -3.4M261.3 409.1a1.9 2.1 87 1 0 .2 3.7a1.9 2.1 87 1 0 -.2 -3.7"/>
<path fill="#5c5474" d="M361.9 453.1a2.7 1.6 124 1 0 -3 4.4a2.7 1.6 124 1 0 3 -4.4M285.5 449.4a2.4 1.5 62 1 0 2.3 4.3a2.4 1.5 62 1 0 -2.3 -4.3M308.5 411.3a2.3 2.1 106 1 0 -1.3 4.5a2.3 2.1 106 1 0 1.3 -4.5M277 452.3a2.2 1.8 165 1 0 -4.2 1.1a2.2 1.8 165 1 0 4.2 -1.1M294 459.1a2.6 2.4 89 1 0 .1 5.2a2.6 2.4 89 1 0 -.1 -5.2M348.3 414.7a2.2 1.8 170 1 0 -4.3 .8a2.2 1.8 170 1 0 4.3 -.8M314.9 459.9a2.5 1.7 55 1 0 2.8 4.1a2.5 1.7 55 1 0 -2.8 -4.1M289.5 412a2.2 1.6 86 1 0 .3 4.4a2.2 1.6 86 1 0 -.3 -4.4M317.2 412a2.1 1.6 145 1 0 -3.4 2.4a2.1 1.6 145 1 0 3.4 -2.4M257.5 493.2a2.1 1.8 127 1 0 -2.5 3.3a2.1 1.8 127 1 0 2.5 -3.3M265 446.5a2.3 2.2 119 1 0 -2.2 4a2.3 2.2 119 1 0 2.2 -4M300.7 448.3a2.5 2.2 138 1 0 -3.8 3.4a2.5 2.2 138 1 0 3.8 -3.4M284.3 455.9a2.7 1.7 24 1 0 5 2.2a2.7 1.7 24 1 0 -5 -2.2M245.5 454.6a2.7 1.8 20 1 0 5.2 1.9a2.7 1.8 20 1 0 -5.2 -1.9M333 473.4a2 1.6 26 1 0 3.6 1.8a2 1.6 26 1 0 -3.6 -1.8M313 439.5a2.1 2.3 90 1 0 0 4.2a2.1 2.3 90 1 0 -0 -4.2M282.6 432.2a2.5 2.2 53 1 0 3.1 4.1a2.5 2.2 53 1 0 -3.1 -4.1M270.1 507.5a2 2.1 128 1 0 -2.5 3.1a2 2.1 128 1 0 2.5 -3.1M272.7 410.8a2 1.7 8 1 0 3.9 .6a2 1.7 8 1 0 -3.9 -.6M269.8 427.2a2.1 2 81 1 0 .6 4.2a2.1 2 81 1 0 -.6 -4.2M264.2 489.6a1.8 2.3 33 1 0 3.1 2a1.8 2.3 33 1 0 -3.1 -2M346 417.1a2.7 1.8 164 1 0 -5.1 1.5a2.7 1.8 164 1 0 5.1 -1.5M339 444.4a2.2 1.7 23 1 0 4 1.7a2.2 1.7 23 1 0 -4 -1.7M266.8 471.3a2.3 1.7 123 1 0 -2.5 3.8a2.3 1.7 123 1 0 2.5 -3.8M270.3 467.9a2.3 2.4 9 1 0 4.5 .7a2.3 2.4 9 1 0 -4.5 -.7M348.7 436.1a2.4 1.6 81 1 0 .8 4.7a2.4 1.6 81 1 0 -.8 -4.7M279.7 424.6a2.5 1.6 171 1 0 -4.9 .8a2.5 1.6 171 1 0 4.9 -.8M293.9 430.5a2.5 2.4 56 1 0 2.8 4.2a2.5 2.4 56 1 0 -2.8 -4.2"/>
<path fill="#7e7890" d="M344.9 455.8a1.3 1.5 106 1 0 -.7 2.4a1.3 1.5 106 1 0 .7 -2.4M267.5 429.8a1.8 1.4 117 1 0 -1.7 3.2a1.8 1.4 117 1 0 1.7 -3.2M293.4 451.3a1.7 1.1 86 1 0 .2 3.4a1.7 1.1 86 1 0 -.2 -3.4M331.2 457.5a1.6 1.5 102 1 0 -.7 3.2a1.6 1.5 102 1 0 .7 -3.2M357.3 480.1a2 1.4 114 1 0 -1.6 3.6a2 1.4 114 1 0 1.6 -3.6M323.3 436.3a1.8 1 22 1 0 3.3 1.3a1.8 1 22 1 0 -3.3 -1.3M300.8 422.4a1.4 1.1 35 1 0 2.3 1.6a1.4 1.1 35 1 0 -2.3 -1.6M272.2 430.9a1.4 1.4 170 1 0 -2.8 .5a1.4 1.4 170 1 0 2.8 -.5M306.6 474.7a2 1.4 135 1 0 -2.8 2.8a2 1.4 135 1 0 2.8 -2.8M311.1 430.4a1.7 1.2 141 1 0 -2.7 2.2a1.7 1.2 141 1 0 2.7 -2.2M280.1 489.2a1.2 1.4 86 1 0 .2 2.4a1.2 1.4 86 1 0 -.2 -2.4M316.5 409.1a1.5 1 12 1 0 2.9 .6a1.5 1 12 1 0 -2.9 -.6M252.9 506.3a1.3 1.5 35 1 0 2.1 1.5a1.3 1.5 35 1 0 -2.1 -1.5M267 455.6a1.3 1 11 1 0 2.5 .5a1.3 1 11 1 0 -2.5 -.5M289.2 426a1.5 1.5 118 1 0 -1.4 2.6a1.5 1.5 118 1 0 1.4 -2.6M326.4 437a1.7 1.2 9 1 0 3.3 .5a1.7 1.2 9 1 0 -3.3 -.5M287.1 503.8a1.3 1.2 11 1 0 2.5 .5a1.3 1.2 11 1 0 -2.5 -.5M255.2 438.7a1.5 1.4 52 1 0 1.9 2.4a1.5 1.4 52 1 0 -1.9 -2.4M378.8 499.3a1.8 1.2 134 1 0 -2.5 2.6a1.8 1.2 134 1 0 2.5 -2.6M265.2 441.8a1.5 1.4 173 1 0 -2.9 .4a1.5 1.4 173 1 0 2.9 -.4M277.3 473.1a1.6 1.4 136 1 0 -2.2 2.2a1.6 1.4 136 1 0 2.2 -2.2M267.7 452.1a2 1.2 101 1 0 -.8 3.8a2 1.2 101 1 0 .8 -3.8M363 480.8a2 1.5 55 1 0 2.3 3.3a2 1.5 55 1 0 -2.3 -3.3M261.9 415.1a1.6 1 25 1 0 2.8 1.3a1.6 1 25 1 0 -2.8 -1.3M326 416.4a1.7 1.4 88 1 0 .1 3.3a1.7 1.4 88 1 0 -.1 -3.3M280.5 423.4a2 1.3 49 1 0 2.6 3a2 1.3 49 1 0 -2.6 -3M267.3 434.5a1.6 1.4 128 1 0 -2 2.6a1.6 1.4 128 1 0 2 -2.6M256.9 441.3a1.9 1.2 102 1 0 -.8 3.7a1.9 1.2 102 1 0 .8 -3.7M336.3 450a1.6 1.1 115 1 0 -1.4 2.9a1.6 1.1 115 1 0 1.4 -2.9M291.7 449.1a1.3 1.4 31 1 0 2.3 1.3a1.3 1.4 31 1 0 -2.3 -1.3M296.5 422.4a1.4 1.3 177 1 0 -2.7 .1a1.4 1.3 177 1 0 2.7 -.1M361.3 458.5a1.9 1 80 1 0 .7 3.6a1.9 1 80 1 0 -.7 -3.6M288.2 446.2a1.4 1.4 113 1 0 -1.1 2.5a1.4 1.4 113 1 0 1.1 -2.5M270.7 409.5a1.6 1.2 91 1 0 -.1 3.3a1.6 1.2 91 1 0 .1 -3.3M273.2 446.3a1.4 1.5 79 1 0 .5 2.7a1.4 1.5 79 1 0 -.5 -2.7"/>
<path fill="#8a8298" d="M330.3 478.2a1.6 1.5 38 1 0 2.5 1.9a1.6 1.5 38 1 0 -2.5 -1.9M253.2 509.4a1.5 1.4 78 1 0 .6 3a1.5 1.4 78 1 0 -.6 -3M315.9 468.5a2 1.5 58 1 0 2.1 3.3a2 1.5 58 1 0 -2.1 -3.3M326.3 436.1a1.8 1.4 129 1 0 -2.3 2.8a1.8 1.4 129 1 0 2.3 -2.8M371.8 455.4a1.6 1.2 60 1 0 1.6 2.7a1.6 1.2 60 1 0 -1.6 -2.7M249.9 435a1.7 1.2 17 1 0 3.3 1a1.7 1.2 17 1 0 -3.3 -1M252.7 434.6a1.6 1 18 1 0 2.9 1a1.6 1 18 1 0 -2.9 -1M325.2 460.2a1.3 1.1 161 1 0 -2.4 .8a1.3 1.1 161 1 0 2.4 -.8M283.8 441.9a1.7 1.2 141 1 0 -2.7 2.1a1.7 1.2 141 1 0 2.7 -2.1M323.7 452.9a1.4 1.6 17 1 0 2.6 .8a1.4 1.6 17 1 0 -2.6 -.8M296.4 444.2a1.5 1.5 89 1 0 .1 3.1a1.5 1.5 89 1 0 -.1 -3.1M314.2 453.3a1.3 1.3 144 1 0 -2.2 1.6a1.3 1.3 144 1 0 2.2 -1.6M278.9 410.2a1.8 1.5 113 1 0 -1.4 3.3a1.8 1.5 113 1 0 1.4 -3.3M274.8 416a1.6 1.2 90 1 0 0 3.2a1.6 1.2 90 1 0 -0 -3.2M308.1 418.7a2 1.2 10 1 0 3.9 .7a2 1.2 10 1 0 -3.9 -.7M323.2 451.6a1.5 1.2 26 1 0 2.7 1.3a1.5 1.2 26 1 0 -2.7 -1.3M249.9 465a1.6 1.4 7 1 0 3.3 .4a1.6 1.4 7 1 0 -3.3 -.4M289.1 414.7a1.7 1.2 160 1 0 -3.2 1.2a1.7 1.2 160 1 0 3.2 -1.2M307.4 476.4a1.9 1.4 49 1 0 2.5 2.8a1.9 1.4 49 1 0 -2.5 -2.8M325.6 442.1a1.8 1.5 40 1 0 2.7 2.3a1.8 1.5 40 1 0 -2.7 -2.3M337.8 452.3a1.4 1.6 154 1 0 -2.5 1.2a1.4 1.6 154 1 0 2.5 -1.2M332.9 417.6a1.7 1.2 173 1 0 -3.4 .4a1.7 1.2 173 1 0 3.4 -.4M285.3 423.9a1.6 1.5 81 1 0 .5 3.1a1.6 1.5 81 1 0 -.5 -3.1M287.5 434.6a1.8 1.4 175 1 0 -3.6 .3a1.8 1.4 175 1 0 3.6 -.3M290.7 455.5a1.9 1 83 1 0 .4 3.8a1.9 1 83 1 0 -.4 -3.8"/>
<ellipse cx="270" cy="433.5" rx="3.4" ry="3.2" fill="#d84040" opacity="0.9" transform="rotate(0 270 433.5)"/>
<ellipse cx="280.6" cy="454.8" rx="3.6" ry="3.2" fill="#d83838" opacity="0.9" transform="rotate(0 280.6 454.8)"/>
<ellipse cx="298.3" cy="436.5" rx="2.8" ry="2.8" fill="#e03848" opacity="0.9" transform="rotate(0 298.3 436.5)"/>
<ellipse cx="310" cy="437.5" rx="3" ry="2.8" fill="#d03850" opacity="0.9" transform="rotate(0 310 437.5)"/>
<ellipse cx="313.7" cy="445.3" rx="3.2" ry="3.2" fill="#c83850" opacity="0.9" transform="rotate(0 313.7 445.3)"/>
<ellipse cx="255.7" cy="482" rx="3" ry="2.5" fill="#d05038" opacity="0.8" transform="rotate(0 255.7 482)"/>
<ellipse cx="258" cy="426" rx="4" ry="1.8" fill="#d05040" opacity="0.8" transform="rotate(40 258 426)"/>
<ellipse cx="305.4" cy="456" rx="2.2" ry="2.2" fill="#d04848" opacity="0.8" transform="rotate(0 305.4 456)"/>
<ellipse cx="284" cy="460" rx="2.5" ry="2" fill="#c85040" opacity="0.7" transform="rotate(0 284 460)"/>
<ellipse cx="307.8" cy="475" rx="4" ry="4" fill="#e4c0c0" opacity="0.7" transform="rotate(0 307.8 475)"/>
</g></g>
<rect x="251.5" y="412.5" width="121" height="94.5" fill="none" stroke="#3a3a3a" stroke-width="1"/>
<filter id="hbccbd" x="-5%" y="-5%" width="110%" height="110%"><feGaussianBlur stdDeviation="0.75"/></filter>
<clipPath id="hcccbd"><rect x="379.5" y="412" width="122.5" height="95.5"/></clipPath>
<g clip-path="url(#hcccbd)">
<rect x="379.5" y="412" width="122.5" height="95.5" fill="#ecd08a"/>
<g filter="url(#hbccbd)">
<ellipse cx="394" cy="460" rx="10" ry="8" fill="#f4e47c" opacity="0.9" transform="rotate(0 394 460)"/>
<ellipse cx="410" cy="500" rx="22" ry="7" fill="#f2e080" opacity="0.8" transform="rotate(0 410 500)"/>
<ellipse cx="470" cy="470" rx="8" ry="10" fill="#e8b878" opacity="0.6" transform="rotate(0 470 470)"/>
<ellipse cx="430" cy="470" rx="8" ry="6" fill="#e8b078" opacity="0.6" transform="rotate(0 430 470)"/>
<path fill="#f0c888" d="M423.3 428.1a4.2 1.1 66 1 0 3.5 7.7a4.2 1.1 66 1 0 -3.5 -7.7M490.2 449.6a3 1.6 24 1 0 5.6 2.5a3 1.6 24 1 0 -5.6 -2.5M493.3 437.6a2.6 .9 63 1 0 2.4 4.6a2.6 .9 63 1 0 -2.4 -4.6M435.7 465.3a2.1 1.6 51 1 0 2.6 3.2a2.1 1.6 51 1 0 -2.6 -3.2M393.4 470.5a3.3 .8 21 1 0 6.2 2.4a3.3 .8 21 1 0 -6.2 -2.4M441.9 466.3a3.3 .8 44 1 0 4.8 4.7a3.3 .8 44 1 0 -4.8 -4.7M483.9 508.6a3.4 1.5 40 1 0 5.1 4.4a3.4 1.5 40 1 0 -5.1 -4.4M421.8 502.5a4.4 1.3 59 1 0 4.4 7.5a4.4 1.3 59 1 0 -4.4 -7.5M464.4 459.3a2.1 1.6 44 1 0 3.1 2.9a2.1 1.6 44 1 0 -3.1 -2.9M502.2 485.1a2.7 1.8 67 1 0 2.1 5a2.7 1.8 67 1 0 -2.1 -5M438.4 450.8a3.9 .9 59 1 0 4 6.7a3.9 .9 59 1 0 -4 -6.7M502.4 427.6a3.3 1.5 52 1 0 4.1 5.2a3.3 1.5 52 1 0 -4.1 -5.2M461.2 466.9a3.2 1.5 50 1 0 4.1 4.8a3.2 1.5 50 1 0 -4.1 -4.8M484.4 466.8a4.1 1.2 59 1 0 4.2 7a4.1 1.2 59 1 0 -4.2 -7M397.6 437.9a3.3 1.4 38 1 0 5.2 4.1a3.3 1.4 38 1 0 -5.2 -4.1M493.9 477.3a3.6 1.3 58 1 0 3.8 6.1a3.6 1.3 58 1 0 -3.8 -6.1M400.9 484.6a2.6 1.7 34 1 0 4.2 2.9a2.6 1.7 34 1 0 -4.2 -2.9M433.9 423.1a3.6 1.6 52 1 0 4.4 5.7a3.6 1.6 52 1 0 -4.4 -5.7M403 486.5a3.7 1.6 69 1 0 2.6 6.9a3.7 1.6 69 1 0 -2.6 -6.9M377.1 497.8a3.6 1.7 43 1 0 5.3 5a3.6 1.7 43 1 0 -5.3 -5M447.2 505.8a3 1.5 63 1 0 2.7 5.3a3 1.5 63 1 0 -2.7 -5.3"/>
<path fill="#f0dc90" d="M407.8 494.8a3.7 1.6 20 1 0 6.8 2.6a3.7 1.6 20 1 0 -6.8 -2.6M431.3 422a2.6 1.5 56 1 0 2.9 4.4a2.6 1.5 56 1 0 -2.9 -4.4M375.6 425.5a3.4 1.4 23 1 0 6.2 2.7a3.4 1.4 23 1 0 -6.2 -2.7M497.3 471.6a3 1.8 52 1 0 3.7 4.8a3 1.8 52 1 0 -3.7 -4.8M499.7 409.5a3.7 1.7 55 1 0 4.3 6a3.7 1.7 55 1 0 -4.3 -6M398 489.1a3.1 .8 38 1 0 4.8 3.8a3.1 .8 38 1 0 -4.8 -3.8M482 433.6a3 1 58 1 0 3.1 5a3 1 58 1 0 -3.1 -5M475.9 503.5a2.9 1.8 38 1 0 4.6 3.6a2.9 1.8 38 1 0 -4.6 -3.6M456.9 487.8a3.3 1 57 1 0 3.6 5.5a3.3 1 57 1 0 -3.6 -5.5M382.5 479.5a2.2 1.8 38 1 0 3.5 2.7a2.2 1.8 38 1 0 -3.5 -2.7M419.7 503.9a3.9 1 35 1 0 6.3 4.4a3.9 1 35 1 0 -6.3 -4.4M384.1 451.3a4.4 1.6 44 1 0 6.3 6a4.4 1.6 44 1 0 -6.3 -6M502.6 504.6a4.4 1.7 36 1 0 7.1 5.2a4.4 1.7 36 1 0 -7.1 -5.2M373.4 479a3.2 1.2 52 1 0 4 5.1a3.2 1.2 52 1 0 -4 -5.1M442.1 417.4a3.5 1.5 27 1 0 6.3 3.2a3.5 1.5 27 1 0 -6.3 -3.2M398.2 479.4a2.4 1.6 69 1 0 1.7 4.5a2.4 1.6 69 1 0 -1.7 -4.5M458.8 494.1a2.7 .8 41 1 0 4 3.5a2.7 .8 41 1 0 -4 -3.5M394.9 423.7a2.7 1.5 52 1 0 3.3 4.2a2.7 1.5 52 1 0 -3.3 -4.2M504.4 424.5a4.1 1.6 58 1 0 4.3 7a4.1 1.6 58 1 0 -4.3 -7M424.9 483.6a2.9 1.8 61 1 0 2.8 5.1a2.9 1.8 61 1 0 -2.8 -5.1M442.9 417.2a4.5 1.1 23 1 0 8.3 3.6a4.5 1.1 23 1 0 -8.3 -3.6M385.3 465.3a4.3 1.2 34 1 0 7.1 4.8a4.3 1.2 34 1 0 -7.1 -4.8M422.7 415.7a3.4 1.7 42 1 0 5.1 4.6a3.4 1.7 42 1 0 -5.1 -4.6M421.6 503.7a4.1 1.6 37 1 0 6.5 5a4.1 1.6 37 1 0 -6.5 -5M468.3 481.3a2.5 1.2 64 1 0 2.2 4.5a2.5 1.2 64 1 0 -2.2 -4.5M402.1 469.8a2 1.7 41 1 0 3.1 2.7a2 1.7 41 1 0 -3.1 -2.7"/>
<path fill="#e8b080" d="M448.8 417.8a4.1 1 42 1 0 6.1 5.5a4.1 1 42 1 0 -6.1 -5.5M446.8 457.6a2.1 1.4 65 1 0 1.8 3.8a2.1 1.4 65 1 0 -1.8 -3.8M413.3 488a3.7 1.6 65 1 0 3.1 6.6a3.7 1.6 65 1 0 -3.1 -6.6M422 488.7a2.4 1.3 39 1 0 3.8 3a2.4 1.3 39 1 0 -3.8 -3M405.6 501a4.3 1.1 21 1 0 8 3a4.3 1.1 21 1 0 -8 -3M499.8 432.8a4.4 1.6 59 1 0 4.6 7.6a4.4 1.6 59 1 0 -4.6 -7.6M487.3 485.4a3.7 1.4 40 1 0 5.6 4.7a3.7 1.4 40 1 0 -5.6 -4.7M397.9 475.3a2.7 .9 33 1 0 4.5 2.9a2.7 .9 33 1 0 -4.5 -2.9M459.6 410.9a2.1 1.3 35 1 0 3.4 2.3a2.1 1.3 35 1 0 -3.4 -2.3M494.5 499.1a2.5 1.7 46 1 0 3.5 3.6a2.5 1.7 46 1 0 -3.5 -3.6M481 414.4a4 1.8 33 1 0 6.7 4.4a4 1.8 33 1 0 -6.7 -4.4M493.9 430.8a2.7 1.7 26 1 0 4.9 2.3a2.7 1.7 26 1 0 -4.9 -2.3M434.2 434.6a2.5 1.1 58 1 0 2.7 4.2a2.5 1.1 58 1 0 -2.7 -4.2M406.2 488a4 .9 29 1 0 7.1 4a4 .9 29 1 0 -7.1 -4M490.9 467a3.2 1.1 21 1 0 5.9 2.3a3.2 1.1 21 1 0 -5.9 -2.3M440.7 426.7a2.2 1.2 29 1 0 3.8 2.2a2.2 1.2 29 1 0 -3.8 -2.2M481.5 434.2a3.3 1.5 57 1 0 3.7 5.5a3.3 1.5 57 1 0 -3.7 -5.5M495.6 429.2a3.9 .8 23 1 0 7.1 3.1a3.9 .8 23 1 0 -7.1 -3.1M416.9 451.2a2.4 1.5 69 1 0 1.7 4.5a2.4 1.5 69 1 0 -1.7 -4.5M500.9 419.4a2.5 1.5 47 1 0 3.5 3.7a2.5 1.5 47 1 0 -3.5 -3.7M448 406.7a3.9 1 37 1 0 6.3 4.7a3.9 1 37 1 0 -6.3 -4.7"/>
<path fill="#f4e498" d="M469.3 481.9a2.2 .9 53 1 0 2.7 3.6a2.2 .9 53 1 0 -2.7 -3.6M490.8 424.7a3.5 1 31 1 0 6 3.7a3.5 1 31 1 0 -6 -3.7M489.4 494.1a3 1.5 27 1 0 5.4 2.8a3 1.5 27 1 0 -5.4 -2.8M381.3 408.3a4.5 1.5 64 1 0 4 8a4.5 1.5 64 1 0 -4 -8M495.6 445.2a2.5 1 58 1 0 2.7 4.3a2.5 1 58 1 0 -2.7 -4.3M483.8 424.3a4.2 1.7 69 1 0 3.1 7.9a4.2 1.7 69 1 0 -3.1 -7.9M465.9 463.7a3.9 1.3 67 1 0 3 7.1a3.9 1.3 67 1 0 -3 -7.1M387.7 446.9a4 1.8 48 1 0 5.4 5.9a4 1.8 48 1 0 -5.4 -5.9M423.7 496.8a4.3 1.6 60 1 0 4.4 7.4a4.3 1.6 60 1 0 -4.4 -7.4M394.6 507.3a4 .9 38 1 0 6.3 4.8a4 .9 38 1 0 -6.3 -4.8M432.7 462.6a2.9 1.6 31 1 0 4.9 2.9a2.9 1.6 31 1 0 -4.9 -2.9M454.3 422.6a2 1.2 48 1 0 2.8 3a2 1.2 48 1 0 -2.8 -3M398.2 407.9a3.8 1.3 21 1 0 7 2.7a3.8 1.3 21 1 0 -7 -2.7M497.5 452.7a2.2 1.2 42 1 0 3.2 2.9a2.2 1.2 42 1 0 -3.2 -2.9M395.9 446.7a2.7 1.3 67 1 0 2.1 5a2.7 1.3 67 1 0 -2.1 -5M456.4 448.5a3.4 1.2 48 1 0 4.5 5a3.4 1.2 48 1 0 -4.5 -5M418 424.6a4.1 1.7 47 1 0 5.7 6a4.1 1.7 47 1 0 -5.7 -6M424.8 429a2 .9 38 1 0 3.1 2.5a2 .9 38 1 0 -3.1 -2.5M465.9 450.1a2.6 1.2 41 1 0 3.8 3.4a2.6 1.2 41 1 0 -3.8 -3.4M452.7 466.1a3.8 1 57 1 0 4.1 6.3a3.8 1 57 1 0 -4.1 -6.3M394.8 458.4a2.2 1.2 43 1 0 3.2 3a2.2 1.2 43 1 0 -3.2 -3M373 449.3a2.4 1.4 25 1 0 4.5 2a2.4 1.4 25 1 0 -4.5 -2"/>
<path fill="#e8a078" d="M436 446.9a4.4 1.2 27 1 0 7.8 3.9a4.4 1.2 27 1 0 -7.8 -3.9M442.4 436a2.8 .9 21 1 0 5.2 2a2.8 .9 21 1 0 -5.2 -2M499.6 429.8a4 .9 57 1 0 4.4 6.6a4 .9 57 1 0 -4.4 -6.6M459.5 461.8a4.2 1.1 32 1 0 7.2 4.6a4.2 1.1 32 1 0 -7.2 -4.6M437.8 417.9a3.5 1.5 56 1 0 3.9 5.8a3.5 1.5 56 1 0 -3.9 -5.8M465.2 469.9a3.7 1 40 1 0 5.7 4.8a3.7 1 40 1 0 -5.7 -4.8M438.4 468.1a2.7 1 29 1 0 4.8 2.7a2.7 1 29 1 0 -4.8 -2.7M422.2 435.1a2 1.1 53 1 0 2.5 3.3a2 1.1 53 1 0 -2.5 -3.3M406.3 447.9a2.6 1.2 68 1 0 1.9 4.8a2.6 1.2 68 1 0 -1.9 -4.8M380.2 454.8a2.7 1 43 1 0 3.9 3.7a2.7 1 43 1 0 -3.9 -3.7M442.4 421.1a3.3 .8 26 1 0 5.9 2.8a3.3 .8 26 1 0 -5.9 -2.8M395.4 508.2a2.8 1.4 21 1 0 5.3 2a2.8 1.4 21 1 0 -5.3 -2M486.6 501.9a3.6 1.6 29 1 0 6.3 3.6a3.6 1.6 29 1 0 -6.3 -3.6M413.9 486.2a2.1 1.2 68 1 0 1.6 3.9a2.1 1.2 68 1 0 -1.6 -3.9M398.6 470.8a3.7 1.3 66 1 0 3 6.7a3.7 1.3 66 1 0 -3 -6.7M421.2 479.3a3.8 1.5 32 1 0 6.4 4a3.8 1.5 32 1 0 -6.4 -4M456.1 492a2.4 1.6 29 1 0 4.3 2.4a2.4 1.6 29 1 0 -4.3 -2.4M485.3 418.3a3.5 .9 31 1 0 6 3.6a3.5 .9 31 1 0 -6 -3.6M392.1 457.1a3.4 1.7 26 1 0 6.2 3a3.4 1.7 26 1 0 -6.2 -3M493.2 446.9a2.8 .9 62 1 0 2.7 5a2.8 .9 62 1 0 -2.7 -5"/>
<path d="M377.0,418.0 Q377.0,409.0 389.0,409.0 Q401.0,409.0 401.6,414.4 Q402.2,419.8 398.6,424.6 Q395.0,429.4 389.0,430.0 Q383.0,430.6 380.0,428.8 Q377.0,427.0 377.0,418.0 Z" fill="#a81838" opacity="1"/>
<path d="M408.3,413.7 Q408.3,410.1 419.7,410.1 Q431.1,410.1 430.5,414.3 Q429.9,418.5 422.1,420.3 Q414.3,422.1 411.3,419.7 Q408.3,417.3 408.3,413.7 Z" fill="#b02044" opacity="1"/>
<path d="M431.0,419.0 Q428.0,411.8 440.6,411.2 Q453.2,410.6 457.4,414.2 Q461.6,417.8 457.4,422.6 Q453.2,427.4 443.6,426.8 Q434.0,426.2 431.0,419.0 Z" fill="#9a1434" opacity="1"/>
<path d="M466.2,416.2 Q465.6,407.8 485.4,407.8 Q505.2,407.8 505.2,424.0 Q505.2,440.2 499.2,442.6 Q493.2,445.0 486.0,441.4 Q478.8,437.8 472.8,431.2 Q466.8,424.6 466.2,416.2 Z" fill="#b8284c" opacity="1"/>
<path d="M399.2,431.5 Q398.0,424.9 406.4,423.7 Q414.8,422.5 419.0,427.3 Q423.2,432.1 419.0,436.3 Q414.8,440.5 407.6,439.3 Q400.4,438.1 399.2,431.5 Z" fill="#a01c40" opacity="1"/>
<path d="M421.9,431.3 Q421.9,426.5 431.5,425.9 Q441.1,425.3 445.9,430.1 Q450.7,434.9 447.1,440.3 Q443.5,445.7 435.1,445.1 Q426.7,444.5 424.3,440.3 Q421.9,436.1 421.9,431.3 Z" fill="#a81838" opacity="1"/>
<path d="M390.1,445.5 Q388.9,438.9 397.3,438.3 Q405.7,437.7 409.9,441.9 Q414.1,446.1 410.5,449.7 Q406.9,453.3 399.1,452.7 Q391.3,452.1 390.1,445.5 Z" fill="#b02044" opacity="1"/>
<path d="M410.5,452.0 Q409.9,444.8 419.5,443.6 Q429.1,442.4 432.7,447.2 Q436.3,452.0 430.9,457.4 Q425.5,462.8 418.3,461.0 Q411.1,459.2 410.5,452.0 Z" fill="#9a1434" opacity="1"/>
<path d="M430.6,457.5 Q430.6,449.1 443.8,446.1 Q457.0,443.1 464.8,445.5 Q472.6,447.9 472.0,455.1 Q471.4,462.3 463.6,469.5 Q455.8,476.7 446.8,477.3 Q437.8,477.9 434.2,471.9 Q430.6,465.9 430.6,457.5 Z" fill="#b8284c" opacity="1"/>
<path d="M462.7,434.0 Q462.7,425.6 469.9,426.8 Q477.1,428.0 478.3,438.8 Q479.5,449.6 474.7,452.0 Q469.9,454.4 466.3,448.4 Q462.7,442.4 462.7,434.0 Z" fill="#a01c40" opacity="1"/>
<path d="M377.5,468.0 Q377.5,452.4 384.1,453.0 Q390.7,453.6 393.1,460.8 Q395.5,468.0 393.1,475.2 Q390.7,482.4 384.1,483.0 Q377.5,483.6 377.5,468.0 Z" fill="#a81838" opacity="1"/>
<path d="M392.0,475.6 Q391.4,463.6 401.0,462.4 Q410.6,461.2 416.6,466.6 Q422.6,472.0 421.4,480.4 Q420.2,488.8 412.4,491.8 Q404.6,494.8 398.6,491.2 Q392.6,487.6 392.0,475.6 Z" fill="#b02044" opacity="1"/>
<path d="M424.1,489.0 Q423.5,479.4 435.5,477.6 Q447.5,475.8 455.3,478.8 Q463.1,481.8 463.1,488.4 Q463.1,495.0 454.1,498.6 Q445.1,502.2 434.9,500.4 Q424.7,498.6 424.1,489.0 Z" fill="#9a1434" opacity="1"/>
<path d="M479.3,467.2 Q478.7,455.2 488.3,453.4 Q497.9,451.6 500.9,455.8 Q503.9,460.0 503.9,475.6 Q503.9,491.2 496.7,492.4 Q489.5,493.6 484.7,486.4 Q479.9,479.2 479.3,467.2 Z" fill="#b8284c" opacity="1"/>
<path d="M465.5,492.9 Q464.9,485.7 474.5,485.1 Q484.1,484.5 488.3,489.3 Q492.5,494.1 486.5,498.3 Q480.5,502.5 473.3,501.3 Q466.1,500.1 465.5,492.9 Z" fill="#a01c40" opacity="1"/>
<path d="M382.6,496.4 Q382.0,488.6 391.6,488.0 Q401.2,487.4 404.2,492.2 Q407.2,497.0 402.4,501.8 Q397.6,506.6 390.4,505.4 Q383.2,504.2 382.6,496.4 Z" fill="#a81838" opacity="1"/>
<path d="M449.7,480.5 Q448.5,473.9 456.9,473.9 Q465.3,473.9 465.3,480.5 Q465.3,487.1 458.1,487.1 Q450.9,487.1 449.7,480.5 Z" fill="#b02044" opacity="1"/>
<path d="M482.2,503.1 Q481.0,497.1 492.4,495.9 Q503.8,494.7 503.8,501.9 Q503.8,509.1 493.6,509.1 Q483.4,509.1 482.2,503.1 Z" fill="#9a1434" opacity="1"/>
<path fill="#903068" d="M389.4 424.8a1.4 1.2 30 1 0 2.4 1.4a1.4 1.2 30 1 0 -2.4 -1.4M392.9 422.6a1.7 1.3 102 1 0 -.7 3.3a1.7 1.3 102 1 0 .7 -3.3M384 414.5a1.4 .9 110 1 0 -1 2.7a1.4 .9 110 1 0 1 -2.7M416.6 412.9a1.9 1.3 112 1 0 -1.5 3.6a1.9 1.3 112 1 0 1.5 -3.6M440.1 415.4a1.4 .9 21 1 0 2.6 1a1.4 .9 21 1 0 -2.6 -1M435.1 419.7a1.5 1.2 68 1 0 1.1 2.7a1.5 1.2 68 1 0 -1.1 -2.7M448 423.5a2 1.9 154 1 0 -3.5 1.7a2 1.9 154 1 0 3.5 -1.7M441.8 422.7a1.5 1.4 148 1 0 -2.5 1.5a1.5 1.4 148 1 0 2.5 -1.5M445 411.7a1.4 1.1 71 1 0 .9 2.7a1.4 1.1 71 1 0 -.9 -2.7M479.3 418.2a2.3 1.7 20 1 0 4.4 1.5a2.3 1.7 20 1 0 -4.4 -1.5M475 423.8a1.5 1 95 1 0 -.2 3.1a1.5 1 95 1 0 .2 -3.1M494.7 427.5a1.4 1.1 67 1 0 1.1 2.7a1.4 1.1 67 1 0 -1.1 -2.7M494.7 430.7a1.7 1.3 82 1 0 .5 3.5a1.7 1.3 82 1 0 -.5 -3.5M489.5 427.6a1.9 1.1 80 1 0 .6 3.6a1.9 1.1 80 1 0 -.6 -3.6M480.1 421a2.2 1.9 132 1 0 -2.9 3.2a2.2 1.9 132 1 0 2.9 -3.2M492.4 423.3a2 1.4 173 1 0 -4 .5a2 1.4 173 1 0 4 -.5M487.8 418.9a2.2 1.6 104 1 0 -1.1 4.2a2.2 1.6 104 1 0 1.1 -4.2M473.8 423.6a2.1 1.4 25 1 0 3.8 1.8a2.1 1.4 25 1 0 -3.8 -1.8M415.2 426.2a2.1 1.8 55 1 0 2.3 3.4a2.1 1.8 55 1 0 -2.3 -3.4M402.5 427.6a1.4 1.1 83 1 0 .3 2.8a1.4 1.1 83 1 0 -.3 -2.8M415.9 427a1.9 1.7 65 1 0 1.6 3.4a1.9 1.7 65 1 0 -1.6 -3.4M442.5 429.4a1.7 1.5 78 1 0 .7 3.3a1.7 1.5 78 1 0 -.7 -3.3M447.1 435.5a1.5 1.1 146 1 0 -2.5 1.7a1.5 1.1 146 1 0 2.5 -1.7M440.4 440.6a1.3 .9 127 1 0 -1.6 2.1a1.3 .9 127 1 0 1.6 -2.1M406.9 444.4a2.2 1.6 81 1 0 .7 4.3a2.2 1.6 81 1 0 -.7 -4.3M423.8 456.8a1.3 1.1 11 1 0 2.6 .5a1.3 1.1 11 1 0 -2.6 -.5M424.1 457.6a1.5 1 87 1 0 .1 2.9a1.5 1 87 1 0 -.1 -2.9M441.1 465.5a1.5 1.4 131 1 0 -2 2.3a1.5 1.4 131 1 0 2 -2.3M444.5 465.1a1.4 1.2 28 1 0 2.4 1.3a1.4 1.2 28 1 0 -2.4 -1.3M451.4 468.4a1.6 1.4 128 1 0 -2 2.6a1.6 1.4 128 1 0 2 -2.6M458.5 463.8a1.6 1.1 45 1 0 2.3 2.3a1.6 1.1 45 1 0 -2.3 -2.3M450.2 459.5a2.2 1.6 104 1 0 -1 4.2a2.2 1.6 104 1 0 1 -4.2M449.5 454.9a1.8 1.4 64 1 0 1.6 3.2a1.8 1.4 64 1 0 -1.6 -3.2M455.8 459.2a2.2 2.1 144 1 0 -3.5 2.6a2.2 2.1 144 1 0 3.5 -2.6M443.8 459.4a2 1.4 18 1 0 3.9 1.3a2 1.4 18 1 0 -3.9 -1.3M454 450.2a2.3 2.1 158 1 0 -4.3 1.7a2.3 2.1 158 1 0 4.3 -1.7M453.5 463.6a2.1 1.5 89 1 0 0 4.2a2.1 1.5 89 1 0 -0 -4.2M453.5 458.6a1.4 .9 19 1 0 2.6 .9a1.4 .9 19 1 0 -2.6 -.9M468.4 439.5a2.4 2.1 30 1 0 4.2 2.4a2.4 2.1 30 1 0 -4.2 -2.4M469.8 443.8a1.3 .9 4 1 0 2.7 .2a1.3 .9 4 1 0 -2.7 -.2M465.9 431.4a2.1 1.6 15 1 0 4.1 1.1a2.1 1.6 15 1 0 -4.1 -1.1M475.3 441.7a2 1.8 153 1 0 -3.5 1.8a2 1.8 153 1 0 3.5 -1.8M476.3 438.5a1.9 1.6 118 1 0 -1.8 3.3a1.9 1.6 118 1 0 1.8 -3.3M469 432.2a1.9 1.2 85 1 0 .4 3.7a1.9 1.2 85 1 0 -.4 -3.7M386.5 460.3a1.6 1.2 127 1 0 -2 2.6a1.6 1.2 127 1 0 2 -2.6M385.4 456.8a1.7 1 53 1 0 2.1 2.7a1.7 1 53 1 0 -2.1 -2.7M389.9 459.5a2.3 1.5 178 1 0 -4.6 .1a2.3 1.5 178 1 0 4.6 -.1M382.9 468.3a1.4 1 45 1 0 2 2a1.4 1 45 1 0 -2 -2M402.7 479.2a1.7 1.3 27 1 0 2.9 1.5a1.7 1.3 27 1 0 -2.9 -1.5M400.7 473.8a1.5 1.3 70 1 0 1 2.9a1.5 1.3 70 1 0 -1 -2.9M401.2 470.6a2 1.4 47 1 0 2.8 3a2 1.4 47 1 0 -2.8 -3M400.5 480.4a2.4 1.5 99 1 0 -.7 4.7a2.4 1.5 99 1 0 .7 -4.7M402.9 476.2a1.4 1.1 158 1 0 -2.5 1a1.4 1.1 158 1 0 2.5 -1M430 483.6a2.3 1.9 57 1 0 2.5 3.9a2.3 1.9 57 1 0 -2.5 -3.9M447.7 486.8a2.3 1.9 100 1 0 -.8 4.5a2.3 1.9 100 1 0 .8 -4.5M437.3 483.5a1.8 1.4 163 1 0 -3.4 1a1.8 1.4 163 1 0 3.4 -1M494 481.1a1.8 1.5 67 1 0 1.4 3.4a1.8 1.5 67 1 0 -1.4 -3.4M486.5 472.4a1.6 1.4 126 1 0 -1.9 2.7a1.6 1.4 126 1 0 1.9 -2.7M488 466.3a2.2 2.1 158 1 0 -4.1 1.6a2.2 2.1 158 1 0 4.1 -1.6M486.5 473.5a1.6 1 16 1 0 3 .9a1.6 1 16 1 0 -3 -.9M491.8 475.1a1.5 1 175 1 0 -3 .3a1.5 1 175 1 0 3 -.3M498.7 468a1.5 1.3 47 1 0 2.1 2.2a1.5 1.3 47 1 0 -2.1 -2.2M494.4 467.4a1.9 1.5 31 1 0 3.3 2a1.9 1.5 31 1 0 -3.3 -2M495.4 480.7a2.3 2.2 118 1 0 -2.1 4a2.3 2.2 118 1 0 2.1 -4M498.1 476.6a2.1 1.3 91 1 0 -.1 4.2a2.1 1.3 91 1 0 .1 -4.2M483.4 491.6a2 1.6 33 1 0 3.3 2.2a2 1.6 33 1 0 -3.3 -2.2M476 494.4a1.8 1.7 21 1 0 3.3 1.3a1.8 1.7 21 1 0 -3.3 -1.3M482.1 491.7a2.2 1.6 126 1 0 -2.6 3.5a2.2 1.6 126 1 0 2.6 -3.5M477.7 494.9a1.4 1.2 172 1 0 -2.7 .4a1.4 1.2 172 1 0 2.7 -.4M485.4 494.6a1.6 1.4 165 1 0 -3 .8a1.6 1.4 165 1 0 3 -.8M489.2 496.8a1.9 1.3 140 1 0 -2.9 2.5a1.9 1.3 140 1 0 2.9 -2.5M493.9 500.2a1.5 1.3 7 1 0 3 .4a1.5 1.3 7 1 0 -3 -.4M499.1 499.8a1.8 1.3 49 1 0 2.3 2.6a1.8 1.3 49 1 0 -2.3 -2.6"/>
<path fill="#b82850" d="M390.3 424.5a1.7 1.5 86 1 0 .2 3.4a1.7 1.5 86 1 0 -.2 -3.4M391.5 418.2a1.4 1.4 20 1 0 2.7 1a1.4 1.4 20 1 0 -2.7 -1M398.9 420.4a1.4 1.4 177 1 0 -2.8 .2a1.4 1.4 177 1 0 2.8 -.2M388.3 416.1a2.2 2.1 98 1 0 -.6 4.3a2.2 2.1 98 1 0 .6 -4.3M418.7 411.5a2.1 1.9 48 1 0 2.8 3.2a2.1 1.9 48 1 0 -2.8 -3.2M437.2 418.3a1.7 1.3 22 1 0 3.1 1.2a1.7 1.3 22 1 0 -3.1 -1.2M492.3 418.2a1.5 1.3 66 1 0 1.2 2.7a1.5 1.3 66 1 0 -1.2 -2.7M488.4 423.4a1.8 1.6 90 1 0 0 3.7a1.8 1.6 90 1 0 -0 -3.7M490.7 416.5a2.2 1.6 124 1 0 -2.5 3.7a2.2 1.6 124 1 0 2.5 -3.7M473.3 422.5a2.2 1.9 86 1 0 .3 4.5a2.2 1.9 86 1 0 -.3 -4.5M494.4 417.5a1.8 1.4 63 1 0 1.6 3.2a1.8 1.4 63 1 0 -1.6 -3.2M475.4 418.7a1.5 1.2 85 1 0 .3 2.9a1.5 1.2 85 1 0 -.3 -2.9M408.8 434a2.2 1.8 164 1 0 -4.2 1.2a2.2 1.8 164 1 0 4.2 -1.2M409.9 426.2a1.6 1.3 27 1 0 2.8 1.4a1.6 1.3 27 1 0 -2.8 -1.4M437.3 432.3a1.8 1.1 169 1 0 -3.5 .7a1.8 1.1 169 1 0 3.5 -.7M441.9 431.5a1.8 1.3 98 1 0 -.5 3.5a1.8 1.3 98 1 0 .5 -3.5M443.9 437.2a2 1.4 166 1 0 -3.9 1a2 1.4 166 1 0 3.9 -1M409.2 444.1a1.3 1.2 93 1 0 -.1 2.7a1.3 1.2 93 1 0 .1 -2.7M427.1 447.5a1.8 1.5 114 1 0 -1.4 3.2a1.8 1.5 114 1 0 1.4 -3.2M423.6 454.5a1.6 1.3 52 1 0 2 2.5a1.6 1.3 52 1 0 -2 -2.5M431.4 451.1a2 1.2 160 1 0 -3.8 1.4a2 1.2 160 1 0 3.8 -1.4M422.5 455.6a2.3 2.1 104 1 0 -1.1 4.5a2.3 2.1 104 1 0 1.1 -4.5M436.7 455.5a1.5 1.3 43 1 0 2.2 2.1a1.5 1.3 43 1 0 -2.2 -2.1M451.1 448.4a1.9 1.6 140 1 0 -2.8 2.4a1.9 1.6 140 1 0 2.8 -2.4M444.4 452.2a1.8 1.4 65 1 0 1.5 3.2a1.8 1.4 65 1 0 -1.5 -3.2M461.1 461.9a1.8 1.1 95 1 0 -.3 3.5a1.8 1.1 95 1 0 .3 -3.5M462.2 459.2a2 1.5 73 1 0 1.2 3.8a2 1.5 73 1 0 -1.2 -3.8M457.6 450.7a1.7 1.6 49 1 0 2.3 2.6a1.7 1.6 49 1 0 -2.3 -2.6M460.8 463.4a2.3 1.5 126 1 0 -2.7 3.7a2.3 1.5 126 1 0 2.7 -3.7M455.8 458.2a1.9 1.6 45 1 0 2.6 2.7a1.9 1.6 45 1 0 -2.6 -2.7M441.9 456a2.1 1.5 61 1 0 2 3.6a2.1 1.5 61 1 0 -2 -3.6M457.5 470.2a1.8 1.4 111 1 0 -1.3 3.4a1.8 1.4 111 1 0 1.3 -3.4M467.8 442.9a1.3 1.1 169 1 0 -2.6 .5a1.3 1.1 169 1 0 2.6 -.5M467.5 444.7a2.4 1.5 53 1 0 2.9 3.8a2.4 1.5 53 1 0 -2.9 -3.8M471.1 447.3a1.4 1.4 108 1 0 -.9 2.6a1.4 1.4 108 1 0 .9 -2.6M381.9 462a2.2 1.6 118 1 0 -2.1 3.9a2.2 1.6 118 1 0 2.1 -3.9M393.7 466.7a1.5 1.3 177 1 0 -3.1 .2a1.5 1.3 177 1 0 3.1 -.2M387.6 456.5a2 1.5 55 1 0 2.3 3.3a2 1.5 55 1 0 -2.3 -3.3M401.3 477.3a1.7 1.6 35 1 0 2.7 1.9a1.7 1.6 35 1 0 -2.7 -1.9M399.9 481.8a1.3 1.3 67 1 0 1 2.5a1.3 1.3 67 1 0 -1 -2.5M415.2 482.5a1.7 1.6 0 1 0 -3.5 0a1.7 1.6 0 1 0 3.5 -0M414.1 473a2.2 2.1 101 1 0 -.8 4.3a2.2 2.1 101 1 0 .8 -4.3M407.6 479a1.4 1 13 1 0 2.8 .6a1.4 1 13 1 0 -2.8 -.6M407.1 483.5a1.7 1.4 26 1 0 3 1.4a1.7 1.4 26 1 0 -3 -1.4M408.6 480a2.3 2.3 178 1 0 -4.7 .2a2.3 2.3 178 1 0 4.7 -.2M408.4 471a1.7 1.2 137 1 0 -2.5 2.3a1.7 1.2 137 1 0 2.5 -2.3M438.2 482.7a1.5 1.1 116 1 0 -1.3 2.8a1.5 1.1 116 1 0 1.3 -2.8M438.9 487.6a1.8 1.2 87 1 0 .2 3.7a1.8 1.2 87 1 0 -.2 -3.7M438.4 484.8a1.5 1.3 46 1 0 2.1 2.2a1.5 1.3 46 1 0 -2.1 -2.2M439.1 485a1.6 1.4 0 1 0 -3.3 0a1.6 1.4 0 1 0 3.3 -0M455.1 495.4a2 1.5 172 1 0 -3.9 .5a2 1.5 172 1 0 3.9 -.5M443.5 490.6a1.3 1.1 156 1 0 -2.4 1.1a1.3 1.1 156 1 0 2.4 -1.1M450.6 493.6a1.4 1.1 131 1 0 -1.9 2.2a1.4 1.1 131 1 0 1.9 -2.2M493.8 459.6a1.3 1.1 124 1 0 -1.5 2.2a1.3 1.1 124 1 0 1.5 -2.2M493 465.2a2.1 1.8 133 1 0 -2.9 3.1a2.1 1.8 133 1 0 2.9 -3.1M483.9 481.8a1.7 1.4 12 1 0 3.2 .7a1.7 1.4 12 1 0 -3.2 -.7M492.3 482.1a1.3 .9 31 1 0 2.2 1.4a1.3 .9 31 1 0 -2.2 -1.4M491.8 482.1a1.9 1.3 139 1 0 -2.9 2.6a1.9 1.3 139 1 0 2.9 -2.6M494.9 466.5a2.2 1.5 33 1 0 3.7 2.4a2.2 1.5 33 1 0 -3.7 -2.4M489.3 481.4a2.3 2.3 113 1 0 -1.8 4.3a2.3 2.3 113 1 0 1.8 -4.3M475.7 494.4a1.9 1.2 67 1 0 1.5 3.5a1.9 1.2 67 1 0 -1.5 -3.5M472 489.4a2 1.8 43 1 0 3 2.8a2 1.8 43 1 0 -3 -2.8M396 495.7a2.3 2 149 1 0 -4 2.4a2.3 2 149 1 0 4 -2.4M390.9 499.9a1.5 1.2 164 1 0 -2.9 .8a1.5 1.2 164 1 0 2.9 -.8M391.1 491.6a2 1.3 159 1 0 -3.7 1.4a2 1.3 159 1 0 3.7 -1.4M386.5 493.7a1.6 1.2 106 1 0 -.8 3a1.6 1.2 106 1 0 .8 -3M461.4 476.5a1.7 1.3 66 1 0 1.4 3.2a1.7 1.3 66 1 0 -1.4 -3.2M457.6 476a1.5 1.2 28 1 0 2.7 1.5a1.5 1.2 28 1 0 -2.7 -1.5M495.9 503a1.6 1.2 71 1 0 1 3.1a1.6 1.2 71 1 0 -1 -3.1M495.7 498.8a2.2 1.7 69 1 0 1.5 4a2.2 1.7 69 1 0 -1.5 -4"/>
<path fill="#8a2c60" d="M390.7 416.8a2 1.4 138 1 0 -3 2.7a2 1.4 138 1 0 3 -2.7M382.9 419.3a1.8 1.5 143 1 0 -2.9 2.2a1.8 1.5 143 1 0 2.9 -2.2M385.1 420.2a1.8 1.8 140 1 0 -2.8 2.3a1.8 1.8 140 1 0 2.8 -2.3M391.6 413.9a1.3 .9 70 1 0 .9 2.5a1.3 .9 70 1 0 -.9 -2.5M387.8 424.3a2.1 1.5 8 1 0 4.2 .6a2.1 1.5 8 1 0 -4.2 -.6M490.9 433.8a2.2 1.7 179 1 0 -4.3 .1a2.2 1.7 179 1 0 4.3 -.1M486.9 438.7a1.3 1.2 143 1 0 -2.1 1.6a1.3 1.2 143 1 0 2.1 -1.6M476.8 427.6a1.4 1.3 121 1 0 -1.5 2.5a1.4 1.3 121 1 0 1.5 -2.5M478.8 416.2a1.6 1.4 118 1 0 -1.5 2.9a1.6 1.4 118 1 0 1.5 -2.9M486.3 423.9a1.3 .9 165 1 0 -2.5 .7a1.3 .9 165 1 0 2.5 -.7M482.7 434.3a1.5 1.1 160 1 0 -2.9 1.1a1.5 1.1 160 1 0 2.9 -1.1M409.1 434.9a2.2 1.5 115 1 0 -1.9 4a2.2 1.5 115 1 0 1.9 -4M405 434a1.5 1.4 58 1 0 1.6 2.5a1.5 1.4 58 1 0 -1.6 -2.5M440.5 436.3a1.8 1.2 177 1 0 -3.7 .2a1.8 1.2 177 1 0 3.7 -.2M432.1 436.9a1.5 1.3 10 1 0 2.9 .5a1.5 1.3 10 1 0 -2.9 -.5M437.8 428.6a2.1 1.7 135 1 0 -2.9 2.9a2.1 1.7 135 1 0 2.9 -2.9M438.4 439.8a2.2 1.4 134 1 0 -3 3.1a2.2 1.4 134 1 0 3 -3.1M406.7 440.9a1.3 1.3 163 1 0 -2.5 .8a1.3 1.3 163 1 0 2.5 -.8M400.8 447.5a2.1 2.1 10 1 0 4.2 .7a2.1 2.1 10 1 0 -4.2 -.7M421.7 445.9a2.1 1.8 23 1 0 3.9 1.7a2.1 1.8 23 1 0 -3.9 -1.7M420.5 449.7a1.4 1.1 43 1 0 2 1.9a1.4 1.1 43 1 0 -2 -1.9M424.2 449.9a2.2 2.1 11 1 0 4.3 .9a2.2 2.1 11 1 0 -4.3 -.9M414.5 457.3a2.3 1.7 9 1 0 4.6 .8a2.3 1.7 9 1 0 -4.6 -.8M420.9 448.5a2.1 2 136 1 0 -3 2.9a2.1 2 136 1 0 3 -2.9M440 466.7a2.3 1.9 72 1 0 1.4 4.3a2.3 1.9 72 1 0 -1.4 -4.3M446.7 469a1.8 1.3 143 1 0 -2.9 2.2a1.8 1.3 143 1 0 2.9 -2.2M448 452.2a1.4 1 162 1 0 -2.7 .9a1.4 1 162 1 0 2.7 -.9M451.6 456.2a2 1.6 84 1 0 .5 4.1a2 1.6 84 1 0 -.5 -4.1M459.2 457.6a1.7 1.5 114 1 0 -1.4 3.1a1.7 1.5 114 1 0 1.4 -3.1M441.9 451.6a2.4 2.1 98 1 0 -.7 4.7a2.4 2.1 98 1 0 .7 -4.7M474.9 434a1.5 1.2 56 1 0 1.6 2.4a1.5 1.2 56 1 0 -1.6 -2.4M385.1 462.2a1.5 1.4 50 1 0 1.9 2.2a1.5 1.4 50 1 0 -1.9 -2.2M385.4 459.7a2.3 2 84 1 0 .5 4.6a2.3 2 84 1 0 -.5 -4.6M415.8 480a1.7 1.1 127 1 0 -2 2.7a1.7 1.1 127 1 0 2 -2.7M433 485.7a2.1 1.9 3 1 0 4.3 .2a2.1 1.9 3 1 0 -4.3 -.2M456 483.1a1.9 1.3 145 1 0 -3.1 2.1a1.9 1.3 145 1 0 3.1 -2.1M438.3 493.7a2 1.6 144 1 0 -3.3 2.4a2 1.6 144 1 0 3.3 -2.4M449.5 478.9a2.2 2 98 1 0 -.6 4.4a2.2 2 98 1 0 .6 -4.4M446.4 489a1.5 1.3 114 1 0 -1.2 2.7a1.5 1.3 114 1 0 1.2 -2.7M445.4 484.6a1.8 1.4 150 1 0 -3 1.8a1.8 1.4 150 1 0 3 -1.8M443.7 479.3a2.4 1.9 77 1 0 1.1 4.6a2.4 1.9 77 1 0 -1.1 -4.6M438.3 489.2a1.7 1.3 66 1 0 1.4 3.1a1.7 1.3 66 1 0 -1.4 -3.1M437.4 490.5a1.6 1.5 46 1 0 2.3 2.3a1.6 1.5 46 1 0 -2.3 -2.3M488.9 457.9a1.6 1.3 21 1 0 2.9 1.1a1.6 1.3 21 1 0 -2.9 -1.1M490.7 458.1a1.6 1.2 27 1 0 2.9 1.5a1.6 1.2 27 1 0 -2.9 -1.5M489.4 484.8a2.4 2.2 166 1 0 -4.6 1.1a2.4 2.2 166 1 0 4.6 -1.1M497.3 464a1.6 1.2 128 1 0 -1.9 2.5a1.6 1.2 128 1 0 1.9 -2.5M487.6 478.3a1.9 1.1 70 1 0 1.3 3.5a1.9 1.1 70 1 0 -1.3 -3.5M482.1 489.2a2 2 2 1 0 4.1 .2a2 2 2 1 0 -4.1 -.2M480.3 495.8a2 1.2 156 1 0 -3.6 1.6a2 1.2 156 1 0 3.6 -1.6M473.4 497.1a2 1.7 7 1 0 3.9 .4a2 1.7 7 1 0 -3.9 -.4M391.1 499.9a2.2 2 70 1 0 1.5 4.2a2.2 2 70 1 0 -1.5 -4.2M393.1 490.3a1.9 1.6 50 1 0 2.4 2.9a1.9 1.6 50 1 0 -2.4 -2.9M400.1 501.8a1.5 .9 163 1 0 -2.8 .9a1.5 .9 163 1 0 2.8 -.9M462.4 477.3a2.2 2 88 1 0 .2 4.5a2.2 2 88 1 0 -.2 -4.5M458.4 479a2.4 1.7 85 1 0 .4 4.8a2.4 1.7 85 1 0 -.4 -4.8M486.9 499.1a2.1 1.3 20 1 0 4 1.5a2.1 1.3 20 1 0 -4 -1.5"/>
<path fill="#7a2058" d="M386.9 417.2a1.8 1.6 143 1 0 -2.9 2.2a1.8 1.6 143 1 0 2.9 -2.2M386.7 415.7a1.7 1.1 73 1 0 1 3.3a1.7 1.1 73 1 0 -1 -3.3M386.5 413.6a2 1.3 64 1 0 1.8 3.7a2 1.3 64 1 0 -1.8 -3.7M389.4 425.4a2 1.5 54 1 0 2.4 3.2a2 1.5 54 1 0 -2.4 -3.2M395 414.6a2 1.6 0 1 0 -3.9 0a2 1.6 0 1 0 3.9 -0M393.8 416.9a2.1 1.4 89 1 0 .1 4.1a2.1 1.4 89 1 0 -.1 -4.1M417.7 418a1.3 1.3 178 1 0 -2.7 .1a1.3 1.3 178 1 0 2.7 -.1M421.3 412.3a1.5 1.1 56 1 0 1.7 2.5a1.5 1.1 56 1 0 -1.7 -2.5M413.9 412.2a2.3 1.8 54 1 0 2.8 3.8a2.3 1.8 54 1 0 -2.8 -3.8M412.4 412.8a1.8 1.2 45 1 0 2.6 2.6a1.8 1.2 45 1 0 -2.6 -2.6M442.4 422.8a2.4 1.5 131 1 0 -3.1 3.6a2.4 1.5 131 1 0 3.1 -3.6M457.5 416.6a1.8 1.2 133 1 0 -2.5 2.6a1.8 1.2 133 1 0 2.5 -2.6M454.3 418a1.8 1.8 133 1 0 -2.5 2.6a1.8 1.8 133 1 0 2.5 -2.6M487.2 430.2a1.3 1.3 36 1 0 2.2 1.6a1.3 1.3 36 1 0 -2.2 -1.6M483.1 431.7a1.5 1.4 128 1 0 -1.8 2.3a1.5 1.4 128 1 0 1.8 -2.3M478.7 430.7a2.3 1.4 66 1 0 1.9 4.2a2.3 1.4 66 1 0 -1.9 -4.2M474.8 420.3a1.6 1.5 16 1 0 3 .8a1.6 1.5 16 1 0 -3 -.8M483.6 412.4a1.6 1 56 1 0 1.8 2.7a1.6 1 56 1 0 -1.8 -2.7M417.5 431.8a2.2 2 53 1 0 2.7 3.6a2.2 2 53 1 0 -2.7 -3.6M435.9 442.4a2.3 2.1 1 1 0 4.6 0a2.3 2.1 1 1 0 -4.6 -0M432.2 433.5a2.1 1.3 158 1 0 -4 1.6a2.1 1.3 158 1 0 4 -1.6M430.9 433a1.8 1.2 86 1 0 .3 3.5a1.8 1.2 86 1 0 -.3 -3.5M396.7 441.5a2 1.8 130 1 0 -2.5 3a2 1.8 130 1 0 2.5 -3M400 449.7a2.4 1.6 5 1 0 4.8 .4a2.4 1.6 5 1 0 -4.8 -.4M409.1 444.4a2.1 2 173 1 0 -4.2 .5a2.1 2 173 1 0 4.2 -.5M405.9 445.1a2.2 1.7 25 1 0 4 1.9a2.2 1.7 25 1 0 -4 -1.9M398.1 442.5a2.2 1.6 91 1 0 -.1 4.3a2.2 1.6 91 1 0 .1 -4.3M421.8 447.8a1.9 1.2 149 1 0 -3.2 2a1.9 1.2 149 1 0 3.2 -2M417.4 449.9a2.3 1.6 95 1 0 -.4 4.5a2.3 1.6 95 1 0 .4 -4.5M422.8 452.8a1.6 1.5 154 1 0 -2.9 1.4a1.6 1.5 154 1 0 2.9 -1.4M440.8 462a1.7 1.2 104 1 0 -.8 3.4a1.7 1.2 104 1 0 .8 -3.4M439 462.6a2 1.2 65 1 0 1.7 3.7a2 1.2 65 1 0 -1.7 -3.7M449.9 467.7a1.3 1.2 101 1 0 -.5 2.6a1.3 1.2 101 1 0 .5 -2.6M443 455.8a1.7 1.7 86 1 0 .2 3.5a1.7 1.7 86 1 0 -.2 -3.5M453.1 460.1a1.9 1.4 77 1 0 .8 3.8a1.9 1.4 77 1 0 -.8 -3.8M458.1 467.1a1.7 1.3 154 1 0 -3.1 1.5a1.7 1.3 154 1 0 3.1 -1.5M443.2 461.7a1.9 1.4 164 1 0 -3.6 1.1a1.9 1.4 164 1 0 3.6 -1.1M443.1 467.6a1.8 1.6 36 1 0 2.9 2.1a1.8 1.6 36 1 0 -2.9 -2.1M447.8 452.1a1.9 1.2 23 1 0 3.5 1.5a1.9 1.2 23 1 0 -3.5 -1.5M475.8 438a1.8 1.5 175 1 0 -3.6 .3a1.8 1.5 175 1 0 3.6 -.3M470.5 429.2a1.4 1 98 1 0 -.4 2.7a1.4 1 98 1 0 .4 -2.7M475.4 440.8a1.8 1.4 166 1 0 -3.6 .9a1.8 1.4 166 1 0 3.6 -.9M389.2 471.2a1.8 1.1 179 1 0 -3.6 .1a1.8 1.1 179 1 0 3.6 -.1M382 461.3a2.1 1.6 118 1 0 -2 3.7a2.1 1.6 118 1 0 2 -3.7M396 476.8a1.6 1.2 55 1 0 1.8 2.7a1.6 1.2 55 1 0 -1.8 -2.7M399.9 478.4a2.3 1.7 160 1 0 -4.3 1.5a2.3 1.7 160 1 0 4.3 -1.5M411.3 480.4a2.4 1.5 152 1 0 -4.2 2.2a2.4 1.5 152 1 0 4.2 -2.2M446.4 479.8a1.8 1.5 128 1 0 -2.2 2.9a1.8 1.5 128 1 0 2.2 -2.9M448.5 490a1.7 1.6 85 1 0 .3 3.5a1.7 1.6 85 1 0 -.3 -3.5M453.6 494.2a1.4 1 172 1 0 -2.9 .4a1.4 1 172 1 0 2.9 -.4M437.1 489.3a2.2 1.6 98 1 0 -.6 4.4a2.2 1.6 98 1 0 .6 -4.4M456 484.3a2.3 1.7 86 1 0 .3 4.5a2.3 1.7 86 1 0 -.3 -4.5M493.6 470.6a1.6 1.5 111 1 0 -1.1 2.9a1.6 1.5 111 1 0 1.1 -2.9M496.8 480.1a1.9 1.2 168 1 0 -3.7 .8a1.9 1.2 168 1 0 3.7 -.8M477.1 492.2a1.4 1.3 170 1 0 -2.8 .5a1.4 1.3 170 1 0 2.8 -.5M472.3 492.2a2.2 2.1 70 1 0 1.5 4.1a2.2 2.1 70 1 0 -1.5 -4.1M477.2 487.4a1.7 1.6 121 1 0 -1.8 2.9a1.7 1.6 121 1 0 1.8 -2.9M389.9 496.8a2.2 1.4 15 1 0 4.3 1.2a2.2 1.4 15 1 0 -4.3 -1.2M391 492.4a2 1.7 85 1 0 .4 4.1a2 1.7 85 1 0 -.4 -4.1"/>
<path fill="#c84870" d="M383.6 422.6a2.3 2 9 1 0 4.5 .7a2.3 2 9 1 0 -4.5 -.7M438.8 416.9a2 2 1 1 0 4.1 0a2 2 1 1 0 -4.1 -0M443.6 413.6a1.6 1.4 117 1 0 -1.5 2.9a1.6 1.4 117 1 0 1.5 -2.9M442.1 415.4a2.3 1.8 4 1 0 4.5 .3a2.3 1.8 4 1 0 -4.5 -.3M445.2 418.7a1.4 .9 111 1 0 -1 2.7a1.4 .9 111 1 0 1 -2.7M453.6 417.5a2.1 2 118 1 0 -2 3.8a2.1 2 118 1 0 2 -3.8M498.2 421.8a2 1.5 149 1 0 -3.3 2a2 1.5 149 1 0 3.3 -2M487.5 431.8a2 1.9 132 1 0 -2.7 3a2 1.9 132 1 0 2.7 -3M473.1 418.6a1.8 1.5 18 1 0 3.5 1.2a1.8 1.5 18 1 0 -3.5 -1.2M485.2 417.8a1.5 1.5 110 1 0 -1.1 2.8a1.5 1.5 110 1 0 1.1 -2.8M493.4 423.5a2.2 1.6 11 1 0 4.3 .8a2.2 1.6 11 1 0 -4.3 -.8M490.7 424.8a1.7 1.3 108 1 0 -1 3.1a1.7 1.3 108 1 0 1 -3.1M478.1 434.7a2.2 1.4 156 1 0 -4.1 1.8a2.2 1.4 156 1 0 4.1 -1.8M481.3 426.7a1.8 1.8 15 1 0 3.5 .9a1.8 1.8 15 1 0 -3.5 -.9M419.4 430a1.9 1.4 121 1 0 -2 3.2a1.9 1.4 121 1 0 2 -3.2M402.2 434a1.6 1.2 45 1 0 2.2 2.2a1.6 1.2 45 1 0 -2.2 -2.2M404.9 434.3a1.9 1.6 19 1 0 3.5 1.2a1.9 1.6 19 1 0 -3.5 -1.2M434.4 430.6a1.8 1.2 68 1 0 1.4 3.4a1.8 1.2 68 1 0 -1.4 -3.4M441.1 437.2a1.7 1.3 27 1 0 3 1.5a1.7 1.3 27 1 0 -3 -1.5M445 432.1a2 1.5 62 1 0 1.9 3.6a2 1.5 62 1 0 -1.9 -3.6M426 435.7a1.7 1.5 63 1 0 1.5 3.1a1.7 1.5 63 1 0 -1.5 -3.1M440.6 440.7a2 1.8 172 1 0 -4.1 .6a2 1.8 172 1 0 4.1 -.6M403.9 442.7a1.9 1.6 42 1 0 2.8 2.5a1.9 1.6 42 1 0 -2.8 -2.5M406.3 441.1a1.7 1.6 111 1 0 -1.2 3.2a1.7 1.6 111 1 0 1.2 -3.2M421.1 453a2 1.7 82 1 0 .5 3.9a2 1.7 82 1 0 -.5 -3.9M446.2 452.9a1.9 1.7 43 1 0 2.9 2.6a1.9 1.7 43 1 0 -2.9 -2.6M443.3 461.1a1.7 1.4 86 1 0 .2 3.5a1.7 1.4 86 1 0 -.2 -3.5M441.6 452.8a2.3 1.7 144 1 0 -3.8 2.8a2.3 1.7 144 1 0 3.8 -2.8M474.2 443.6a2.3 1.4 170 1 0 -4.5 .8a2.3 1.4 170 1 0 4.5 -.8M387.2 456.9a1.3 .9 47 1 0 1.8 1.9a1.3 .9 47 1 0 -1.8 -1.9M379 468.6a1.9 1.3 3 1 0 3.8 .2a1.9 1.3 3 1 0 -3.8 -.2M383.8 473a1.4 .9 35 1 0 2.3 1.6a1.4 .9 35 1 0 -2.3 -1.6M404.3 467.5a1.9 1.5 118 1 0 -1.8 3.4a1.9 1.5 118 1 0 1.8 -3.4M409.4 486.7a2.2 2.1 48 1 0 3 3.3a2.2 2.1 48 1 0 -3 -3.3M408.1 479.4a1.8 1.4 12 1 0 3.5 .8a1.8 1.4 12 1 0 -3.5 -.8M410.6 472.6a2.1 1.7 38 1 0 3.4 2.7a2.1 1.7 38 1 0 -3.4 -2.7M402.1 469.3a2.4 2.1 93 1 0 -.2 4.7a2.4 2.1 93 1 0 .2 -4.7M411.5 471.3a1.9 1.3 8 1 0 3.8 .5a1.9 1.3 8 1 0 -3.8 -.5M408.5 473.5a1.7 1.1 2 1 0 3.5 .1a1.7 1.1 2 1 0 -3.5 -.1M405.8 480.2a2.3 1.8 145 1 0 -3.8 2.7a2.3 1.8 145 1 0 3.8 -2.7M449.5 483a1.6 1 28 1 0 2.7 1.5a1.6 1 28 1 0 -2.7 -1.5M447.8 485.1a1.4 1.2 173 1 0 -2.7 .3a1.4 1.2 173 1 0 2.7 -.3M447.6 489.8a2 1.4 59 1 0 2.1 3.4a2 1.4 59 1 0 -2.1 -3.4M440.1 493.4a1.5 .9 17 1 0 2.8 .9a1.5 .9 17 1 0 -2.8 -.9M436.6 485.2a1.4 1.3 39 1 0 2.2 1.8a1.4 1.3 39 1 0 -2.2 -1.8M494.1 473.8a2.1 1.8 165 1 0 -4 1.1a2.1 1.8 165 1 0 4 -1.1M494.4 470.2a1.8 1.7 64 1 0 1.5 3.2a1.8 1.7 64 1 0 -1.5 -3.2M487.1 484.3a1.5 1.4 50 1 0 1.9 2.3a1.5 1.4 50 1 0 -1.9 -2.3M496 461.6a1.7 1.6 83 1 0 .4 3.4a1.7 1.6 83 1 0 -.4 -3.4M494.3 461.9a1.5 1.3 26 1 0 2.8 1.4a1.5 1.3 26 1 0 -2.8 -1.4M487.6 462.5a1.8 1.2 31 1 0 3.1 1.9a1.8 1.2 31 1 0 -3.1 -1.9M494.6 463.3a2.3 2.2 63 1 0 2.1 4a2.3 2.2 63 1 0 -2.1 -4M489.5 480.5a1.4 1.2 144 1 0 -2.2 1.6a1.4 1.2 144 1 0 2.2 -1.6M395 501.8a1.8 1.7 20 1 0 3.4 1.2a1.8 1.7 20 1 0 -3.4 -1.2M460 483a1.3 1.1 97 1 0 -.3 2.6a1.3 1.1 97 1 0 .3 -2.6M454.7 476.8a1.7 1 134 1 0 -2.3 2.4a1.7 1 134 1 0 2.3 -2.4"/>
<path fill="#c03058" d="M391.9 419.5a2.3 1.9 145 1 0 -3.8 2.6a2.3 1.9 145 1 0 3.8 -2.6M444.9 421.2a2.2 1.3 137 1 0 -3.2 3a2.2 1.3 137 1 0 3.2 -3M449 413.7a2.3 1.8 114 1 0 -1.9 4.3a2.3 1.8 114 1 0 1.9 -4.3M446.1 413.3a1.9 1.3 28 1 0 3.4 1.8a1.9 1.3 28 1 0 -3.4 -1.8M446.1 420.6a2.4 2.4 169 1 0 -4.7 .9a2.4 2.4 169 1 0 4.7 -.9M484 433.8a1.9 1.3 73 1 0 1.2 3.7a1.9 1.3 73 1 0 -1.2 -3.7M484.6 427.1a2 2 111 1 0 -1.4 3.8a2 2 111 1 0 1.4 -3.8M495.3 425.1a2.1 1.7 114 1 0 -1.7 3.8a2.1 1.7 114 1 0 1.7 -3.8M478.3 417.8a2.2 2 105 1 0 -1.2 4.3a2.2 2 105 1 0 1.2 -4.3M478 421.6a1.4 .9 30 1 0 2.5 1.4a1.4 .9 30 1 0 -2.5 -1.4M475.2 417.1a1.6 1.6 104 1 0 -.8 3.1a1.6 1.6 104 1 0 .8 -3.1M492.6 422.2a1.5 1.3 38 1 0 2.4 1.8a1.5 1.3 38 1 0 -2.4 -1.8M476.6 425.5a1.9 1.8 127 1 0 -2.3 3.1a1.9 1.8 127 1 0 2.3 -3.1M476.6 423a1.8 1.2 123 1 0 -1.9 3a1.8 1.2 123 1 0 1.9 -3M490.7 416.5a1.7 1.6 40 1 0 2.6 2.2a1.7 1.6 40 1 0 -2.6 -2.2M493 413.9a2.1 1.6 70 1 0 1.4 4a2.1 1.6 70 1 0 -1.4 -4M496.2 434.2a1.9 1.3 156 1 0 -3.5 1.6a1.9 1.3 156 1 0 3.5 -1.6M487.8 414.9a1.5 1.4 138 1 0 -2.2 2a1.5 1.4 138 1 0 2.2 -2M409.9 432.8a1.4 1.2 21 1 0 2.7 1a1.4 1.2 21 1 0 -2.7 -1M412.1 428.5a1.6 1 89 1 0 .1 3.2a1.6 1 89 1 0 -.1 -3.2M407.5 426.6a1.7 1.2 107 1 0 -1 3.2a1.7 1.2 107 1 0 1 -3.2M442.2 431.8a2.2 1.5 115 1 0 -1.8 4a2.2 1.5 115 1 0 1.8 -4M429.1 431.2a1.3 1.3 27 1 0 2.3 1.2a1.3 1.3 27 1 0 -2.3 -1.2M395.5 446.3a1.9 1.8 82 1 0 .5 3.8a1.9 1.8 82 1 0 -.5 -3.8M397.1 443.3a2 1.5 126 1 0 -2.3 3.2a2 1.5 126 1 0 2.3 -3.2M401.7 447.2a1.8 1.4 19 1 0 3.3 1.1a1.8 1.4 19 1 0 -3.3 -1.1M428.3 454.5a2.1 2.1 36 1 0 3.5 2.5a2.1 2.1 36 1 0 -3.5 -2.5M428.9 456.5a2 1.3 134 1 0 -2.8 2.9a2 1.3 134 1 0 2.8 -2.9M415.3 452.6a2.2 1.7 0 1 0 4.4 0a2.2 1.7 0 1 0 -4.4 -0M450.3 458.2a1.6 1 16 1 0 3.1 .9a1.6 1 16 1 0 -3.1 -.9M453.9 468.1a1.5 1.4 31 1 0 2.5 1.5a1.5 1.4 31 1 0 -2.5 -1.5M451.2 462.6a1.5 1.5 115 1 0 -1.2 2.7a1.5 1.5 115 1 0 1.2 -2.7M440.9 465.5a2 1.9 11 1 0 3.9 .8a2 1.9 11 1 0 -3.9 -.8M463.3 461.4a2.4 1.8 51 1 0 3 3.7a2.4 1.8 51 1 0 -3 -3.7M437.1 464.4a2 1.4 27 1 0 3.6 1.8a2 1.4 27 1 0 -3.6 -1.8M461.9 457.3a1.4 1.1 28 1 0 2.5 1.3a1.4 1.1 28 1 0 -2.5 -1.3M392 474.5a1.3 1.3 170 1 0 -2.6 .4a1.3 1.3 170 1 0 2.6 -.4M391 463.8a1.5 1.4 170 1 0 -3 .6a1.5 1.4 170 1 0 3 -.6M408.7 482.6a2.2 1.7 150 1 0 -3.8 2.2a2.2 1.7 150 1 0 3.8 -2.2M399.3 480.3a2 1.9 151 1 0 -3.5 1.9a2 1.9 151 1 0 3.5 -1.9M409.7 482.9a1.5 1.2 30 1 0 2.7 1.5a1.5 1.2 30 1 0 -2.7 -1.5M418.8 472.1a2.3 1.9 179 1 0 -4.7 .1a2.3 1.9 179 1 0 4.7 -.1M401.5 480.6a2.1 1.8 100 1 0 -.7 4.1a2.1 1.8 100 1 0 .7 -4.1M451.4 483.3a2 1.9 143 1 0 -3.3 2.4a2 1.9 143 1 0 3.3 -2.4M438.2 491.3a2.1 1.6 140 1 0 -3.2 2.7a2.1 1.6 140 1 0 3.2 -2.7M441.6 481.4a2.4 1.6 145 1 0 -3.9 2.7a2.4 1.6 145 1 0 3.9 -2.7M450 492a2 1.4 75 1 0 1 3.8a2 1.4 75 1 0 -1 -3.8M435.4 479.4a2.2 1.6 80 1 0 .7 4.3a2.2 1.6 80 1 0 -.7 -4.3M493.4 483.5a1.8 1.5 38 1 0 2.9 2.3a1.8 1.5 38 1 0 -2.9 -2.3M492.8 459.7a1.9 1.1 130 1 0 -2.4 2.9a1.9 1.1 130 1 0 2.4 -2.9M486.9 466.9a1.3 1.3 77 1 0 .6 2.6a1.3 1.3 77 1 0 -.6 -2.6M497.2 462.1a1.6 1.2 53 1 0 1.9 2.5a1.6 1.2 53 1 0 -1.9 -2.5M485.5 469.9a2.1 2.1 75 1 0 1.1 4.1a2.1 2.1 75 1 0 -1.1 -4.1M471.4 490.8a1.6 1.2 0 1 0 -3.2 0a1.6 1.2 0 1 0 3.2 -0M482.7 496.4a1.9 1.3 40 1 0 3 2.5a1.9 1.3 40 1 0 -3 -2.5M488.5 495.6a1.5 1.2 174 1 0 -3.1 .3a1.5 1.2 174 1 0 3.1 -.3M484.6 494a2.1 1.8 77 1 0 .9 4.2a2.1 1.8 77 1 0 -.9 -4.2M401.5 494.1a2.3 1.7 142 1 0 -3.6 2.8a2.3 1.7 142 1 0 3.6 -2.8M394.6 491.7a1.4 1.1 68 1 0 1 2.5a1.4 1.1 68 1 0 -1 -2.5M391 493.8a1.4 .9 134 1 0 -2 2.1a1.4 .9 134 1 0 2 -2.1M497.2 498.2a2.2 1.6 31 1 0 3.7 2.3a2.2 1.6 31 1 0 -3.7 -2.3M493.1 497.2a1.8 1.3 3 1 0 3.7 .2a1.8 1.3 3 1 0 -3.7 -.2M492.9 496.3a2.3 2.1 117 1 0 -2.1 4.1a2.3 2.1 117 1 0 2.1 -4.1"/>
<path fill="#d04068" d="M416 412.3a1.8 1.6 145 1 0 -3 2.1a1.8 1.6 145 1 0 3 -2.1M422.7 417.7a1.7 1.4 100 1 0 -.6 3.4a1.7 1.4 100 1 0 .6 -3.4M426.9 416.2a2.3 1.4 111 1 0 -1.6 4.2a2.3 1.4 111 1 0 1.6 -4.2M416 412.5a2 1.6 30 1 0 3.4 2a2 1.6 30 1 0 -3.4 -2M438.5 413a2.4 1.7 108 1 0 -1.5 4.6a2.4 1.7 108 1 0 1.5 -4.6M434.4 417.6a1.6 1 31 1 0 2.7 1.6a1.6 1 31 1 0 -2.7 -1.6M443.3 412.3a2.3 1.6 113 1 0 -1.8 4.3a2.3 1.6 113 1 0 1.8 -4.3M497.5 424.7a1.9 1.2 10 1 0 3.7 .6a1.9 1.2 10 1 0 -3.7 -.6M482.2 424a1.9 1.5 179 1 0 -3.9 .1a1.9 1.5 179 1 0 3.9 -.1M497.7 426.6a2.3 2.3 89 1 0 0 4.6a2.3 2.3 89 1 0 -0 -4.6M484 436.3a2 1.3 102 1 0 -.8 3.9a2 1.3 102 1 0 .8 -3.9M477 417.8a2.1 1.7 58 1 0 2.2 3.5a2.1 1.7 58 1 0 -2.2 -3.5M490 412.8a1.6 1.3 115 1 0 -1.3 2.8a1.6 1.3 115 1 0 1.3 -2.8M476.6 435.1a1.9 1.9 21 1 0 3.6 1.4a1.9 1.9 21 1 0 -3.6 -1.4M485.1 413.6a2.3 2 118 1 0 -2.1 4a2.3 2 118 1 0 2.1 -4M408.5 433.2a1.3 1.1 17 1 0 2.5 .8a1.3 1.1 17 1 0 -2.5 -.8M410.3 430.3a1.5 1.2 160 1 0 -2.8 1a1.5 1.2 160 1 0 2.8 -1M417.3 435.1a2.2 1.8 169 1 0 -4.3 .8a2.2 1.8 169 1 0 4.3 -.8M430.8 439.7a2.3 1.6 174 1 0 -4.7 .5a2.3 1.6 174 1 0 4.7 -.5M444 429.4a2.2 1.6 105 1 0 -1.2 4.2a2.2 1.6 105 1 0 1.2 -4.2M427.5 446.6a1.3 .9 145 1 0 -2.1 1.5a1.3 .9 145 1 0 2.1 -1.5M425.2 446.6a1.9 1.8 132 1 0 -2.5 2.8a1.9 1.8 132 1 0 2.5 -2.8M439 464a2.1 1.9 74 1 0 1.1 4a2.1 1.9 74 1 0 -1.1 -4M450.6 457.3a2.2 1.7 100 1 0 -.8 4.3a2.2 1.7 100 1 0 .8 -4.3M461.9 454.9a1.5 1.3 125 1 0 -1.7 2.5a1.5 1.3 125 1 0 1.7 -2.5M459.9 456.5a2.1 1.8 88 1 0 .1 4.2a2.1 1.8 88 1 0 -.1 -4.2M466.9 456a1.7 1.1 142 1 0 -2.7 2.2a1.7 1.1 142 1 0 2.7 -2.2M447.6 457.2a1.3 1.3 102 1 0 -.6 2.6a1.3 1.3 102 1 0 .6 -2.6M448.5 449.2a2.3 1.9 9 1 0 4.6 .7a2.3 1.9 9 1 0 -4.6 -.7M447.6 455.3a1.3 1.3 46 1 0 1.9 1.9a1.3 1.3 46 1 0 -1.9 -1.9M445.7 452a1.7 1.4 30 1 0 2.9 1.7a1.7 1.4 30 1 0 -2.9 -1.7M467.7 429.8a1.6 1.4 54 1 0 1.9 2.6a1.6 1.4 54 1 0 -1.9 -2.6M469.9 446a2.3 1.9 143 1 0 -3.6 2.7a2.3 1.9 143 1 0 3.6 -2.7M467.8 444.3a1.8 1.3 125 1 0 -2.1 2.9a1.8 1.3 125 1 0 2.1 -2.9M470.5 447.2a1.3 1 83 1 0 .3 2.6a1.3 1 83 1 0 -.3 -2.6M385.5 476.1a1.4 1.3 44 1 0 2 2a1.4 1.3 44 1 0 -2 -2M389.4 463.4a1.9 1.3 52 1 0 2.3 3a1.9 1.3 52 1 0 -2.3 -3M389.8 465.1a1.5 1.2 33 1 0 2.6 1.7a1.5 1.2 33 1 0 -2.6 -1.7M387.4 460.1a1.4 1.4 162 1 0 -2.7 .9a1.4 1.4 162 1 0 2.7 -.9M384.3 456.6a1.6 1.1 41 1 0 2.4 2.1a1.6 1.1 41 1 0 -2.4 -2.1M403.3 472.3a1.9 1.2 32 1 0 3.2 2a1.9 1.2 32 1 0 -3.2 -2M414.2 473.2a1.5 1.4 58 1 0 1.6 2.6a1.5 1.4 58 1 0 -1.6 -2.6M409.4 470.3a1.6 1.5 35 1 0 2.6 1.8a1.6 1.5 35 1 0 -2.6 -1.8M399.7 481.1a1.4 .8 51 1 0 1.7 2.1a1.4 .8 51 1 0 -1.7 -2.1M396.5 476.5a1.3 1 85 1 0 .2 2.6a1.3 1 85 1 0 -.2 -2.6M396.5 481.2a1.5 1.4 4 1 0 3 .2a1.5 1.4 4 1 0 -3 -.2M405.1 487.4a1.3 .9 0 1 0 -2.7 0a1.3 .9 0 1 0 2.7 -0M405.6 486.3a2.3 1.6 66 1 0 1.9 4.2a2.3 1.6 66 1 0 -1.9 -4.2M404.2 487.1a1.7 1.3 36 1 0 2.8 2.1a1.7 1.3 36 1 0 -2.8 -2.1M443.5 482.4a1.9 1.7 175 1 0 -3.8 .3a1.9 1.7 175 1 0 3.8 -.3M434.8 491.2a2.2 2.1 24 1 0 4.1 1.8a2.2 2.1 24 1 0 -4.1 -1.8M443.1 496.1a1.6 1.2 134 1 0 -2.2 2.3a1.6 1.2 134 1 0 2.2 -2.3M454.4 491.8a1.5 1.4 88 1 0 .1 3a1.5 1.4 88 1 0 -.1 -3M450.7 493.4a1.8 1.3 107 1 0 -1 3.3a1.8 1.3 107 1 0 1 -3.3M492.5 480.9a1.9 1.3 66 1 0 1.5 3.4a1.9 1.3 66 1 0 -1.5 -3.4M490.1 461.5a2.1 1.6 10 1 0 4.2 .8a2.1 1.6 10 1 0 -4.2 -.8M481.2 466.2a2.3 2.1 0 1 0 4.6 0a2.3 2.1 0 1 0 -4.6 -0M478.6 491.7a1.8 1.7 80 1 0 .6 3.6a1.8 1.7 80 1 0 -.6 -3.6M397.5 492.4a2.3 1.8 164 1 0 -4.5 1.3a2.3 1.8 164 1 0 4.5 -1.3M399.6 491.2a1.4 1.2 177 1 0 -2.9 .2a1.4 1.2 177 1 0 2.9 -.2M397.9 493.7a2.1 1.4 83 1 0 .5 4.1a2.1 1.4 83 1 0 -.5 -4.1M395.8 500.1a1.6 1.1 132 1 0 -2.1 2.4a1.6 1.1 132 1 0 2.1 -2.4M399.1 492.4a2 1.7 146 1 0 -3.3 2.2a2 1.7 146 1 0 3.3 -2.2M451 477.2a2.3 2.2 48 1 0 3 3.4a2.3 2.2 48 1 0 -3 -3.4M462.4 482.8a1.6 1 161 1 0 -3.1 1a1.6 1 161 1 0 3.1 -1M499.6 501.1a2.1 1.9 171 1 0 -4.2 .7a2.1 1.9 171 1 0 4.2 -.7M494.8 502.3a1.6 1.5 149 1 0 -2.7 1.6a1.6 1.5 149 1 0 2.7 -1.6M491.8 496.9a2.4 2.2 11 1 0 4.7 .9a2.4 2.2 11 1 0 -4.7 -.9"/>
<ellipse cx="407" cy="479" rx="3" ry="3" fill="#f0d870" opacity="0.9" transform="rotate(0 407 479)"/>
<ellipse cx="436" cy="436" rx="3" ry="2" fill="#e09070" opacity="0.7" transform="rotate(0 436 436)"/>
<ellipse cx="448" cy="463" rx="3" ry="2" fill="#e09070" opacity="0.6" transform="rotate(0 448 463)"/>
<path fill="#6a3c60" d="M398.9 430.6a1.7 .8 5 1 0 3.4 .3a1.7 .8 5 1 0 -3.4 -.3M469.6 426.7a1.6 .5 4 1 0 3.3 .2a1.6 .5 4 1 0 -3.3 -.2M443.3 485.1a1.8 .8 121 1 0 -1.8 3.1a1.8 .8 121 1 0 1.8 -3.1M487.1 472.9a1.4 .6 92 1 0 -.1 2.8a1.4 .6 92 1 0 .1 -2.8M374.3 484.7a1.3 .6 24 1 0 2.3 1a1.3 .6 24 1 0 -2.3 -1M502.6 443.8a1.8 .7 63 1 0 1.7 3.3a1.8 .7 63 1 0 -1.7 -3.3M473 474.1a1.4 .5 111 1 0 -1 2.7a1.4 .5 111 1 0 1 -2.7M440.1 434.7a1.2 .8 134 1 0 -1.6 1.7a1.2 .8 134 1 0 1.6 -1.7M444.1 485.9a1.8 .9 163 1 0 -3.4 1.1a1.8 .9 163 1 0 3.4 -1.1M396.4 438a1.2 .7 139 1 0 -1.9 1.7a1.2 .7 139 1 0 1.9 -1.7M384 460.8a1.6 .9 57 1 0 1.7 2.6a1.6 .9 57 1 0 -1.7 -2.6M375.5 486.6a1.3 .9 105 1 0 -.7 2.5a1.3 .9 105 1 0 .7 -2.5M497 445.9a1.6 .6 18 1 0 3 1a1.6 .6 18 1 0 -3 -1M439.3 491.6a1.6 .8 30 1 0 2.8 1.6a1.6 .8 30 1 0 -2.8 -1.6M467 408a1.9 .8 91 1 0 -.1 3.8a1.9 .8 91 1 0 .1 -3.8M389.2 418.5a2 .5 109 1 0 -1.3 3.8a2 .5 109 1 0 1.3 -3.8M451.4 477.8a1.8 .8 99 1 0 -.6 3.6a1.8 .8 99 1 0 .6 -3.6M381.8 505.7a1 .9 149 1 0 -1.7 1.1a1 .9 149 1 0 1.7 -1.1M394 445.2a1.2 .7 79 1 0 .5 2.4a1.2 .7 79 1 0 -.5 -2.4M486.5 479a1 .6 137 1 0 -1.4 1.3a1 .6 137 1 0 1.4 -1.3M396.1 438.2a1 .5 20 1 0 1.8 .7a1 .5 20 1 0 -1.8 -.7M409.6 502.6a2 .6 88 1 0 .1 3.9a2 .6 88 1 0 -.1 -3.9M479.3 504a1.9 .9 8 1 0 3.7 .5a1.9 .9 8 1 0 -3.7 -.5M438.1 454.3a1.9 .8 171 1 0 -3.8 .6a1.9 .8 171 1 0 3.8 -.6M410.1 478.3a1 .6 80 1 0 .4 2a1 .6 80 1 0 -.4 -2M382.1 410.3a1.2 .8 8 1 0 2.3 .3a1.2 .8 8 1 0 -2.3 -.3M464.1 490.4a1.4 .8 23 1 0 2.7 1.1a1.4 .8 23 1 0 -2.7 -1.1M466.3 454.4a1.7 .8 179 1 0 -3.4 .1a1.7 .8 179 1 0 3.4 -.1M379.8 500.3a1.8 .6 28 1 0 3.2 1.7a1.8 .6 28 1 0 -3.2 -1.7M448.6 437.1a1.9 .6 122 1 0 -2 3.2a1.9 .6 122 1 0 2 -3.2M441.7 474.6a1 .7 61 1 0 .9 1.7a1 .7 61 1 0 -.9 -1.7M407.3 507.4a1.5 .8 54 1 0 1.8 2.5a1.5 .8 54 1 0 -1.8 -2.5M473.5 494a1.2 .9 171 1 0 -2.3 .4a1.2 .9 171 1 0 2.3 -.4M492.9 451.5a1.7 .8 133 1 0 -2.3 2.5a1.7 .8 133 1 0 2.3 -2.5M476.2 457.9a1.1 .9 67 1 0 .9 2.1a1.1 .9 67 1 0 -.9 -2.1M445.3 507.5a1.3 .8 114 1 0 -1.1 2.4a1.3 .8 114 1 0 1.1 -2.4M407.5 472.5a1.7 .6 37 1 0 2.8 2.1a1.7 .6 37 1 0 -2.8 -2.1M395.9 445a1.7 .7 146 1 0 -2.9 1.9a1.7 .7 146 1 0 2.9 -1.9M451.9 490.6a1.3 .8 40 1 0 2 1.7a1.3 .8 40 1 0 -2 -1.7M399.2 450.1a1.4 .8 142 1 0 -2.2 1.7a1.4 .8 142 1 0 2.2 -1.7M493.8 448.3a1 .7 92 1 0 -.1 2.1a1 .7 92 1 0 .1 -2.1M468 418.7a.9 .7 41 1 0 1.4 1.2a.9 .7 41 1 0 -1.4 -1.2M426.8 500.5a1.2 .8 118 1 0 -1.1 2.2a1.2 .8 118 1 0 1.1 -2.2M398.1 483a1.1 .5 92 1 0 -.1 2.3a1.1 .5 92 1 0 .1 -2.3M443.3 480.4a1.2 .5 61 1 0 1.1 2.1a1.2 .5 61 1 0 -1.1 -2.1M483.5 466.7a1 .7 25 1 0 1.8 .8a1 .7 25 1 0 -1.8 -.8M388.1 481.9a1.4 .5 135 1 0 -2.1 2a1.4 .5 135 1 0 2.1 -2M467 440.4a.9 .7 61 1 0 .9 1.7a.9 .7 61 1 0 -.9 -1.7M387.7 412a1.7 .6 177 1 0 -3.5 .2a1.7 .6 177 1 0 3.5 -.2M419.1 491.5a1 .6 108 1 0 -.6 1.9a1 .6 108 1 0 .6 -1.9M497.5 460.1a1.3 .8 0 1 0 -2.5 0a1.3 .8 0 1 0 2.5 -0M430.4 465.5a1.1 .7 52 1 0 1.3 1.7a1.1 .7 52 1 0 -1.3 -1.7M384.6 503.9a1.2 .9 96 1 0 -.2 2.4a1.2 .9 96 1 0 .2 -2.4M462.8 442.9a1.4 .5 8 1 0 2.8 .4a1.4 .5 8 1 0 -2.8 -.4M378.3 447.8a1 .6 154 1 0 -1.8 .9a1 .6 154 1 0 1.8 -.9M435.4 430.9a1.8 .7 157 1 0 -3.4 1.4a1.8 .7 157 1 0 3.4 -1.4M414.5 409.2a1.3 .8 133 1 0 -1.7 1.8a1.3 .8 133 1 0 1.7 -1.8M381.2 426.3a1.5 .8 30 1 0 2.6 1.5a1.5 .8 30 1 0 -2.6 -1.5M428.6 447.1a1.2 .9 45 1 0 1.7 1.7a1.2 .9 45 1 0 -1.7 -1.7M503.1 504a1.1 .8 25 1 0 2 .9a1.1 .8 25 1 0 -2 -.9M437.2 455.4a1.4 .8 40 1 0 2.1 1.8a1.4 .8 40 1 0 -2.1 -1.8M451.7 428.9a.9 .8 113 1 0 -.7 1.7a.9 .8 113 1 0 .7 -1.7M449.8 476.6a1 .8 66 1 0 .8 1.8a1 .8 66 1 0 -.8 -1.8M394.6 485.5a1 .6 161 1 0 -1.9 .7a1 .6 161 1 0 1.9 -.7M471.2 456.8a1.3 .5 50 1 0 1.6 1.9a1.3 .5 50 1 0 -1.6 -1.9M435.8 469.7a1.1 .7 133 1 0 -1.5 1.5a1.1 .7 133 1 0 1.5 -1.5M448.9 458.3a1.7 .9 85 1 0 .3 3.4a1.7 .9 85 1 0 -.3 -3.4M395.6 503.4a1.5 .6 46 1 0 2.1 2.1a1.5 .6 46 1 0 -2.1 -2.1M455 469.8a1.2 .9 22 1 0 2.3 .9a1.2 .9 22 1 0 -2.3 -.9M440.9 408.6a1.8 .6 92 1 0 -.1 3.6a1.8 .6 92 1 0 .1 -3.6M450.8 469a1.2 .6 30 1 0 2.1 1.2a1.2 .6 30 1 0 -2.1 -1.2"/>
<path fill="#5a3058" d="M445.4 442.6a1 .8 87 1 0 .1 2a1 .8 87 1 0 -.1 -2M427.3 483.8a1.5 .5 41 1 0 2.3 2a1.5 .5 41 1 0 -2.3 -2M377.6 423.7a1.8 .7 124 1 0 -2 2.9a1.8 .7 124 1 0 2 -2.9M423.6 447.1a1.8 .5 134 1 0 -2.5 2.6a1.8 .5 134 1 0 2.5 -2.6M402.2 413.3a1 .8 79 1 0 .4 2a1 .8 79 1 0 -.4 -2M443.3 410a1.4 .5 58 1 0 1.5 2.4a1.4 .5 58 1 0 -1.5 -2.4M495.9 464.3a1.4 .7 26 1 0 2.5 1.2a1.4 .7 26 1 0 -2.5 -1.2M502.3 502.7a1.1 .6 83 1 0 .3 2.1a1.1 .6 83 1 0 -.3 -2.1M463.8 466.8a1.8 .8 168 1 0 -3.5 .7a1.8 .8 168 1 0 3.5 -.7M427.6 509.9a1 .6 85 1 0 .2 2.1a1 .6 85 1 0 -.2 -2.1M479 493.2a1.7 .9 27 1 0 3.1 1.6a1.7 .9 27 1 0 -3.1 -1.6M461 419.6a1.4 .5 124 1 0 -1.6 2.3a1.4 .5 124 1 0 1.6 -2.3M426.4 480.4a1.2 .5 109 1 0 -.8 2.2a1.2 .5 109 1 0 .8 -2.2M435.2 435.8a1.8 .8 49 1 0 2.3 2.6a1.8 .8 49 1 0 -2.3 -2.6M392.8 489.6a1.1 .5 65 1 0 1 2.1a1.1 .5 65 1 0 -1 -2.1M452.4 441.3a1.7 .5 110 1 0 -1.2 3.2a1.7 .5 110 1 0 1.2 -3.2M459.1 425.6a1.8 .6 17 1 0 3.5 1.1a1.8 .6 17 1 0 -3.5 -1.1M428 461.2a1.7 .6 172 1 0 -3.4 .5a1.7 .6 172 1 0 3.4 -.5M428.4 470.5a1.4 .8 29 1 0 2.4 1.3a1.4 .8 29 1 0 -2.4 -1.3M485.6 447.6a1.5 .6 89 1 0 .1 3a1.5 .6 89 1 0 -.1 -3M472.3 430.5a1.3 .7 31 1 0 2.3 1.4a1.3 .7 31 1 0 -2.3 -1.4M430.9 493.1a1.4 .8 44 1 0 2 1.9a1.4 .8 44 1 0 -2 -1.9M482 454.1a1.2 .6 65 1 0 1 2.1a1.2 .6 65 1 0 -1 -2.1M395.7 419.6a1.6 .8 49 1 0 2.1 2.5a1.6 .8 49 1 0 -2.1 -2.5M422.1 429.8a1 .9 115 1 0 -.9 1.9a1 .9 115 1 0 .9 -1.9M429 447.8a1.8 .8 163 1 0 -3.4 1a1.8 .8 163 1 0 3.4 -1M498.3 464.7a2 .8 92 1 0 -.1 3.9a2 .8 92 1 0 .1 -3.9M452.2 451.9a.9 .7 167 1 0 -1.8 .4a.9 .7 167 1 0 1.8 -.4M477.2 417.5a1.4 .6 94 1 0 -.2 2.8a1.4 .6 94 1 0 .2 -2.8M447.3 473.9a1.8 .7 163 1 0 -3.4 1a1.8 .7 163 1 0 3.4 -1M486.4 469.6a1.6 .9 64 1 0 1.4 2.8a1.6 .9 64 1 0 -1.4 -2.8M387 465.5a1 .6 64 1 0 .9 1.8a1 .6 64 1 0 -.9 -1.8M485.1 460.9a1.1 .9 22 1 0 2.1 .9a1.1 .9 22 1 0 -2.1 -.9M391.4 435.2a1.5 .5 165 1 0 -2.8 .7a1.5 .5 165 1 0 2.8 -.7M378.9 445.6a1.7 .8 34 1 0 2.9 1.9a1.7 .8 34 1 0 -2.9 -1.9M399.8 489.4a1.4 .5 35 1 0 2.3 1.6a1.4 .5 35 1 0 -2.3 -1.6M496.8 414.9a1.6 .7 111 1 0 -1.2 3a1.6 .7 111 1 0 1.2 -3M434.1 449a2 .6 159 1 0 -3.7 1.4a2 .6 159 1 0 3.7 -1.4M485.7 456.8a1.7 .8 150 1 0 -2.9 1.7a1.7 .8 150 1 0 2.9 -1.7M464.1 415.4a1 .6 118 1 0 -.9 1.8a1 .6 118 1 0 .9 -1.8M504.7 408.7a1.3 .6 27 1 0 2.3 1.2a1.3 .6 27 1 0 -2.3 -1.2M471.9 434.4a.9 .6 103 1 0 -.4 1.8a.9 .6 103 1 0 .4 -1.8M482.8 417.6a1.1 .8 179 1 0 -2.2 0a1.1 .8 179 1 0 2.2 -0M436.5 421.9a1.9 .6 139 1 0 -2.9 2.5a1.9 .6 139 1 0 2.9 -2.5M482.4 460.6a1.6 .6 67 1 0 1.3 2.9a1.6 .6 67 1 0 -1.3 -2.9M452.5 424.7a1.4 .9 37 1 0 2.3 1.7a1.4 .9 37 1 0 -2.3 -1.7M389.8 422.2a1.4 .8 161 1 0 -2.7 1a1.4 .8 161 1 0 2.7 -1M404.8 457.4a1.8 .7 72 1 0 1.1 3.5a1.8 .7 72 1 0 -1.1 -3.5M446.1 450.9a1.6 .6 176 1 0 -3.2 .2a1.6 .6 176 1 0 3.2 -.2M487.2 453.9a1.5 .8 174 1 0 -3 .3a1.5 .8 174 1 0 3 -.3M411.1 435.1a1.8 .7 173 1 0 -3.6 .4a1.8 .7 173 1 0 3.6 -.4M436.5 441.2a1.1 .7 159 1 0 -2 .8a1.1 .7 159 1 0 2 -.8M433.7 493.7a1.1 .6 37 1 0 1.8 1.4a1.1 .6 37 1 0 -1.8 -1.4M395 454.7a1.3 .5 173 1 0 -2.6 .3a1.3 .5 173 1 0 2.6 -.3M405.3 500a1.9 .8 94 1 0 -.3 3.8a1.9 .8 94 1 0 .3 -3.8M499.7 489.5a1.8 .7 3 1 0 3.7 .2a1.8 .7 3 1 0 -3.7 -.2M417.3 491.9a1.6 .8 176 1 0 -3.2 .2a1.6 .8 176 1 0 3.2 -.2M441.8 408.1a1.5 .7 146 1 0 -2.5 1.6a1.5 .7 146 1 0 2.5 -1.6M418.5 486.7a.9 .8 0 1 0 1.8 0a.9 .8 0 1 0 -1.8 -0M430.2 497a1.8 .5 48 1 0 2.4 2.6a1.8 .5 48 1 0 -2.4 -2.6M416.4 508.4a1.2 .7 46 1 0 1.7 1.7a1.2 .7 46 1 0 -1.7 -1.7M450.2 469.1a1.1 .5 45 1 0 1.6 1.6a1.1 .5 45 1 0 -1.6 -1.6M404.2 408.7a.9 .6 165 1 0 -1.7 .5a.9 .6 165 1 0 1.7 -.5M438.9 486.2a1.3 .6 43 1 0 1.9 1.8a1.3 .6 43 1 0 -1.9 -1.8M457.9 425.5a1.2 .7 89 1 0 .1 2.4a1.2 .7 89 1 0 -.1 -2.4M462.2 465.4a1.2 .8 104 1 0 -.6 2.3a1.2 .8 104 1 0 .6 -2.3M378.5 471.4a1.1 .5 120 1 0 -1.1 1.9a1.1 .5 120 1 0 1.1 -1.9M501.6 465.1a1.3 .8 97 1 0 -.3 2.6a1.3 .8 97 1 0 .3 -2.6M396.4 508.9a1.7 .6 47 1 0 2.2 2.4a1.7 .6 47 1 0 -2.2 -2.4M499.4 419.5a1.6 .8 33 1 0 2.6 1.7a1.6 .8 33 1 0 -2.6 -1.7M504.6 492.3a1.3 .7 43 1 0 2 1.8a1.3 .7 43 1 0 -2 -1.8M393.8 455.9a1.7 .7 20 1 0 3.1 1.2a1.7 .7 20 1 0 -3.1 -1.2M454.3 433.7a.9 .6 109 1 0 -.6 1.8a.9 .6 109 1 0 .6 -1.8M418.4 446.4a1.7 .6 13 1 0 3.4 .8a1.7 .6 13 1 0 -3.4 -.8M383.6 494.6a1.6 .9 62 1 0 1.5 2.8a1.6 .9 62 1 0 -1.5 -2.8M385.7 463.6a1.3 .5 30 1 0 2.2 1.3a1.3 .5 30 1 0 -2.2 -1.3M502.7 473.5a1.1 .9 103 1 0 -.5 2.1a1.1 .9 103 1 0 .5 -2.1M480.6 491.8a1.6 .7 75 1 0 .9 3.2a1.6 .7 75 1 0 -.9 -3.2M482.8 464.7a1.1 .6 18 1 0 2 .7a1.1 .6 18 1 0 -2 -.7M498.1 498.8a1.3 .6 59 1 0 1.3 2.1a1.3 .6 59 1 0 -1.3 -2.1"/>
<path fill="#3a2840" d="M400.1 437.3a1.9 .6 54 1 0 2.2 3a1.9 .6 54 1 0 -2.2 -3M427.6 491.1a1.3 .8 27 1 0 2.3 1.2a1.3 .8 27 1 0 -2.3 -1.2M455.1 422.8a1.7 .9 99 1 0 -.5 3.4a1.7 .9 99 1 0 .5 -3.4M446.2 470.3a1.2 .5 100 1 0 -.4 2.4a1.2 .5 100 1 0 .4 -2.4M495.2 483a1.4 .9 129 1 0 -1.8 2.2a1.4 .9 129 1 0 1.8 -2.2M384 422.4a1.2 .9 27 1 0 2.2 1.1a1.2 .9 27 1 0 -2.2 -1.1M487.4 474a1.6 .6 128 1 0 -2 2.6a1.6 .6 128 1 0 2 -2.6M425.6 493.8a1.7 .6 0 1 0 -3.4 0a1.7 .6 0 1 0 3.4 -0M419.5 498.8a1 .7 13 1 0 1.9 .4a1 .7 13 1 0 -1.9 -.4M405.2 474.3a1 .7 112 1 0 -.7 1.8a1 .7 112 1 0 .7 -1.8M480.1 457.5a1.8 .9 56 1 0 2 3a1.8 .9 56 1 0 -2 -3M454.4 409.9a1.9 .7 44 1 0 2.7 2.6a1.9 .7 44 1 0 -2.7 -2.6M451.7 507.9a1.9 .9 75 1 0 1 3.7a1.9 .9 75 1 0 -1 -3.7M381.1 479.3a2 .6 41 1 0 2.9 2.6a2 .6 41 1 0 -2.9 -2.6M444.4 408.1a1.4 .5 136 1 0 -2 1.9a1.4 .5 136 1 0 2 -1.9M462.9 472.3a1 .9 70 1 0 .7 1.8a1 .9 70 1 0 -.7 -1.8M473.7 456.6a1.3 .6 112 1 0 -1 2.4a1.3 .6 112 1 0 1 -2.4M490.8 475a1.1 .6 22 1 0 2.1 .8a1.1 .6 22 1 0 -2.1 -.8M403.3 437.4a1.7 .9 11 1 0 3.4 .7a1.7 .9 11 1 0 -3.4 -.7M410.2 438.1a1.9 .8 27 1 0 3.5 1.7a1.9 .8 27 1 0 -3.5 -1.7M501.7 414.4a.9 .6 11 1 0 1.8 .4a.9 .6 11 1 0 -1.8 -.4M396.1 461.3a1.9 .7 13 1 0 3.7 .8a1.9 .7 13 1 0 -3.7 -.8M486.6 431.8a1.2 .9 113 1 0 -1 2.2a1.2 .9 113 1 0 1 -2.2M447.1 486.8a1.6 .9 81 1 0 .5 3.2a1.6 .9 81 1 0 -.5 -3.2M470.1 430.5a1.9 .6 9 1 0 3.8 .6a1.9 .6 9 1 0 -3.8 -.6M430.6 460.3a1.2 .5 169 1 0 -2.4 .5a1.2 .5 169 1 0 2.4 -.5M450.6 455.3a1.7 .8 87 1 0 .2 3.5a1.7 .8 87 1 0 -.2 -3.5M470 421.7a1.7 .7 62 1 0 1.6 3.1a1.7 .7 62 1 0 -1.6 -3.1M400.7 458.2a1.9 .9 130 1 0 -2.4 2.8a1.9 .9 130 1 0 2.4 -2.8M446 432.2a1.1 .8 19 1 0 2 .7a1.1 .8 19 1 0 -2 -.7M483.7 435.5a1.3 .8 44 1 0 1.9 1.8a1.3 .8 44 1 0 -1.9 -1.8M469.6 481.1a1.9 .6 129 1 0 -2.4 3a1.9 .6 129 1 0 2.4 -3M476.7 415.6a1.1 .7 57 1 0 1.2 1.8a1.1 .7 57 1 0 -1.2 -1.8M388.8 452.8a.9 .7 27 1 0 1.6 .8a.9 .7 27 1 0 -1.6 -.8M406.4 477.6a1.9 .9 34 1 0 3.1 2.1a1.9 .9 34 1 0 -3.1 -2.1M432.4 471.6a1.2 .8 46 1 0 1.7 1.8a1.2 .8 46 1 0 -1.7 -1.8M433 504.5a1.9 .5 109 1 0 -1.2 3.6a1.9 .5 109 1 0 1.2 -3.6M502.9 489.4a1.1 .8 142 1 0 -1.7 1.3a1.1 .8 142 1 0 1.7 -1.3M460.7 441.3a1 .7 96 1 0 -.2 2a1 .7 96 1 0 .2 -2M468.5 488.1a1 .6 9 1 0 2 .3a1 .6 9 1 0 -2 -.3M416.7 509.9a.9 .7 6 1 0 1.9 .2a.9 .7 6 1 0 -1.9 -.2M396.2 444.1a.9 .5 16 1 0 1.8 .5a.9 .5 16 1 0 -1.8 -.5M497.6 480.7a1.4 .8 4 1 0 2.8 .2a1.4 .8 4 1 0 -2.8 -.2M460.6 436.9a1.4 .5 38 1 0 2.1 1.7a1.4 .5 38 1 0 -2.1 -1.7M485.5 424.6a2 .8 112 1 0 -1.5 3.7a2 .8 112 1 0 1.5 -3.7M397.2 453.3a1.1 .7 63 1 0 1 2a1.1 .7 63 1 0 -1 -2M455.9 502a1.2 .7 133 1 0 -1.7 1.8a1.2 .7 133 1 0 1.7 -1.8M488.3 498.6a1 .8 81 1 0 .3 1.9a1 .8 81 1 0 -.3 -1.9M380 497.1a1.3 .8 28 1 0 2.2 1.2a1.3 .8 28 1 0 -2.2 -1.2M413.1 500.8a1.8 .7 91 1 0 -0 3.5a1.8 .7 91 1 0 0 -3.5M478.5 422.9a1.5 .9 78 1 0 .6 2.9a1.5 .9 78 1 0 -.6 -2.9M417.2 465.6a1.6 .7 96 1 0 -.3 3.1a1.6 .7 96 1 0 .3 -3.1M450.1 433.1a1.4 .7 111 1 0 -1 2.7a1.4 .7 111 1 0 1 -2.7M465.4 470a1.9 .6 154 1 0 -3.4 1.6a1.9 .6 154 1 0 3.4 -1.6M416.9 419.3a1.2 .5 173 1 0 -2.4 .3a1.2 .5 173 1 0 2.4 -.3M449.5 493.7a1.6 .9 168 1 0 -3.1 .6a1.6 .9 168 1 0 3.1 -.6M383 471.2a1.4 .8 36 1 0 2.2 1.6a1.4 .8 36 1 0 -2.2 -1.6M389.9 432.5a1 .8 106 1 0 -.6 2a1 .8 106 1 0 .6 -2M501.2 466.5a1.2 .7 172 1 0 -2.5 .4a1.2 .7 172 1 0 2.5 -.4M424.9 433.3a1.6 .7 120 1 0 -1.6 2.7a1.6 .7 120 1 0 1.6 -2.7M387.2 484.1a1.1 .6 34 1 0 1.8 1.2a1.1 .6 34 1 0 -1.8 -1.2M420.9 492.7a1.6 .6 177 1 0 -3.1 .2a1.6 .6 177 1 0 3.1 -.2M437.8 465.9a1.5 .8 140 1 0 -2.2 1.9a1.5 .8 140 1 0 2.2 -1.9M425.9 499.7a1.2 .6 8 1 0 2.4 .4a1.2 .6 8 1 0 -2.4 -.4M408 441.1a1.9 .5 49 1 0 2.5 2.9a1.9 .5 49 1 0 -2.5 -2.9"/>
<path fill="#5a4860" d="M449.9 475.3a1.6 .7 101 1 0 -.6 3.1a1.6 .7 101 1 0 .6 -3.1M483.9 417.3a1.2 .9 76 1 0 .6 2.4a1.2 .9 76 1 0 -.6 -2.4M499.4 483.9a1.9 .7 72 1 0 1.2 3.6a1.9 .7 72 1 0 -1.2 -3.6M494.2 463.8a1.4 .8 88 1 0 .1 2.7a1.4 .8 88 1 0 -.1 -2.7M376.7 506.2a1.5 .6 62 1 0 1.4 2.6a1.5 .6 62 1 0 -1.4 -2.6M418.9 433.5a1.2 .7 123 1 0 -1.3 2a1.2 .7 123 1 0 1.3 -2M395.4 432.9a.9 .8 72 1 0 .6 1.8a.9 .8 72 1 0 -.6 -1.8M506.3 456a1 .8 100 1 0 -.4 2a1 .8 100 1 0 .4 -2M470.4 413.5a1.5 .6 116 1 0 -1.3 2.7a1.5 .6 116 1 0 1.3 -2.7M391.7 462.1a1.5 .7 39 1 0 2.4 1.9a1.5 .7 39 1 0 -2.4 -1.9M482.7 440.5a1 .9 34 1 0 1.6 1.1a1 .9 34 1 0 -1.6 -1.1M472.9 453.7a1.9 .6 86 1 0 .3 3.8a1.9 .6 86 1 0 -.3 -3.8M399.5 505a2 .8 169 1 0 -3.8 .7a2 .8 169 1 0 3.8 -.7M427.3 503.7a1.8 .6 33 1 0 3 1.9a1.8 .6 33 1 0 -3 -1.9M410.8 435.1a1.9 .5 111 1 0 -1.4 3.6a1.9 .5 111 1 0 1.4 -3.6M505.5 434.5a1.7 .8 134 1 0 -2.3 2.4a1.7 .8 134 1 0 2.3 -2.4M418.6 499.9a1.6 .6 151 1 0 -2.7 1.5a1.6 .6 151 1 0 2.7 -1.5M474.8 431a1.3 .8 111 1 0 -.9 2.4a1.3 .8 111 1 0 .9 -2.4M405.2 468.3a1.7 .8 86 1 0 .3 3.4a1.7 .8 86 1 0 -.3 -3.4M392 481.8a.9 .8 12 1 0 1.8 .4a.9 .8 12 1 0 -1.8 -.4M492.4 504.3a1.9 .8 49 1 0 2.5 2.9a1.9 .8 49 1 0 -2.5 -2.9M451.5 468.4a1 .6 55 1 0 1.2 1.7a1 .6 55 1 0 -1.2 -1.7M471.9 449.8a1.2 .9 43 1 0 1.8 1.7a1.2 .9 43 1 0 -1.8 -1.7M457.2 458.7a1 .8 42 1 0 1.4 1.3a1 .8 42 1 0 -1.4 -1.3M404.5 461.7a1.3 .5 156 1 0 -2.4 1.1a1.3 .5 156 1 0 2.4 -1.1M443.3 494.6a1.1 .8 26 1 0 1.9 .9a1.1 .8 26 1 0 -1.9 -.9M492.2 412a1.3 .8 146 1 0 -2.2 1.5a1.3 .8 146 1 0 2.2 -1.5M447.9 450.4a1 .7 121 1 0 -1 1.7a1 .7 121 1 0 1 -1.7M495.2 467.4a1.9 .6 39 1 0 3 2.4a1.9 .6 39 1 0 -3 -2.4M439.3 430.5a1 .8 153 1 0 -1.8 .9a1 .8 153 1 0 1.8 -.9M474.9 424a1.7 .9 87 1 0 .2 3.5a1.7 .9 87 1 0 -.2 -3.5M415.9 418a1 .7 167 1 0 -2 .5a1 .7 167 1 0 2 -.5M442.6 424.1a1.4 .7 7 1 0 2.8 .3a1.4 .7 7 1 0 -2.8 -.3M401.5 490.6a1.1 .5 101 1 0 -.4 2.1a1.1 .5 101 1 0 .4 -2.1M471.1 466.5a1.8 .8 102 1 0 -.8 3.6a1.8 .8 102 1 0 .8 -3.6M406.7 416.3a2 .6 150 1 0 -3.4 1.9a2 .6 150 1 0 3.4 -1.9M452.3 498.9a1 .6 125 1 0 -1.2 1.7a1 .6 125 1 0 1.2 -1.7M401.1 474.6a.9 .7 66 1 0 .7 1.7a.9 .7 66 1 0 -.7 -1.7M420 411.7a1.3 .6 82 1 0 .3 2.5a1.3 .6 82 1 0 -.3 -2.5M398.1 496.1a1.3 .9 65 1 0 1.1 2.4a1.3 .9 65 1 0 -1.1 -2.4M484.4 478.3a1 .6 175 1 0 -2.1 .2a1 .6 175 1 0 2.1 -.2M464.8 464.1a1.4 .8 13 1 0 2.7 .6a1.4 .8 13 1 0 -2.7 -.6M442 483.9a2 .9 172 1 0 -3.9 .5a2 .9 172 1 0 3.9 -.5M438.4 446.3a1.9 .5 17 1 0 3.7 1.1a1.9 .5 17 1 0 -3.7 -1.1M422.6 445.6a1.1 .8 86 1 0 .2 2.2a1.1 .8 86 1 0 -.2 -2.2M400.9 425.8a1 .6 140 1 0 -1.6 1.3a1 .6 140 1 0 1.6 -1.3M445.8 435a1.2 .8 119 1 0 -1.2 2.1a1.2 .8 119 1 0 1.2 -2.1M486.5 506.8a1.7 .5 98 1 0 -.5 3.4a1.7 .5 98 1 0 .5 -3.4M452.6 465.1a1 .7 86 1 0 .1 2.1a1 .7 86 1 0 -.1 -2.1M446.1 444.7a1.3 .7 110 1 0 -.9 2.4a1.3 .7 110 1 0 .9 -2.4M506.7 467.5a1.6 .5 109 1 0 -1.1 3.1a1.6 .5 109 1 0 1.1 -3.1M435.5 454.5a1.6 .8 136 1 0 -2.3 2.2a1.6 .8 136 1 0 2.3 -2.2M495.3 424.6a1.4 .7 108 1 0 -.9 2.6a1.4 .7 108 1 0 .9 -2.6M418.2 490.1a1.2 .9 79 1 0 .5 2.3a1.2 .9 79 1 0 -.5 -2.3M442.5 435.2a1.1 .8 101 1 0 -.4 2.2a1.1 .8 101 1 0 .4 -2.2M463.1 470.3a1.8 .5 4 1 0 3.7 .2a1.8 .5 4 1 0 -3.7 -.2M388.1 445.4a1.3 .8 156 1 0 -2.4 1.1a1.3 .8 156 1 0 2.4 -1.1M449.6 497.5a1.5 .7 77 1 0 .6 2.8a1.5 .7 77 1 0 -.6 -2.8M489.7 505.3a1.1 .7 85 1 0 .2 2.3a1.1 .7 85 1 0 -.2 -2.3M456.4 443.9a1.6 .7 14 1 0 3.1 .8a1.6 .7 14 1 0 -3.1 -.8M393.6 460.6a1.9 .9 144 1 0 -3 2.2a1.9 .9 144 1 0 3 -2.2M504.4 499a1 .5 94 1 0 -.1 2a1 .5 94 1 0 .1 -2M486.5 498.7a1.6 .7 134 1 0 -2.2 2.3a1.6 .7 134 1 0 2.2 -2.3M408.7 474.6a1.1 .6 122 1 0 -1.2 1.9a1.1 .6 122 1 0 1.2 -1.9M495.3 413a.9 .6 102 1 0 -.4 1.8a.9 .6 102 1 0 .4 -1.8M434.2 412.1a1.7 .5 71 1 0 1.1 3.3a1.7 .5 71 1 0 -1.1 -3.3"/>
<path fill="#4a2848" d="M471.6 490.5a1.4 .6 55 1 0 1.7 2.4a1.4 .6 55 1 0 -1.7 -2.4M416.3 415.9a1.3 .9 121 1 0 -1.3 2.2a1.3 .9 121 1 0 1.3 -2.2M395.7 445.9a1.3 .7 41 1 0 2 1.8a1.3 .7 41 1 0 -2 -1.8M457.2 414a1 .7 93 1 0 -.1 1.9a1 .7 93 1 0 .1 -1.9M498.4 433.2a1.2 .5 179 1 0 -2.3 0a1.2 .5 179 1 0 2.3 -0M486.3 434.5a1.9 .9 151 1 0 -3.3 1.8a1.9 .9 151 1 0 3.3 -1.8M407.8 492.1a1.1 .7 152 1 0 -2 1.1a1.1 .7 152 1 0 2 -1.1M377.1 432.8a1.6 .6 86 1 0 .2 3.2a1.6 .6 86 1 0 -.2 -3.2M393.9 423a.9 .8 37 1 0 1.5 1.2a.9 .8 37 1 0 -1.5 -1.2M500.4 462.2a.9 .8 77 1 0 .4 1.8a.9 .8 77 1 0 -.4 -1.8M470.4 471.1a1.4 .6 173 1 0 -2.8 .3a1.4 .6 173 1 0 2.8 -.3M470.8 451.7a1.4 .9 87 1 0 .1 2.8a1.4 .9 87 1 0 -.1 -2.8M391.4 495.4a1 .6 41 1 0 1.4 1.3a1 .6 41 1 0 -1.4 -1.3M458.1 453.6a1.5 .8 73 1 0 .8 2.8a1.5 .8 73 1 0 -.8 -2.8M493.3 452.7a1.6 .8 133 1 0 -2.2 2.4a1.6 .8 133 1 0 2.2 -2.4M386.2 501.5a2 .5 28 1 0 3.5 1.9a2 .5 28 1 0 -3.5 -1.9M415.6 428.8a1.8 .8 173 1 0 -3.6 .4a1.8 .8 173 1 0 3.6 -.4M449.5 432.1a.9 .5 36 1 0 1.5 1.1a.9 .5 36 1 0 -1.5 -1.1M494.4 420.4a1.2 .8 68 1 0 .9 2.2a1.2 .8 68 1 0 -.9 -2.2M382.6 473.6a1.8 .6 119 1 0 -1.8 3.2a1.8 .6 119 1 0 1.8 -3.2M432.4 411.2a1.6 .8 72 1 0 1 3a1.6 .8 72 1 0 -1 -3M474.3 451.2a1.4 .5 84 1 0 .3 2.8a1.4 .5 84 1 0 -.3 -2.8M393.8 454.2a1.6 .8 95 1 0 -.3 3.2a1.6 .8 95 1 0 .3 -3.2M434.6 410.5a2 .7 75 1 0 1 3.8a2 .7 75 1 0 -1 -3.8M500.1 491.6a1.1 .7 101 1 0 -.4 2.2a1.1 .7 101 1 0 .4 -2.2M450.6 430.1a1 .7 59 1 0 1 1.7a1 .7 59 1 0 -1 -1.7M442.9 450.8a1.7 .7 54 1 0 2 2.7a1.7 .7 54 1 0 -2 -2.7M490.1 419.4a1.5 .7 150 1 0 -2.6 1.5a1.5 .7 150 1 0 2.6 -1.5M419.5 487.4a1.2 .7 53 1 0 1.5 2a1.2 .7 53 1 0 -1.5 -2M432.5 470.4a1.7 .7 145 1 0 -2.7 1.9a1.7 .7 145 1 0 2.7 -1.9M398.6 447.5a1.3 .6 18 1 0 2.5 .8a1.3 .6 18 1 0 -2.5 -.8M456.3 471.8a1.9 .9 104 1 0 -.9 3.7a1.9 .9 104 1 0 .9 -3.7M504.9 408.8a.9 .6 129 1 0 -1.2 1.4a.9 .6 129 1 0 1.2 -1.4M482 459.9a1.7 .8 109 1 0 -1.1 3.2a1.7 .8 109 1 0 1.1 -3.2M398.2 437a1.7 .5 148 1 0 -3 1.8a1.7 .5 148 1 0 3 -1.8M435 434.6a1.1 .6 141 1 0 -1.8 1.4a1.1 .6 141 1 0 1.8 -1.4M504.7 500.2a1.2 .5 136 1 0 -1.8 1.7a1.2 .5 136 1 0 1.8 -1.7M378.7 447.2a1.2 .6 68 1 0 .9 2.3a1.2 .6 68 1 0 -.9 -2.3M429.7 466a1.1 .6 37 1 0 1.8 1.4a1.1 .6 37 1 0 -1.8 -1.4M441.3 420.7a1.2 .9 72 1 0 .7 2.3a1.2 .9 72 1 0 -.7 -2.3M459 442.2a1.7 .9 16 1 0 3.3 .9a1.7 .9 16 1 0 -3.3 -.9M446.6 499.9a1.5 .9 97 1 0 -.4 3a1.5 .9 97 1 0 .4 -3M490.5 457.6a1.3 .7 13 1 0 2.5 .6a1.3 .7 13 1 0 -2.5 -.6M497.9 422.7a1 .7 100 1 0 -.4 2a1 .7 100 1 0 .4 -2M395.6 488.1a1.4 .8 105 1 0 -.7 2.7a1.4 .8 105 1 0 .7 -2.7M466.6 463.9a1.4 .8 133 1 0 -1.9 2a1.4 .8 133 1 0 1.9 -2M469.8 505.1a1.3 .7 154 1 0 -2.4 1.2a1.3 .7 154 1 0 2.4 -1.2M386.5 494a1.6 .5 150 1 0 -2.7 1.6a1.6 .5 150 1 0 2.7 -1.6M442.1 444.2a1.2 .7 55 1 0 1.4 2a1.2 .7 55 1 0 -1.4 -2M469.9 491a1.8 .6 9 1 0 3.5 .6a1.8 .6 9 1 0 -3.5 -.6M406.9 443.8a1.6 .6 165 1 0 -3.2 .9a1.6 .6 165 1 0 3.2 -.9M413.8 485.7a1.3 .7 60 1 0 1.3 2.2a1.3 .7 60 1 0 -1.3 -2.2M399.9 431.7a1.8 .5 171 1 0 -3.6 .6a1.8 .5 171 1 0 3.6 -.6M497.2 492.8a1.2 .8 94 1 0 -.1 2.3a1.2 .8 94 1 0 .1 -2.3M460.2 485a1.6 .6 8 1 0 3.1 .5a1.6 .6 8 1 0 -3.1 -.5M434.4 475.5a1.4 .8 161 1 0 -2.7 .9a1.4 .8 161 1 0 2.7 -.9M502 429.7a.9 .8 49 1 0 1.2 1.4a.9 .8 49 1 0 -1.2 -1.4M498.9 468.3a1.8 .9 175 1 0 -3.6 .3a1.8 .9 175 1 0 3.6 -.3"/>
</g></g>
<rect x="380.0" y="412.5" width="121.5" height="94.5" fill="none" stroke="#3a3a3a" stroke-width="1"/>
<text x="312.90" y="408.30" font-size="9.8" font-weight="bold" text-anchor="middle" fill="#111" >Vehicle</text>
<text x="436.80" y="408.40" font-size="9.8" font-weight="bold" text-anchor="middle" fill="#111" >CBD</text>
<text x="104.40" y="557.30" font-size="10.8" font-weight="bold" letter-spacing="0.5" fill="#111">CD31</text>
<path d="M103.8 559.10 H133.9" stroke="#222" stroke-width="1.2"/>
<path d="M51.7 561.40 V670.90" stroke="#555" stroke-width="1" fill="none"/>
<path d="M47.7 670.90 H51.7" stroke="#555" stroke-width="1"/>
<text x="46.90" y="673.90" font-size="8.6" text-anchor="end" fill="#333" >0</text>
<path d="M47.7 652.65 H51.7" stroke="#555" stroke-width="1"/>
<text x="46.90" y="655.65" font-size="8.6" text-anchor="end" fill="#333" >5</text>
<path d="M47.7 634.40 H51.7" stroke="#555" stroke-width="1"/>
<text x="46.90" y="637.40" font-size="8.6" text-anchor="end" fill="#333" >10</text>
<path d="M47.7 616.15 H51.7" stroke="#555" stroke-width="1"/>
<text x="46.90" y="619.15" font-size="8.6" text-anchor="end" fill="#333" >15</text>
<path d="M47.7 597.90 H51.7" stroke="#555" stroke-width="1"/>
<text x="46.90" y="600.90" font-size="8.6" text-anchor="end" fill="#333" >20</text>
<path d="M47.7 579.65 H51.7" stroke="#555" stroke-width="1"/>
<text x="46.90" y="582.65" font-size="8.6" text-anchor="end" fill="#333" >25</text>
<path d="M47.7 561.40 H51.7" stroke="#555" stroke-width="1"/>
<text x="46.90" y="564.40" font-size="8.6" text-anchor="end" fill="#333" >30</text>
<path d="M78.95 584.39 V565.41 M74.45 565.41 H83.45" stroke="#333" stroke-width="1" fill="none"/>
<rect x="69.10" y="584.39" width="19.70" height="86.50" fill="#fff" stroke="#333" stroke-width="1"/>
<path d="M108.95 645.35 V638.23 M104.45 638.23 H113.45" stroke="#333" stroke-width="1" fill="none"/>
<rect x="99.10" y="645.35" width="19.70" height="25.55" fill="#111" stroke="#333" stroke-width="1"/>
<text x="108.75" y="639.20" font-size="9.5" font-weight="bold" text-anchor="middle" fill="#222" >*</text>
<text transform="translate(80.75,681.10) rotate(-45)" font-size="10" font-weight="bold" text-anchor="end" fill="#111">Vehicle</text>
<text transform="translate(110.75,681.10) rotate(-45)" font-size="10" font-weight="bold" text-anchor="end" fill="#111">CBD</text>
<text transform="translate(31.80,616.15) rotate(-90)" font-size="8.7" font-weight="bold" text-anchor="middle" fill="#111">CD31 + cells (%)</text>
<filter id="hbdveh" x="-5%" y="-5%" width="110%" height="110%"><feGaussianBlur stdDeviation="0.6"/></filter>
<clipPath id="hcdveh"><rect x="151.5" y="575.2" width="121.69999999999999" height="95.19999999999993"/></clipPath>
<g clip-path="url(#hcdveh)">
<rect x="151.5" y="575.2" width="121.69999999999999" height="95.19999999999993" fill="#f0e0ee"/>
<g filter="url(#hbdveh)">
<ellipse cx="215" cy="622" rx="24" ry="16" fill="#d4c4e4" opacity="0.6" transform="rotate(-10 215 622)"/>
<ellipse cx="210" cy="582" rx="24" ry="7" fill="#fcf6fa" opacity="1" transform="rotate(0 210 582)"/>
<ellipse cx="253" cy="597" rx="15" ry="12" fill="#fdf8fc" opacity="1" transform="rotate(0 253 597)"/>
<ellipse cx="163" cy="590" rx="12" ry="7" fill="#faf2f8" opacity="1" transform="rotate(0 163 590)"/>
<ellipse cx="162" cy="625" rx="7" ry="7" fill="#fdf8fc" opacity="1" transform="rotate(0 162 625)"/>
<ellipse cx="252" cy="627" rx="10" ry="8" fill="#fdf8fc" opacity="1" transform="rotate(0 252 627)"/>
<ellipse cx="265" cy="580" rx="8" ry="5" fill="#fbf4f8" opacity="1" transform="rotate(0 265 580)"/>
<path fill="#dcbcdc" d="M230.6 659.2a4.7 1 128 1 0 -5.8 7.4a4.7 1 128 1 0 5.8 -7.4M261.9 623.4a3.3 .7 169 1 0 -6.6 1.2a3.3 .7 169 1 0 6.6 -1.2M150.3 611.8a4.4 1 33 1 0 7.4 4.9a4.4 1 33 1 0 -7.4 -4.9M254.4 627.6a4.3 .7 146 1 0 -7.1 4.8a4.3 .7 146 1 0 7.1 -4.8M179.9 578.4a3.7 .8 15 1 0 7.2 2a3.7 .8 15 1 0 -7.2 -2M204.8 652.7a4.9 1.1 50 1 0 6.3 7.5a4.9 1.1 50 1 0 -6.3 -7.5M231.8 603.7a4.6 1.1 14 1 0 9 2.2a4.6 1.1 14 1 0 -9 -2.2M173 592.3a2.8 .8 146 1 0 -4.7 3.1a2.8 .8 146 1 0 4.7 -3.1M188.2 640.4a4.9 1 59 1 0 5.1 8.4a4.9 1 59 1 0 -5.1 -8.4M167.7 654.8a2.7 .7 88 1 0 .2 5.3a2.7 .7 88 1 0 -.2 -5.3M271.9 573.1a3 .7 30 1 0 5.1 3a3 .7 30 1 0 -5.1 -3M189.2 619.6a3.7 .7 127 1 0 -4.4 5.9a3.7 .7 127 1 0 4.4 -5.9M252.2 658.6a4.8 1 21 1 0 9 3.5a4.8 1 21 1 0 -9 -3.5M167.8 583.1a4.2 1.1 85 1 0 .8 8.4a4.2 1.1 85 1 0 -.8 -8.4M253.5 567a5.4 .7 94 1 0 -.7 10.8a5.4 .7 94 1 0 .7 -10.8M274.6 653.8a3.3 .6 129 1 0 -4.2 5.2a3.3 .6 129 1 0 4.2 -5.2M277.6 647.9a3.3 .9 152 1 0 -5.9 3.1a3.3 .9 152 1 0 5.9 -3.1M220.1 618.4a2.8 .8 116 1 0 -2.4 5a2.8 .8 116 1 0 2.4 -5M161.6 650.1a5.4 .9 66 1 0 4.5 9.9a5.4 .9 66 1 0 -4.5 -9.9M193.3 623.1a3.1 1 42 1 0 4.6 4.2a3.1 1 42 1 0 -4.6 -4.2M156.3 622.4a4.4 .6 100 1 0 -1.6 8.8a4.4 .6 100 1 0 1.6 -8.8M156.2 662.1a5.4 .6 148 1 0 -9.2 5.7a5.4 .6 148 1 0 9.2 -5.7M218.6 633.8a4 1 154 1 0 -7.2 3.6a4 1 154 1 0 7.2 -3.6M269.7 604.6a4.1 1 145 1 0 -6.7 4.7a4.1 1 145 1 0 6.7 -4.7M261.5 620.6a2.7 .6 92 1 0 -.2 5.5a2.7 .6 92 1 0 .2 -5.5M177.7 576.6a5 .8 110 1 0 -3.5 9.4a5 .8 110 1 0 3.5 -9.4M245.7 593.6a3 1 124 1 0 -3.3 4.9a3 1 124 1 0 3.3 -4.9M223.2 622.9a3.4 1 83 1 0 .8 6.7a3.4 1 83 1 0 -.8 -6.7M150.9 643.5a4.3 .7 87 1 0 .4 8.5a4.3 .7 87 1 0 -.4 -8.5M165.9 609.7a3.4 .7 33 1 0 5.7 3.8a3.4 .7 33 1 0 -5.7 -3.8M162 659.5a3.4 1.2 101 1 0 -1.3 6.6a3.4 1.2 101 1 0 1.3 -6.6M210.3 639.8a3.2 .9 28 1 0 5.6 3a3.2 .9 28 1 0 -5.6 -3M278.2 591.5a4.8 1.1 106 1 0 -2.7 9.3a4.8 1.1 106 1 0 2.7 -9.3M176.2 634.1a4 1 168 1 0 -7.8 1.6a4 1 168 1 0 7.8 -1.6"/>
<path fill="#e8cce4" d="M262.7 575.1a3.3 1 179 1 0 -6.6 .1a3.3 1 179 1 0 6.6 -.1M166.2 606.1a3.6 1.1 41 1 0 5.3 4.7a3.6 1.1 41 1 0 -5.3 -4.7M232.2 610.5a4.8 .9 44 1 0 6.8 6.7a4.8 .9 44 1 0 -6.8 -6.7M260.2 594.5a5.2 .6 172 1 0 -10.3 1.4a5.2 .6 172 1 0 10.3 -1.4M205.3 622.9a4.3 .7 31 1 0 7.4 4.5a4.3 .7 31 1 0 -7.4 -4.5M149.8 636.6a3.7 .8 53 1 0 4.5 5.9a3.7 .8 53 1 0 -4.5 -5.9M198 641.6a4.2 1 170 1 0 -8.4 1.4a4.2 1 170 1 0 8.4 -1.4M145.3 613.3a4.5 .6 23 1 0 8.2 3.6a4.5 .6 23 1 0 -8.2 -3.6M179.6 654.4a3.3 1 8 1 0 6.5 .9a3.3 1 8 1 0 -6.5 -.9M162.3 606.6a3.1 .9 92 1 0 -.3 6.2a3.1 .9 92 1 0 .3 -6.2M239.6 666.4a5.1 .9 163 1 0 -9.7 3a5.1 .9 163 1 0 9.7 -3M222.7 662.7a3.9 1.2 104 1 0 -1.9 7.6a3.9 1.2 104 1 0 1.9 -7.6M182.7 584a2.8 .7 169 1 0 -5.6 1.1a2.8 .7 169 1 0 5.6 -1.1M151.4 602.7a5.3 .7 126 1 0 -6.2 8.5a5.3 .7 126 1 0 6.2 -8.5M244.9 595.4a3.8 .7 36 1 0 6.1 4.4a3.8 .7 36 1 0 -6.1 -4.4M252.1 599.9a5 .8 109 1 0 -3.3 9.4a5 .8 109 1 0 3.3 -9.4M199.1 591.7a3 1 138 1 0 -4.5 4a3 1 138 1 0 4.5 -4M250.6 655.5a4.8 1.1 48 1 0 6.4 7.2a4.8 1.1 48 1 0 -6.4 -7.2M242.7 579.8a4 .7 3 1 0 8.1 .4a4 .7 3 1 0 -8.1 -.4M257.4 633.9a4.3 1 81 1 0 1.3 8.4a4.3 1 81 1 0 -1.3 -8.4M201.9 600.3a3.9 1.1 146 1 0 -6.4 4.3a3.9 1.1 146 1 0 6.4 -4.3M183.3 571.4a5.1 .8 94 1 0 -.7 10.3a5.1 .8 94 1 0 .7 -10.3M152.4 656a3.2 .7 11 1 0 6.3 1.3a3.2 .7 11 1 0 -6.3 -1.3M160.2 668.4a4 .9 174 1 0 -7.9 .9a4 .9 174 1 0 7.9 -.9M240.7 647.9a4.1 .7 156 1 0 -7.4 3.3a4.1 .7 156 1 0 7.4 -3.3"/>
<path fill="#e0b4d8" d="M248.7 578.5a4.1 .8 139 1 0 -6.3 5.4a4.1 .8 139 1 0 6.3 -5.4M230.5 575.6a3.2 .9 53 1 0 3.8 5.1a3.2 .9 53 1 0 -3.8 -5.1M181.7 602.2a4 .7 163 1 0 -7.6 2.3a4 .7 163 1 0 7.6 -2.3M253.7 627.3a3.5 .8 33 1 0 5.8 3.7a3.5 .8 33 1 0 -5.8 -3.7M160 657.7a3.6 .7 101 1 0 -1.4 7a3.6 .7 101 1 0 1.4 -7M249.8 664.2a3.8 1.1 11 1 0 7.4 1.5a3.8 1.1 11 1 0 -7.4 -1.5M245.4 611.3a4.5 .7 86 1 0 .6 8.9a4.5 .7 86 1 0 -.6 -8.9M164.2 624.2a3.2 .8 86 1 0 .5 6.4a3.2 .8 86 1 0 -.5 -6.4M211 624.8a3.2 .7 125 1 0 -3.6 5.2a3.2 .7 125 1 0 3.6 -5.2M199.8 613.6a3.7 1 110 1 0 -2.6 6.9a3.7 1 110 1 0 2.6 -6.9M196.3 661.2a2.8 .8 153 1 0 -5 2.6a2.8 .8 153 1 0 5 -2.6M187.1 578.9a4.4 .8 110 1 0 -3 8.3a4.4 .8 110 1 0 3 -8.3M278.7 583.9a3.8 .9 163 1 0 -7.3 2.2a3.8 .9 163 1 0 7.3 -2.2M214.1 637.4a4.6 1.1 73 1 0 2.6 8.8a4.6 1.1 73 1 0 -2.6 -8.8M211.5 670.3a4.2 .7 22 1 0 7.8 3.1a4.2 .7 22 1 0 -7.8 -3.1M193.9 634.5a2.9 .7 91 1 0 -.1 5.7a2.9 .7 91 1 0 .1 -5.7M229.4 623.4a3 .6 63 1 0 2.7 5.4a3 .6 63 1 0 -2.7 -5.4M153.3 595.3a4.3 1.2 127 1 0 -5.2 6.8a4.3 1.2 127 1 0 5.2 -6.8M188.5 635a2.7 1 109 1 0 -1.7 5.2a2.7 1 109 1 0 1.7 -5.2M277.9 647.6a2.7 1.1 123 1 0 -3 4.6a2.7 1.1 123 1 0 3 -4.6M196.1 595.3a3.5 1.1 29 1 0 6.1 3.4a3.5 1.1 29 1 0 -6.1 -3.4M205.4 648.2a3 .7 14 1 0 5.9 1.4a3 .7 14 1 0 -5.9 -1.4M156 622.9a4.2 .7 76 1 0 2 8.2a4.2 .7 76 1 0 -2 -8.2M185.2 620.1a3 .6 139 1 0 -4.5 3.9a3 .6 139 1 0 4.5 -3.9M249.7 579.6a2.9 1.2 64 1 0 2.6 5.3a2.9 1.2 64 1 0 -2.6 -5.3M246.4 611.5a3.5 1 23 1 0 6.5 2.8a3.5 1 23 1 0 -6.5 -2.8M208.8 578.4a3.9 1.1 148 1 0 -6.6 4.1a3.9 1.1 148 1 0 6.6 -4.1M202 571.4a2.7 .8 4 1 0 5.5 .4a2.7 .8 4 1 0 -5.5 -.4M171.4 650.4a3.3 1.2 57 1 0 3.6 5.4a3.3 1.2 57 1 0 -3.6 -5.4M227.6 630.1a4.1 1 170 1 0 -8 1.4a4.1 1 170 1 0 8 -1.4M200.8 630.2a5.3 .8 95 1 0 -.9 10.5a5.3 .8 95 1 0 .9 -10.5M207.5 606.2a5.1 .7 161 1 0 -9.7 3.3a5.1 .7 161 1 0 9.7 -3.3M173.4 620.4a2.8 1.2 32 1 0 4.8 3a2.8 1.2 32 1 0 -4.8 -3M157.9 648.4a3.4 .9 8 1 0 6.8 .9a3.4 .9 8 1 0 -6.8 -.9M231.1 639.2a4.9 1.2 11 1 0 9.6 1.9a4.9 1.2 11 1 0 -9.6 -1.9M169.4 648.4a3.8 .7 125 1 0 -4.4 6.3a3.8 .7 125 1 0 4.4 -6.3M255.1 588.1a3.9 1.2 35 1 0 6.5 4.5a3.9 1.2 35 1 0 -6.5 -4.5M189.7 622.7a4.1 1.1 158 1 0 -7.6 3a4.1 1.1 158 1 0 7.6 -3M164.3 660.1a4.7 1.1 124 1 0 -5.3 7.8a4.7 1.1 124 1 0 5.3 -7.8M259.6 576a4.5 1.1 139 1 0 -6.7 5.9a4.5 1.1 139 1 0 6.7 -5.9M178.5 616.6a4.5 .9 110 1 0 -3.1 8.3a4.5 .9 110 1 0 3.1 -8.3M252 613.2a5 .7 43 1 0 7.3 6.9a5 .7 43 1 0 -7.3 -6.9M256.5 576a2.7 1 82 1 0 .8 5.3a2.7 1 82 1 0 -.8 -5.3M235.3 624.1a2.8 1.1 46 1 0 3.9 4a2.8 1.1 46 1 0 -3.9 -4"/>
<path fill="#e4c4e0" d="M253 572.9a4 1.2 100 1 0 -1.4 7.9a4 1.2 100 1 0 1.4 -7.9M152.1 594.8a4.4 .6 126 1 0 -5.2 7.2a4.4 .6 126 1 0 5.2 -7.2M153.8 608.3a4.5 .9 133 1 0 -6.1 6.6a4.5 .9 133 1 0 6.1 -6.6M219.1 605.4a5.2 .9 140 1 0 -8 6.7a5.2 .9 140 1 0 8 -6.7M153.5 623.8a3.7 .8 91 1 0 -.1 7.4a3.7 .8 91 1 0 .1 -7.4M233.4 658.7a2.8 1.1 178 1 0 -5.6 .2a2.8 1.1 178 1 0 5.6 -.2M252.6 664a2.7 .8 117 1 0 -2.4 4.8a2.7 .8 117 1 0 2.4 -4.8M169 660.9a3.6 .9 161 1 0 -6.7 2.4a3.6 .9 161 1 0 6.7 -2.4M261.9 637.7a3.2 1.1 73 1 0 1.9 6.1a3.2 1.1 73 1 0 -1.9 -6.1M226.5 591.8a3.6 1.2 91 1 0 -.1 7.2a3.6 1.2 91 1 0 .1 -7.2M192.8 633.7a3.8 .8 157 1 0 -7 2.9a3.8 .8 157 1 0 7 -2.9M157.8 653.1a3.9 1.1 84 1 0 .8 7.7a3.9 1.1 84 1 0 -.8 -7.7M267.9 635.2a5.3 1.1 12 1 0 10.3 2.3a5.3 1.1 12 1 0 -10.3 -2.3M198.5 602.1a4.9 1.2 136 1 0 -7 6.7a4.9 1.2 136 1 0 7 -6.7M246.6 636.8a4.7 .8 40 1 0 7.3 6.1a4.7 .8 40 1 0 -7.3 -6.1M199.1 600.4a3.8 1.1 163 1 0 -7.3 2.2a3.8 1.1 163 1 0 7.3 -2.2M256.9 650.7a4.1 1.2 131 1 0 -5.4 6.1a4.1 1.2 131 1 0 5.4 -6.1M269.9 665.1a2.6 1.1 21 1 0 4.8 1.8a2.6 1.1 21 1 0 -4.8 -1.8M212.9 614.9a3.6 .8 135 1 0 -5.2 5.1a3.6 .8 135 1 0 5.2 -5.1M214.8 626.9a3.4 .7 132 1 0 -4.5 5.1a3.4 .7 132 1 0 4.5 -5.1M180 581.9a3 .9 136 1 0 -4.3 4.2a3 .9 136 1 0 4.3 -4.2M226.4 576a4.5 1.1 159 1 0 -8.4 3.3a4.5 1.1 159 1 0 8.4 -3.3M248.2 617.3a2.7 1 53 1 0 3.2 4.3a2.7 1 53 1 0 -3.2 -4.3M193.2 646.7a5.2 .6 85 1 0 1 10.4a5.2 .6 85 1 0 -1 -10.4M168.6 636.8a5.2 .9 18 1 0 9.9 3.2a5.2 .9 18 1 0 -9.9 -3.2M142.4 574.8a4.5 .8 17 1 0 8.6 2.6a4.5 .8 17 1 0 -8.6 -2.6M148.1 670.7a2.7 .6 51 1 0 3.4 4.2a2.7 .6 51 1 0 -3.4 -4.2"/>
<path fill="#6a4a8c" d="M254 576.6a1.3 .8 135 1 0 -1.8 1.8a1.3 .8 135 1 0 1.8 -1.8M226.6 582.5a1.4 .8 25 1 0 2.6 1.2a1.4 .8 25 1 0 -2.6 -1.2M209.4 602.6a1.4 .9 154 1 0 -2.5 1.3a1.4 .9 154 1 0 2.5 -1.3M259.6 665.9a1.8 .9 66 1 0 1.5 3.3a1.8 .9 66 1 0 -1.5 -3.3M224.5 599.9a1.1 .8 103 1 0 -.5 2.2a1.1 .8 103 1 0 .5 -2.2M270.6 587.1a2.3 .7 174 1 0 -4.5 .4a2.3 .7 174 1 0 4.5 -.4M269.9 620.6a2.1 .6 103 1 0 -1 4.1a2.1 .6 103 1 0 1 -4.1M179.2 637.5a2.1 .6 60 1 0 2.1 3.6a2.1 .6 60 1 0 -2.1 -3.6M217.3 625.5a1.8 .8 125 1 0 -2 2.9a1.8 .8 125 1 0 2 -2.9M209.5 656a2.2 .9 119 1 0 -2.1 3.8a2.2 .9 119 1 0 2.1 -3.8M213.7 623.3a1.7 .6 102 1 0 -.7 3.4a1.7 .6 102 1 0 .7 -3.4M267.4 656.4a1.9 .9 24 1 0 3.5 1.5a1.9 .9 24 1 0 -3.5 -1.5M166 607.1a1.9 .8 43 1 0 2.8 2.6a1.9 .8 43 1 0 -2.8 -2.6M198.6 662.3a2.1 .7 87 1 0 .2 4.1a2.1 .7 87 1 0 -.2 -4.1M208.8 608a1.5 .7 60 1 0 1.5 2.7a1.5 .7 60 1 0 -1.5 -2.7M199.4 664.9a1.6 .7 64 1 0 1.5 2.9a1.6 .7 64 1 0 -1.5 -2.9M238.3 627.6a1.4 .7 179 1 0 -2.8 .1a1.4 .7 179 1 0 2.8 -.1M237.5 654.7a2.1 .8 163 1 0 -4 1.2a2.1 .8 163 1 0 4 -1.2M240.8 583.8a2.2 1 1 1 0 4.4 .1a2.2 1 1 1 0 -4.4 -.1M185.5 599.5a1.7 .6 36 1 0 2.7 2a1.7 .6 36 1 0 -2.7 -2M229.3 580.5a2 1 167 1 0 -4 .9a2 1 167 1 0 4 -.9M191.3 615.4a1.7 .8 13 1 0 3.2 .7a1.7 .8 13 1 0 -3.2 -.7M189.2 652.6a1.8 .7 10 1 0 3.5 .6a1.8 .7 10 1 0 -3.5 -.6M200.2 598a2.3 .8 1 1 0 4.6 .1a2.3 .8 1 1 0 -4.6 -.1M208.5 587.5a2 .9 73 1 0 1.2 3.8a2 .9 73 1 0 -1.2 -3.8M255.4 612.2a1.2 .8 159 1 0 -2.3 .9a1.2 .8 159 1 0 2.3 -.9M147.7 627.4a1.9 .8 121 1 0 -1.9 3.3a1.9 .8 121 1 0 1.9 -3.3M227.9 615.6a2 .7 20 1 0 3.9 1.4a2 .7 20 1 0 -3.9 -1.4M211.4 621.4a1.9 .7 73 1 0 1.2 3.7a1.9 .7 73 1 0 -1.2 -3.7M202.4 620.7a1.5 .8 66 1 0 1.2 2.7a1.5 .8 66 1 0 -1.2 -2.7M223.9 657a1.8 .7 87 1 0 .2 3.5a1.8 .7 87 1 0 -.2 -3.5M246.4 664.8a1.9 1 22 1 0 3.6 1.4a1.9 1 22 1 0 -3.6 -1.4"/>
<path fill="#8a6aa8" d="M206.5 640.2a1.4 .7 118 1 0 -1.3 2.5a1.4 .7 118 1 0 1.3 -2.5M188.8 618.4a1.6 .8 105 1 0 -.8 3.1a1.6 .8 105 1 0 .8 -3.1M165.2 655a1.9 .8 11 1 0 3.7 .7a1.9 .8 11 1 0 -3.7 -.7M219.2 587a1.9 .9 120 1 0 -1.9 3.3a1.9 .9 120 1 0 1.9 -3.3M200.3 637.5a1.2 .7 122 1 0 -1.2 2a1.2 .7 122 1 0 1.2 -2M163.9 623a1.6 .9 160 1 0 -2.9 1.1a1.6 .9 160 1 0 2.9 -1.1M244.8 599.3a2.3 .8 167 1 0 -4.4 1a2.3 .8 167 1 0 4.4 -1M195.4 641.1a1.2 .9 163 1 0 -2.2 .7a1.2 .9 163 1 0 2.2 -.7M274.4 583.6a1.8 .7 35 1 0 2.9 2.1a1.8 .7 35 1 0 -2.9 -2.1M202.1 622.1a2.1 1 38 1 0 3.4 2.6a2.1 1 38 1 0 -3.4 -2.6M242.2 607.9a2.2 .6 29 1 0 3.9 2.2a2.2 .6 29 1 0 -3.9 -2.2M219.8 615a1.8 .8 123 1 0 -2 3a1.8 .8 123 1 0 2 -3M239 607a1.4 .7 138 1 0 -2 1.8a1.4 .7 138 1 0 2 -1.8M199.5 581.6a2 .9 136 1 0 -2.8 2.8a2 .9 136 1 0 2.8 -2.8M242.4 613.6a1.9 .7 126 1 0 -2.3 3.1a1.9 .7 126 1 0 2.3 -3.1M212.6 614.3a1.1 .9 160 1 0 -2.1 .8a1.1 .9 160 1 0 2.1 -.8M193.4 579a1.4 .9 142 1 0 -2.2 1.7a1.4 .9 142 1 0 2.2 -1.7M228.7 612.8a2.2 .8 150 1 0 -3.8 2.2a2.2 .8 150 1 0 3.8 -2.2M267.9 623.4a1.7 .8 18 1 0 3.2 1.1a1.7 .8 18 1 0 -3.2 -1.1M241.3 662.1a1.5 .8 53 1 0 1.8 2.5a1.5 .8 53 1 0 -1.8 -2.5M215 670.2a1.3 .8 79 1 0 .5 2.5a1.3 .8 79 1 0 -.5 -2.5M200.3 595a1.6 .9 129 1 0 -2 2.5a1.6 .9 129 1 0 2 -2.5M164.3 617.5a1.5 1 5 1 0 3 .3a1.5 1 5 1 0 -3 -.3M262.4 614.4a1.1 .9 26 1 0 2 1a1.1 .9 26 1 0 -2 -1M171.1 583.4a1.8 .8 56 1 0 2.1 3a1.8 .8 56 1 0 -2.1 -3M194.6 600a1.5 .7 30 1 0 2.6 1.5a1.5 .7 30 1 0 -2.6 -1.5M237.1 661.9a2.1 .7 69 1 0 1.5 3.9a2.1 .7 69 1 0 -1.5 -3.9M271 594.2a1.1 .9 43 1 0 1.6 1.5a1.1 .9 43 1 0 -1.6 -1.5M170.1 617.8a1.2 .9 168 1 0 -2.4 .5a1.2 .9 168 1 0 2.4 -.5M247.1 611.3a1.7 .9 174 1 0 -3.4 .3a1.7 .9 174 1 0 3.4 -.3"/>
<path fill="#4a3470" d="M204.2 577a1.2 .9 155 1 0 -2.2 1a1.2 .9 155 1 0 2.2 -1M188 597.4a2 .7 11 1 0 3.9 .8a2 .7 11 1 0 -3.9 -.8M220.2 634.4a1.5 1 124 1 0 -1.6 2.5a1.5 1 124 1 0 1.6 -2.5M162.7 661.3a2.1 .9 140 1 0 -3.2 2.7a2.1 .9 140 1 0 3.2 -2.7M262.6 644.3a1.6 .6 152 1 0 -2.9 1.5a1.6 .6 152 1 0 2.9 -1.5M243.2 618.3a1.7 .7 30 1 0 2.9 1.7a1.7 .7 30 1 0 -2.9 -1.7M147 619.2a1.7 1 26 1 0 3 1.5a1.7 1 26 1 0 -3 -1.5M245.8 609.9a2 .9 130 1 0 -2.5 3a2 .9 130 1 0 2.5 -3M231.3 632.6a1.4 .8 3 1 0 2.9 .1a1.4 .8 3 1 0 -2.9 -.1M247.9 627.1a1.5 .9 35 1 0 2.5 1.7a1.5 .9 35 1 0 -2.5 -1.7M176.9 583.1a1.9 .7 145 1 0 -3.1 2.2a1.9 .7 145 1 0 3.1 -2.2M159.1 666.2a2 .8 155 1 0 -3.6 1.7a2 .8 155 1 0 3.6 -1.7M203 633.1a2.3 .6 108 1 0 -1.4 4.3a2.3 .6 108 1 0 1.4 -4.3M254.4 666.7a1.2 .6 70 1 0 .8 2.3a1.2 .6 70 1 0 -.8 -2.3M234.6 660.5a1.4 .6 100 1 0 -.5 2.7a1.4 .6 100 1 0 .5 -2.7M204.4 620.9a1.2 .7 41 1 0 1.8 1.6a1.2 .7 41 1 0 -1.8 -1.6M174.9 626.6a2.1 .9 145 1 0 -3.5 2.4a2.1 .9 145 1 0 3.5 -2.4M174.8 574.1a1.6 .8 169 1 0 -3.2 .6a1.6 .8 169 1 0 3.2 -.6M237.1 601.7a1.2 .7 16 1 0 2.2 .6a1.2 .7 16 1 0 -2.2 -.6M196.8 626.3a1.7 1 90 1 0 0 3.3a1.7 1 90 1 0 -0 -3.3"/>
<path fill="#5a3c7c" d="M258.1 579.9a1.6 .9 132 1 0 -2.1 2.4a1.6 .9 132 1 0 2.1 -2.4M150 650.9a1.6 .7 24 1 0 2.9 1.3a1.6 .7 24 1 0 -2.9 -1.3M261.6 605.4a1.7 .9 149 1 0 -2.9 1.8a1.7 .9 149 1 0 2.9 -1.8M158.9 602.9a1.4 1 114 1 0 -1.1 2.5a1.4 1 114 1 0 1.1 -2.5M234.5 650.5a1.8 .9 120 1 0 -1.8 3.1a1.8 .9 120 1 0 1.8 -3.1M210 605a1.6 .6 117 1 0 -1.4 2.8a1.6 .6 117 1 0 1.4 -2.8M250.7 634.7a1.5 .8 64 1 0 1.3 2.7a1.5 .8 64 1 0 -1.3 -2.7M165.6 666.5a1.5 .7 164 1 0 -2.9 .8a1.5 .7 164 1 0 2.9 -.8M195.4 623.3a1.3 .6 128 1 0 -1.6 2.1a1.3 .6 128 1 0 1.6 -2.1M184.3 660.8a2.3 .7 111 1 0 -1.6 4.2a2.3 .7 111 1 0 1.6 -4.2M264.8 630a1.8 .7 68 1 0 1.4 3.3a1.8 .7 68 1 0 -1.4 -3.3M256.7 585.4a1.9 .9 102 1 0 -.8 3.7a1.9 .9 102 1 0 .8 -3.7M262.8 641.2a2 1 63 1 0 1.8 3.5a2 1 63 1 0 -1.8 -3.5M202.2 624.4a1.3 .8 118 1 0 -1.2 2.3a1.3 .8 118 1 0 1.2 -2.3M259.4 574a2.2 .7 56 1 0 2.5 3.7a2.2 .7 56 1 0 -2.5 -3.7M198.1 590.2a2.1 .7 143 1 0 -3.3 2.5a2.1 .7 143 1 0 3.3 -2.5M200.6 633.5a1.7 .7 21 1 0 3.2 1.2a1.7 .7 21 1 0 -3.2 -1.2M155.2 652.8a1.5 .8 142 1 0 -2.4 1.9a1.5 .8 142 1 0 2.4 -1.9M197.8 657.6a2 1 48 1 0 2.6 2.9a2 1 48 1 0 -2.6 -2.9M165.4 583.7a2.2 .6 113 1 0 -1.7 4.1a2.2 .6 113 1 0 1.7 -4.1M241.3 613.1a1.3 .7 104 1 0 -.6 2.6a1.3 .7 104 1 0 .6 -2.6M193.8 599.9a2 .9 148 1 0 -3.4 2.1a2 .9 148 1 0 3.4 -2.1M192.3 619.1a1.4 .7 52 1 0 1.8 2.2a1.4 .7 52 1 0 -1.8 -2.2"/>
<path fill="#7a5a9a" d="M203.5 574.3a1.3 .7 110 1 0 -.9 2.5a1.3 .7 110 1 0 .9 -2.5M196.4 607.9a1.9 .8 30 1 0 3.2 1.8a1.9 .8 30 1 0 -3.2 -1.8M206.4 643.6a2.1 1 35 1 0 3.4 2.4a2.1 1 35 1 0 -3.4 -2.4M264 602.8a2 .9 175 1 0 -3.9 .3a2 .9 175 1 0 3.9 -.3M241.7 635.5a2.1 .8 67 1 0 1.6 3.9a2.1 .8 67 1 0 -1.6 -3.9M260.2 583.3a1.4 .7 20 1 0 2.7 1a1.4 .7 20 1 0 -2.7 -1M154 585.5a1.1 .9 40 1 0 1.7 1.5a1.1 .9 40 1 0 -1.7 -1.5M190.6 609a1.8 1 141 1 0 -2.8 2.3a1.8 1 141 1 0 2.8 -2.3M198.8 615.6a1.6 .8 159 1 0 -2.9 1.1a1.6 .8 159 1 0 2.9 -1.1M217.8 642.5a1.3 .8 173 1 0 -2.7 .3a1.3 .8 173 1 0 2.7 -.3M193.9 649.1a1.7 .8 142 1 0 -2.7 2.1a1.7 .8 142 1 0 2.7 -2.1M194.6 632.9a1.2 .7 178 1 0 -2.3 .1a1.2 .7 178 1 0 2.3 -.1M227.7 612.8a1.8 .8 7 1 0 3.5 .4a1.8 .8 7 1 0 -3.5 -.4M222.3 611.4a2.2 .6 87 1 0 .2 4.4a2.2 .6 87 1 0 -.2 -4.4M179.5 624.3a2 .7 126 1 0 -2.3 3.2a2 .7 126 1 0 2.3 -3.2M153 579.2a2.1 .6 52 1 0 2.6 3.2a2.1 .6 52 1 0 -2.6 -3.2M244.7 638.6a1.1 .9 19 1 0 2.1 .7a1.1 .9 19 1 0 -2.1 -.7M195.7 586.4a2.3 .9 129 1 0 -2.9 3.6a2.3 .9 129 1 0 2.9 -3.6M195.8 606.6a1.5 .7 176 1 0 -3 .2a1.5 .7 176 1 0 3 -.2M247 633.1a1.3 .8 158 1 0 -2.4 1a1.3 .8 158 1 0 2.4 -1M177.7 597.6a2.2 .8 3 1 0 4.4 .2a2.2 .8 3 1 0 -4.4 -.2M261.1 593a1.7 .6 53 1 0 2.1 2.8a1.7 .6 53 1 0 -2.1 -2.8M278.3 638.5a1.7 .9 128 1 0 -2.1 2.7a1.7 .9 128 1 0 2.1 -2.7M227.1 626.5a1.5 .9 116 1 0 -1.4 2.8a1.5 .9 116 1 0 1.4 -2.8M229.8 586.9a1.6 .8 166 1 0 -3 .8a1.6 .8 166 1 0 3 -.8M203.8 578.6a1.4 .9 13 1 0 2.8 .7a1.4 .9 13 1 0 -2.8 -.7M173.8 638a1.4 1 4 1 0 2.8 .2a1.4 1 4 1 0 -2.8 -.2M207.1 659.9a1.6 .8 91 1 0 -0 3.2a1.6 .8 91 1 0 0 -3.2M174.4 644.7a1.8 .6 44 1 0 2.6 2.5a1.8 .6 44 1 0 -2.6 -2.5M175.8 645a2 .7 119 1 0 -1.9 3.4a2 .7 119 1 0 1.9 -3.4M262.7 642.5a1.2 .8 28 1 0 2.1 1.1a1.2 .8 28 1 0 -2.1 -1.1M207.5 630a1.2 .9 179 1 0 -2.3 0a1.2 .9 179 1 0 2.3 -0M213.3 615.7a2.1 .8 150 1 0 -3.6 2.1a2.1 .8 150 1 0 3.6 -2.1M221.3 578.3a1.4 .6 52 1 0 1.7 2.1a1.4 .6 52 1 0 -1.7 -2.1M264 640.6a2 .6 44 1 0 2.9 2.8a2 .6 44 1 0 -2.9 -2.8"/>
<path fill="#9a4a20" d="M205.9 610.8a1.1 .9 160 1 0 -2 .7a1.1 .9 160 1 0 2 -.7M211.1 606.7a1.8 1.3 115 1 0 -1.5 3.3a1.8 1.3 115 1 0 1.5 -3.3M203 609.1a1.2 .9 1 1 0 2.4 .1a1.2 .9 1 1 0 -2.4 -.1M211.8 607.6a1.5 1.1 140 1 0 -2.3 1.9a1.5 1.1 140 1 0 2.3 -1.9M180.2 629.8a1.3 1.2 141 1 0 -2 1.6a1.3 1.2 141 1 0 2 -1.6M177.2 624.4a1.4 .9 149 1 0 -2.4 1.4a1.4 .9 149 1 0 2.4 -1.4M191 627.8a1.9 1.6 175 1 0 -3.8 .3a1.9 1.6 175 1 0 3.8 -.3M185.8 625.4a1 .6 111 1 0 -.7 1.9a1 .6 111 1 0 .7 -1.9M187.7 629.1a1.3 1.2 73 1 0 .8 2.6a1.3 1.2 73 1 0 -.8 -2.6M261.1 639.2a1.3 .9 97 1 0 -.3 2.5a1.3 .9 97 1 0 .3 -2.5M258.7 633.9a1.2 1 164 1 0 -2.3 .7a1.2 1 164 1 0 2.3 -.7M255.1 639.7a1.1 .7 91 1 0 -.1 2.3a1.1 .7 91 1 0 .1 -2.3M259.9 636.2a1.6 1.2 34 1 0 2.7 1.8a1.6 1.2 34 1 0 -2.7 -1.8M255.3 639.3a2 1.9 85 1 0 .4 3.9a2 1.9 85 1 0 -.4 -3.9M259.3 636.2a1.6 1.1 167 1 0 -3.2 .8a1.6 1.1 167 1 0 3.2 -.8M151.2 636.7a1.9 1.5 76 1 0 .9 3.8a1.9 1.5 76 1 0 -.9 -3.8M253.2 650.3a1.5 1.4 64 1 0 1.3 2.6a1.5 1.4 64 1 0 -1.3 -2.6"/>
<path fill="#7a2a10" d="M206 607.7a1.7 1.4 78 1 0 .7 3.2a1.7 1.4 78 1 0 -.7 -3.2M210.5 609.6a1.1 1 28 1 0 1.9 1a1.1 1 28 1 0 -1.9 -1M183.2 626.9a1.2 .9 164 1 0 -2.4 .7a1.2 .9 164 1 0 2.4 -.7M179.4 627.7a1.3 1 177 1 0 -2.6 .1a1.3 1 177 1 0 2.6 -.1M181.4 629.4a1.9 1.8 147 1 0 -3.2 2.1a1.9 1.8 147 1 0 3.2 -2.1M177 627.8a1.5 1.3 111 1 0 -1.1 2.8a1.5 1.3 111 1 0 1.1 -2.8M262.4 635.7a1.1 .9 168 1 0 -2.2 .5a1.1 .9 168 1 0 2.2 -.5M249.6 632.2a1.2 .9 74 1 0 .6 2.3a1.2 .9 74 1 0 -.6 -2.3M252 634.6a1.1 .8 178 1 0 -2.2 .1a1.1 .8 178 1 0 2.2 -.1M263.5 636.5a1.9 1.7 85 1 0 .3 3.8a1.9 1.7 85 1 0 -.3 -3.8M249.9 631.3a1.9 1.2 145 1 0 -3.1 2.2a1.9 1.2 145 1 0 3.1 -2.2M258.3 638.1a1.8 1.2 123 1 0 -1.9 3a1.8 1.2 123 1 0 1.9 -3M251.5 638.7a1.4 1 37 1 0 2.2 1.7a1.4 1 37 1 0 -2.2 -1.7M156.7 636.7a1.8 1.3 162 1 0 -3.4 1.1a1.8 1.3 162 1 0 3.4 -1.1M156.1 638.8a1.3 1.2 86 1 0 .2 2.5a1.3 1.2 86 1 0 -.2 -2.5M250.6 651.5a1.4 1.3 33 1 0 2.4 1.5a1.4 1.3 33 1 0 -2.4 -1.5"/>
<path fill="#5a1a0c" d="M204.7 605.6a1.5 1.1 7 1 0 3.1 .4a1.5 1.1 7 1 0 -3.1 -.4M203.4 606.9a1.3 1.3 158 1 0 -2.4 1a1.3 1.3 158 1 0 2.4 -1M202.8 609.9a2 1.5 150 1 0 -3.4 2a2 1.5 150 1 0 3.4 -2M207 605.6a1.8 1.2 53 1 0 2.2 2.9a1.8 1.2 53 1 0 -2.2 -2.9M202.2 608.1a1.4 1.2 43 1 0 2.1 1.9a1.4 1.2 43 1 0 -2.1 -1.9M209.2 609.3a1.5 1.4 68 1 0 1.1 2.8a1.5 1.4 68 1 0 -1.1 -2.8M204.5 605.6a1.9 1.7 37 1 0 3.1 2.3a1.9 1.7 37 1 0 -3.1 -2.3M200.7 606.9a1.7 1.1 124 1 0 -1.9 2.9a1.7 1.1 124 1 0 1.9 -2.9M211.4 608.2a1 .6 35 1 0 1.7 1.2a1 .6 35 1 0 -1.7 -1.2M206.2 604.8a1.4 1.1 51 1 0 1.8 2.2a1.4 1.1 51 1 0 -1.8 -2.2M174.3 627.3a1.9 1.8 37 1 0 3 2.3a1.9 1.8 37 1 0 -3 -2.3M184.8 625.6a1.8 1.3 101 1 0 -.7 3.6a1.8 1.3 101 1 0 .7 -3.6M190.9 627.9a1.4 .9 172 1 0 -2.8 .4a1.4 .9 172 1 0 2.8 -.4M210.9 628.9a1.6 1 48 1 0 2.1 2.4a1.6 1 48 1 0 -2.1 -2.4M210.9 628a1.1 .9 95 1 0 -.2 2.2a1.1 .9 95 1 0 .2 -2.2M211.4 631.9a2 1.3 155 1 0 -3.5 1.7a2 1.3 155 1 0 3.5 -1.7M259 638.1a1 .6 44 1 0 1.5 1.4a1 .6 44 1 0 -1.5 -1.4M254.1 631.4a1.2 1 73 1 0 .7 2.4a1.2 1 73 1 0 -.7 -2.4M253.3 631.9a1.3 1 118 1 0 -1.2 2.3a1.3 1 118 1 0 1.2 -2.3M252.3 638.9a1.2 1 79 1 0 .5 2.4a1.2 1 79 1 0 -.5 -2.4M255.3 636a2 1.6 149 1 0 -3.4 2a2 1.6 149 1 0 3.4 -2M152.5 638.1a1.5 .9 80 1 0 .5 2.9a1.5 .9 80 1 0 -.5 -2.9M149.2 640a1.3 .9 31 1 0 2.2 1.3a1.3 .9 31 1 0 -2.2 -1.3M253.1 653.7a1.5 1.4 63 1 0 1.3 2.6a1.5 1.4 63 1 0 -1.3 -2.6"/>
<path fill="#6a2010" d="M205.8 602.5a1.6 1.3 81 1 0 .5 3.2a1.6 1.3 81 1 0 -.5 -3.2M203.3 608.1a1.6 1.1 77 1 0 .7 3a1.6 1.1 77 1 0 -.7 -3M191.2 631.7a1.8 1.1 1 1 0 3.7 .1a1.8 1.1 1 1 0 -3.7 -.1M183.4 630.9a1.1 1.1 79 1 0 .4 2.2a1.1 1.1 79 1 0 -.4 -2.2M184.8 627.5a1.4 1.1 42 1 0 2.1 1.8a1.4 1.1 42 1 0 -2.1 -1.8M179.7 629.6a1.9 1.8 33 1 0 3.1 2a1.9 1.8 33 1 0 -3.1 -2M184.1 631.3a1 .7 2 1 0 2 .1a1 .7 2 1 0 -2 -.1M179.8 627.4a1.6 1.5 15 1 0 3.1 .8a1.6 1.5 15 1 0 -3.1 -.8M215 632.8a1.1 .7 163 1 0 -2.1 .6a1.1 .7 163 1 0 2.1 -.6M213.8 629.7a2 1.3 170 1 0 -3.9 .7a2 1.3 170 1 0 3.9 -.7M258.1 638.7a1.4 1.1 54 1 0 1.7 2.3a1.4 1.1 54 1 0 -1.7 -2.3M260.6 633.5a1.9 1.6 60 1 0 1.9 3.2a1.9 1.6 60 1 0 -1.9 -3.2M257.2 632.3a1.3 1 57 1 0 1.4 2.1a1.3 1 57 1 0 -1.4 -2.1M260.8 637.3a1.6 1.5 38 1 0 2.5 1.9a1.6 1.5 38 1 0 -2.5 -1.9M253.7 639.8a1.1 .8 79 1 0 .4 2.1a1.1 .8 79 1 0 -.4 -2.1M259 638.6a1.6 1.4 167 1 0 -3.1 .7a1.6 1.4 167 1 0 3.1 -.7M245.9 634.3a1.6 1.5 46 1 0 2.2 2.3a1.6 1.5 46 1 0 -2.2 -2.3M262.4 634.7a1.4 1.3 171 1 0 -2.8 .4a1.4 1.3 171 1 0 2.8 -.4M151.6 638.5a1.5 1.5 79 1 0 .6 3a1.5 1.5 79 1 0 -.6 -3M156.9 638.1a1.5 1.4 57 1 0 1.6 2.5a1.5 1.4 57 1 0 -1.6 -2.5M250.7 650.5a1.3 1.3 39 1 0 2.1 1.7a1.3 1.3 39 1 0 -2.1 -1.7M251.7 653.2a1.3 1.1 97 1 0 -.3 2.5a1.3 1.1 97 1 0 .3 -2.5"/>
<path fill="#8a3a18" d="M213.3 609.3a2 1.4 178 1 0 -3.9 .2a2 1.4 178 1 0 3.9 -.2M180.1 626.3a1.8 1.1 23 1 0 3.4 1.4a1.8 1.1 23 1 0 -3.4 -1.4M189.7 632a1.4 1.1 176 1 0 -2.9 .2a1.4 1.1 176 1 0 2.9 -.2M189.2 631.9a1.7 1.6 141 1 0 -2.7 2.2a1.7 1.6 141 1 0 2.7 -2.2M214.7 632a1.4 1.1 80 1 0 .5 2.8a1.4 1.1 80 1 0 -.5 -2.8M212.3 632.2a1.4 1.1 67 1 0 1.1 2.5a1.4 1.1 67 1 0 -1.1 -2.5M213.9 629.9a1.8 1.7 96 1 0 -.4 3.6a1.8 1.7 96 1 0 .4 -3.6M258.5 634.9a1.1 .9 25 1 0 2 .9a1.1 .9 25 1 0 -2 -.9M251.7 631.3a1.9 1.9 50 1 0 2.4 2.9a1.9 1.9 50 1 0 -2.4 -2.9M245.1 636.1a1.8 1.5 19 1 0 3.4 1.2a1.8 1.5 19 1 0 -3.4 -1.2M256.8 631.7a1.8 1.7 68 1 0 1.3 3.3a1.8 1.7 68 1 0 -1.3 -3.3"/>
</g></g>
<rect x="152.0" y="575.7" width="120.69999999999999" height="94.19999999999993" fill="none" stroke="#3a3a3a" stroke-width="1"/>
<filter id="hbdcbd" x="-5%" y="-5%" width="110%" height="110%"><feGaussianBlur stdDeviation="0.6"/></filter>
<clipPath id="hcdcbd"><rect x="279.4" y="575" width="122.0" height="95.39999999999998"/></clipPath>
<g clip-path="url(#hcdcbd)">
<rect x="279.4" y="575" width="122.0" height="95.39999999999998" fill="#f2e4f2"/>
<g filter="url(#hbdcbd)">
<ellipse cx="362" cy="612" rx="16" ry="30" fill="#faf4fa" opacity="0.8" transform="rotate(15 362 612)"/>
<ellipse cx="300" cy="625" rx="10" ry="30" fill="#f8eef8" opacity="0.6" transform="rotate(-10 300 625)"/>
<ellipse cx="327" cy="600" rx="7" ry="7" fill="#fefafe" opacity="1" transform="rotate(0 327 600)"/>
<path fill="#e4c0dc" d="M283.3 646.3a4 .8 75 1 0 2.1 7.6a4 .8 75 1 0 -2.1 -7.6M388.5 628.6a5.3 .8 79 1 0 2 10.3a5.3 .8 79 1 0 -2 -10.3M327.2 626.9a3.6 1.2 11 1 0 7.1 1.4a3.6 1.2 11 1 0 -7.1 -1.4M389.4 654.4a3.2 .7 82 1 0 .9 6.4a3.2 .7 82 1 0 -.9 -6.4M405.4 573.8a3.9 .9 123 1 0 -4.3 6.6a3.9 .9 123 1 0 4.3 -6.6M301.2 625.3a5.1 .9 166 1 0 -10 2.6a5.1 .9 166 1 0 10 -2.6M375.2 594.1a5.3 .6 98 1 0 -1.6 10.5a5.3 .6 98 1 0 1.6 -10.5M370.5 592a5.5 .7 9 1 0 10.8 1.7a5.5 .7 9 1 0 -10.8 -1.7M283.2 647.2a5 .8 0 1 0 10 .1a5 .8 0 1 0 -10 -.1M337.7 585.4a3.4 1.1 39 1 0 5.2 4.2a3.4 1.1 39 1 0 -5.2 -4.2M353.7 664.6a2.5 1 154 1 0 -4.6 2.3a2.5 1 154 1 0 4.6 -2.3M299.8 665.6a5.2 .7 58 1 0 5.5 8.9a5.2 .7 58 1 0 -5.5 -8.9M301.7 603.4a5.3 .8 141 1 0 -8.2 6.7a5.3 .8 141 1 0 8.2 -6.7M386.1 654.1a2.7 1 168 1 0 -5.3 1.1a2.7 1 168 1 0 5.3 -1.1M280.2 578.4a2.8 .7 57 1 0 3 4.6a2.8 .7 57 1 0 -3 -4.6M385 641.5a4.1 1 152 1 0 -7.2 3.8a4.1 1 152 1 0 7.2 -3.8M380.1 650.7a3.7 1 42 1 0 5.4 4.9a3.7 1 42 1 0 -5.4 -4.9M298.1 595.8a3.5 1 30 1 0 6.1 3.6a3.5 1 30 1 0 -6.1 -3.6M373.5 579.2a4.2 .9 177 1 0 -8.5 .4a4.2 .9 177 1 0 8.5 -.4M380.4 622.9a3.9 .9 103 1 0 -1.8 7.7a3.9 .9 103 1 0 1.8 -7.7M315.1 568.8a5.3 .7 43 1 0 7.7 7.3a5.3 .7 43 1 0 -7.7 -7.3M389.3 596.1a2.9 .9 42 1 0 4.2 3.9a2.9 .9 42 1 0 -4.2 -3.9M308.6 642.2a5.5 .6 69 1 0 3.9 10.3a5.5 .6 69 1 0 -3.9 -10.3M336.4 606.9a4.3 1.2 141 1 0 -6.7 5.5a4.3 1.2 141 1 0 6.7 -5.5M345.8 603a3.1 .8 57 1 0 3.4 5.3a3.1 .8 57 1 0 -3.4 -5.3M373.3 653a5.4 .8 160 1 0 -10.2 3.6a5.4 .8 160 1 0 10.2 -3.6M339.4 649a3.9 .7 177 1 0 -7.8 .5a3.9 .7 177 1 0 7.8 -.5M319.4 644.3a4.1 1.1 6 1 0 8.2 .9a4.1 1.1 6 1 0 -8.2 -.9M287.5 603.8a4.8 1 69 1 0 3.5 9a4.8 1 69 1 0 -3.5 -9M365 586.5a3.2 .8 160 1 0 -6.1 2.2a3.2 .8 160 1 0 6.1 -2.2M396.7 612.6a4.3 .9 69 1 0 3 8a4.3 .9 69 1 0 -3 -8M320.6 574.5a3.2 .7 142 1 0 -5.1 3.9a3.2 .7 142 1 0 5.1 -3.9M331.3 652.9a3.4 .9 172 1 0 -6.8 1a3.4 .9 172 1 0 6.8 -1"/>
<path fill="#e8d0e8" d="M389.3 634.5a3.8 .7 52 1 0 4.7 6a3.8 .7 52 1 0 -4.7 -6M347.9 662a2.6 1 80 1 0 .9 5.1a2.6 1 80 1 0 -.9 -5.1M358.2 647a3 .9 124 1 0 -3.4 4.9a3 .9 124 1 0 3.4 -4.9M382.1 638.6a3.7 .7 56 1 0 4.2 6.1a3.7 .7 56 1 0 -4.2 -6.1M301.3 604.4a3.2 1.2 172 1 0 -6.3 .8a3.2 1.2 172 1 0 6.3 -.8M389.3 627.3a4.8 .6 10 1 0 9.5 1.6a4.8 .6 10 1 0 -9.5 -1.6M283 642a2.5 1.1 138 1 0 -3.7 3.3a2.5 1.1 138 1 0 3.7 -3.3M392.7 648.5a3.7 1.2 24 1 0 6.7 3a3.7 1.2 24 1 0 -6.7 -3M289.8 636.3a5.5 .9 7 1 0 10.8 1.4a5.5 .9 7 1 0 -10.8 -1.4M359.1 573a2.8 .6 97 1 0 -.7 5.5a2.8 .6 97 1 0 .7 -5.5M304.3 582.7a2.9 1 136 1 0 -4.1 4.1a2.9 1 136 1 0 4.1 -4.1M291.3 669.9a5.3 .9 19 1 0 10.1 3.5a5.3 .9 19 1 0 -10.1 -3.5M283.1 671.1a2.5 .7 57 1 0 2.8 4.2a2.5 .7 57 1 0 -2.8 -4.2M292.2 640.1a4.3 .8 135 1 0 -6 6.1a4.3 .8 135 1 0 6 -6.1M324.1 588.4a5.4 .9 3 1 0 10.9 .7a5.4 .9 3 1 0 -10.9 -.7M299.3 671.5a5.5 1 7 1 0 10.8 1.4a5.5 1 7 1 0 -10.8 -1.4M351.5 609.8a4.1 .6 5 1 0 8.2 .7a4.1 .6 5 1 0 -8.2 -.7M285.7 650.3a3.6 1.1 161 1 0 -6.8 2.3a3.6 1.1 161 1 0 6.8 -2.3M292.4 637.3a3 .8 87 1 0 .3 6a3 .8 87 1 0 -.3 -6M336.7 620.9a2.9 1.2 98 1 0 -.8 5.8a2.9 1.2 98 1 0 .8 -5.8M304.9 605a3.4 .9 153 1 0 -6.1 3.1a3.4 .9 153 1 0 6.1 -3.1M326.9 578.6a3.9 .7 98 1 0 -1.1 7.7a3.9 .7 98 1 0 1.1 -7.7M308.8 609.9a5.4 .8 111 1 0 -3.8 10.1a5.4 .8 111 1 0 3.8 -10.1M389.1 605.7a3.5 .7 107 1 0 -2.1 6.7a3.5 .7 107 1 0 2.1 -6.7M353.6 617.8a2.6 1.1 119 1 0 -2.5 4.6a2.6 1.1 119 1 0 2.5 -4.6M337.6 635.6a3.1 1 113 1 0 -2.4 5.6a3.1 1 113 1 0 2.4 -5.6M390.1 623.3a3.3 .8 21 1 0 6.2 2.4a3.3 .8 21 1 0 -6.2 -2.4M327.7 624.4a5.4 1.2 16 1 0 10.4 3a5.4 1.2 16 1 0 -10.4 -3M402.9 585.2a2.5 .7 124 1 0 -2.8 4.2a2.5 .7 124 1 0 2.8 -4.2M310.2 582.6a5.4 .7 0 1 0 10.8 0a5.4 .7 0 1 0 -10.8 -0"/>
<path fill="#e2c8e2" d="M290.5 601.6a3.7 .9 159 1 0 -6.9 2.7a3.7 .9 159 1 0 6.9 -2.7M395.3 643.4a4.6 .9 175 1 0 -9.2 .8a4.6 .9 175 1 0 9.2 -.8M373.9 590.8a5.1 .7 121 1 0 -5.3 8.8a5.1 .7 121 1 0 5.3 -8.8M380.2 618a4.6 1.2 96 1 0 -.9 9.1a4.6 1.2 96 1 0 .9 -9.1M271.8 616.6a4.5 1 27 1 0 8 4.1a4.5 1 27 1 0 -8 -4.1M384.2 654.1a3.6 1.2 112 1 0 -2.7 6.6a3.6 1.2 112 1 0 2.7 -6.6M295.6 654.9a5.4 .9 18 1 0 10.2 3.3a5.4 .9 18 1 0 -10.2 -3.3M334.4 608.4a3.9 1 5 1 0 7.7 .7a3.9 1 5 1 0 -7.7 -.7M380.8 646.1a3.5 .9 28 1 0 6.2 3.3a3.5 .9 28 1 0 -6.2 -3.3M289.7 618.6a3.7 1.2 90 1 0 -0 7.4a3.7 1.2 90 1 0 0 -7.4M353.7 578.4a2.5 1.1 53 1 0 3.1 4a2.5 1.1 53 1 0 -3.1 -4M347.1 605.2a3.9 .9 100 1 0 -1.4 7.7a3.9 .9 100 1 0 1.4 -7.7M309.6 578a5.3 .8 47 1 0 7.3 7.8a5.3 .8 47 1 0 -7.3 -7.8M270.7 580.4a4.8 1 7 1 0 9.6 1.1a4.8 1 7 1 0 -9.6 -1.1M301.5 599.5a2.5 .9 95 1 0 -.4 5a2.5 .9 95 1 0 .4 -5M367.4 589.8a4.5 .8 106 1 0 -2.4 8.6a4.5 .8 106 1 0 2.4 -8.6M386.2 616.6a2.7 .6 51 1 0 3.5 4.2a2.7 .6 51 1 0 -3.5 -4.2M369.5 597a3.6 .7 24 1 0 6.5 2.8a3.6 .7 24 1 0 -6.5 -2.8M389.8 642.1a5.5 1.1 172 1 0 -10.9 1.6a5.5 1.1 172 1 0 10.9 -1.6M315.7 667a3.6 .8 64 1 0 3.2 6.5a3.6 .8 64 1 0 -3.2 -6.5M389.2 601a2.6 1.1 58 1 0 2.8 4.4a2.6 1.1 58 1 0 -2.8 -4.4M384.2 604.7a4.1 1.1 120 1 0 -4.1 7.1a4.1 1.1 120 1 0 4.1 -7.1M375.1 651.7a3.1 1.2 142 1 0 -4.9 3.9a3.1 1.2 142 1 0 4.9 -3.9M399.6 603.3a3.5 .9 176 1 0 -7 .5a3.5 .9 176 1 0 7 -.5M318.3 669.9a3.2 .7 37 1 0 5.1 3.8a3.2 .7 37 1 0 -5.1 -3.8M316.2 671.2a3.1 1 19 1 0 5.9 2a3.1 1 19 1 0 -5.9 -2M314.6 627.7a4.5 .9 53 1 0 5.4 7.1a4.5 .9 53 1 0 -5.4 -7.1M317.2 616.1a3.7 1.2 160 1 0 -7.1 2.5a3.7 1.2 160 1 0 7.1 -2.5M405.1 638.6a4.6 .7 121 1 0 -4.6 7.8a4.6 .7 121 1 0 4.6 -7.8M325.7 628.7a5.4 1 20 1 0 10.2 3.6a5.4 1 20 1 0 -10.2 -3.6M355.4 606.7a3.6 .7 63 1 0 3.2 6.4a3.6 .7 63 1 0 -3.2 -6.4M359.3 641.7a3.3 .7 87 1 0 .3 6.6a3.3 .7 87 1 0 -.3 -6.6M398.1 633.1a4.1 1 79 1 0 1.6 8.1a4.1 1 79 1 0 -1.6 -8.1M342.1 603.2a3.9 1.1 132 1 0 -5.3 5.8a3.9 1.1 132 1 0 5.3 -5.8M341 585.3a4.2 .9 142 1 0 -6.6 5.1a4.2 .9 142 1 0 6.6 -5.1M327.3 635.1a2.7 1.1 134 1 0 -3.8 3.9a2.7 1.1 134 1 0 3.8 -3.9M353.8 642.7a5.1 1.1 8 1 0 10.1 1.4a5.1 1.1 8 1 0 -10.1 -1.4M342 573.6a3.1 .7 172 1 0 -6.2 .9a3.1 .7 172 1 0 6.2 -.9M312.1 628.5a3.8 .9 138 1 0 -5.7 5.1a3.8 .9 138 1 0 5.7 -5.1M391.6 670.4a3.7 .9 73 1 0 2.2 7.1a3.7 .9 73 1 0 -2.2 -7.1M366.6 615.3a2.9 .9 110 1 0 -2 5.4a2.9 .9 110 1 0 2 -5.4M279 574.8a5 .9 122 1 0 -5.4 8.5a5 .9 122 1 0 5.4 -8.5M340.1 603.7a2.8 1.1 90 1 0 0 5.6a2.8 1.1 90 1 0 -0 -5.6"/>
<path fill="#dcc0e0" d="M380 600.4a2.6 .7 70 1 0 1.8 4.9a2.6 .7 70 1 0 -1.8 -4.9M305.4 621.1a5.1 .8 22 1 0 9.5 3.9a5.1 .8 22 1 0 -9.5 -3.9M306.9 572.8a4 1.1 98 1 0 -1.1 8a4 1.1 98 1 0 1.1 -8M316.7 607.1a4.2 .8 23 1 0 7.7 3.2a4.2 .8 23 1 0 -7.7 -3.2M302.8 665.8a4.6 .7 63 1 0 4.2 8.2a4.6 .7 63 1 0 -4.2 -8.2M352.8 655.3a3.5 .8 117 1 0 -3.1 6.2a3.5 .8 117 1 0 3.1 -6.2M351 644a3.2 1 22 1 0 5.9 2.4a3.2 1 22 1 0 -5.9 -2.4M308.8 599.2a3 .6 159 1 0 -5.7 2.2a3 .6 159 1 0 5.7 -2.2M407.1 602.2a4.3 .9 107 1 0 -2.6 8.3a4.3 .9 107 1 0 2.6 -8.3M345.9 609a4.6 .9 39 1 0 7.2 5.8a4.6 .9 39 1 0 -7.2 -5.8M347.4 665.1a5.3 .8 144 1 0 -8.5 6.2a5.3 .8 144 1 0 8.5 -6.2M379.1 572.4a3.8 1.1 161 1 0 -7.1 2.4a3.8 1.1 161 1 0 7.1 -2.4M286.2 630a4.7 .9 35 1 0 7.7 5.4a4.7 .9 35 1 0 -7.7 -5.4M369.5 631.6a2.9 .7 121 1 0 -3 5a2.9 .7 121 1 0 3 -5M383.3 657.8a4.2 .9 43 1 0 6.2 5.7a4.2 .9 43 1 0 -6.2 -5.7M305.9 638.8a4.7 1 42 1 0 7 6.4a4.7 1 42 1 0 -7 -6.4M391.1 629.1a4.8 1.2 143 1 0 -7.7 5.9a4.8 1.2 143 1 0 7.7 -5.9M394.3 668.7a3.3 .8 157 1 0 -6 2.5a3.3 .8 157 1 0 6 -2.5M387.9 599a3.2 1.2 20 1 0 6 2.2a3.2 1.2 20 1 0 -6 -2.2M291.2 618.5a5.1 .9 101 1 0 -1.9 10.1a5.1 .9 101 1 0 1.9 -10.1M370.9 635.5a4.9 1 24 1 0 9.1 4a4.9 1 24 1 0 -9.1 -4M324.7 627.4a4 .8 43 1 0 5.8 5.4a4 .8 43 1 0 -5.8 -5.4M382.5 621.1a4.2 1 153 1 0 -7.5 3.9a4.2 1 153 1 0 7.5 -3.9M375 663.3a4 .8 69 1 0 2.8 7.6a4 .8 69 1 0 -2.8 -7.6M333.9 604.1a4 .8 167 1 0 -7.7 1.8a4 .8 167 1 0 7.7 -1.8M368.2 641.5a5.3 1.2 164 1 0 -10.1 2.9a5.3 1.2 164 1 0 10.1 -2.9M301.2 571.3a5.5 .7 170 1 0 -10.7 1.9a5.5 .7 170 1 0 10.7 -1.9M336.9 640.5a3.1 .7 101 1 0 -1.2 6.1a3.1 .7 101 1 0 1.2 -6.1M379.7 599.1a3.8 1 140 1 0 -5.8 4.9a3.8 1 140 1 0 5.8 -4.9M403.7 651a3.3 1 117 1 0 -3 5.8a3.3 1 117 1 0 3 -5.8M371.6 629.1a3.8 .9 97 1 0 -1 7.6a3.8 .9 97 1 0 1 -7.6M363.9 646.9a3.6 .9 167 1 0 -7 1.7a3.6 .9 167 1 0 7 -1.7M345.1 649a2.9 .8 163 1 0 -5.6 1.7a2.9 .8 163 1 0 5.6 -1.7M309 602.9a5.3 1.2 102 1 0 -2.2 10.5a5.3 1.2 102 1 0 2.2 -10.5"/>
<path fill="#2e2844" d="M398.3 592a1 .6 55 1 0 1.1 1.6a1 .6 55 1 0 -1.1 -1.6M336.4 612.8a1.5 .7 54 1 0 1.7 2.4a1.5 .7 54 1 0 -1.7 -2.4M372.6 623.1a1.3 .7 158 1 0 -2.5 1a1.3 .7 158 1 0 2.5 -1M400.2 637.6a.9 .7 0 1 0 -1.7 0a.9 .7 0 1 0 1.7 -0M306.4 626.8a1.1 .7 69 1 0 .8 2a1.1 .7 69 1 0 -.8 -2M353.8 622.2a.9 .6 91 1 0 -0 1.8a.9 .6 91 1 0 0 -1.8M300.4 655.3a1.4 .8 131 1 0 -1.9 2.2a1.4 .8 131 1 0 1.9 -2.2M367.8 593.6a.9 .6 127 1 0 -1.1 1.5a.9 .6 127 1 0 1.1 -1.5M308.2 603.2a.9 .8 11 1 0 1.7 .3a.9 .8 11 1 0 -1.7 -.3M406.6 599.4a1.3 .8 126 1 0 -1.5 2a1.3 .8 126 1 0 1.5 -2M378 667.5a1 .8 41 1 0 1.4 1.3a1 .8 41 1 0 -1.4 -1.3M313 601.7a1.2 .9 1 1 0 2.5 0a1.2 .9 1 1 0 -2.5 -0M326.7 655.2a1 .8 146 1 0 -1.7 1.1a1 .8 146 1 0 1.7 -1.1M322.9 627.9a1.4 .9 127 1 0 -1.6 2.2a1.4 .9 127 1 0 1.6 -2.2M300.1 658a.9 .7 53 1 0 1.1 1.4a.9 .7 53 1 0 -1.1 -1.4M404.5 584.4a1.5 .8 77 1 0 .7 2.9a1.5 .8 77 1 0 -.7 -2.9M294.3 572.4a.9 1 21 1 0 1.7 .7a.9 1 21 1 0 -1.7 -.7M377.9 619.5a1.2 .8 22 1 0 2.2 .9a1.2 .8 22 1 0 -2.2 -.9M334.8 660.2a1.1 .9 173 1 0 -2.3 .3a1.1 .9 173 1 0 2.3 -.3M309.7 630.9a1.4 .8 173 1 0 -2.9 .4a1.4 .8 173 1 0 2.9 -.4M298.4 583.4a1 .9 74 1 0 .6 1.9a1 .9 74 1 0 -.6 -1.9M339.2 608.5a1.4 .9 116 1 0 -1.2 2.4a1.4 .9 116 1 0 1.2 -2.4M401.2 636.8a.9 .7 21 1 0 1.6 .6a.9 .7 21 1 0 -1.6 -.6M314 585.6a.9 1 144 1 0 -1.4 1a.9 1 144 1 0 1.4 -1M276.7 664.9a1.1 1 23 1 0 2 .8a1.1 1 23 1 0 -2 -.8M370.9 647.5a1.5 .9 50 1 0 1.9 2.3a1.5 .9 50 1 0 -1.9 -2.3M318.8 633.4a1.1 .9 101 1 0 -.4 2.2a1.1 .9 101 1 0 .4 -2.2M397.7 653.7a1 1 71 1 0 .6 1.9a1 1 71 1 0 -.6 -1.9M315.9 647a1 .9 14 1 0 2 .5a1 .9 14 1 0 -2 -.5M373.9 600a1.1 .7 93 1 0 -.1 2.3a1.1 .7 93 1 0 .1 -2.3M335.4 658.7a.9 .9 122 1 0 -1 1.6a.9 .9 122 1 0 1 -1.6M293.9 617.8a1.4 .6 60 1 0 1.4 2.4a1.4 .6 60 1 0 -1.4 -2.4M281 600.9a1.2 .7 156 1 0 -2.2 1a1.2 .7 156 1 0 2.2 -1M404.8 573.3a1.2 .9 4 1 0 2.4 .2a1.2 .9 4 1 0 -2.4 -.2M395 585.9a.9 .9 48 1 0 1.2 1.4a.9 .9 48 1 0 -1.2 -1.4M298.8 651.4a1.2 .9 18 1 0 2.2 .7a1.2 .9 18 1 0 -2.2 -.7"/>
<path fill="#3a3050" d="M292.5 573.4a1.4 .8 109 1 0 -.9 2.7a1.4 .8 109 1 0 .9 -2.7M324.2 646a1.1 .8 25 1 0 1.9 .9a1.1 .8 25 1 0 -1.9 -.9M295.9 665.3a1.1 .8 61 1 0 1 1.9a1.1 .8 61 1 0 -1 -1.9M316.6 607.9a.9 .9 171 1 0 -1.8 .3a.9 .9 171 1 0 1.8 -.3M281.1 583.5a1.4 .6 50 1 0 1.9 2.2a1.4 .6 50 1 0 -1.9 -2.2M354.3 597.7a1.1 .8 168 1 0 -2.2 .5a1.1 .8 168 1 0 2.2 -.5M295.1 641a1.4 .9 154 1 0 -2.4 1.2a1.4 .9 154 1 0 2.4 -1.2M362.8 613.6a1.2 1 74 1 0 .7 2.3a1.2 1 74 1 0 -.7 -2.3M362.5 618a1.3 .6 125 1 0 -1.5 2.2a1.3 .6 125 1 0 1.5 -2.2M372.9 577.1a1.5 1 156 1 0 -2.7 1.2a1.5 1 156 1 0 2.7 -1.2M301.1 582.1a1.4 .7 57 1 0 1.6 2.4a1.4 .7 57 1 0 -1.6 -2.4M394.8 586a1 .8 36 1 0 1.7 1.2a1 .8 36 1 0 -1.7 -1.2M282.4 588.2a.8 .9 147 1 0 -1.4 .9a.8 .9 147 1 0 1.4 -.9M364.9 574.6a1.4 .8 46 1 0 2 2.1a1.4 .8 46 1 0 -2 -2.1M344.9 590.8a1.3 .8 123 1 0 -1.4 2.1a1.3 .8 123 1 0 1.4 -2.1M330.9 591.6a1 .7 173 1 0 -2 .2a1 .7 173 1 0 2 -.2M309.4 667.5a.9 1 145 1 0 -1.4 1a.9 1 145 1 0 1.4 -1M301.1 626.4a1.4 .8 97 1 0 -.4 2.8a1.4 .8 97 1 0 .4 -2.8M277.1 587.1a.9 .8 105 1 0 -.4 1.7a.9 .8 105 1 0 .4 -1.7M282.8 577.2a1.2 .8 129 1 0 -1.6 1.9a1.2 .8 129 1 0 1.6 -1.9M382.3 668.9a1.4 .8 22 1 0 2.7 1.1a1.4 .8 22 1 0 -2.7 -1.1M314 580.6a.8 1 131 1 0 -1.1 1.3a.8 1 131 1 0 1.1 -1.3M341.4 639.8a1.3 .9 153 1 0 -2.4 1.2a1.3 .9 153 1 0 2.4 -1.2M379.7 657.7a.9 .9 44 1 0 1.3 1.2a.9 .9 44 1 0 -1.3 -1.2M306.7 636.6a1.4 .7 131 1 0 -1.8 2.2a1.4 .7 131 1 0 1.8 -2.2M388.5 573.3a1.4 .7 54 1 0 1.6 2.3a1.4 .7 54 1 0 -1.6 -2.3M333.3 625.6a1.3 .8 170 1 0 -2.5 .4a1.3 .8 170 1 0 2.5 -.4M379 625.2a1.1 .6 144 1 0 -1.8 1.3a1.1 .6 144 1 0 1.8 -1.3M312.3 636.4a1.4 .7 81 1 0 .4 2.7a1.4 .7 81 1 0 -.4 -2.7M402.9 654.1a1 .7 113 1 0 -.8 1.9a1 .7 113 1 0 .8 -1.9M310.8 607.4a1.4 .7 122 1 0 -1.5 2.4a1.4 .7 122 1 0 1.5 -2.4M312.7 636a.8 .9 51 1 0 1 1.3a.8 .9 51 1 0 -1 -1.3M279.6 630.8a1.4 .7 119 1 0 -1.4 2.5a1.4 .7 119 1 0 1.4 -2.5M328.2 620.2a1 .7 102 1 0 -.4 1.9a1 .7 102 1 0 .4 -1.9M312.9 600a1.4 1 67 1 0 1.1 2.6a1.4 1 67 1 0 -1.1 -2.6M307 614.5a1.2 .7 91 1 0 -0 2.3a1.2 .7 91 1 0 0 -2.3M382 588.1a1.4 .8 163 1 0 -2.7 .8a1.4 .8 163 1 0 2.7 -.8M333.5 668a1.2 .6 46 1 0 1.6 1.7a1.2 .6 46 1 0 -1.6 -1.7M366.1 570.8a1.2 .6 21 1 0 2.2 .9a1.2 .6 21 1 0 -2.2 -.9M301.6 652a.8 1 102 1 0 -.4 1.6a.8 1 102 1 0 .4 -1.6M282.5 569.9a1.4 .8 101 1 0 -.5 2.7a1.4 .8 101 1 0 .5 -2.7"/>
<path fill="#4a3a60" d="M346.7 624.8a1.4 .7 60 1 0 1.4 2.4a1.4 .7 60 1 0 -1.4 -2.4M377.2 659.4a1.3 .8 67 1 0 1 2.3a1.3 .8 67 1 0 -1 -2.3M341.7 630.5a1.1 .7 26 1 0 2 1a1.1 .7 26 1 0 -2 -1M374.5 643.9a1.3 .8 19 1 0 2.4 .8a1.3 .8 19 1 0 -2.4 -.8M365.9 654.7a1.3 .8 59 1 0 1.4 2.3a1.3 .8 59 1 0 -1.4 -2.3M384.9 591.5a1.3 .6 60 1 0 1.3 2.3a1.3 .6 60 1 0 -1.3 -2.3M388.8 632a1.1 1 89 1 0 .1 2.3a1.1 1 89 1 0 -.1 -2.3M398.1 596.8a1.4 .9 58 1 0 1.5 2.4a1.4 .9 58 1 0 -1.5 -2.4M374.6 649.4a1.1 .9 80 1 0 .4 2.1a1.1 .9 80 1 0 -.4 -2.1M311.3 671.7a.9 .8 165 1 0 -1.7 .4a.9 .8 165 1 0 1.7 -.4M325 632.5a.9 .7 133 1 0 -1.2 1.3a.9 .7 133 1 0 1.2 -1.3M303.9 585.7a1.3 .7 123 1 0 -1.4 2.2a1.3 .7 123 1 0 1.4 -2.2M350.6 583a1.4 1 166 1 0 -2.7 .7a1.4 1 166 1 0 2.7 -.7M332.3 672.4a1.5 .8 131 1 0 -1.9 2.2a1.5 .8 131 1 0 1.9 -2.2M364.2 634.4a1.1 .6 129 1 0 -1.3 1.6a1.1 .6 129 1 0 1.3 -1.6M284.3 669.8a1.3 1 80 1 0 .4 2.5a1.3 1 80 1 0 -.4 -2.5M406.4 661.8a1.3 .8 143 1 0 -2.1 1.6a1.3 .8 143 1 0 2.1 -1.6M314.2 614.1a1.2 1 166 1 0 -2.4 .6a1.2 1 166 1 0 2.4 -.6M384.3 649.6a1.3 .7 54 1 0 1.5 2.1a1.3 .7 54 1 0 -1.5 -2.1M292.8 574.5a1 .8 10 1 0 1.9 .3a1 .8 10 1 0 -1.9 -.3M365.1 621.5a1.2 1 172 1 0 -2.4 .3a1.2 1 172 1 0 2.4 -.3M395 591a1.3 .7 94 1 0 -.2 2.5a1.3 .7 94 1 0 .2 -2.5M303.3 633.1a1.3 1 170 1 0 -2.5 .4a1.3 1 170 1 0 2.5 -.4M376.4 618.3a1.3 .9 140 1 0 -1.9 1.6a1.3 .9 140 1 0 1.9 -1.6M291.7 616.8a.9 .7 41 1 0 1.4 1.2a.9 .7 41 1 0 -1.4 -1.2M288.4 609.3a1.4 .7 116 1 0 -1.2 2.5a1.4 .7 116 1 0 1.2 -2.5M276.9 624.6a1.2 .6 97 1 0 -.3 2.4a1.2 .6 97 1 0 .3 -2.4M382.9 625a1.1 .8 79 1 0 .4 2.2a1.1 .8 79 1 0 -.4 -2.2M403.5 618a1.1 1 83 1 0 .3 2.1a1.1 1 83 1 0 -.3 -2.1M303.2 627a1 .8 74 1 0 .6 1.9a1 .8 74 1 0 -.6 -1.9M316.2 591.3a1.3 .7 5 1 0 2.7 .2a1.3 .7 5 1 0 -2.7 -.2M283.4 570.4a1.5 .6 148 1 0 -2.5 1.5a1.5 .6 148 1 0 2.5 -1.5M399 659.1a1 .7 153 1 0 -1.8 .9a1 .7 153 1 0 1.8 -.9M402 612.7a1 .9 98 1 0 -.3 2.1a1 .9 98 1 0 .3 -2.1M363 600.9a1.3 .7 60 1 0 1.3 2.3a1.3 .7 60 1 0 -1.3 -2.3M326.4 655.1a.9 .8 157 1 0 -1.7 .7a.9 .8 157 1 0 1.7 -.7M307.3 654a.9 .7 90 1 0 -0 1.7a.9 .7 90 1 0 0 -1.7M277.7 622.9a1.4 .9 87 1 0 .1 2.8a1.4 .9 87 1 0 -.1 -2.8M298.7 625.8a1.3 .7 96 1 0 -.3 2.6a1.3 .7 96 1 0 .3 -2.6"/>
<path fill="#5a4a70" d="M329.6 624.9a.8 .9 41 1 0 1.2 1.1a.8 .9 41 1 0 -1.2 -1.1M387.4 618.4a1.3 .7 128 1 0 -1.6 2a1.3 .7 128 1 0 1.6 -2M395.9 605.9a1.3 .7 109 1 0 -.9 2.5a1.3 .7 109 1 0 .9 -2.5M345.5 578.9a1 .9 75 1 0 .5 1.9a1 .9 75 1 0 -.5 -1.9M323.2 594.4a.9 1 152 1 0 -1.7 .9a.9 1 152 1 0 1.7 -.9M372.5 667.3a1.1 .8 171 1 0 -2.3 .3a1.1 .8 171 1 0 2.3 -.3M280 622.1a1.5 .9 63 1 0 1.3 2.6a1.5 .9 63 1 0 -1.3 -2.6M289.1 637.9a1 .6 136 1 0 -1.5 1.5a1 .6 136 1 0 1.5 -1.5M336 610.3a1.3 .9 51 1 0 1.6 2a1.3 .9 51 1 0 -1.6 -2M384.4 622.6a1.3 .9 113 1 0 -1.1 2.4a1.3 .9 113 1 0 1.1 -2.4M291.1 635.4a1.1 .6 73 1 0 .6 2.1a1.1 .6 73 1 0 -.6 -2.1M373.9 616.8a1.4 .8 138 1 0 -2 1.8a1.4 .8 138 1 0 2 -1.8M395.7 603.2a.8 .8 175 1 0 -1.6 .1a.8 .8 175 1 0 1.6 -.1M395 591a1.5 .6 109 1 0 -1 2.8a1.5 .6 109 1 0 1 -2.8M287.6 647.1a1.3 .6 48 1 0 1.8 2a1.3 .6 48 1 0 -1.8 -2M333.2 667.5a1.2 .8 30 1 0 2 1.2a1.2 .8 30 1 0 -2 -1.2M279.4 582a1 .7 159 1 0 -1.9 .7a1 .7 159 1 0 1.9 -.7M391 663.8a.9 .8 107 1 0 -.5 1.8a.9 .8 107 1 0 .5 -1.8M351.7 594a1.1 .7 147 1 0 -1.8 1.2a1.1 .7 147 1 0 1.8 -1.2M340.6 571.5a1 .9 80 1 0 .4 1.9a1 .9 80 1 0 -.4 -1.9M383.7 581.7a1.3 .8 25 1 0 2.3 1.1a1.3 .8 25 1 0 -2.3 -1.1M303.2 594.5a1 1 28 1 0 1.8 1a1 1 28 1 0 -1.8 -1M359.8 642.4a1.3 .7 38 1 0 2.1 1.6a1.3 .7 38 1 0 -2.1 -1.6"/>
<path fill="#6a5a80" d="M338 618.1a1.1 .8 63 1 0 1.1 2a1.1 .8 63 1 0 -1.1 -2M373.9 582.7a1.2 .8 47 1 0 1.6 1.7a1.2 .8 47 1 0 -1.6 -1.7M351.6 621.3a1.1 .9 26 1 0 1.9 .9a1.1 .9 26 1 0 -1.9 -.9M400.1 577.1a1.2 .6 96 1 0 -.2 2.3a1.2 .6 96 1 0 .2 -2.3M346.1 604.5a1.5 1 119 1 0 -1.5 2.6a1.5 1 119 1 0 1.5 -2.6M364.1 577.8a1.2 .9 26 1 0 2.2 1.1a1.2 .9 26 1 0 -2.2 -1.1M333.7 611.2a1.4 .7 4 1 0 2.8 .2a1.4 .7 4 1 0 -2.8 -.2M360.7 610.7a1.3 .8 156 1 0 -2.4 1.1a1.3 .8 156 1 0 2.4 -1.1M326 623.1a1.1 .6 140 1 0 -1.7 1.4a1.1 .6 140 1 0 1.7 -1.4M339.4 620.6a1.5 .7 160 1 0 -2.8 1a1.5 .7 160 1 0 2.8 -1M349.6 587.1a1.2 .6 22 1 0 2.3 .9a1.2 .6 22 1 0 -2.3 -.9M322.9 660.2a1.1 .9 121 1 0 -1.2 1.9a1.1 .9 121 1 0 1.2 -1.9M319.9 587.5a.8 .7 144 1 0 -1.3 .9a.8 .7 144 1 0 1.3 -.9M301 634a.9 .6 82 1 0 .3 1.8a.9 .6 82 1 0 -.3 -1.8M345.3 587.7a1.2 .7 167 1 0 -2.3 .5a1.2 .7 167 1 0 2.3 -.5M397.3 573.4a1.4 .6 164 1 0 -2.7 .8a1.4 .6 164 1 0 2.7 -.8M385.5 614.5a1.3 .7 32 1 0 2.1 1.3a1.3 .7 32 1 0 -2.1 -1.3M404.5 625.2a1.5 .9 87 1 0 .2 3a1.5 .9 87 1 0 -.2 -3M288.7 571.7a.9 .7 107 1 0 -.5 1.6a.9 .7 107 1 0 .5 -1.6M319.3 627.7a1.2 .7 178 1 0 -2.4 .1a1.2 .7 178 1 0 2.4 -.1M286.8 647.6a1.2 .7 66 1 0 1 2.2a1.2 .7 66 1 0 -1 -2.2M306.7 588a1.2 .9 24 1 0 2.2 1a1.2 .9 24 1 0 -2.2 -1M310.6 572.8a1.3 .9 149 1 0 -2.2 1.3a1.3 .9 149 1 0 2.2 -1.3M298.8 659.9a1.4 1 19 1 0 2.6 .9a1.4 1 19 1 0 -2.6 -.9M393.5 590.1a1 .7 135 1 0 -1.4 1.4a1 .7 135 1 0 1.4 -1.4M370 643.6a1.1 .7 94 1 0 -.2 2.1a1.1 .7 94 1 0 .2 -2.1M360.7 637.5a.9 .8 163 1 0 -1.8 .5a.9 .8 163 1 0 1.8 -.5M370.2 608.9a1 .8 123 1 0 -1.1 1.8a1 .8 123 1 0 1.1 -1.8M302.7 616.2a1.1 1 24 1 0 2 .9a1.1 1 24 1 0 -2 -.9M323 599.6a.9 .8 84 1 0 .2 1.7a.9 .8 84 1 0 -.2 -1.7M346.1 578.7a1.1 .9 132 1 0 -1.4 1.6a1.1 .9 132 1 0 1.4 -1.6"/>
<path fill="#a05a18" d="M345.4 594a1.6 1.3 86 1 0 .2 3.1a1.6 1.3 86 1 0 -.2 -3.1M343.2 590.9a1.5 1.3 51 1 0 1.8 2.3a1.5 1.3 51 1 0 -1.8 -2.3M342.7 594.5a1.6 1 53 1 0 1.9 2.6a1.6 1 53 1 0 -1.9 -2.6M339.1 597.8a1.5 1.4 24 1 0 2.7 1.2a1.5 1.4 24 1 0 -2.7 -1.2"/>
<path fill="#8a4a14" d="M343.1 596.2a1.5 1.5 169 1 0 -2.9 .6a1.5 1.5 169 1 0 2.9 -.6M347.5 593.8a1.2 1.1 71 1 0 .8 2.3a1.2 1.1 71 1 0 -.8 -2.3M347.9 592.6a1.1 1.1 100 1 0 -.4 2.2a1.1 1.1 100 1 0 .4 -2.2M344.4 595.3a1.6 1.3 163 1 0 -3.1 .9a1.6 1.3 163 1 0 3.1 -.9M344.7 595.3a1.1 1 13 1 0 2.2 .5a1.1 1 13 1 0 -2.2 -.5M343.9 593.1a1.5 1.3 61 1 0 1.5 2.7a1.5 1.3 61 1 0 -1.5 -2.7M342.1 600.9a1.1 .9 1 1 0 2.3 0a1.1 .9 1 1 0 -2.3 -0M341.1 600.2a1.4 1.3 133 1 0 -1.9 2a1.4 1.3 133 1 0 1.9 -2M342.1 594.6a1.4 1.2 101 1 0 -.6 2.8a1.4 1.2 101 1 0 .6 -2.8"/>
<path fill="#7a3a10" d="M340.3 594.7a1 .7 56 1 0 1.1 1.7a1 .7 56 1 0 -1.1 -1.7M340.8 597a1.3 1 174 1 0 -2.6 .3a1.3 1 174 1 0 2.6 -.3M342.6 593.1a1.7 1.6 100 1 0 -.6 3.4a1.7 1.6 100 1 0 .6 -3.4M343.1 600.8a1.1 .8 54 1 0 1.3 1.8a1.1 .8 54 1 0 -1.3 -1.8M344.5 598.9a1.1 .9 154 1 0 -1.9 .9a1.1 .9 154 1 0 1.9 -.9M340.3 602.5a1.1 1 9 1 0 2.1 .3a1.1 1 9 1 0 -2.1 -.3M342.6 591.4a1.3 1.1 66 1 0 1 2.4a1.3 1.1 66 1 0 -1 -2.4M345.2 595.5a1.2 1.1 53 1 0 1.5 2a1.2 1.1 53 1 0 -1.5 -2M347.2 592.7a1.5 1.1 79 1 0 .6 2.9a1.5 1.1 79 1 0 -.6 -2.9"/>
<path fill="#c07020" d="M341.1 596.2a1.3 1 143 1 0 -2 1.5a1.3 1 143 1 0 2 -1.5M346.4 592.2a1.4 1.2 117 1 0 -1.3 2.6a1.4 1.2 117 1 0 1.3 -2.6M346.4 594.5a1.2 1 97 1 0 -.3 2.4a1.2 1 97 1 0 .3 -2.4M344.6 599.1a1.6 1.6 178 1 0 -3.2 .1a1.6 1.6 178 1 0 3.2 -.1"/>
<path fill="#6a3010" d="M345 599a1.4 1.1 77 1 0 .6 2.7a1.4 1.1 77 1 0 -.6 -2.7M342.1 591.1a1.4 1.2 38 1 0 2.2 1.7a1.4 1.2 38 1 0 -2.2 -1.7M341 595.6a1.8 1.5 109 1 0 -1.2 3.4a1.8 1.5 109 1 0 1.2 -3.4M344.1 597.7a1.3 1.2 109 1 0 -.8 2.4a1.3 1.2 109 1 0 .8 -2.4"/>
</g></g>
<rect x="279.9" y="575.5" width="121.0" height="94.39999999999998" fill="none" stroke="#3a3a3a" stroke-width="1"/>
<text x="214.30" y="568.90" font-size="9.8" font-weight="bold" text-anchor="middle" fill="#111" >Vehicle</text>
<text x="337.50" y="568.70" font-size="9.8" font-weight="bold" text-anchor="middle" fill="#111" >CBD</text>
<path d="M0.5 0 V723 M0 0.5 H520 M518.5 0 V723 M519.5 0 V723 M0 721.5 H520 M0 722.5 H520" stroke="#6a7878" stroke-width="1"/>
</svg>
</body></html>
